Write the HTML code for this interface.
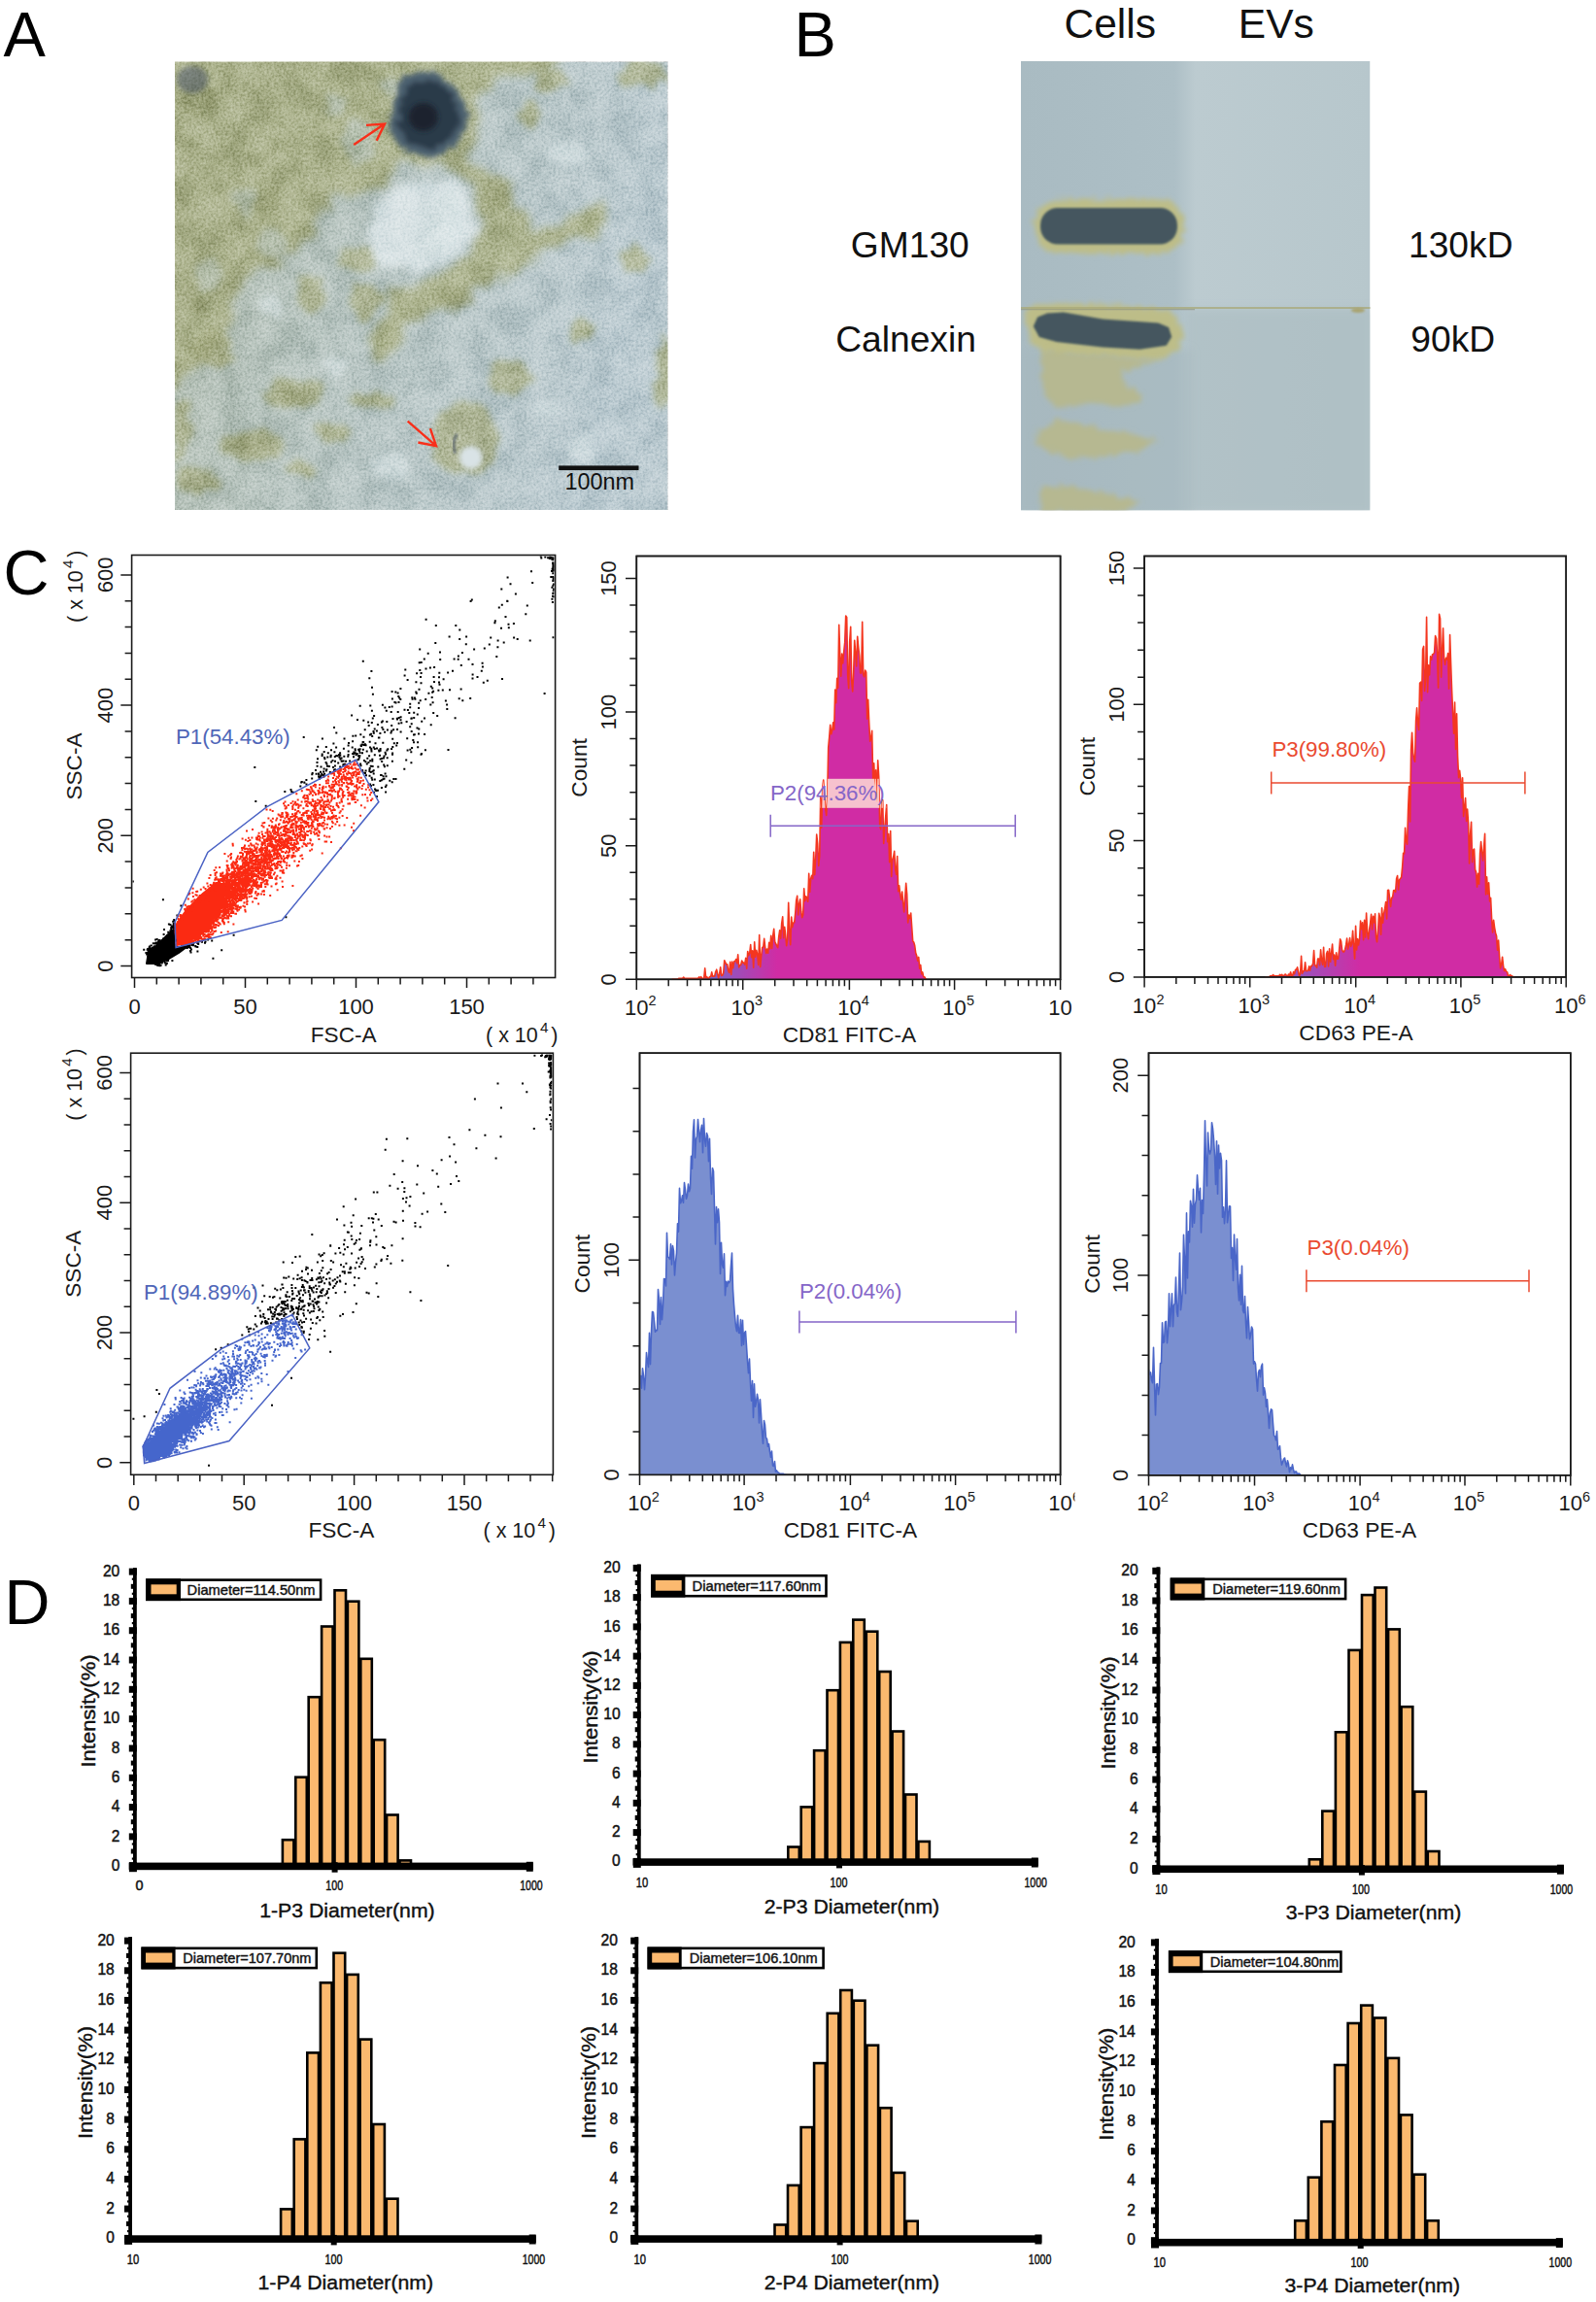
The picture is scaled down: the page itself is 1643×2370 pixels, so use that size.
<!DOCTYPE html>
<html lang="en"><head><meta charset="utf-8"><title>Figure</title>
<style>
html,body{margin:0;padding:0;background:#fff;}
svg{display:block;font-family:"Liberation Sans", Arial, Helvetica, sans-serif;}
</style></head>
<body>
<svg width="1643" height="2370" viewBox="0 0 1643 2370">
<defs>
<clipPath id="ca"><rect x="180" y="63.5" width="507.5" height="461.5"/></clipPath>
<filter id="b9" x="-20%" y="-20%" width="140%" height="140%"><feGaussianBlur stdDeviation="7"/></filter>
<filter id="b5" x="-20%" y="-20%" width="140%" height="140%"><feGaussianBlur stdDeviation="4.5"/></filter>
<filter id="b3" x="-20%" y="-20%" width="140%" height="140%"><feGaussianBlur stdDeviation="2.6"/></filter>
<filter id="b1" x="-20%" y="-20%" width="140%" height="140%"><feGaussianBlur stdDeviation="1.2"/></filter>
<filter id="d9" x="-10%" y="-10%" width="120%" height="120%"><feTurbulence type="fractalNoise" baseFrequency="0.045" numOctaves="3" seed="3" result="t"/><feDisplacementMap in="SourceGraphic" in2="t" scale="30" xChannelSelector="R" yChannelSelector="G" result="d"/><feGaussianBlur in="d" stdDeviation="4.2"/></filter>
<filter id="d5" x="-20%" y="-20%" width="140%" height="140%"><feTurbulence type="fractalNoise" baseFrequency="0.06" numOctaves="3" seed="8" result="t"/><feDisplacementMap in="SourceGraphic" in2="t" scale="20" xChannelSelector="G" yChannelSelector="R" result="d"/><feGaussianBlur in="d" stdDeviation="3.4"/></filter>
<filter id="d3" x="-20%" y="-20%" width="140%" height="140%"><feTurbulence type="fractalNoise" baseFrequency="0.2" numOctaves="2" seed="5" result="t"/><feDisplacementMap in="SourceGraphic" in2="t" scale="12" xChannelSelector="R" yChannelSelector="G" result="d"/><feGaussianBlur in="d" stdDeviation="2.4"/></filter>
<filter id="b14" x="-30%" y="-30%" width="160%" height="160%"><feGaussianBlur stdDeviation="12"/></filter>
<filter id="nz" x="0" y="0" width="100%" height="100%" color-interpolation-filters="sRGB"><feTurbulence type="fractalNoise" baseFrequency="0.4" numOctaves="2" seed="4" result="t"/><feColorMatrix in="t" type="matrix" values="1.6 0 0 0 -0.32  1.6 0 0 0 -0.32  1.6 0 0 0 -0.32  0 0 0 0 1"/></filter>
<filter id="nz2" x="0" y="0" width="100%" height="100%" color-interpolation-filters="sRGB"><feTurbulence type="fractalNoise" baseFrequency="0.035" numOctaves="3" seed="9" result="t"/><feColorMatrix in="t" type="matrix" values="2.2 0 0 0 -0.62  2.2 0 0 0 -0.62  2.2 0 0 0 -0.62  0 0 0 0 1"/></filter>
<linearGradient id="gw" x1="0" y1="0" x2="1" y2="0.25"><stop offset="0" stop-color="#a9ae86" stop-opacity="0.42"/><stop offset="0.55" stop-color="#a9ae86" stop-opacity="0.16"/><stop offset="1" stop-color="#a9ae86" stop-opacity="0"/></linearGradient>
<clipPath id="cb"><rect x="1051" y="63" width="359.5" height="462.5"/></clipPath>
<linearGradient id="gb" x1="0" y1="0" x2="1" y2="0"><stop offset="0" stop-color="#a9bbc2"/><stop offset="0.44" stop-color="#adbfc6"/><stop offset="0.5" stop-color="#bccbd0"/><stop offset="1" stop-color="#b7c7cc"/></linearGradient>
<clipPath id="cs1"><rect x="136.6" y="572.5" width="434" height="433"/></clipPath>
<clipPath id="cs4"><rect x="135.6" y="1085.2" width="432.8" height="432.1"/></clipPath>
<clipPath id="cl2"><rect x="600" y="1010" width="503.5" height="50"/></clipPath>
<clipPath id="ch2"><rect x="656.1" y="572.5" width="434.7" height="435.8"/></clipPath>
<linearGradient id="g2" gradientUnits="userSpaceOnUse" x1="730" y1="0" x2="800" y2="0"><stop offset="0" stop-color="#7d62c6"/><stop offset="1" stop-color="#d02ca4"/></linearGradient>
<clipPath id="ch2h"><path d="M691.7 1008.3L691.7 1008.3L692.7 1008.3L693.7 1008.3L694.7 1008.3L695.7 1008.3L696.7 1008.3L697.7 1008.3L698.7 1007.2L699.7 1007.2L700.7 1007.2L701.7 1007.2L702.7 1007.2L703.7 1006L704.7 1007.2L705.7 1007.2L706.7 1007.2L707.7 1007.2L708.7 1007.2L709.7 1007.2L710.7 1007.2L711.7 1007.2L712.7 1007.2L713.7 1007.2L714.7 1007.2L715.7 1007.2L716.7 1007.2L717.7 1007.2L718.7 1007.2L719.7 1005.8L720.7 1007.2L721.7 1005.7L722.7 1007.2L723.7 1007.2L724.7 1007.2L725.7 996.9L726.7 1007.2L727.7 1005.6L728.7 1007.2L729.7 1007.2L730.7 1005.5L731.7 1005.4L732.7 1000.9L733.7 1005.2L734.7 1005.1L735.7 1005L736.7 1000.5L737.7 998.2L738.7 1002.5L739.7 1006.9L740.7 1002.4L741.7 995.7L742.7 1004.4L743.7 1004.3L744.7 1002L745.7 988.7L746.7 990.8L747.7 992.9L748.7 992.8L749.7 999.3L750.7 1001.4L751.7 990.3L752.7 1003.4L753.7 990.1L754.7 996.6L755.7 989.9L756.7 989.8L757.7 987.5L758.7 991.8L759.7 982.8L760.7 995.9L761.7 993.6L762.7 993.5L763.7 989L764.7 991.1L765.7 991L766.7 993.1L767.7 986.3L768.7 997.2L769.7 979.5L770.7 983.8L771.7 981.4L772.7 972.5L773.7 985.6L774.7 978.8L775.7 996.3L776.7 969.8L777.7 985.1L778.7 978.3L779.7 982.6L780.7 993.5L781.7 962.5L782.7 995.4L783.7 984.3L784.7 975.4L785.7 975.3L786.7 966.4L787.7 975.1L788.7 981.5L789.7 977L790.7 981.3L791.7 970.2L792.7 976.7L793.7 963.4L794.7 976.5L795.7 963.2L796.7 956.4L797.7 969.5L798.7 971.6L799.7 973.7L800.7 975.7L801.7 964.5L802.7 957.7L803.7 966.2L804.7 950.6L805.7 943.8L806.7 965.6L807.7 954.3L808.7 962.9L809.7 973.7L810.7 966.9L811.7 929.2L812.7 957.6L813.7 972.8L814.7 944L815.7 954.7L816.7 950.1L817.7 949.8L818.7 940.7L819.7 927.1L820.7 922.4L821.7 941.9L822.7 930.5L823.7 925.8L824.7 938.5L825.7 944.6L826.7 941.9L827.7 914.9L828.7 927.7L829.7 922.7L830.7 924.4L831.7 928.3L832.7 899.2L833.7 918.5L834.7 904.4L835.7 901.2L836.7 904.7L837.7 877.3L838.7 900.6L839.7 884.2L840.7 859L841.7 868.6L842.7 891.5L843.7 881.3L844.7 820.5L845.7 852.2L846.7 811.2L847.7 803.1L848.7 818.9L849.7 832.4L850.7 839.4L851.7 820L852.7 769.7L853.7 759L854.7 746.4L855.7 755.8L856.7 752.1L857.7 743.9L858.7 751.1L859.7 710L860.7 723.8L861.7 698.4L862.7 708.3L863.7 643.3L864.7 673L865.7 696.1L866.7 673L867.7 682.9L868.7 671L869.7 661.4L870.7 634.1L871.7 635.4L872.7 695.1L873.7 708.6L874.7 660.5L875.7 645.3L876.7 700.7L877.7 712L878.7 692.3L879.7 659.3L880.7 672.6L881.7 685.9L882.7 655.2L883.7 666.3L884.7 675.2L885.7 692.9L886.7 693L887.7 640.2L888.7 694.7L889.7 696.8L890.7 690.1L891.7 692.1L892.7 740.3L893.7 720.3L894.7 744.2L895.7 763.1L896.7 760L897.7 752.4L898.7 802.1L899.7 785.8L900.7 809L901.7 792.8L902.7 825.2L903.7 782.9L904.7 799.9L905.7 850L906.7 853.8L907.7 824.7L908.7 823.7L909.7 868.4L910.7 853.6L911.7 841.1L912.7 828.6L913.7 866.7L914.7 858.5L915.7 887.8L916.7 855.5L917.7 902.4L918.7 885.5L919.7 882.1L920.7 876.4L921.7 895L922.7 900.4L923.7 881.5L924.7 917.7L925.7 911.8L926.7 921.2L927.7 926.2L928.7 918L929.7 929.5L930.7 938.9L931.7 924.1L932.7 909.2L933.7 920.8L934.7 950L935.7 942L936.7 945.5L937.7 940.1L938.7 954.5L939.7 968.9L940.7 970.1L941.7 973.5L942.7 981L943.7 984L944.7 989.1L945.7 985.4L946.7 997.1L947.7 993.4L948.7 1002.8L949.7 1000.9L950.7 1005.6L951.7 1005.8L952.7 1007.2L953.7 1008.3L953.7 1008.3Z"/></clipPath>
<clipPath id="ch3"><rect x="1178.9" y="572.5" width="432.5" height="433.4"/></clipPath>
<linearGradient id="g3" gradientUnits="userSpaceOnUse" x1="1340" y1="0" x2="1400" y2="0"><stop offset="0" stop-color="#9a52bc"/><stop offset="1" stop-color="#d02ca4"/></linearGradient>
<clipPath id="cl5"><rect x="600" y="1520" width="506.5" height="50"/></clipPath>
<clipPath id="ch5"><rect x="659.3" y="1084.2" width="431.5" height="434.1"/></clipPath>
<clipPath id="ch6"><rect x="1183.3" y="1084.2" width="432.7" height="434.6"/></clipPath>
</defs>
<rect width="1643" height="2370" fill="#fff"/>
<g clip-path="url(#ca)">
<rect x="180" y="63.5" width="507.5" height="461.5" fill="#bdccd2"/>
<g filter="url(#d9)" fill="#adb38b" opacity="0.9">
<polygon points="156.7,36.7 588.5,36.7 568.5,73.2 505.4,81.6 490.5,116.4 487.2,159.6 503.8,177.9 523.7,191.1 533.7,211.1 543.6,236 570.2,227.7 613.4,207.8 626.7,216.1 616.7,236 570.2,257.6 530.3,279.2 490.5,297.4 463.9,317.4 424.1,327.3 410.8,350.6 399.2,368.8 382.6,348.9 390.9,330.6 404.1,304.1 437.4,289.1 470.6,275.8 487.2,255.9 493.8,229.3 489.5,196.1 468.9,175.5 429.1,168.2 395.8,182.2 369.3,196.1 342.7,206.1 329.4,222.7 316.1,249.3 279.6,269.2 253,289.1 233.1,312.4 236.4,338.9 219.8,368.8 196.6,385.4 183.3,402 156.7,412"/>
</g>
<g filter="url(#d5)" fill="#adb38b" opacity="0.8">
<ellipse cx="219.8" cy="358.9" rx="21.6" ry="19.9"/>
<ellipse cx="302.8" cy="405.4" rx="33.2" ry="14.9"/>
<ellipse cx="259.7" cy="458.5" rx="34.9" ry="16.6"/>
<ellipse cx="203.2" cy="495" rx="23.2" ry="14.9"/>
<ellipse cx="186.6" cy="441.9" rx="10" ry="29.9"/>
<ellipse cx="375.9" cy="309.1" rx="16.6" ry="19.9"/>
<ellipse cx="525.4" cy="388.8" rx="20.6" ry="20.6"/>
<ellipse cx="568.5" cy="83.2" rx="14.9" ry="11.6"/>
<ellipse cx="545.3" cy="118.1" rx="11.6" ry="14.9"/>
<ellipse cx="661.5" cy="76.6" rx="23.2" ry="13.3"/>
<ellipse cx="654.9" cy="265.9" rx="13.3" ry="13.3"/>
<ellipse cx="686.4" cy="382.1" rx="11.6" ry="36.5"/>
<ellipse cx="478.9" cy="451.9" rx="34.9" ry="38.2"/>
<ellipse cx="382.6" cy="412" rx="23.2" ry="8.3"/>
<ellipse cx="342.7" cy="445.2" rx="16.6" ry="10"/>
<ellipse cx="598.4" cy="338.9" rx="10" ry="10"/>
<ellipse cx="309.5" cy="481.8" rx="16.6" ry="10"/>
<ellipse cx="369.3" cy="265.9" rx="19.9" ry="10"/>
<ellipse cx="319.5" cy="302.4" rx="13.3" ry="19.9"/>
</g>
<g filter="url(#d5)" fill="#bdccd2" fill-opacity="0.6">
<ellipse cx="369.3" cy="146.3" rx="14.9" ry="24.9"/>
<ellipse cx="342.7" cy="109.8" rx="10" ry="13.3"/>
<ellipse cx="279.6" cy="249.3" rx="16.6" ry="13.3"/>
<ellipse cx="253" cy="206.1" rx="11.6" ry="14.9"/>
<ellipse cx="402.5" cy="89.9" rx="8.3" ry="10"/>
<ellipse cx="213.2" cy="282.5" rx="13.3" ry="16.6"/>
</g>
<g filter="url(#d5)" fill="#8f9568" fill-opacity="0.5">
<ellipse cx="219.8" cy="358.9" rx="14.9" ry="13.3"/>
<ellipse cx="199.9" cy="309.1" rx="13.3" ry="16.6"/>
<ellipse cx="279.6" cy="209.4" rx="16.6" ry="11.6"/>
<ellipse cx="302.8" cy="407" rx="16.6" ry="8.3"/>
<ellipse cx="256.4" cy="458.5" rx="16.6" ry="8.3"/>
<ellipse cx="512.1" cy="199.5" rx="13.3" ry="16.6"/>
<ellipse cx="468.9" cy="305.7" rx="23.2" ry="10"/>
<ellipse cx="203.2" cy="99.8" rx="19.9" ry="19.9"/>
</g>
<rect x="180" y="63.5" width="507.5" height="461.5" fill="url(#gw)"/>
<g filter="url(#d9)" fill="#dbe5e8" fill-opacity="0.9">
<polygon points="382.6,222.7 402.5,192.8 435.7,182.8 468.9,189.5 485.5,209.4 483.8,242.6 468.9,265.9 435.7,279.2 402.5,275.8 379.2,255.9"/>
</g>
<g filter="url(#d5)" fill="#dbe5e8" fill-opacity="0.55">
<ellipse cx="346" cy="378.8" rx="13.3" ry="10"/>
<ellipse cx="598.4" cy="461.8" rx="13.3" ry="13.3"/>
<ellipse cx="561.9" cy="422" rx="13.3" ry="10"/>
<ellipse cx="402.5" cy="481.8" rx="19.9" ry="13.3"/>
<ellipse cx="279.6" cy="315.7" rx="13.3" ry="13.3"/>
<ellipse cx="585.1" cy="159.6" rx="19.9" ry="13.3"/>
</g>
<rect x="180" y="63.5" width="507.5" height="461.5" filter="url(#nz)" style="mix-blend-mode:soft-light" opacity="0.5"/>
<rect x="180" y="63.5" width="507.5" height="461.5" filter="url(#nz2)" style="mix-blend-mode:soft-light" opacity="0.26"/>
<ellipse cx="484.8" cy="471.1" rx="12" ry="12" fill="#d9e3e6" filter="url(#b3)"/>
<path d="M470.6 446.9 q-6 8 -2 20" fill="none" stroke="#4a5560" stroke-width="3" stroke-opacity="0.7" filter="url(#b1)"/>
<g filter="url(#d3)">
<polygon points="414.1,78.2 445.7,72.6 470.6,91.5 482.9,121.4 470.6,148 445.7,163.6 415.8,154.6 400.8,133 406.5,99.8" fill="#4c6070"/>
<polygon points="419.1,86.5 445.7,81.6 465.6,96.5 473.9,121.4 463.9,143 444,154.6 419.1,147 409.1,129.7 413.4,103.1" fill="#2b3a48"/>
</g>
<ellipse cx="435.7" cy="120.4" rx="15" ry="14.5" fill="#1b242e" filter="url(#b3)"/>
<g filter="url(#b3)" fill="#4a5868" fill-opacity="0.55"><ellipse cx="198" cy="82" rx="16" ry="14"/></g>
</g>
<path d="M364.2 149.1L396 127.6M387.7 144.7L396 127.6L377 128.9" fill="none" stroke="#f82f1a" stroke-width="2.4" stroke-linejoin="miter"/>
<path d="M419.7 433.6L449 459.2M430.4 455.5L449 459.2L442.9 441.2" fill="none" stroke="#f82f1a" stroke-width="2.4" stroke-linejoin="miter"/>
<rect x="575.2" y="479.4" width="82.3" height="4.7" fill="#111"/>
<text x="617.3" y="503.8" font-size="23.4" text-anchor="middle" fill="#111">100nm</text>
<text x="3.5" y="58" font-size="65" text-anchor="start" fill="#000">A</text>
<g clip-path="url(#cb)">
<rect x="1051" y="63" width="359.5" height="462.5" fill="url(#gb)"/>
<rect x="1222" y="318" width="190" height="210" fill="#a7b9c0" fill-opacity="0.55" filter="url(#b5)"/>
<rect x="1051" y="360" width="175" height="170" fill="#a3b5bd" fill-opacity="0.45" filter="url(#b5)"/>
<g filter="url(#d3)" fill="#bdbd88">
<rect x="1065" y="205" width="154" height="56" rx="26"/>
<polygon points="1054.3,322.9 1066.2,311.4 1135.2,313.3 1204.3,319.3 1217.4,337.1 1215,358.6 1192.4,370.5 1135.2,368.1 1075.7,364.5 1060.2,351.4"/>
</g>
<g filter="url(#d3)" fill="#b7b88c" fill-opacity="0.9">
<polygon points="1073.3,361 1192.4,370.5 1173.3,377.6 1154.3,382.4 1159,394.3 1173.3,406.2 1175.7,414.5 1159,418.1 1118.6,415.7 1087.6,420.5 1075.7,408.6 1071,384.8"/>
<polygon points="1063.8,449 1087.6,432.4 1111.4,437.1 1154.3,444.3 1194.8,453.8 1173.3,464.5 1135.2,470.5 1099.5,471.7 1075.7,463.3"/>
<polygon points="1071,501.4 1101.9,500.2 1140,508.6 1173.3,515.7 1159,527.6 1071,527.6"/>
</g>
<path d="M1051 317H1411" stroke="#a9a878" stroke-width="1.6" fill="none"/>
<path d="M1051 318.6H1230" stroke="#8c9078" stroke-width="1.2" stroke-opacity="0.6" fill="none"/>
<ellipse cx="1398" cy="319.5" rx="7" ry="2.6" fill="#a9a472" filter="url(#b1)"/>
<g filter="url(#b1)" fill="#45565e">
<rect x="1071" y="214" width="141" height="37.5" rx="18"/>
<polygon points="1063.8,336 1068.1,326.4 1078.1,322.4 1094.8,321.4 1135.2,328.6 1192.4,332.4 1203.1,337.1 1206.2,346.7 1200.7,355.7 1173.3,359.8 1135.2,357.4 1087.6,351.9 1069.8,347.1"/>
</g>
</g>
<text x="1142.7" y="38.8" font-size="42.5" text-anchor="middle" fill="#111">Cells</text>
<text x="1313.8" y="38.8" font-size="42.5" text-anchor="middle" fill="#111">EVs</text>
<text x="875.8" y="265" font-size="37.2" text-anchor="start" fill="#111">GM130</text>
<text x="860.2" y="361.6" font-size="37.2" text-anchor="start" fill="#111">Calnexin</text>
<text x="1450" y="265" font-size="37.2" text-anchor="start" fill="#111">130kD</text>
<text x="1452.3" y="361.6" font-size="37.2" text-anchor="start" fill="#111">90kD</text>
<text x="817.5" y="58" font-size="65" text-anchor="start" fill="#000">B</text>
<rect x="135.6" y="571.5" width="436" height="435" fill="#fff" stroke="#1a1a1a" stroke-width="1.6"/>
<g clip-path="url(#cs1)">
<path d="M151 992 L152 986 L161 974 L172 963 L181 957 L181 975 L192 975 L184 981 L174 987 L162 992 Z" fill="#000" stroke="#000" stroke-width="2" stroke-linejoin="round"/>
<path d="M181.5 974 L181.5 950 L190 938 L205 922 L222 908 L236 910 L230 928 L215 948 L200 964 L188 973 Z" fill="#fb2a12"/>
<path d="M159 982.4h0M155.3 981.2h0M159.7 978.5h0M169.5 974h0M168.1 979.3h0M165.5 978h0M161.9 983.5h0M167.2 979h0M169.6 987.1h0M173.6 965.6h0M158.1 975.2h0M163.2 982.5h0M163.8 993.4h0M169.5 973.5h0M163.1 986h0M156.1 986.5h0M168.7 980.9h0M159.4 987.7h0M173.8 969.9h0M170.7 978.2h0M164.5 985.3h0M154.3 984.9h0M155.1 985.9h0M168.9 984.6h0M157.2 981h0M164 981.7h0M160.8 976.7h0M161.5 991h0M164.2 976.8h0M159.7 979.6h0M173.1 974.4h0M164.1 986.6h0M155.2 986.4h0M161.3 983.9h0M162.2 988.7h0M160.1 982h0M160 988.2h0M168.8 986.5h0M170.6 967.1h0M165.1 980h0M166.5 975.7h0M160.9 981.8h0M158.4 989.2h0M162 975.8h0M161.3 988h0M158.1 980h0M168.7 968.1h0M167.1 979.1h0M166.5 976.6h0M161.9 987h0M160.7 980.1h0M159.1 981.4h0M161.6 985.1h0M163.6 977.7h0M159 988.5h0M172.2 969h0M164.6 981.7h0M172.5 963h0M167 990.3h0M175.7 979.6h0M167.1 978.8h0M167 985.6h0M160.3 983.3h0M165.6 988.3h0M160.2 986.4h0M162.7 982.3h0M165.9 974.3h0M168.2 973.7h0M169.3 984.8h0M162.6 987.2h0M162.8 985.3h0M159 982.9h0M166 982.4h0M164.1 981.9h0M160.4 989.4h0M161.4 986.7h0M164.4 977.1h0M155.9 984.5h0M157.1 980.9h0M162.2 983.8h0M151.7 977.8h0M164 982.7h0M156.3 987.1h0M169.1 972.4h0M180.2 970.8h0M158.4 988.4h0M166.7 975.5h0M156.9 983.7h0M163.6 977.4h0M179.6 966.7h0M164.1 977.1h0M171 973.9h0M158.3 985.9h0M160 986h0M165.5 985.3h0M167.4 973.1h0M168.8 974.3h0M159.6 971.4h0M160.7 984.2h0M166.8 981h0M168 985.5h0M156.5 987.5h0M166.9 988.4h0M173.9 976.3h0M164.9 980.5h0M162.3 987.9h0M156.4 987.6h0M168.9 979.6h0M171.2 977.1h0M165.9 983.1h0M161.7 991.2h0M156.2 985.2h0M158.9 974.2h0M164.8 972.8h0M160.8 988.8h0M157.7 979.7h0M165.4 978.4h0M164.2 988.5h0M159.9 984.3h0M164.5 982.9h0M162 978.9h0M179.7 969.6h0M167.6 988.7h0M161.4 982.6h0M160.8 988.2h0M161.7 980.3h0M162.4 981.8h0M163.2 983.4h0M159.5 983.3h0M165.5 979.5h0M176.7 978.5h0M155.9 979.8h0M164.8 980.3h0M168.5 968.2h0M162 980.7h0M176.8 976.4h0M161.1 985.5h0M163.1 983.7h0M158.4 979.7h0M162.7 980.9h0M169.4 974.7h0M160.5 983.9h0M159.9 987.1h0M175.7 976.1h0M166.3 974.2h0M155.6 986.3h0M167.7 982h0M174.4 970.5h0M165 983.1h0M158.4 982.1h0M168.9 979.5h0M161.6 974.3h0M165.8 991.2h0M155.5 979.7h0M161 984h0M161.3 985.7h0M160.4 992.1h0M155.9 986.6h0M163 984.2h0M171.3 984.4h0M157.8 985.6h0M166.4 979.1h0M164.1 983.3h0M163.5 986.5h0M171.3 975.7h0M176.1 963.8h0M163 981.8h0M168.7 983.7h0M156.1 976.8h0M167 973h0M160.8 981.2h0M159.4 988h0M164.5 994.2h0M165 989.9h0M165.5 993.9h0M158 984.4h0M161.3 985.9h0M164.9 990.6h0M162.5 977.8h0M157.7 984.4h0M153.1 981.2h0M162.6 992.9h0M168.9 970.7h0M158 979.5h0M164.6 980.8h0M163.3 978.3h0M156.7 986.2h0M163.3 983.2h0M162.1 982.3h0M163.3 992.7h0M161.3 986.1h0M161 974.7h0M170.9 979.5h0M180.3 964.4h0M164.2 983.9h0M166.9 984.9h0M156.7 977.7h0M159.8 985.6h0M164 974.9h0M169.2 974h0M158.6 983.5h0M161.8 987.7h0M162.6 986.8h0M158.1 990h0M163.7 981.2h0M176.5 965.5h0M160.4 979.5h0M154.7 983h0M169.3 988.4h0M164.4 976.4h0M162.2 984.2h0M156.8 983.7h0M164.2 983.8h0M159.8 980.5h0M162.3 979.3h0M168.1 976.5h0M159.9 986.4h0M159.5 981.2h0M159.9 978.4h0M161.3 974.1h0M162.7 982.2h0M170.7 979.1h0M166.3 983.5h0M159.6 989.8h0M174 972.6h0M157.7 982.9h0M171.6 976.5h0M172.4 971.5h0M154.4 980.6h0M155.1 984.9h0M156.5 979.1h0M164.6 989.1h0M165.7 978.5h0M159.6 992.3h0M165.3 980.7h0M159 984.5h0M157.5 987.2h0M169 988h0M160.6 986h0M170.5 976.8h0M165.5 978.4h0M158.1 984h0M166.2 981.3h0M156.6 979.4h0M158 984.2h0M171.9 980.3h0M161.4 974.9h0M161.6 986.1h0M156.1 983.3h0M161.3 981.3h0M160.4 985.8h0M175.9 962h0M152.1 984.8h0M163.7 982.5h0M160.8 983.1h0M161.1 970.4h0M166.4 969.9h0M165.4 983.2h0M159.4 980.7h0M162.4 987h0M168.5 985.1h0M167.7 969.2h0M155.3 983.6h0M174.8 978.4h0M170.7 977.2h0M165.9 988.9h0M161.8 986.6h0M163.5 985.6h0M162.3 979.4h0M162.4 987h0M165.4 974.1h0M152.8 982.2h0M165.6 975h0M156.7 985.5h0M159.4 975.1h0M173 967.7h0M153.2 984.3h0M159.6 985.9h0M168.6 981.3h0M152.9 981.7h0M165 980.3h0M156.6 983h0M155.1 985.8h0M177.6 970.7h0M164.6 986h0M158.8 986.4h0M160 982.2h0M164.9 990.5h0M160.9 986.7h0M168.5 967.3h0M161.1 984.7h0M170.6 982.9h0M164.8 980.7h0M165.3 982.1h0M160.2 988.4h0M154.6 982h0M166.6 988.7h0M169.4 975.1h0M152.5 983.6h0M168.9 983.8h0M165.1 978.5h0M163.2 984h0M155.5 973.6h0M160.6 986.8h0M169.7 981.3h0M159.8 991.1h0M164.6 968.2h0M158.4 983.3h0M165.8 978.8h0M166.4 972.4h0M172.4 983.5h0M161.4 979.3h0M176 975.4h0M168 978.3h0M173.6 973.3h0M161.1 981.2h0M166.9 990.6h0M169.6 969.6h0M161.7 977h0M179.5 971.4h0M177.4 988.9h0M165.4 987.9h0M167.4 976.2h0M165 976.7h0M164 978.9h0M164.4 983h0M155.3 983.3h0M165.4 978.6h0M159.9 988.1h0M161.5 983.3h0M179.6 971.4h0M157.9 979.1h0M167.6 973.1h0M158.4 981.7h0M164.8 985h0M158.7 978.4h0M168.6 977.9h0M170.6 978.7h0M159.7 989h0M166.1 977.9h0M166.4 976.5h0M159.7 988.7h0M173.9 970.4h0M170.8 972.1h0M157.6 978h0M154.2 978.4h0M157.1 986.4h0M163.3 979.6h0M171 977.8h0M164.3 987.7h0M167.6 979.2h0M168.3 979.2h0M163.3 983.7h0M165.3 989.7h0M166.1 982.9h0M168.6 978.2h0M160.2 984.7h0M160.7 988.7h0M155.4 983h0M160.3 981.8h0M155.2 983.9h0M157.5 982.7h0M162.5 992.2h0M168.5 983.7h0M167.5 985.6h0M164.4 982.7h0M156.8 984.2h0M158.3 983.4h0M154.1 981.4h0M153.2 978h0M156.8 989.7h0M160.7 980.1h0M165.6 976.4h0M164 988.8h0M162.9 986h0M163.7 983.8h0M155.5 982.3h0M166.4 980.7h0M158.1 981.7h0M168.3 970.6h0M153.3 983.8h0M168.8 973.6h0M172.7 984.5h0M158.7 975.3h0M171.3 970.7h0M170.3 971h0M159.3 982.7h0M158.5 987.5h0M156.3 987.3h0M156.9 980.5h0M168.4 975.4h0M155.6 984.2h0M163.4 983.2h0M161.1 989.7h0M165.8 974.4h0M160 985.6h0M167.5 971.4h0M167.8 974.9h0M167.5 976h0M166.7 983.8h0M173.1 979.6h0M159.3 985.7h0M163.8 977.6h0M168.6 985.6h0M154.9 982.1h0M171.3 967h0M164.1 987.9h0M177.4 971.2h0M170.6 986.3h0M164.5 980.6h0M173.9 966.8h0M162.6 982h0M167.4 984.1h0M159 980.7h0M160.1 989.7h0M172 980.4h0M166.4 982.5h0M166.8 972.9h0M167 985.2h0M158.4 984.7h0M160.4 985.8h0M157.9 987.9h0M165.3 989.2h0M164 977.3h0M166.2 981.5h0M162.3 985.1h0M162.6 984.7h0M158.3 982.1h0M157.4 980.3h0M169.4 976.8h0M162 991.8h0M165.3 978.8h0M164.6 987.7h0M157.7 983.8h0M163.8 984h0M163.4 983.8h0M162.9 979h0M158 983.6h0M166.7 974.6h0M160.6 980.8h0M164.5 973.4h0M160.3 992h0M169.1 976.4h0M164.7 983.5h0M155.8 981.3h0M164.4 982h0M157.7 982.8h0M157.9 978.9h0M165.3 983.8h0M176.7 969.3h0M161.9 972.2h0M157.8 983.4h0M160.4 979.2h0M171.1 965.2h0M162 971.7h0M175.3 960.3h0M173.6 968.6h0M163.4 987h0M171.4 986.1h0M166.2 976.2h0M161.5 978.1h0M167.8 972.2h0M167 978.1h0M158.5 977.5h0M152.2 977h0M162.9 988.3h0M161.2 985.5h0M156.8 983.6h0M166.9 989h0M163.6 978.6h0M158.1 984.1h0M169.5 982.8h0M159.1 974.5h0M162.7 991.1h0M161 986.5h0M150.4 981h0M165 977.7h0M156.8 982.5h0M171.2 981.1h0M172.2 972.3h0M160.9 988.4h0M163.7 986.2h0M162.2 986.2h0M164.7 973.1h0M166.7 975.6h0M157.6 987.3h0M165.5 981h0M162.1 982.7h0M169.7 977.8h0M153.4 981.9h0M160.5 982.5h0M162.1 970.7h0M158.3 983.8h0M165.1 990h0M166.5 980.2h0M163.9 980.6h0M165.5 985.7h0M164 989.6h0M177.5 967.8h0M163.9 967.9h0M159.6 983.9h0M166 984.5h0M170 973.6h0M168.9 972.2h0M161.1 974.3h0M162.2 982.4h0M176.7 965.2h0M158.8 982.8h0M162.8 980.8h0M157.4 980.9h0M166.6 975.4h0M162.5 986.7h0M162.6 971.1h0M172 974.2h0M167.6 977.5h0M160.7 988.8h0M164.3 987.1h0M157.1 982.8h0M160.4 979.9h0M155.9 984.3h0M158.5 985.4h0M166.3 984.6h0M168.6 972.2h0M174.4 978.1h0M166.3 988.5h0M160.5 983.2h0M173.1 970.3h0M177.6 971h0M166.9 987.9h0M159.2 982.2h0M163 988h0M165.4 983.8h0M167.2 979h0M165.6 989.1h0M168.1 974.9h0M163.7 990.4h0M167.4 976.3h0M180.2 974.4h0M166 979.6h0M159.4 984.9h0M162.9 983h0M157.6 980.3h0M169.1 980.6h0M177.3 976.5h0M170.3 977.1h0M165.8 979.5h0M161 984h0M156.1 978.7h0M165.6 982.6h0M179.8 970.7h0M167 977.7h0M168.8 977.4h0M164.2 989.9h0M155 978.3h0M155 984h0M154.5 978.3h0M165.3 983.4h0M161.2 980.9h0M160.7 989.4h0M166.6 977.7h0M158.9 986h0M172.2 980.9h0M165.8 984.2h0M159 982.5h0M166.3 987.6h0M168.6 978.2h0M161.8 984.6h0M165.2 977.5h0M166.8 968.5h0M171.9 966.5h0M158.4 981.4h0M172.1 974h0M167 985.5h0M157.5 987.6h0M159.4 986.5h0M152.2 980.8h0M157.4 984.5h0M162 984.2h0M155.1 984.8h0M165.3 971h0M164.6 981.9h0M175.1 973.2h0M172.7 963.6h0M176.6 972.4h0M174.2 968.2h0M177 971.4h0M159.7 980.8h0M166.1 984.3h0M163.2 983.6h0M166.7 971h0M169.7 981.6h0M158.1 975.7h0M157.1 984.8h0M169.3 989.6h0M173.2 982.4h0M169.2 975.7h0M159.8 988.5h0M156.6 983.2h0M170 985.1h0M161.9 977.9h0M166.9 981.6h0M162.8 986.5h0M164.5 980.4h0M170.2 972.3h0M159.9 984.6h0M162.7 984.4h0M174.1 974.2h0M158.5 978.3h0M174.4 972.1h0M169.5 973.8h0M162.9 983.5h0M166.5 983.6h0M164 979.8h0M163.3 983.3h0M160.9 982h0M166.5 983.1h0M160.3 989.5h0M157.6 987.5h0M164.1 989.2h0M161.8 983.3h0M159.9 985h0M169.6 984.5h0M161.9 987.4h0M163.5 974h0M148.2 977.8h0M166.6 991h0M164.2 992.6h0M169 957h0M156 985.9h0M159 977.5h0M166.4 979.9h0M156.4 988.3h0M172.5 973.8h0M169.5 978.3h0M161.1 989.5h0M154.3 979.1h0M160.3 970.8h0M157.8 985.1h0M165.4 982h0M162 986.1h0M159.6 980.3h0M162.7 990.5h0M157.4 977.5h0M160.5 977.5h0M166.9 984.8h0M168.5 981.8h0M171.5 975.3h0M164 988.7h0M165.5 985h0M168.8 972.2h0M160.9 986.4h0M159.3 986.3h0M160 978.7h0M160.3 982.3h0M159 988.1h0M162.3 976h0M160.7 977.8h0M171.4 978.8h0M161 984.3h0M162.1 980h0M175.3 962.4h0M171.3 966.7h0M173.1 977.9h0M173.5 975.8h0M162.4 979h0M158.9 984.2h0M172.5 967.1h0M158.5 981.7h0M174.4 961.4h0M163 982.4h0M165.6 978.1h0M169.4 975.9h0M159.4 980.6h0M170.1 978.4h0M153.1 979.2h0M164.3 977.1h0M157.5 981.3h0M167.2 975.5h0M162.6 973.8h0M162.9 985.7h0M163.1 981.3h0M170.8 973.7h0M166.7 982h0M167.7 982.5h0M165.2 978h0M160.8 988h0M162.3 984.7h0M160.4 982.5h0M157.9 986.8h0M160.8 978.5h0M174.3 966.6h0M160.7 991.7h0M166.2 989.1h0M158.9 987h0M159.4 984.4h0M158.9 981.3h0M173.4 982.2h0M157.4 979.8h0M154.1 976.4h0M166.5 977.7h0M167.7 989.1h0M163.3 983.2h0M160.1 989.4h0M167.9 984.5h0M157.4 984h0M161.2 976h0M162.9 984h0M159.2 989.9h0M160.8 986h0M180.5 979.5h0M171 966.5h0M161.3 981.8h0M174.1 966.5h0M161.2 988.2h0M159.3 987.5h0M166.2 979.5h0M167.9 979.4h0M162.8 981.7h0M159.7 981.9h0M159.7 983.5h0M159.4 989.2h0M169.7 977.3h0M171.8 976.6h0M163 985.1h0M156 984.4h0M162.2 980.6h0M155.9 986.1h0M159.2 987.6h0M174.3 973.8h0M170 980.8h0M166.3 988.4h0M161 987.5h0M160.9 981.6h0M159.6 980.8h0M161.6 983.6h0M157.1 985.6h0M156.9 977.7h0M164.5 986.8h0M161.5 983.3h0M159.2 983.7h0M152.5 984h0M168.2 978.7h0M169.1 984.1h0M163.2 990h0M155.2 985.1h0M158.8 987h0M161 984.9h0M167.3 976.9h0M159.4 990.4h0M168.9 971.4h0M187.2 974.2h0M173.8 981.5h0M167.6 984h0M162.6 982.2h0M162.6 990.9h0M161.3 977.2h0M171 968.4h0M168.1 981h0M173.1 989.1h0M159.5 983.8h0M172 973.4h0M166.3 980.1h0M160.3 980.8h0M159.7 989.5h0M159.6 987.3h0M166.5 986.9h0M179.7 969.7h0M152.1 981.5h0M163.2 989.5h0M167.5 981.1h0M168.2 976.5h0M171.7 964.2h0M165.1 982h0M165.6 977.7h0M161.3 979.2h0M162 979.8h0M162.2 986.2h0M168.9 972.1h0M167.4 981.8h0M164.9 985.7h0M157.4 982h0M155.7 982.1h0M173.7 977.9h0M156.4 977.6h0M157.5 988.1h0M167.7 982.7h0M157.1 977.3h0M162.4 974.1h0M159.3 988.7h0M157.5 981.7h0M171.2 979.8h0M159.6 985.3h0M163.3 985.3h0M176.4 968.8h0M167 982.4h0M160.1 967.6h0M169.2 979h0M165.2 976.3h0M160.5 981.6h0M153.2 982.9h0M166.2 984.2h0M162.1 987.2h0M159.5 987.7h0M168.4 979.9h0M160.3 986.6h0M154.4 986.6h0M163.2 981.2h0M164 984.7h0M161.7 984.8h0M161.7 993h0M159.3 975.2h0M168.3 969.7h0M157.1 985.8h0M164.8 982.3h0M158.8 982.6h0M158.4 985.1h0M166.4 983.2h0M158.1 987.9h0M170.1 973.6h0M163.6 986.5h0M164.9 975.4h0M156.5 980.7h0M162.1 989h0M154.4 977h0M167.9 978.4h0M169.8 973.2h0M163 979.5h0M171.2 982.5h0M172.5 974.9h0M160.7 982.8h0M159.9 980.1h0M169.7 975.3h0M162.9 978h0M163.8 983.6h0M172.1 986.5h0M154.8 984h0M165.7 983.3h0M161.7 984h0M169.3 976.9h0M170.9 972.8h0M157.4 979.7h0M164.9 980.4h0M167.8 982.9h0M171.7 980.4h0M161.2 980.5h0M164.9 977.6h0M158.1 986.2h0M162.4 976.8h0M164.6 980.4h0M170.4 975.5h0M168.5 978h0M157.5 985.5h0M169.7 974.3h0M151.1 982.5h0M160.5 990.4h0M168.6 982.7h0M168 982.8h0M165.6 981.4h0M169.1 982.5h0M168.3 970.7h0M160.8 986.3h0M166.6 982.8h0M160.1 981.5h0M163.9 969.7h0M160.4 987.1h0M156.1 988.3h0M169.5 973.9h0M156.6 983.5h0M161 981.9h0M168.8 982.2h0M166.2 982.8h0M159.6 977.2h0M154.9 985.2h0M162.5 971.4h0M155.7 981.4h0M160.7 986.7h0M158.3 983.8h0M168.7 974.3h0M169.8 976.1h0M156.1 982.2h0M157 982.5h0M174 985.3h0M165.1 981.3h0M158.9 984.2h0M157.4 988.9h0M158.9 990.7h0M161.7 978.5h0M162.1 980.7h0M164.3 985.4h0M155.5 987.3h0M169.7 977.3h0M161.2 980.2h0M160.9 980.7h0M170.9 984.9h0M161.9 976.6h0M160.1 984.4h0M170.7 967.1h0M170.2 974.8h0M164.3 985.4h0M172.3 983.3h0M160 984.5h0M158.1 975.4h0M180.9 976.2h0M159.2 985h0M167 978.8h0M161.1 982.1h0M172.9 971h0M170.2 975.6h0M158 979.1h0M173.3 977.8h0M157.9 981.8h0M162.4 977.5h0M153.2 984.3h0M167.9 985.3h0M165.2 981.4h0M155.6 984.3h0M160.4 981.7h0M162.5 986.2h0M159.3 987.2h0M153.2 985.1h0M159.3 985.7h0M156.2 984.3h0M167.7 978.7h0M164.6 981.5h0M167 982h0M157 981.4h0M161.6 981.2h0M172.5 973.4h0M162.5 994h0M163.4 975.8h0M169.3 987.9h0M159.4 984.2h0M170.5 987.1h0M173.5 983.4h0M159.8 978.3h0M163.6 986.4h0M163.2 981.8h0M174.1 972.7h0M162.8 983.1h0M159.8 988.7h0M157.6 979.6h0M159.4 986.6h0M158.8 987.8h0M169.1 984.6h0M170.8 970h0M159.9 975h0M165.6 983.6h0M157.3 985h0M160.7 985.9h0M174.7 981.8h0M157 981h0M158.1 982h0M165 981.8h0M161.1 975.8h0M160 985.8h0M160.3 979.9h0M154.6 985.7h0M172.1 976.9h0M158.5 984.2h0M166.9 975.5h0M166.3 981h0M154.5 984.4h0M162.5 986.8h0M163.9 985.8h0M171.2 980.8h0M162.2 976.2h0M159.9 985.6h0M158 987.3h0M172.9 980.9h0M162.5 984.3h0M157.7 981h0M158.1 980.2h0M159 984.3h0M173.4 967h0M161.7 986h0M162.6 989.2h0M167 972.4h0M155.1 984.5h0M163.9 986.8h0M160.9 986.5h0M163.7 978.8h0M159.6 986.1h0M155.2 979.3h0M156 986.4h0M165.4 978.5h0M162.2 978.1h0M171.7 989.6h0M169.8 991.2h0M159.7 979.6h0M165 975h0M171.9 988.4h0M171.6 981.5h0M171.8 992h0M160.3 986h0M170.4 972.2h0M159.4 985.7h0M161.3 991.9h0M156.4 986h0M162.7 983.9h0M173.3 978.8h0M162.9 975.9h0M169.5 977.4h0M168.1 966.6h0M162 983.2h0M158.3 984.3h0M171 981h0M178.6 970.6h0M162.1 987.1h0M160.7 983.7h0M179.5 953.5h0M163.1 984.4h0M167.8 982.4h0M163.9 985.5h0M160.2 991.6h0M163.1 985.7h0M164.2 980.7h0M161.9 990.4h0M161.6 977.2h0M153.9 983.6h0M170.5 969.2h0M159.1 985.1h0M164.4 979.6h0M159.4 985.8h0M157.2 987.7h0M156.9 987h0M156.2 981.9h0M159.9 983.2h0M158.8 978.3h0M165.5 980.8h0M161.5 973.4h0M168.4 976.5h0M168.8 974.4h0M160.3 993.1h0M160.6 981.9h0M170 971.8h0M162.9 987.4h0M161.3 984.9h0M171.5 981.9h0M161 987h0M163.4 984.8h0M168.6 979.1h0M163.3 975.8h0M159.6 985h0M157.3 983.6h0M159 982.1h0M155.6 977.3h0M174.8 974.9h0M163.4 984.6h0M159.8 981.9h0M167.3 980.7h0M162.2 978.7h0M157.7 982.4h0M161.6 986.5h0M167.4 984h0M175.3 976.7h0M160.6 985.7h0M159.5 985.9h0M174.6 969.8h0M160 989.3h0M162.7 980.3h0M162.7 989h0M154.5 982.8h0M156.7 986.9h0M162.9 983.5h0M161.3 976.4h0M167.8 977.7h0M169.3 974.2h0M160.9 991h0M158.2 985.7h0M164.7 982.2h0M164.7 979.3h0M161.5 982.9h0M164.2 985.2h0M163.6 989.5h0M165.1 977.5h0M160.4 982.3h0M167.7 972.6h0M160.8 981.9h0M155.4 984.7h0M157.4 988h0M161.4 983.8h0M159.6 982.5h0M157.4 984.9h0M167.5 989.2h0M166.2 982.1h0M160.4 986h0M162.8 990.9h0M155 983.7h0M164.2 980.2h0M166.9 985.1h0M160.5 987.3h0M169.5 978.9h0M164.2 981.3h0M158 987.7h0M174.1 980.5h0M163 992.7h0M158.9 984.3h0M169.1 974.3h0M155.5 983h0M165.5 978.4h0M180.5 959.3h0M162.7 982.4h0M173.3 977.1h0M156.7 985.9h0M162.9 983.5h0M161.6 979.8h0M161.2 987.5h0M162.9 984.7h0M166.6 974.3h0M179.1 957.9h0M167 979.6h0M162.8 972.5h0M166.8 978.5h0M163 984.8h0M154.5 976.8h0M167.9 976.6h0M176.9 970.2h0M166.7 980.9h0M163.5 976h0M158.8 988h0M158 989h0M163.5 979.9h0M163.8 985.8h0M166.9 983.9h0M166.1 990h0M168.3 977.9h0M159.4 987h0M170.2 974.1h0M176.8 977h0M160.9 981.1h0M164.7 980.5h0M170.4 980.8h0M168.6 978.9h0M169.3 977h0M173.4 972.5h0M167.3 979.2h0M163.8 982.7h0M168.9 982.8h0M161.8 987.1h0M153.3 985h0M163.8 975.5h0M166.3 984.4h0M174.6 979h0M163.6 982h0M157.7 983.8h0M178.6 974.5h0M166.7 982.4h0M165.7 981.5h0M158.3 980.1h0M161.3 978.5h0M166.1 970.3h0M165.8 978.2h0M158.8 989.1h0M166.5 974.5h0M161.6 973.8h0M160.3 982.4h0M158.8 980.7h0M176.2 971.8h0M178.9 973.9h0M166.8 981.2h0M160.8 987.3h0M155.8 983.8h0M172 976.9h0M160.5 983.9h0M168.9 975.8h0M160.1 977.2h0M161.7 984.8h0M167.2 973.3h0M165 986.6h0M155.5 986.9h0M157.3 979.2h0M159.5 982.5h0M169.2 972.3h0M162.4 979h0M161.5 983.1h0M165.2 979.9h0M158.7 985.8h0M162.1 985.6h0M179 965.1h0M160.6 975.7h0M178.3 971h0M168 978h0M156.4 986.8h0M157 978.9h0M160.7 980.3h0M153.9 984h0M157 987.4h0M159.2 978.3h0M170.6 981.9h0M176.5 969.3h0M171.2 977.2h0M175.6 966h0M161.7 966.9h0M162.1 993.6h0M165.2 987.1h0M169.6 973.2h0M164.6 982.8h0M165.8 984.2h0M164.1 975.6h0M162.2 980.9h0M169.6 983.2h0M163.7 991.4h0M169.4 979h0M165.7 980.4h0M178.7 972.3h0M162.6 986.2h0M170.5 986h0M168.4 976.5h0M163.7 981h0M173.9 968.6h0M172.5 981.6h0M166.3 976h0M165.6 982h0M166.3 977.4h0M163.1 987.9h0M160.5 989.7h0M159.9 985.2h0M160.6 988.7h0M167.4 975.6h0M158.4 986.6h0M163.1 990.3h0M168.1 980.7h0M154 984.2h0M167.3 976.3h0M156.5 984.7h0M164.3 983.3h0M180.2 959.1h0M158.3 983.5h0M161.2 989.6h0M167.3 968.1h0M162.9 989h0M156 987.4h0M169 979.2h0M162.4 985.2h0M169.9 967.4h0M173.6 975.7h0M159.4 981h0M164 982.2h0M153.6 975.5h0M162.6 988.9h0M158.8 986.8h0M156.5 987.4h0M161.9 987.6h0M162 986h0M169.6 983.7h0M170.8 974.5h0M160.2 985.2h0M173.2 976.3h0M162.2 987.1h0M160.2 990.4h0M159.1 980.2h0M165.1 985.7h0M164.7 987.6h0M154.9 983.2h0M164.3 985.3h0M159.3 987.2h0M171.8 978.3h0M172.6 965.7h0M159.9 981.6h0M158.8 977.7h0M166.1 979.8h0M163.4 983.1h0M159.1 988.5h0M182.8 976h0M161.4 977.5h0M161.2 979.3h0M167.9 977h0M167.1 988.9h0M164.1 973.3h0M172.2 976.9h0M160.6 984.5h0M166.1 982.3h0M168.6 962.1h0M161 989.1h0M159.5 983.8h0M160.9 983.8h0M169.3 980.9h0M165.3 978.3h0M158.3 978.9h0M161 981h0M162.2 989.6h0M169.7 975.9h0M163.4 975h0M170.7 993.5h0M160.7 975.4h0M175.7 972h0M160.9 982.6h0M172.4 977.1h0M158.4 980.7h0M165.5 980.3h0M156.5 985.5h0M170.3 973.9h0M160.8 990.7h0M178.9 970.4h0M158.3 985.7h0M163 973.3h0M171.3 971.9h0M160.4 981.7h0M154 974.6h0M162.4 985.1h0M163.1 984.4h0M157.1 986.3h0M153.5 983.6h0M169.1 973.6h0M170.7 965.9h0M160.1 983.5h0M164.3 984h0M172.8 962.5h0M162.4 984h0M158.9 983.6h0M169.3 970.2h0M175 980.1h0M168.8 984.5h0M165.8 977h0M158 980.9h0M162.7 987.5h0M165.3 975.1h0M168.4 975.1h0M164.4 986.8h0M166.8 980h0M167.6 984.5h0M160.7 978h0M164.1 979h0M160.7 991.6h0M165.5 975.2h0M175.9 966.5h0M178.5 965.1h0M167.7 980.3h0M160.9 982.8h0M178.6 979.4h0M175 967h0M163 987.4h0M167.3 974.8h0M165.1 985.3h0M158.1 983.2h0M163.1 971.2h0M158.8 989.8h0M172.2 980.1h0M161.2 982.5h0M155 980.4h0M168.9 980.3h0M160.3 981.2h0M164.7 978.1h0M159 986.1h0M164.1 984.5h0M174.9 967.2h0M161.1 983.3h0M162.4 987.8h0M159.7 982.9h0M169.4 977.7h0M159.2 986.9h0M162.3 986.7h0M168.5 976.8h0M160.1 985.5h0M180 975.5h0M170.4 976.5h0M166.4 979.2h0M155.8 979.4h0M171.1 969.2h0M171.1 986.5h0M162 989.9h0M157.4 986.1h0M158.3 988.5h0M156.1 984.8h0M162.7 976.9h0M163.5 974.9h0M157.9 982.9h0M166.6 972.5h0M172.7 975.8h0M160.9 984.9h0M170.3 981.2h0M165.9 980.4h0M164.8 981.1h0M169.8 976.5h0M173.2 976.6h0M167.9 970.7h0M176.6 973.9h0M168.3 976.6h0M156.5 975.9h0M164.5 979.1h0M152.8 979.8h0M172.8 964h0M155.8 973.5h0M154.9 982.5h0M169.7 969.2h0M172.1 977.4h0M168.5 973.3h0M165.3 975.9h0M163.3 978.8h0M166 979.3h0M160.2 977.2h0M168.6 982.7h0M173.2 978h0M165.3 971.9h0M158.5 983.8h0M162.6 984.5h0M167 969.3h0M161 971.2h0M161.4 988.5h0M163.1 979.1h0M164.5 978.7h0M165.3 977h0M166.2 985.1h0M154.4 979.5h0M156.9 984.7h0M174.7 964.9h0M154.4 981.4h0M163 969.3h0M162.7 975.9h0M165 981.1h0M165.8 990h0M167.5 980.4h0M171.4 973.6h0M158.3 987h0M160.3 984.2h0M161.8 986.5h0M162.7 984.1h0M165.7 982.5h0M166 975.8h0M167.3 976.7h0M157.8 984h0M179.1 964.1h0M170.3 983.2h0M157.4 984h0M179.1 979.1h0M166.2 990.3h0M167.7 980.7h0M161.7 986.4h0M171.8 978h0M169.3 981h0M160 976.1h0M161 978.7h0M160.1 976.8h0M163.2 982.2h0M158.9 989.3h0M163.1 983.3h0M165.8 986.7h0M173 977.7h0M161.6 982.1h0M163.3 977.9h0M165 977.9h0M166.7 991.6h0M163.1 980.8h0M173.4 976.3h0M154.9 983.7h0M163.1 984.9h0M174.8 970h0M171.9 975.8h0M159.4 988.7h0M157.8 971.3h0M163.5 978.4h0M159.8 988.3h0M159.7 985.9h0M173.2 959.8h0M159.5 986.4h0M166.2 982.1h0M169.4 980.9h0M161.7 985.4h0M152.7 981.2h0M160.9 976.4h0M171.5 981.8h0M163.9 982.2h0M165.8 974.7h0M158.5 984.4h0M163.5 979.7h0M434 776h0M176.3 954.9h0M393.4 749h0M408.2 767.6h0M176.7 953.5h0M388.9 813.8h0M480.1 655.6h0M380.4 794.1h0M177 958.3h0M176.7 960.4h0M637.6 558.7h0M180.3 961.4h0M383.6 794.3h0M404.2 760.8h0M412.4 709h0M412.5 741.3h0M394.6 799.3h0M195.2 972.3h0M176.2 958.6h0M363.1 763.2h0M421.3 734.1h0M325 792.9h0M337.3 779.5h0M353.6 783.4h0M193.1 973.8h0M418.2 782.6h0M412.6 753.6h0M177.3 960.7h0M176.5 960.2h0M370.6 771.2h0M375.9 766.2h0M516.8 622.8h0M423.4 785.2h0M401.3 803.8h0M391.6 771.1h0M331.9 760.5h0M374.5 758.7h0M208 969.8h0M359 765h0M350.2 789.4h0M391.3 803.9h0M310.8 805h0M474.8 685.1h0M512.4 666.2h0M180.3 961.6h0M333.7 773.9h0M363.4 757.7h0M179 962.3h0M177.7 958.7h0M321.3 797.2h0M176.8 960h0M191.3 975h0M383.8 739.6h0M179.5 962.4h0M177.7 958.9h0M381.1 783.3h0M198.3 972.7h0M330.5 789.5h0M178.4 957.9h0M443.8 706.7h0M196.1 976.1h0M403.7 805.3h0M374.6 766.9h0M371.9 768h0M396.6 774.8h0M410.5 723h0M180.3 957.6h0M362.7 769.4h0M433.5 703.2h0M409.6 713.6h0M211 970.8h0M179.7 959.2h0M180.5 963.1h0M419.9 731.1h0M192.4 974.2h0M402.7 733.1h0M424.1 770.1h0M191.4 973.5h0M382.2 770.7h0M387.9 752.4h0M409.7 733.1h0M192 973h0M373.1 793.4h0M177.8 958.2h0M179.4 961.5h0M395.9 789.3h0M302.1 815.8h0M404.1 775.4h0M179.3 955.7h0M440.7 672.7h0M446.2 734.1h0M403.2 747.1h0M309.3 809.4h0M370.7 726.8h0M351.6 783.6h0M177.5 958.5h0M178.9 948.8h0M190.9 974.2h0M338.9 789h0M416.3 791.7h0M384.7 796.5h0M178.6 960.9h0M397.8 731.8h0M392.9 781h0M384.8 769.5h0M293.3 815h0M196.5 980.4h0M426.2 739h0M211.5 969.5h0M364.3 774.5h0M425.3 761.9h0M176.2 955.9h0M179.3 955.5h0M192.2 973.9h0M358.3 778.7h0M180.3 956.9h0M431.1 728.9h0M178 955.6h0M382.8 743.9h0M455.8 710.6h0M194.2 974.2h0M179.2 947h0M394.9 780.4h0M390.1 772.4h0M176.6 957.9h0M382.5 773.5h0M373 775.2h0M201.2 974h0M447.1 687.1h0M328.9 801.8h0M218.2 968.5h0M179.6 961.7h0M197 977.5h0M178.2 961.9h0M437.9 772.2h0M467.6 678.5h0M509.8 639.2h0M195.4 975h0M197.7 973.1h0M392.1 797.9h0M363.1 775.9h0M517 699h0M191.3 974.2h0M179.3 961.9h0M180.2 955.1h0M472.7 719.3h0M192.3 973.9h0M370 772.9h0M180.3 963.1h0M321.2 801.4h0M192.1 975.8h0M346.1 769.4h0M426 756.4h0M412.6 738.3h0M193.6 975.3h0M179.5 960.4h0M178.7 953.4h0M385.8 771h0M180 952.4h0M173.9 951.4h0M423.3 774.2h0M367.7 776.1h0M179.5 960.3h0M522.6 594.6h0M392.6 797.9h0M395.5 801.8h0M214.1 967.5h0M203.6 971h0M409 740.4h0M529.1 656.5h0M397.5 799.3h0M179 957.8h0M182.4 942.5h0M460.3 730h0M315.5 807.6h0M273.7 829.7h0M471.7 678.8h0M178.6 961.5h0M426 764.2h0M330.3 798.6h0M180.4 962.4h0M432.2 668.6h0M423.7 745.2h0M397.7 808.5h0M446.6 697h0M486.6 694.6h0M192.7 976.1h0M195.4 972.9h0M365.6 771.3h0M383.3 783.4h0M180 959.6h0M178.2 961.4h0M362.1 736.4h0M426.2 733.7h0M404.3 769.1h0M180.3 958h0M299.5 813.1h0M393.9 742.4h0M443.7 746.2h0M356.1 783.7h0M403.1 771.1h0M177.5 960.3h0M179.5 951.3h0M373.2 793.6h0M391.6 772.8h0M263.3 825h0M418.6 742.9h0M199.3 971.1h0M405.1 751.2h0M179.6 961.6h0M385.8 777.2h0M192.1 974.1h0M178.7 960.8h0M346.3 777.9h0M179.2 963.1h0M376.6 793.5h0M180.4 962.2h0M501.8 700.8h0M333.1 794.5h0M460.1 725.5h0M375.7 751.2h0M390.4 773.5h0M204.2 972.1h0M179.1 953.7h0M404.5 740.1h0M376 796.1h0M201.5 974.5h0M191.4 973.9h0M430.1 764.3h0M325.6 796.8h0M199 972h0M335.6 785h0M195.3 974.8h0M444.7 717.9h0M378.3 780.8h0M437.1 756.1h0M177.6 960.8h0M431 755.6h0M177.5 960.3h0M180.4 960.2h0M375.1 795.7h0M387.9 820h0M382.9 731.8h0M339.8 795.1h0M368 741.1h0M572 597.8h0M175.4 952h0M386 812.4h0M180 952.3h0M205.4 969.3h0M179.2 958.3h0M199 973.3h0M196 978.9h0M334.1 796.8h0M344.2 793.7h0M394.4 751h0M433.5 776.8h0M194 974.2h0M416.5 730.7h0M330 794.8h0M190.4 973.8h0M432.7 721.2h0M398.4 772.6h0M310.2 805.6h0M371.5 788.3h0M336.4 786.4h0M334.4 781.2h0M191.6 974.9h0M327 781.2h0M193.9 974h0M385.8 802.6h0M321.7 796.1h0M176.3 960.3h0M179.7 961.2h0M177.1 959.9h0M178.7 962.6h0M344.8 778.9h0M330.2 799.9h0M178.2 948.8h0M180 958.7h0M337 788.8h0M335.8 769h0M178.7 962.7h0M179.4 961.3h0M341 772.3h0M313.4 805.8h0M373.2 793.9h0M315.4 803.1h0M334.1 779.9h0M337.8 775.2h0M387.5 813.9h0M177.4 958.7h0M392.9 811.1h0M178.7 950.9h0M344.4 774.3h0M355 786.7h0M326.5 785h0M336.3 792.2h0M380.5 798.8h0M344 792.8h0M313.3 805.4h0M325.8 772.3h0M382.6 800.7h0M179.9 957.5h0M335.8 793.4h0M203.3 975h0M354.3 778.7h0M327.2 768.7h0M350.3 777.6h0M202.9 970.4h0M397.1 815.4h0M352.2 783.7h0M358.6 777.1h0M350.4 781.6h0M203.4 979.4h0M300.2 815h0M178.7 952.9h0M177.8 958.9h0M348.2 785.4h0M191.1 973h0M180.5 964.5h0M328.5 800.6h0M377 798.3h0M175.4 958.3h0M385.1 737h0M427.4 719.8h0M328 796.6h0M473.3 648.5h0M523.8 646.2h0M398.9 751.6h0M381.9 809.1h0M379.7 747.1h0M379.1 743.5h0M475.9 672.1h0M431.2 723.8h0M368.4 782.3h0M380.7 763.8h0M428.8 713.8h0M384.8 754.8h0M395.5 778.6h0M446.1 711.8h0M411.2 718.5h0M413.3 744.3h0M403.9 783.8h0M408.8 739.8h0M466 690.7h0M450.2 737.1h0M530.9 611.5h0M452.3 692.7h0M398.7 780.3h0M331.6 778.1h0M416.6 695.5h0M410.7 739h0M586.4 599.7h0M407.3 712.4h0M374.9 782.9h0M369.4 781.4h0M541.3 632.3h0M423.4 739.8h0M400.8 728h0M406.4 723.1h0M344 749.1h0M369 778.3h0M452.5 704.7h0M370.1 779.6h0M438.6 637.7h0M373.8 680.8h0M448.3 661.9h0M370.6 774.9h0M342.5 783.1h0M516 646.7h0M332.5 797.9h0M599 548.8h0M456.6 699.3h0M354.5 760.6h0M702.9 447.8h0M574.2 539.9h0M452 697.2h0M505.2 656.4h0M349 777h0M353.3 788.4h0M419.2 760.3h0M383.9 714.8h0M398.3 743h0M409 750.9h0M423.7 753.1h0M364 779.3h0M328.1 797h0M662.1 426.4h0M542.8 623.6h0M496.9 686.6h0M482.5 678.7h0M496.6 682.8h0M377.7 773.5h0M366.2 757.4h0M333.6 791.5h0M353.9 770.7h0M578.8 601.1h0M422.2 724.7h0M486.5 698.4h0M376.6 767.3h0M431.5 709.7h0M407.5 802h0M365.7 775.3h0M545.7 659.4h0M351.6 780.5h0M448.8 643.9h0M388.9 746.1h0M380.1 778.2h0M376.4 784.3h0M383.2 758.1h0M474.6 709.4h0M371.6 767.6h0M331.3 796.7h0M396.9 810.1h0M346.3 754.5h0M393.2 784.1h0M372.9 793.1h0M358.6 767.5h0M395.2 787.4h0M426.9 718.6h0M392.9 743.6h0M495.8 690.7h0M469.3 644h0M426.8 756.3h0M433.7 682.1h0M473.2 658.1h0M408.9 764.9h0M422.3 771.7h0M386.5 765.2h0M518.7 661.4h0M486.5 684h0M333.9 799.2h0M461.1 692.5h0M389.9 759.4h0M380.3 698.2h0M520.5 635.1h0M383.2 802.7h0M574.1 599.7h0M397.1 776.5h0M429.1 693.3h0M442.9 687.4h0M382.3 771.4h0M394.4 802.2h0M422.2 728.3h0M429.5 749.6h0M445.2 712.8h0M340.5 779.3h0M391 777.8h0M583.7 590.7h0M381.7 795h0M453 671.4h0M349.4 779.5h0M570 566.5h0M328.1 799.3h0M381 769.5h0M522.2 618.7h0M452 702.5h0M398.8 788.3h0M497.8 702.8h0M428.4 702.3h0M385.7 750.6h0M396.6 796.4h0M396.1 753.8h0M383.6 789.1h0M556.8 572.7h0M438.5 688.4h0M491.5 697h0M384.5 753h0M402.5 754.5h0M374.2 764.3h0M479.8 663.3h0M385.1 815.8h0M419.6 699.9h0M360.1 783.5h0M344.9 788.6h0M383.3 781.8h0M345 792.2h0M388 770.4h0M461.5 772h0M386.9 813.4h0M343.4 765.4h0M373.6 764h0M371.3 756.3h0M405.8 765.3h0M431.3 750.5h0M350.1 775.3h0M532.7 658h0M374.3 741.8h0M522.4 618.9h0M353.5 787.1h0M432.3 689.9h0M377.8 786.4h0M589.8 610.5h0M399.3 771.2h0M381.7 788.8h0M403.6 727.4h0M384.4 808h0M340.7 777.7h0M382.1 755.8h0M369 771.7h0M343 789.9h0M366.7 777.3h0M351.8 783.7h0M379.4 784.9h0M424.6 719.8h0M428.3 712.6h0M548.2 599.9h0M383 707.7h0M393.9 725.7h0M419.6 772.6h0M380.4 792.6h0M394.3 764.7h0M410.3 717.1h0M364.2 776.3h0M443.3 725.5h0M484.2 719h0M347.4 778.3h0M445.2 708.4h0M345 783.7h0M579 554.3h0M390.4 759.5h0M396.4 728.5h0M433 697.1h0M462.6 655.5h0M380.7 791h0M423.8 739.4h0M405.3 801.9h0M434.2 742.7h0M371.1 786.6h0M488.1 668.6h0M430.2 769.2h0M512.6 659.6h0M403.6 712h0M381.1 807.4h0M513.8 625.4h0M403.9 719.4h0M445.6 723.3h0M438.2 719.9h0M407.5 723.4h0M391.6 781.6h0M437 739.5h0M441.4 713.8h0M373.8 771.8h0M358.7 773.4h0M453.2 678.9h0M389.3 789.5h0M404 776.8h0M422.2 748.3h0M447 702.1h0M384.7 793.3h0M436.8 678.5h0M380.9 756.5h0M485.8 617.4h0M458.9 721.6h0M392.8 803.3h0M471.9 675.6h0M341.1 784.4h0M451.4 710.8h0M433.6 693.1h0M484.6 619h0M372.6 766.5h0M463 710.3h0M403.2 752.4h0M412.3 720h0M476.3 721.3h0M528.9 642.1h0M523.5 642.7h0M381.3 726.4h0M503.8 663.5h0M525.5 601.3h0M391.4 754.9h0M429.8 735.4h0M365.8 772.5h0M370.3 778h0M262.3 789.9h0M560.6 713.9h0M382.4 691h0M228.2 978.3h0M424.3 718.3h0M312.7 759h0M509.4 641.2h0M326.6 788.7h0M547 588.3h0M240.6 962.7h0M136.8 907.5h0M431.7 682.2h0M331.7 776.6h0M516.3 606.6h0M410.6 744.8h0M219.4 986.8h0M167.9 926.3h0M468.6 739.2h0M596.3 632.9h0M276.9 765.1h0M294.4 944.2h0M417.3 689.4h0M498.8 667.4h0M511.3 676.1h0M186.4 932.4h0" stroke="#000" stroke-width="2.0" stroke-linecap="square" fill="none"/>
<path d="M184.3 966.4h0M189.8 955.6h0M184.6 963.6h0M188.6 958.2h0M185.9 965.4h0M182.2 963.4h0M185.7 966.2h0M184.9 966.2h0M183.2 969.8h0M181.4 971h0M185.1 959.1h0M181.1 970.6h0M186 964.8h0M184.3 951.8h0M183.5 966.3h0M184.6 966.4h0M216.5 941.9h0M196.7 953.1h0M182.1 953.3h0M181.2 964h0M181.7 971.6h0M183.6 970.2h0M185 961.5h0M185.7 956.6h0M183 957.1h0M181.4 965.5h0M186.6 961.4h0M192.7 949.3h0M181.7 973.4h0M183.1 963h0M185.5 957.6h0M195.3 955.9h0M185.1 957h0M190 958h0M197.9 936.6h0M199.1 959.5h0M280.1 881.6h0M212.8 935.9h0M286.9 890.2h0M194 960.1h0M240 898h0M209.6 944.9h0M205.1 938.9h0M197.1 936h0M220.8 933.5h0M255.6 905.9h0M193.3 960.4h0M211.7 944.7h0M196.7 957.9h0M190.8 959.6h0M182.6 959.7h0M327.3 860.4h0M207 947.9h0M212.7 929.8h0M192.8 953.7h0M215.9 937.7h0M183.2 966.7h0M212.7 917h0M199.5 952.3h0M213.9 945.9h0M181 952.5h0M252.2 909.3h0M187.2 967h0M281.3 861.3h0M234.4 913.8h0M217.9 948h0M250.2 921.8h0M216.6 933h0M200.7 948.8h0M191 961.3h0M210.4 943.5h0M258.2 892.3h0M190.3 962h0M181 958.6h0M266.9 861.1h0M232.5 922.7h0M198 965.3h0M195.3 945.6h0M273.5 857.6h0M214.4 954.9h0M264.7 872.4h0M237.5 933.2h0M193.4 964.1h0M205.3 959.2h0M208 941.8h0M192.3 955.7h0M280.7 835h0M294.9 893.8h0M271.5 898.6h0M338.2 840.8h0M208.8 947.8h0M193.4 968.7h0M293.6 866.6h0M276.1 887.6h0M205.5 953.9h0M197.8 953.7h0M284.2 874.9h0M204.6 949.5h0M190.9 959.6h0M200.4 953.3h0M244.2 901.7h0M235.4 911.3h0M186.4 949.5h0M202.4 969.9h0M217 944.6h0M217.6 947h0M187.7 967.4h0M188.1 962.4h0M262.2 872.2h0M220.1 942.9h0M183.7 967.6h0M269.8 905.8h0M214.3 912.6h0M240.5 908.3h0M261.7 907.7h0M195.4 964.5h0M210.1 931.4h0M191.4 949.1h0M212.4 932.6h0M192 957.5h0M294.3 857.4h0M269.9 877.6h0M240.4 935.6h0M219.8 922.7h0M340.3 817.7h0M248.1 920.6h0M216.6 946.6h0M205.9 952.5h0M242 925.8h0M238.7 909.1h0M275.4 888.4h0M349.1 805.5h0M236.4 906.9h0M300.8 872.8h0M206 932.5h0M254.4 897.1h0M187 961.4h0M264.5 881.2h0M190.7 963h0M193.1 960.8h0M224.1 922.7h0M222.3 939.3h0M227.5 912.2h0M186.9 956.3h0M264.1 900.7h0M209.6 941.8h0M252.9 889h0M341.8 820h0M197 965.7h0M189.7 950.6h0M278.3 862.8h0M209.2 959.3h0M215 958.3h0M219 954.6h0M191.3 967.4h0M215.3 964.4h0M197.6 962.1h0M274 887.9h0M235.3 924.8h0M181.9 957.9h0M281.5 863.8h0M234.9 919.6h0M202.8 951.7h0M198.6 914.7h0M326.6 853h0M189.1 969.3h0M195.7 952.5h0M186.4 962.5h0M329.5 848.1h0M197.2 944.7h0M273.1 870.2h0M207 945.1h0M280 904h0M209.8 941.4h0M218.8 947.1h0M207.7 929.6h0M223.9 928.3h0M212.9 932.2h0M191.2 945.5h0M186.8 962h0M191.5 969.2h0M238 917.4h0M292 855.7h0M294.2 864.1h0M227.4 921.9h0M221.6 922.7h0M229.6 917.9h0M323.6 843.7h0M226.9 911.9h0M201 963.3h0M236.1 919.6h0M200.8 947.8h0M274.8 909.9h0M236 942.8h0M328.6 839.1h0M250.6 906.6h0M240.4 923.4h0M184.5 953h0M192.8 956.6h0M267.3 893.6h0M278.4 868.3h0M197.8 956.6h0M180.4 956.4h0M190 966.5h0M202 964.6h0M195.2 960.5h0M189 957.1h0M304.1 825.8h0M186.6 963.9h0M198.8 946.1h0M189.7 955.5h0M272.8 900.5h0M191.1 967.5h0M218 930.4h0M230.2 930h0M202.1 947.9h0M194.5 942.8h0M259.4 874.4h0M230.5 914.5h0M308.3 856.9h0M186.4 970.4h0M190 969.1h0M184 962.5h0M291.6 872.9h0M230.7 905.2h0M211.7 958.2h0M223.3 940.6h0M203.5 948.2h0M194.2 953.3h0M240.1 918.2h0M216.3 949h0M254.7 909.7h0M220.2 948.4h0M270.8 875.1h0M337.9 806.3h0M277.2 863.9h0M210.1 939.2h0M321.9 818.8h0M218 929.5h0M236.7 923.9h0M190.1 968.4h0M302.2 854.6h0M243.9 909h0M257.1 887.9h0M189.5 964.7h0M193.1 962.4h0M244.8 900h0M285.8 877.4h0M225.9 909.1h0M252.6 918.7h0M268 875.7h0M328.2 848.2h0M217.6 950.7h0M210.4 928.6h0M192.3 964.5h0M225.7 950.4h0M203.9 944.5h0M197.4 968.1h0M190.6 960.3h0M198.4 959.9h0M220 942.1h0M239.4 910.3h0M201.8 953.8h0M257.4 873.4h0M232.2 913.7h0M241 919.8h0M272.2 906.7h0M205.4 949.9h0M186.8 964.1h0M186.8 970.4h0M229.4 910.1h0M285.6 852.9h0M212.8 952.7h0M241 929.1h0M287.2 867.2h0M200.4 926.3h0M230.3 937.2h0M296.1 838.8h0M311.4 884h0M209.7 949.1h0M190.8 960.3h0M221.5 946.2h0M211.5 944.8h0M258.6 869.4h0M201.8 958.4h0M214.8 923.4h0M250.1 889.3h0M223.9 935.8h0M214.7 946.9h0M215 940.7h0M227.7 934.7h0M273.4 882.8h0M198.3 957.8h0M275.7 868.7h0M188.1 951.5h0M180.6 959.7h0M306.6 862.8h0M195.7 954h0M242.4 914.1h0M352.7 817.2h0M194.5 968h0M229.8 946.1h0M249.8 918h0M234.8 894.1h0M212.6 950.8h0M218.8 929.8h0M280.1 860.6h0M221.3 937.7h0M255.6 905.2h0M238.3 911.5h0M216.2 921.4h0M214.4 933.1h0M273 886.9h0M231 906.4h0M271.3 899.3h0M238.9 926.6h0M189.3 967.4h0M213.3 944.2h0M212.3 945h0M186.2 966.6h0M226.1 893.1h0M270.8 899.7h0M228.8 935.1h0M249.3 909h0M207.7 951.8h0M241.3 901.1h0M227.6 938.8h0M185.7 965.3h0M250.1 909.9h0M224.9 929.5h0M217.9 934.4h0M191 937.7h0M317.9 841.2h0M204 954.6h0M222.9 931.5h0M191.3 965.5h0M194.2 963h0M188.6 949h0M277.5 856.2h0M207.5 959.3h0M303.8 862.1h0M207.1 924.5h0M217.1 934.6h0M208.4 966.9h0M214.2 953.8h0M202 955.5h0M245.5 910.9h0M204.5 945.4h0M322.6 814.5h0M184.9 964.8h0M189.1 972.5h0M219.6 931.4h0M252.8 891.5h0M186 956.8h0M242.4 940.8h0M290.1 869.4h0M263.9 925h0M326.8 843.4h0M214.2 941.8h0M208 937.4h0M194.7 964.9h0M186.2 945.4h0M294.1 872h0M239 921.2h0M258.3 896.2h0M198.8 961.5h0M196.9 945.9h0M185.3 963.1h0M222.9 938.7h0M197.1 962.8h0M212.8 948.8h0M229.6 924.3h0M303.1 843.3h0M283 852.6h0M229.5 911.4h0M250.9 888.8h0M223.9 938.8h0M194.9 933.7h0M302.5 844h0M204.8 945.1h0M278.5 896.3h0M278.1 901.2h0M213.9 949.2h0M234 932.5h0M244.3 910.5h0M201.1 945.4h0M214.5 951.4h0M235.6 894.2h0M248.2 918.3h0M252.9 905.3h0M212.5 948.4h0M193.5 950.7h0M197.3 928.6h0M219.4 921.2h0M250.1 918.4h0M203.4 953.9h0M259.4 885.4h0M290.8 837.1h0M271.5 851.4h0M199.3 938.9h0M189 948.6h0M225.4 918.5h0M223.4 922.2h0M199.5 964.7h0M189.3 971.8h0M296.6 847.7h0M271.6 886.1h0M217.7 945.8h0M188.8 964.3h0M225.8 934.6h0M210.7 937.6h0M248.6 925.7h0M197.7 949.7h0M211.3 952.9h0M242.5 923.3h0M256.4 909.9h0M204.2 963.5h0M207.5 941.5h0M253.4 891h0M230.8 919.7h0M192.2 960.1h0M216.8 959.8h0M235.9 905.5h0M187 966.4h0M333.6 853.2h0M261.2 907.1h0M202 946.4h0M192.6 967.6h0M264.2 873.8h0M193.5 967.7h0M231.8 925.1h0M260.2 886.1h0M186 964.4h0M288.7 888.2h0M182.7 965.5h0M364.5 795.1h0M220.5 935.1h0M229.3 921.6h0M270.1 859h0M200.1 966h0M186.8 963.6h0M300.8 873.8h0M204.6 959.6h0M225.9 941.7h0M263 887.9h0M269.7 886.3h0M218.2 924.3h0M330.2 829.7h0M203.3 962.5h0M289.4 852h0M221.2 926.1h0M193.7 958h0M205.1 938.3h0M204 945.8h0M275.4 863.1h0M280.2 846.2h0M199.4 956.2h0M208.1 947.2h0M183.4 964.6h0M186.4 967.3h0M208.1 956h0M186.3 957.7h0M297.6 880.7h0M203.5 949.6h0M191.7 969.8h0M197.1 956.1h0M222.3 893.3h0M202.9 945.1h0M225.6 907.4h0M190.8 931.7h0M211.1 951.6h0M201.7 957.9h0M298 891.3h0M197.1 942.1h0M190.8 968h0M243.5 915.2h0M240.9 917.2h0M208.2 957.8h0M292.3 865.7h0M182.2 961.9h0M229.1 938.5h0M205.6 949.4h0M227.1 899.4h0M306.5 859.8h0M227 930h0M290.3 883.7h0M246.7 934.1h0M195.2 948.1h0M231.6 926.9h0M217.6 934.9h0M210.1 932.3h0M189.1 966.5h0M225.2 916h0M293.7 832.5h0M242.4 915.4h0M190.8 964.3h0M213.8 931.1h0M259.9 885.6h0M287.8 881.3h0M204 952.2h0M213.9 934.3h0M228.2 906.8h0M194.6 949.4h0M185.8 964.2h0M269.6 873.1h0M196.9 947.6h0M222.2 943.7h0M236.2 933.3h0M187.8 970.6h0M193 955.1h0M245.5 895.5h0M291.9 881.4h0M183.8 954.7h0M235.3 908.3h0M211.2 940.9h0M205.7 955.3h0M207.3 945.8h0M234.7 924h0M270.3 917.8h0M341.9 850.9h0M204 952.7h0M222.9 912.4h0M221.6 933h0M193.5 958h0M204.8 942.3h0M185.2 957.8h0M210.5 919.6h0M191 958.9h0M192.7 943h0M235.7 924.8h0M185.9 961.6h0M184.6 963.7h0M261.5 907.2h0M291.2 867.5h0M210.4 945.2h0M224.4 932.5h0M197.9 951.5h0M250.7 924.7h0M192.7 965.9h0M200.9 954.7h0M196.6 945.3h0M202.5 955.9h0M295.1 845.8h0M296.6 838.4h0M226.7 926.6h0M194.5 970.6h0M207.8 955.1h0M292.6 860.5h0M223.7 925.8h0M319.9 841.2h0M201.1 946.8h0M237.2 918.7h0M190.6 955.3h0M291.9 867h0M350.8 797h0M229.9 913h0M217.2 920.9h0M304.9 828.8h0M200.6 957.8h0M297.7 874h0M195.2 971.6h0M201.9 938.8h0M248.5 914.9h0M255.8 893.2h0M205.6 942.7h0M257.2 884h0M235.2 925h0M214.6 932.1h0M210.1 956.1h0M229.4 916.3h0M258 905.2h0M189.8 965.4h0M195.9 963.2h0M198.2 949.6h0M194.6 954.5h0M201 960.7h0M227.7 901h0M305.9 863.5h0M323.7 815.9h0M190.4 967.5h0M197.1 959.2h0M191 960.1h0M202.6 951.8h0M200.8 964.9h0M188.3 942.9h0M201.9 945.3h0M185.8 953.6h0M192.3 935.4h0M265.9 894.9h0M254.5 920.4h0M186.8 962.8h0M199.9 951.5h0M209.5 946.9h0M312.4 820.9h0M209 929.3h0M223.3 934.9h0M200.9 960.6h0M188.6 968.2h0M209.5 932.1h0M206.9 936.7h0M281.1 870.1h0M252.7 913.7h0M209.6 929.9h0M278.9 860.7h0M205.9 964.9h0M208.9 931.5h0M232.1 940.9h0M219.6 924.6h0M219.9 911.5h0M285.5 869.9h0M196.4 955.5h0M374.5 806.9h0M203.7 931h0M286.9 878.7h0M248.9 909.9h0M229.3 903.1h0M195.3 958.1h0M307.2 891.1h0M182.2 956.2h0M199.6 946.3h0M188.6 961.1h0M202.5 953.2h0M267 864.6h0M292.8 887.2h0M269.5 880.6h0M182.8 949.4h0M226.6 937.8h0M240.2 919.4h0M347 843.3h0M212.3 936.8h0M244.5 937.7h0M208.6 948.9h0M277.4 883h0M277.3 850h0M343.3 840.7h0M315.2 829.6h0M186.2 961.8h0M255.2 908.3h0M217.2 940.9h0M315 850.9h0M222 952h0M190.1 963.7h0M231.6 936.5h0M189.2 964.7h0M206.2 956.9h0M262.2 924.7h0M220.5 940.9h0M207 951.3h0M206.5 957.2h0M234.6 938.1h0M219.4 926.8h0M244.4 910.1h0M237.7 904.4h0M227 917.6h0M242.3 922.2h0M188.8 960.2h0M183.2 961.6h0M197.4 944.2h0M239 918.5h0M186.9 967.1h0M243.1 917.5h0M252.3 897.2h0M257.3 865.1h0M227.1 925.3h0M222.9 937.8h0M202.5 940.9h0M266.9 884.9h0M260 854h0M222.7 930.5h0M266.9 893.1h0M219.1 941.6h0M263 884.7h0M257.5 880.8h0M299.8 855.8h0M238.3 938.2h0M333.1 847h0M304.1 839.4h0M200.9 948h0M195.2 958.9h0M250.4 912.3h0M204.8 937.9h0M288.6 864h0M188.3 971.3h0M198.8 963h0M194.7 963.5h0M186.9 963.7h0M185.9 967.2h0M186.5 961.5h0M184.7 965.7h0M210.3 941h0M223.7 938.4h0M192.6 941.7h0M216.9 932.5h0M189.2 963.5h0M189.2 942.7h0M256.4 895.8h0M206.4 955.2h0M193.7 953.8h0M187.8 968.9h0M202.8 947.1h0M191.4 969.6h0M201.2 956.4h0M186.1 964.6h0M263.7 881.3h0M312.4 832.2h0M333.5 825.6h0M285.9 868.6h0M219.9 933.3h0M189.3 954.1h0M208.3 934.1h0M195.2 961.7h0M254.4 910.3h0M231.8 911.4h0M217.6 941.2h0M254.7 884.3h0M230.9 903.7h0M188.8 954.6h0M205.4 940.1h0M238.5 904.7h0M198.4 919.3h0M284.3 903.6h0M359.1 802.6h0M209.9 924.7h0M206.6 938h0M232.1 933.8h0M233.6 908.7h0M233.8 915.7h0M272.2 901.2h0M234.1 920.3h0M273.8 879.6h0M217 941.9h0M215.9 938.2h0M209.2 946.3h0M190 957.2h0M198.7 955.5h0M345.9 801.9h0M209.8 959.5h0M195.9 952.6h0M243.5 901.7h0M236.5 925.3h0M204.5 937.7h0M198.7 941.1h0M198.9 964.6h0M187.5 963.4h0M181.3 960h0M197.7 947.8h0M221.8 935h0M229.1 946.2h0M256.7 923.3h0M288.7 864.1h0M228.6 937.8h0M202.3 949.7h0M341.8 819.3h0M192.5 957.3h0M216.6 901.1h0M193.9 956.3h0M225.2 924h0M191.9 962h0M285.5 860h0M185.6 953.4h0M255.8 896.6h0M212.9 949h0M231.5 945.1h0M200.2 934.1h0M323.2 856.8h0M213.7 928.2h0M229.6 923.4h0M226.2 933.8h0M206.9 933.1h0M199 956.8h0M203.4 948.2h0M274.8 884.2h0M211.4 928.8h0M213.6 935.8h0M239.7 910.5h0M316.7 830h0M193.2 950.5h0M283.7 878.9h0M278.5 882.6h0M196.5 953.1h0M192.6 958.5h0M349.5 819.8h0M207.3 959.4h0M184 961.6h0M184.4 953.2h0M214.9 962h0M183.1 963.1h0M202.1 940.2h0M228.3 928.6h0M262.9 896.3h0M282.6 873.5h0M287.2 871.1h0M306.7 823.5h0M206.9 937.1h0M250 880.6h0M243.3 929h0M188.2 968.6h0M183.5 946.1h0M194.4 955.1h0M194.8 954.4h0M203.8 963.5h0M205.3 950.8h0M197.6 953.8h0M194.6 952.8h0M238.9 920.4h0M193.5 943.2h0M186.3 957.3h0M305.3 851h0M211.9 945.3h0M220.7 896h0M191.6 952.3h0M197.5 967.9h0M288.9 880.9h0M196.5 946.5h0M192.6 970.9h0M232.5 908.2h0M184.2 966.3h0M189.4 965.8h0M278.2 921.9h0M205.6 956.3h0M257 900.7h0M223.4 919.7h0M191.2 968.6h0M317 842.8h0M201.8 946.5h0M246.9 907.6h0M230.2 912.9h0M209.1 945h0M278.4 857.4h0M187.4 964.8h0M204.7 953.2h0M328.2 860.2h0M193.6 955.6h0M208.2 936.9h0M265 862.8h0M196.8 951.5h0M202.3 951h0M191.5 950.2h0M258.7 912.5h0M223.5 935h0M206.9 935.9h0M282.2 851.2h0M223 898.2h0M183.1 953.7h0M237.9 912.5h0M277.1 887.9h0M231 932.6h0M208.7 947.2h0M234.7 959.3h0M220.9 929.1h0M206.2 952.2h0M227.8 939.3h0M321.7 849.6h0M262.7 908.8h0M198 959.7h0M255 889.9h0M192.1 967.3h0M191.1 956.6h0M212.3 945.9h0M237.9 921.9h0M193.7 961.5h0M226.2 922.7h0M223.2 921.3h0M317.2 822.7h0M205 949h0M198.1 949h0M280.5 875.6h0M238.4 914.8h0M244.7 927.9h0M211.1 942.6h0M183.8 956.5h0M206.5 930.5h0M218.9 941.4h0M231.8 925.2h0M183.6 961.4h0M211.1 929.2h0M297.4 865.3h0M280.1 868.7h0M214.8 940.3h0M220.2 930.6h0M290.7 859.2h0M197.6 953.7h0M219.2 922.6h0M218.2 918.4h0M225.8 930.1h0M198.8 952.2h0M262.4 901.6h0M237.3 932.6h0M220.5 925.6h0M184.1 955.5h0M263 894.6h0M214 951.3h0M232.4 915.3h0M213.2 941.1h0M182.2 964.8h0M280.8 869.6h0M218.7 924.9h0M195 964.8h0M211.5 935.5h0M188.9 951h0M316.9 868.5h0M216.3 937.3h0M186.1 948.7h0M267.8 873.9h0M238.2 914.4h0M201.5 957.9h0M235.9 924.3h0M192.2 955.2h0M255.3 891.5h0M218.6 946.8h0M258.5 878h0M187 961.5h0M198.6 947.6h0M220.7 943.3h0M307.4 874.9h0M190.9 964.4h0M196 958.5h0M227.7 938.9h0M228.2 933.6h0M211.5 928.1h0M194.8 963.7h0M250.4 917.1h0M248.6 893.7h0M235.4 908.7h0M295 840.9h0M206 941.6h0M209.4 945.4h0M205.1 957.6h0M261.4 881.7h0M194.7 966.5h0M322.7 845.9h0M349.4 841.7h0M226.8 936.6h0M216.4 943.2h0M216.1 943h0M261.8 875.8h0M357.8 812.9h0M201.2 963.8h0M258.8 883.9h0M274.4 880h0M220.1 952.8h0M215.5 945.9h0M187.4 969.9h0M200.2 953.1h0M221.9 928.8h0M222.4 926.9h0M239.1 898.4h0M279.5 902.4h0M199.4 939.3h0M207.5 958.2h0M191.9 952.6h0M203.6 930.3h0M191 957.1h0M225.4 906.1h0M187.5 961.3h0M233.5 909.3h0M182.5 957h0M268.2 890.2h0M273.9 876h0M219.4 910.7h0M208.4 949.1h0M212.7 939.4h0M186.3 946.7h0M232.4 932.2h0M212.7 940.6h0M231.7 928.7h0M191.1 954.6h0M241.7 911.4h0M282.5 879.1h0M226.7 919.4h0M358.3 807.2h0M285 879.6h0M256.8 900.9h0M233.2 903.4h0M213.7 953.2h0M223 927.8h0M245.5 914.1h0M280.6 862.3h0M233.1 927.2h0M218.8 945.7h0M186 960.4h0M210.3 937.4h0M379 810.5h0M234.7 934h0M265 908.3h0M320.8 829.3h0M195.8 952.6h0M199.4 953.1h0M243.3 888.4h0M180.8 961.6h0M200.9 945.9h0M249 873.1h0M249.6 863.5h0M197 961.1h0M182.8 966.7h0M333 800h0M228.8 943.4h0M209.6 924.4h0M236.3 911.5h0M257.6 893.7h0M201.5 942.5h0M223.3 931.2h0M258.7 891.7h0M202.8 940.6h0M220.4 923h0M209.2 951.9h0M338.2 842.5h0M190.2 969.4h0M245.3 898.2h0M223.6 935.8h0M238.4 919.9h0M203.7 963.2h0M223.5 942.6h0M252.4 913.5h0M190.2 964.9h0M195.3 945h0M312.3 862.2h0M186.4 968.8h0M207.7 948h0M204.7 966.6h0M200.2 944.1h0M230.2 917.6h0M275.1 863.4h0M225.9 934.1h0M311.3 859.8h0M254.4 916.9h0M315.3 825h0M193.5 959.8h0M297.8 877h0M258.1 904.3h0M333.5 832.8h0M184.1 963.9h0M193 966.9h0M192.8 949.1h0M227.3 927.2h0M209.6 941.4h0M187.5 957.3h0M268.7 910.8h0M184.8 953.6h0M204.7 952h0M189.2 968.2h0M189 953.8h0M184.3 965.1h0M195 953.4h0M234.1 909.6h0M202.4 941.8h0M197.2 940.8h0M208.4 951h0M193.9 946.8h0M253.9 904.1h0M197.2 966.5h0M224.7 929.8h0M217 939.5h0M261.3 899.2h0M204.6 948.2h0M180.6 954.1h0M216.5 919.9h0M244.8 903.1h0M216.2 937.9h0M230.9 926.9h0M201.7 943.5h0M215 949.3h0M276 887.6h0M289.8 863h0M223.7 931.6h0M255.4 902.4h0M278 884.5h0M233.8 924.9h0M311 844h0M224.5 920.1h0M217.5 924.6h0M251 904.5h0M234.3 923.1h0M306.2 867.9h0M247.2 878.1h0M225.1 932.9h0M252 916h0M294.5 858.5h0M201.3 930.6h0M202.6 946.2h0M285 888.9h0M220.4 931h0M183.5 962.5h0M247.1 909.1h0M328.9 857.3h0M210.5 948.3h0M292.1 886.3h0M244 923.6h0M205.4 964.1h0M188.8 967h0M240.4 934.7h0M204.3 946.3h0M298 875.8h0M325.6 841.6h0M224.5 925.7h0M246.1 936.4h0M194.2 964.3h0M196.8 940.3h0M278.2 898.4h0M215.9 931.7h0M208.9 955.6h0M222.1 931.2h0M211.9 926.7h0M211.7 933.9h0M218 940.1h0M232.5 936.4h0M329 826h0M302.2 880.4h0M211.9 919.1h0M289.6 869.7h0M226.9 909.9h0M190.2 961.2h0M296.1 872.1h0M218.9 929.9h0M197 955.1h0M280 904.1h0M199.7 952.4h0M277.9 885.6h0M235.8 924.8h0M209.3 954h0M203.5 950.6h0M204.9 957.9h0M195.3 963h0M196.4 953h0M200.1 941h0M194.3 946.1h0M220.3 950.4h0M204.8 948.9h0M261.5 870.4h0M225.6 932.6h0M196.3 961.5h0M222.3 926.7h0M192.5 947.5h0M241.4 896.5h0M212.7 937.4h0M332.5 830.3h0M185.6 960.7h0M185.3 951.4h0M250.3 909.4h0M194 952.2h0M187.8 966.6h0M227.6 932.8h0M308 853.7h0M219.7 942.8h0M221.4 935.2h0M184.8 968.6h0M263.1 890.8h0M195.5 959.2h0M196.9 961h0M266.8 874.9h0M324.1 827.7h0M193.5 953.6h0M199.9 943.3h0M242.6 911.7h0M201 956.9h0M298.4 843.1h0M213.4 948.1h0M188.3 944.8h0M202.4 967h0M367.1 814.4h0M185.2 954.2h0M190.6 964.3h0M260.8 879.1h0M202.2 949.2h0M301.3 832.9h0M319.6 842h0M312.2 837.3h0M194.4 947.2h0M181.1 958.6h0M233.7 927.8h0M195.4 955.1h0M213.4 932.9h0M313.1 856.5h0M187.5 962.5h0M226.4 919.4h0M181.5 963.6h0M205.2 940.2h0M254.1 928.7h0M210.6 942.6h0M245.4 895.7h0M212.6 941.6h0M225.3 929.2h0M203.5 939.5h0M207.7 926.1h0M218.4 949.1h0M193.7 950.1h0M196.7 965.4h0M247.9 917.3h0M192.1 955h0M187.9 969.1h0M349.1 797.5h0M194.7 961.3h0M188.3 961.9h0M234.7 931h0M209.3 941.7h0M265.5 920.1h0M227.7 929.6h0M233.9 934.4h0M245.2 920.7h0M187.6 954h0M260.1 899.8h0M204.7 937.8h0M233.7 890.9h0M224.1 932.4h0M194.6 967.8h0M196.6 954.4h0M207.3 940.9h0M185.1 969.1h0M229.5 936.7h0M186.4 962h0M224.7 936.2h0M310 855h0M235.1 916.6h0M185 962.2h0M217.7 947.8h0M207.7 952.6h0M191.8 953.5h0M277.8 871.1h0M218.2 958.2h0M201.7 955.5h0M261.5 901.3h0M185.2 949.6h0M237.2 906.4h0M204.3 952.2h0M225.3 920.4h0M213.4 945.3h0M295.7 864.5h0M193.7 953.9h0M315.6 871.1h0M188.8 964.3h0M182 961.3h0M221 954.9h0M224.6 933.8h0M197.9 968.1h0M325 832.4h0M213.5 931.9h0M239.8 870.5h0M229.2 911.7h0M189 951.3h0M242.7 926.9h0M189.8 945.9h0M246.8 925.5h0M212.1 923h0M199 944h0M192.6 961.4h0M196.2 943.9h0M269.3 894.8h0M189.6 973h0M201.3 961.2h0M277.4 875.6h0M186.9 956.5h0M197.7 948.5h0M205.3 946.8h0M240.6 913.9h0M218.1 935.6h0M238.6 940h0M339.9 818.5h0M249.8 911.7h0M202.2 945.4h0M284.7 909.6h0M195.7 938h0M184.6 953.3h0M203.3 954.9h0M199.2 936.2h0M209.1 924h0M197 946.2h0M266.1 898.6h0M215 947.1h0M337.6 831h0M327.4 850.2h0M280 894.8h0M196.1 952.7h0M196 966h0M214.5 954.2h0M232.5 926.4h0M186.4 944.3h0M250.6 900.3h0M225.6 918.5h0M196.6 962.4h0M190 958.6h0M224.1 933.1h0M296 873h0M196.8 971h0M272.9 910.3h0M226.4 933.5h0M324.9 807.9h0M262.9 907.5h0M190.9 965.6h0M219.9 924.2h0M316.7 848.2h0M215.9 946.5h0M191 970.2h0M336.1 828.7h0M190 945.1h0M193.7 944.8h0M309.7 850.9h0M341.3 811.3h0M266.9 905.2h0M265.1 864.5h0M240.3 918h0M231.2 940.7h0M197.7 951h0M303.8 860.9h0M240.6 892.8h0M200.7 934.9h0M195.8 964h0M197.7 965.7h0M205.8 957.8h0M190.7 963.4h0M207 951.2h0M329.6 816.2h0M328.4 814.6h0M204.5 939.1h0M210.6 944h0M201.2 951.8h0M191.5 963.1h0M284.5 905.3h0M205.9 963.6h0M316.1 818.9h0M209.7 931.9h0M207.6 947.3h0M216.8 929.7h0M267.1 903.7h0M226.1 922.6h0M200.5 959.8h0M300.5 844.5h0M226.6 928.3h0M183 950.4h0M261.3 909.8h0M188.1 969.5h0M202 943.2h0M193.8 925.5h0M195.5 943.2h0M301.7 849.1h0M222.7 915.4h0M196.2 953.1h0M185 959.4h0M253.1 911.1h0M212.6 945.7h0M197.8 967h0M334 820.1h0M186.5 952.8h0M270.2 880.7h0M236.2 914.7h0M181.2 961.2h0M212 955.3h0M265.5 886.7h0M236.1 924.7h0M180.4 951.8h0M192.2 952.1h0M209.2 930.2h0M186.8 964.6h0M201.2 950h0M228.9 916.9h0M182.4 962.3h0M255.1 901.1h0M228.8 937.7h0M265.7 882.8h0M266.4 920.5h0M223.3 944.1h0M182.6 963.7h0M206.6 965.9h0M204.4 962.5h0M252.7 938.4h0M231.4 936.7h0M194 955.2h0M184.2 962.5h0M246.6 907.3h0M287.6 863.6h0M280.2 882.6h0M245.5 902.6h0M193.1 957.4h0M189.3 960.8h0M238.7 892h0M234.6 930.9h0M195.1 950.3h0M218.3 932.3h0M323.7 835h0M198.7 970.6h0M221.8 916h0M305 837.5h0M193.6 936.8h0M206.2 962.5h0M204.2 958.8h0M189.2 968.8h0M195.5 950h0M215.9 933h0M212.9 934.7h0M307.3 850.4h0M208.6 959.5h0M196.3 968.2h0M213.6 935.2h0M232.6 945.2h0M182.7 964.3h0M244.9 912.5h0M295.6 836.9h0M209.2 951.1h0M221.3 923h0M313.9 863.8h0M246.4 884.6h0M222.2 922.6h0M191.3 963.4h0M203.8 964.7h0M207.7 945.7h0M229.2 919.7h0M195.4 955.4h0M182.2 957.9h0M364.1 798h0M261.8 881h0M237.2 913.9h0M262.9 919.4h0M295.3 891.1h0M286.1 857.7h0M198 966.3h0M194.3 950.6h0M362 789.5h0M219 947.8h0M196.3 965.6h0M246.5 917h0M216 936.5h0M201 953.2h0M200 941.7h0M239.6 900.2h0M201.6 952.7h0M297.2 853.6h0M196.1 962.3h0M272.2 899h0M194.4 951.9h0M359.4 815.4h0M189.2 971.1h0M197.9 961.2h0M187.9 968.8h0M277.2 890.2h0M207.9 951.4h0M223.2 952.3h0M203.8 959.7h0M196 940.8h0M307.1 842.7h0M241.2 903h0M208.3 947h0M186.2 967.4h0M190.9 964.4h0M214.7 953.3h0M201.7 952.9h0M233.8 913.8h0M227.5 920.8h0M188.6 955.1h0M218.5 934.7h0M262.8 895.5h0M187 965.9h0M205.5 947.5h0M211.7 964.3h0M268.1 880.6h0M209.5 929.6h0M257.3 908.4h0M246.1 902.4h0M259.4 862.4h0M202 955.2h0M243.4 885.1h0M263.1 911h0M219.1 939.2h0M240.2 915.8h0M228.3 917.2h0M299.5 851.1h0M202 958.4h0M231 904.9h0M232.3 919.8h0M216.1 930.5h0M246.2 899.3h0M200.4 943.4h0M240.7 914.1h0M221.1 941.8h0M205.3 945.9h0M198.1 956.5h0M221.5 923.1h0M306.1 874.1h0M202.3 965h0M280.8 856.4h0M189 964.2h0M209.3 930.7h0M207.1 937.3h0M275.9 870.8h0M198.4 970h0M191.7 968.9h0M276.6 880.1h0M195.2 955h0M214 953.1h0M268.2 873.9h0M230.1 915.1h0M253 902.5h0M193.5 953.2h0M222 944.6h0M295.9 860.5h0M300.6 862.8h0M242.4 888.1h0M194.8 955.2h0M239.6 907.6h0M222.6 936h0M209.6 930.6h0M214.2 941.3h0M186 968.4h0M197.4 963.9h0M186.8 966h0M242.4 896.9h0M302.4 848.1h0M191.3 959.8h0M290.6 907.4h0M191.5 954.1h0M190.6 962.2h0M201.4 949.1h0M270.4 894.2h0M186.1 961.6h0M189.6 954.3h0M268.7 880.2h0M191.1 966.8h0M292 885.5h0M300.6 865.1h0M235.9 927.8h0M198.4 945.1h0M240.7 929.6h0M240.8 900.3h0M182.8 951.6h0M188.3 964h0M212.7 945.4h0M231.8 932.7h0M324.8 810.3h0M267.7 865.6h0M236.4 908.5h0M265.7 860.6h0M200.1 937.7h0M314.6 869.6h0M266 902h0M211.2 956.2h0M233.1 923.1h0M204 938.8h0M203.8 946.2h0M336 829.2h0M244.6 890.7h0M231.4 933.7h0M300.2 845.3h0M318.2 850.6h0M182.4 955.2h0M181.7 955.1h0M352.2 813.3h0M192.7 956.9h0M214.6 958.7h0M225.4 931.9h0M201.6 956h0M214.4 933.7h0M230.3 918.3h0M284.1 857.1h0M204.7 935.9h0M267.4 894h0M256.7 894.3h0M230.9 929.9h0M258.3 898.6h0M182.4 963h0M334.5 835.6h0M236.3 915.4h0M191.7 969.4h0M212.4 938.2h0M228.2 922.5h0M202 957.8h0M189.4 958.6h0M247.9 920.2h0M352.1 808.7h0M201.5 921.3h0M252.2 912.5h0M192.4 948.7h0M270.6 874.8h0M229.1 907.1h0M226.7 951.6h0M191.8 961.7h0M316.2 856.1h0M207.8 949.5h0M284.9 875.3h0M183.2 964.1h0M202.7 936.6h0M278 903.9h0M189.7 957.9h0M190.7 968.1h0M216.2 965.1h0M240.6 900.3h0M209.3 941.6h0M229 919.7h0M237.1 902.8h0M187.9 963.5h0M192.2 958.5h0M210 945.5h0M191 951.5h0M250.6 916.1h0M207.2 956.3h0M234.3 919.6h0M257.8 920h0M253 895.3h0M267.5 877.3h0M241.9 918.7h0M211.5 953.2h0M195.3 942.9h0M237.2 899.7h0M194.1 956.9h0M193.5 964.1h0M192.1 962.4h0M201.5 964.5h0M202.2 918h0M213.7 950.1h0M350.6 791.7h0M282.5 884h0M217.1 917.6h0M196.9 952.9h0M270.2 891.7h0M327.5 814h0M186.3 969.6h0M362.2 807.7h0M192.6 970.5h0M190.8 961.4h0M214.9 951.3h0M187.7 958.1h0M209 961.6h0M236.3 925.6h0M270.4 862.7h0M203.8 961.2h0M285 875.1h0M315.4 829.6h0M209 954.6h0M245.8 910.4h0M195.9 963.5h0M202.7 955.5h0M252 870.6h0M188.9 967.4h0M260.2 899.6h0M254.6 902h0M267.4 889.5h0M186.1 966h0M187.1 962.2h0M220.8 939.8h0M225.3 927.2h0M261.5 908.7h0M204.8 957.7h0M184.6 965.9h0M202 932.8h0M275.7 859.5h0M212.2 937.4h0M184.8 959.2h0M234.1 918.9h0M227.3 917.4h0M220.9 939.3h0M334.1 853.4h0M189 970.6h0M276.6 876.7h0M228.8 915.4h0M248.5 909.8h0M203.4 958.3h0M271.8 884.7h0M233.9 919.6h0M185.6 959.1h0M244 922h0M310.7 865h0M292.2 898.8h0M230.2 940.1h0M189.8 952.6h0M192.7 961.2h0M229.1 925.6h0M193.5 966.8h0M210.6 936h0M315.5 835h0M227.2 932.6h0M194.5 943.1h0M203.3 965.7h0M233.7 886.6h0M182.6 958.6h0M192.5 962.4h0M224.9 918.3h0M182.3 964.7h0M194.4 964.8h0M304.5 852.1h0M238.8 919h0M191.3 965.1h0M283.5 904.8h0M297.3 846.4h0M192.6 962.2h0M229.1 938h0M208.6 928.3h0M213.2 941h0M236.6 918.7h0M249.2 924h0M187.8 956.9h0M203.9 938.2h0M215.4 904h0M252.7 902h0M233.2 919.5h0M226.6 923.4h0M216.7 911h0M351.7 800.4h0M223.5 920.6h0M246.3 903.1h0M203.6 953h0M294.1 859.3h0M192.3 969.4h0M252.1 890h0M212.4 934.9h0M275.6 857.5h0M202.9 962.3h0M270.4 908.6h0M196 950h0M254.8 904.8h0M204.3 945.9h0M209.2 958h0M235.7 938.3h0M209.7 913.5h0M191 954.1h0M245.8 912.7h0M205.7 922.1h0M218.5 950.8h0M184.3 958.1h0M262.4 893.8h0M191.9 960.3h0M294.4 836.5h0M219.6 933.7h0M215.9 933.6h0M244.8 893.4h0M236.4 927.8h0M208.8 943.5h0M195.4 953.9h0M229.8 928.1h0M305.2 853.4h0M203.5 949.8h0M189.9 963.6h0M312 846.3h0M229.9 930.3h0M188.1 964.1h0M192.8 940.1h0M277.1 883.6h0M190 966.4h0M209.7 937.2h0M193.2 966.1h0M293.7 850.3h0M181.6 956.2h0M345.4 793.9h0M229.7 927.8h0M219 944.2h0M195.1 933h0M250.6 905.3h0M220.8 922.4h0M202.1 937.3h0M220.3 926.4h0M229.5 933.6h0M197.9 944h0M310.3 859.2h0M267.5 897.5h0M211 939.4h0M235.9 920.7h0M232 940.6h0M283.1 879.8h0M203.2 945.7h0M219.3 943h0M229.7 905.7h0M203.4 941h0M306.2 835.6h0M227.8 932.8h0M201.5 937.4h0M234.8 915.9h0M281.7 852.3h0M184.1 959.9h0M199.9 954h0M254.3 931.1h0M183 956.7h0M277.7 864.5h0M213.1 939.6h0M246.9 916.8h0M197.3 968.7h0M218.3 956.3h0M227.7 927.6h0M203.9 949.1h0M191.9 958.4h0M308.3 873h0M213.7 929.3h0M230.8 921.1h0M227.6 932.8h0M203.5 939.5h0M260.2 889.5h0M187.5 946.3h0M293.2 867.1h0M242.5 908.7h0M187.6 965.8h0M246.1 907.9h0M212.2 944.9h0M279.3 869.2h0M207.6 948.7h0M261.2 888.7h0M195 971.5h0M226.6 922.7h0M186 957.6h0M302.8 872.3h0M202 952.5h0M259.9 886.6h0M260.4 902.8h0M200.8 952.8h0M216.9 952.9h0M225.7 944.8h0M183.1 956.1h0M285.2 866.1h0M247 904h0M249.5 900.1h0M201.4 968.3h0M217 931.1h0M197.2 947.4h0M241.1 898.2h0M205.2 965.5h0M320.4 810.5h0M196.9 955.1h0M241.6 926.1h0M215.6 935.9h0M324.5 830.9h0M252.9 915.5h0M218.5 942.9h0M205.8 935.6h0M200.6 949h0M263.5 893.5h0M210.1 956.2h0M255.2 891.2h0M191.7 955.6h0M252.1 906.3h0M284.9 870.7h0M249.3 902.6h0M193.1 946.7h0M247.5 883.8h0M241.1 930.1h0M195.6 955.7h0M320.9 847.5h0M236.7 920.9h0M230.2 908.2h0M199.2 956.6h0M186.1 956.1h0M212.7 939.8h0M284.7 883.4h0M209.7 955.4h0M257.3 888.2h0M301.4 911.9h0M285.3 865.8h0M186.8 968h0M226.6 923.3h0M224 938.4h0M286.2 881.7h0M214.1 952.1h0M212.4 950.5h0M198.8 955h0M205.6 936.1h0M222.7 933.5h0M252.2 893.6h0M247.7 921.8h0M256.1 879.2h0M215.7 951.9h0M268.8 872.6h0M193 966.7h0M290.1 864.7h0M192.8 959.6h0M199.2 936h0M215.6 950.1h0M189.8 966.7h0M239.2 888.9h0M215.4 944.8h0M229.4 898.4h0M242.7 908.7h0M206.8 915.8h0M190.3 959.7h0M197.7 950.6h0M335.3 815.6h0M238 943.2h0M189.1 958.1h0M255.9 894.1h0M233.4 924h0M314.1 847.5h0M204.8 960.8h0M193.7 964.4h0M211.7 936.1h0M197.6 954.9h0M231.2 917.7h0M218.3 921.9h0M256 907.2h0M312.3 820.8h0M288.8 844.3h0M191.5 960.9h0M182.4 962.1h0M188.4 958.7h0M233.4 919.9h0M248.1 907.3h0M208.4 947.3h0M193.7 952.7h0M264.7 894.8h0M253.6 907.2h0M222.9 937h0M330.6 829h0M194 948.9h0M239.3 898.1h0M191.4 959.1h0M208.6 937.4h0M193.1 970.5h0M198.4 964.7h0M231.1 915.5h0M293 887.4h0M214 955.2h0M298 846.1h0M211.4 931.8h0M207.8 938.4h0M247.7 922.6h0M355 799.8h0M244.1 898.7h0M246.5 915.2h0M274.6 887h0M194.7 947.5h0M227.9 926.8h0M193 941.5h0M218.6 926.6h0M212.7 954.2h0M215.2 925h0M205.1 942.8h0M207.6 928.3h0M255.6 897.4h0M264.6 901.3h0M238.8 912.1h0M215.2 934.2h0M218.3 938.7h0M195.3 965.6h0M220 934.2h0M230.3 930.1h0M223.1 940.6h0M216.6 918.9h0M251.4 923.6h0M268.7 909h0M202 966h0M206.6 951.9h0M339.1 832.5h0M182.9 965.8h0M263.4 906.2h0M210.9 939.9h0M225.6 927.1h0M221.3 948h0M244.9 894.7h0M215 935.5h0M279.1 895.4h0M194.2 958.1h0M196.9 954.9h0M302.3 878h0M256 888.8h0M230.5 943.7h0M227.2 938.4h0M188.6 956.3h0M224.1 940.3h0M333.3 832.5h0M228.5 923.7h0M213.7 928h0M190.9 945.6h0M210.6 943.1h0M270.8 900.9h0M220.6 913.7h0M214.7 963.6h0M221.1 941.4h0M262.4 911h0M182.9 960.3h0M183.1 961.8h0M269.7 875.7h0M229.6 933.1h0M198.7 961.3h0M254 890.6h0M215.3 942.1h0M183.6 966h0M276.7 879.3h0M225.9 938.6h0M240.7 920h0M198.6 965.1h0M208.4 953h0M208 925.1h0M234.2 927.7h0M306.9 851.5h0M201 938.4h0M207.3 939h0M227.6 906.4h0M222.7 918.8h0M196.6 969.1h0M262.8 886.6h0M295 883h0M192.7 960.8h0M197.6 952h0M250.4 872.9h0M280.1 889.7h0M207.8 950.2h0M245.1 914.7h0M212.7 957.1h0M256.8 885.7h0M232.1 931.6h0M225.5 923.9h0M202.2 936.7h0M330.2 833.1h0M213.7 935.3h0M191.7 965.3h0M190.3 966.7h0M198.7 955.7h0M200.8 950.3h0M233.9 919.9h0M258.9 887.2h0M268.7 890.3h0M253.2 899.6h0M184.9 965.8h0M202.6 954.3h0M232.6 927h0M195.5 964.6h0M193.1 957.2h0M225.3 929.1h0M236.9 934.6h0M202 952h0M208.6 945.5h0M253.1 902.2h0M268 893.3h0M202.2 940.3h0M227 901.7h0M218.3 927h0M250.6 907.8h0M226.3 925.9h0M254.2 883.2h0M195.5 966.6h0M204.8 951.2h0M296.8 866.3h0M182.5 963.1h0M211.4 930.5h0M225 938.6h0M234.4 909.7h0M261.7 906.7h0M206.6 950.8h0M249.4 874.9h0M201.5 954h0M198.2 964h0M202.7 921.7h0M189.3 971.3h0M252.8 917.9h0M311.2 850h0M203.9 945.4h0M190.6 967.6h0M225.3 928.4h0M255.6 894.2h0M237.6 884h0M226.9 928.3h0M275.2 892.2h0M208.6 941.2h0M250.4 909.7h0M196.9 955.8h0M204.5 934.5h0M335.5 810.2h0M205.4 954.4h0M183.5 948.9h0M214.2 929.8h0M210.7 952.4h0M225.1 919.9h0M222.7 945.3h0M225.6 943.3h0M253.3 921h0M252.1 899.2h0M317.8 851.5h0M200.6 953.9h0M202.8 945.8h0M204.6 951.1h0M233.5 922.1h0M195.3 964.3h0M240.3 906.2h0M183.7 961h0M212.6 958.2h0M212.6 952.6h0M260.8 902.3h0M290.2 860.1h0M194.3 962.3h0M258.3 907.4h0M304.7 851.2h0M278.7 867.8h0M197.6 953.6h0M228.5 934.7h0M239.5 932.5h0M188 954.6h0M206.7 956.7h0M202.3 945.5h0M243.8 919.7h0M201.8 934h0M256 892.2h0M183.3 954h0M233.1 926h0M225.3 941.9h0M285.4 870.1h0M223 944.3h0M231.9 909.8h0M276.8 883.1h0M257.9 907.9h0M185.5 965.5h0M205 964h0M218.5 932.4h0M241.9 930.6h0M217.6 926.5h0M234.2 917.5h0M218.5 925.9h0M255 897.4h0M247.1 909.8h0M212.2 943.6h0M187.3 968h0M261 890.1h0M225.4 910.6h0M204.1 951.5h0M206.5 945.6h0M185.2 953.1h0M188.9 957.5h0M250.9 917.2h0M214 917.3h0M245.4 920.2h0M223 946.8h0M225.9 929.7h0M339.8 832.8h0M229.3 925.1h0M217.5 950.1h0M221.8 926h0M235.5 905.7h0M192.8 971.9h0M203.2 966h0M203.3 958.3h0M287.1 870.6h0M210.6 937.6h0M213.8 956h0M203.4 941.1h0M208.9 947.7h0M213 964.2h0M194.1 958.5h0M191.3 966.7h0M256.5 896.3h0M239.5 930.7h0M193.1 964.4h0M191.2 963.8h0M292.3 845h0M216.9 949.3h0M200 963.6h0M182.6 951.3h0M190.6 961.6h0M255.1 912.4h0M191.6 965.8h0M252.7 909.8h0M201.3 953.3h0M182.9 943.6h0M222.8 929.3h0M250.5 892.5h0M246.6 920.2h0M191.7 969.2h0M206.7 957.3h0M196.7 963.9h0M203.3 955.4h0M195.2 919.8h0M190.9 964.4h0M278.1 869.3h0M313.7 822.2h0M202.4 947.9h0M204.3 949.6h0M188.9 944.5h0M304.3 840.1h0M201.4 949.3h0M253.9 902.7h0M245.5 913.9h0M252 911.6h0M261.8 899.4h0M219.2 927.4h0M226.9 915.3h0M197.5 971h0M185 960.4h0M210.7 941.2h0M343.6 833.7h0M207 958.6h0M190 950.7h0M231.4 928.4h0M183.3 965.5h0M197.8 952.8h0M293 883.7h0M194.1 956h0M294 878.1h0M241.1 894.4h0M212.9 941.5h0M189.8 967.4h0M192.6 970.1h0M207.2 937.5h0M201.2 943.2h0M224.2 939.9h0M205.2 943.6h0M195.5 957.5h0M184.1 966.7h0M205.2 942.7h0M300.4 882.7h0M195.1 947.7h0M315.5 848.2h0M279.6 852h0M246.5 906.6h0M198.5 927.4h0M225.8 920.3h0M215 944.6h0M201 951.8h0M207.6 953.2h0M196.3 951.8h0M198.4 960h0M184.7 956.6h0M197.1 952.8h0M287.3 878.4h0M257 920.1h0M320.8 811.8h0M188.8 967.2h0M252.3 920h0M207 951.4h0M222.7 946.6h0M213 939.2h0M301.2 840.8h0M181.1 963.1h0M258.5 899.9h0M207.1 946h0M239.2 917.9h0M213.5 951.1h0M254 877.1h0M203.7 956.3h0M271.2 868.8h0M232.1 936.3h0M239.9 891.1h0M246.6 916.9h0M221.9 928.6h0M202.6 961.7h0M216.2 925.9h0M259.8 893.8h0M226.1 918.1h0M215.6 947.8h0M284.8 892.6h0M200.8 954.2h0M199.1 953.6h0M202.8 961.8h0M289.5 875.3h0M182.4 958.7h0M208.4 939h0M213.6 927.3h0M203.1 943.9h0M200.3 966.7h0M205.1 958.2h0M205.6 932.3h0M215.5 946.6h0M281 871.1h0M210.7 958.2h0M230.2 949.7h0M326.6 826.7h0M217.5 952.3h0M259.6 916.5h0M271.9 880.7h0M190.6 968.3h0M208.2 958.2h0M339.4 826.2h0M220.1 918.5h0M194.6 960.5h0M196.1 963.2h0M198.6 964.8h0M303.6 827.6h0M190.1 958.2h0M261.5 876h0M228.3 912.5h0M242.1 909.3h0M216.9 956.2h0M190.8 956.3h0M345 803.5h0M199.4 962.5h0M240.9 911.2h0M279.6 890.9h0M212.2 956.6h0M195.6 958.5h0M198.3 957.9h0M202.9 948.7h0M231.1 915.7h0M246.4 915.8h0M194 933.2h0M241.5 905.3h0M198.2 937.1h0M206.9 949.7h0M193.1 970.6h0M280.8 890h0M238.6 908.7h0M189.9 945.6h0M199 950.6h0M297.3 868.1h0M246.1 906.1h0M189.7 965.8h0M211.7 950.3h0M186.9 955.9h0M191.8 947.9h0M248.5 910.7h0M202.3 948.1h0M321.5 848.9h0M189 965.7h0M304.4 841.6h0M231.4 921.9h0M253.2 889.9h0M260.4 899.8h0M194.7 966.8h0M305.3 837.8h0M201.3 952.8h0M226.8 931h0M283.2 856.9h0M228.4 943.8h0M195.2 937.2h0M203.5 937.8h0M299.8 868.1h0M205 953h0M219.7 925.6h0M189.1 951.5h0M200.4 945.8h0M185.9 964h0M341 834.8h0M202.5 967.3h0M193.5 961.1h0M186 967.6h0M194.2 962.3h0M272 882.7h0M225.9 935.6h0M189.5 967.8h0M221.6 916.7h0M264.1 900.5h0M202.1 965.3h0M246.4 920.9h0M202.2 957.6h0M217.4 952.4h0M339.1 861.6h0M315.8 837.1h0M193.6 943.6h0M257.4 900.1h0M253.7 905.4h0M306.4 867.3h0M247.3 915.8h0M302.8 868.9h0M322.5 840.8h0M194.3 955.6h0M190.5 955.9h0M208 948.8h0M272.3 887.7h0M247.3 914h0M225.1 914.7h0M200.1 943.9h0M199 949.5h0M221.7 913h0M241.1 908.3h0M342.2 842.5h0M229.5 918.2h0M227.8 919h0M247.4 915.3h0M216.2 938.8h0M239.2 917.5h0M257.6 917.5h0M192.1 966.4h0M269.1 920.4h0M189.6 970h0M280.9 871.2h0M205.8 956.1h0M217.7 954h0M201.3 954.5h0M201.4 957.1h0M186.9 963.3h0M235.6 937.1h0M214.3 927.4h0M210.6 961.9h0M182.3 960.9h0M214.4 935.7h0M205.3 947.7h0M196.6 948.9h0M231.2 928h0M218.3 940.3h0M193.1 958.7h0M222.9 948.6h0M268.6 876.4h0M234.4 913.7h0M196 964.3h0M216.7 946.3h0M216.7 948.2h0M261.2 881.6h0M250 893.1h0M231 936.1h0M364.3 814.4h0M194.1 943.7h0M227.4 934.2h0M213.6 951.3h0M193.2 956.6h0M246.4 915h0M280.3 876.3h0M224.2 928.6h0M293.4 842.5h0M211.8 929.8h0M225.7 924.7h0M186.1 969.5h0M299 857h0M197.9 942.4h0M321 838.1h0M203.6 931.8h0M228.7 919.1h0M191.6 944.3h0M234 916.1h0M237.3 923.3h0M196.4 953.1h0M185.8 954h0M217 965.4h0M243.9 935.9h0M213.1 928.6h0M340 852.9h0M285.6 865h0M199.3 950.4h0M185.2 956.2h0M202 942.3h0M270.7 901.5h0M220.5 943.4h0M231.7 932h0M286.4 859.8h0M210.6 943.7h0M195.9 970.8h0M204.9 954h0M224.5 946.2h0M188.5 949.7h0M200.8 940.3h0M284.1 851.3h0M248 898.5h0M241.4 906.6h0M202.7 945h0M239.1 897.7h0M283.5 894.2h0M183.8 956.1h0M209.8 944.9h0M218.8 932.2h0M289.6 873.4h0M204.5 956.3h0M187 962.5h0M297.9 873h0M229.1 905.1h0M202.5 930.7h0M200.2 932.2h0M189.7 955.8h0M288.4 881.1h0M193.3 958.5h0M182.6 962.2h0M219.6 944.7h0M204 951.4h0M333.3 837.1h0M209.8 946.8h0M191.5 966.3h0M189.8 947.8h0M249.4 908.2h0M186.5 957.1h0M201.1 961.7h0M359.5 816.8h0M192.5 940.1h0M291.7 846.7h0M250.4 912.6h0M200.7 959.5h0M294.8 863.8h0M233.8 902.8h0M189.2 961.2h0M196.1 936.9h0M221.8 904.3h0M201.2 952.4h0M277.3 883.7h0M288.5 903.8h0M238.2 899.3h0M187 967.9h0M319.4 864.3h0M206 932.8h0M266.1 930.4h0M213.2 943.8h0M220 928.6h0M202.6 943.4h0M220.7 935.9h0M191.7 948.8h0M197.8 942.1h0M213.1 930.9h0M196.7 957.2h0M295.3 853h0M185.9 957h0M211.9 958.5h0M207.6 952.8h0M189.4 954h0M337.5 823.2h0M212.6 963.8h0M188.1 952.6h0M195.8 960.9h0M270.8 893.1h0M202 945.2h0M207.3 939.2h0M245 914.2h0M318.9 850.2h0M188.6 964.8h0M200.7 963h0M190.9 955.4h0M246.8 893.7h0M240.9 924.9h0M275.9 894.2h0M181.5 965.3h0M185.2 951.8h0M218 938.6h0M225 907.4h0M248.9 910.1h0M226.5 918.4h0M213.7 951h0M185.9 967.3h0M196.1 948.9h0M183.2 955.7h0M316 839.7h0M226.4 922.7h0M317.4 847.2h0M221 918.9h0M216.8 939.2h0M260 900.6h0M205.3 951.1h0M331.9 816h0M220.7 934.1h0M284.9 894h0M250.9 905h0M242.7 909.1h0M236.7 932.8h0M202.5 958.5h0M210.3 949.1h0M224.9 952.9h0M216.6 942.3h0M211.5 915.1h0M229.7 938.5h0M201.5 957.6h0M190.4 953.5h0M325.3 843.8h0M233.1 931.6h0M222.2 942h0M218.3 942.7h0M212.4 930.3h0M191.3 949.3h0M345.6 842.5h0M187 953.6h0M292 858.9h0M195 960.6h0M186.1 959.2h0M356.5 803.3h0M202.5 940.8h0M220.2 931.6h0M215.9 929.9h0M257.5 877.7h0M196.3 955.4h0M210.8 940.4h0M321.7 869.2h0M252.6 917.7h0M190.3 946.6h0M238.4 902.2h0M265.6 869.6h0M207.6 943.4h0M212.3 935.1h0M250.1 916.2h0M204.1 950.6h0M196.3 943.1h0M246.1 910.4h0M284.4 892.3h0M229.9 933.9h0M213.3 956h0M248.8 909.9h0M200.1 950.5h0M188.9 967.2h0M231.9 920.5h0M237.6 918.5h0M211.4 944.6h0M219.8 926.1h0M200.9 951.3h0M234.6 915.6h0M263.9 862.4h0M212.4 948.6h0M222.6 930.5h0M221.1 928.3h0M197.4 960.4h0M224.8 927.8h0M194.6 946.4h0M186.3 966.3h0M201.1 956.8h0M185.4 967.6h0M190.5 963.3h0M210.5 947.5h0M215.3 952.7h0M264.1 910.4h0M191 972h0M203.8 961.8h0M192.7 965.1h0M203.2 965.3h0M257.1 906.3h0M220.2 941.9h0M223.5 923.8h0M254.5 887.9h0M193.6 963.3h0M198.4 957.8h0M235.2 949.2h0M200.1 950h0M206.5 962.1h0M328.7 827.4h0M205.2 961.5h0M314.3 858.1h0M252.9 910h0M204.9 950.5h0M183.5 965.9h0M198.5 961.7h0M233.2 930.3h0M310.7 841.7h0M220.6 927.3h0M264.1 905.2h0M210.7 930.4h0M246.3 905.3h0M181.3 959.3h0M228.8 919h0M198.8 944.7h0M269.4 872.2h0M187.4 970.3h0M196.2 965.1h0M304.6 876.3h0M191.6 956.3h0M224.7 905.2h0M332.8 811.6h0M247.4 934.8h0M221.5 944.8h0M218.7 947.9h0M285.4 876.1h0M181.7 963.6h0M309.8 842.5h0M233.1 911.6h0M301.9 881.4h0M250.1 914.6h0M216.3 940.5h0M244 899.8h0M266.6 888.2h0M182.3 965.8h0M195.9 937.6h0M258.2 868.5h0M256.5 901.6h0M239.2 922.5h0M293.9 851.3h0M188.7 960.6h0M269.4 905.1h0M301.5 851.4h0M341.7 807.7h0M188.6 963.7h0M219.6 940.6h0M196.1 956.5h0M226 907.7h0M231.8 921.2h0M195.9 957.7h0M196 970.5h0M227.7 914.7h0M193.9 942h0M255.6 896.3h0M199.5 948.1h0M204.9 945.5h0M235.4 940.1h0M218.1 943.7h0M212.3 940.5h0M225 940h0M193.6 955.1h0M321.5 847.1h0M198.3 945.8h0M209.7 941.5h0M204.7 956.5h0M254.1 878.2h0M247.4 892.2h0M192.2 954h0M209.3 942.5h0M237.1 900.3h0M197.4 959.5h0M190.5 963.2h0M219.3 939.5h0M226.9 920.5h0M299.7 865.2h0M328.7 856.2h0M324 807.7h0M232.6 936.7h0M217.2 943.9h0M274.8 908.6h0M266.1 861.1h0M235.6 906.4h0M238 911.1h0M213.9 941.4h0M189.8 957.4h0M182.7 955.2h0M209.4 941h0M196.7 965.5h0M227.2 926.3h0M352.6 833.3h0M200.6 946.3h0M192.2 948h0M182.8 963.8h0M314.2 836.5h0M207.1 931.3h0M203.4 957.7h0M195.2 967.9h0M264.1 913.5h0M252.6 883.2h0M362.4 823.2h0M197 953.1h0M214 948.8h0M197.5 955.8h0M188.5 971.9h0M225.1 944h0M279.6 894.6h0M208 929.2h0M223.8 942.2h0M219.2 917.5h0M234.9 899.6h0M239.3 907.1h0M237.3 914h0M191.2 956.1h0M198 943.1h0M214.8 944.7h0M225.1 926h0M186.7 954.9h0M246.9 898.9h0M204.9 935h0M248.6 878.1h0M198.5 955.6h0M231.4 924.6h0M210.8 932.8h0M332.3 815h0M192.8 958.2h0M306.9 868.5h0M192.7 966.5h0M314.2 845.8h0M213.4 936.6h0M237.1 920.8h0M192.8 947.9h0M341.6 810.3h0M350.2 802.7h0M207.8 961h0M282.6 877.2h0M216.5 954.4h0M326.3 858.6h0M192.7 960.9h0M260.7 893.9h0M190.7 953.5h0M207.5 943h0M275.3 884.9h0M185.2 961.2h0M199.9 948.1h0M319.5 842.6h0M241.9 904h0M207 938.4h0M191.3 969.4h0M197.3 954.6h0M225.3 919.1h0M271.1 904.7h0M197.8 948.6h0M187.1 962.1h0M243 940.7h0M305.6 840.9h0M201.1 945.5h0M305.7 866.2h0M187.8 960.1h0M289.6 884.2h0M211.7 920.1h0M244.1 936.4h0M233.5 938.6h0M218.6 938.4h0M183.5 962.5h0M192.8 959.9h0M193.8 961.2h0M189.6 970.8h0M227.2 917h0M201.6 954.1h0M250.8 897.1h0M204 956.3h0M243.9 918.4h0M319.9 810.3h0M217.7 923.2h0M212.1 927.3h0M302.9 870.9h0M225.2 916.4h0M212.5 951.5h0M333.7 828.8h0M254.5 904.1h0M228.8 914.2h0M219.2 939.2h0M233.1 909.8h0M186.3 968.9h0M240.2 925.1h0M305.6 876.2h0M196.1 959.1h0M277.1 883h0M332.9 833.8h0M228.5 919.3h0M301 851.4h0M193 960.8h0M187.8 969.5h0M228 927.3h0M212.1 918.6h0M279.8 885.9h0M240.1 925.1h0M187 968.7h0M184.9 961h0M211.7 946.3h0M196.4 938.8h0M327 844.9h0M274 905.9h0M229.8 902.8h0M200.7 949.8h0M197.8 958.5h0M210.8 938.4h0M182.6 960.7h0M221.5 944.1h0M300.7 855.3h0M321.8 845.5h0M265.2 902.2h0M188.3 966.3h0M198.1 965.9h0M229.9 932.9h0M194.4 948.9h0M212.2 938.9h0M215.2 926.5h0M196 959.6h0M242.4 890.4h0M210.4 942.8h0M294.9 876.5h0M283.6 866.4h0M227.6 923.4h0M181.4 957.8h0M246.3 926.9h0M212.9 951h0M198.8 958.2h0M208.3 922.5h0M185.4 965.6h0M183 958.9h0M196 955.1h0M312 838.7h0M180.9 957.1h0M253.3 921.4h0M230.4 934.2h0M237.2 928.2h0M263.4 908.9h0M192.5 952.4h0M197 955.7h0M279.5 863.7h0M197.8 959h0M195.7 966.8h0M226.3 917.2h0M191.5 962.1h0M218 949.5h0M187.1 967.1h0M188.3 959.9h0M197.5 944.8h0M217.9 927.2h0M244.8 911.2h0M219.1 918.7h0M210.6 922.2h0M262.8 902.1h0M187.5 965.6h0M218.3 938.4h0M203.2 936h0M210.5 946.4h0M188.1 944.7h0M225.8 914.6h0M219.7 934.4h0M203.6 949.5h0M241.8 888.9h0M227.4 945.1h0M228 912.5h0M212.1 959.3h0M214.6 921h0M215.8 945.7h0M191.3 972.4h0M187.8 965.9h0M185.2 956.3h0M243.4 933.4h0M224.1 929.7h0M281.5 884.2h0M188.4 971.6h0M182.5 951.2h0M186.8 952h0M219.6 928.3h0M341.7 814.7h0M238.9 915.2h0M266.8 899.8h0M200.9 953.2h0M190.8 945.7h0M255.4 902.8h0M194.2 951.4h0M243.3 911.7h0M286.6 838.4h0M184.9 961.2h0M210 953.5h0M312.6 868.2h0M303.7 838.1h0M188.3 971.8h0M183.1 963.5h0M337.1 816.3h0M288.3 860.4h0M296.3 873.2h0M221.6 899.1h0M342.3 834.2h0M239 903.2h0M234.6 928.8h0M219.7 943.8h0M254.3 909.5h0M221.5 930.8h0M215.4 920.2h0M288.1 874.7h0M257 882.5h0M199.3 959.7h0M259.4 870.4h0M221.3 927.6h0M188.3 967h0M204.8 932.8h0M220.2 937.2h0M186.2 966.1h0M233.5 895.5h0M211.2 956.9h0M222.1 924.5h0M195.9 960.8h0M279.1 880.2h0M251.5 872.1h0M193.1 947.9h0M197 954h0M195 946.6h0M252.9 882.5h0M286.2 855.8h0M204.4 964.6h0M200.1 957.1h0M242.8 913.4h0M187.9 960h0M334.6 866.5h0M281.9 874.5h0M240.6 908.3h0M185.5 968.5h0M191.4 966.6h0M190.4 964.8h0M223.6 947.7h0M238.9 937.6h0M220.7 931.8h0M206.2 941h0M234.4 907.5h0M214.8 941.9h0M317.5 843.4h0M198.6 966.6h0M185.4 965.4h0M207.1 951.7h0M191.8 964.4h0M198.9 964.8h0M184.8 961.6h0M288.6 890.9h0M206.1 956.9h0M203.8 939.8h0M196.5 963.8h0M333.6 818.4h0M340.1 843.2h0M185.7 948.3h0M195 960.2h0M359.9 827.5h0M188.1 954.7h0M221.6 901h0M281.2 872.1h0M185.8 968.3h0M195.6 952.3h0M197.3 967.4h0M182.8 963.1h0M227.5 916.9h0M182.8 962h0M206.2 947.5h0M299.1 868.7h0M275.6 910.5h0M226.1 919.9h0M244.5 890.9h0M267.9 888.5h0M207.1 968.4h0M200 947.2h0M272.6 885h0M273.6 872.9h0M308.8 860.8h0M207.3 946.2h0M217 938.6h0M222.5 931.5h0M253.1 886.2h0M202.7 941.5h0M222.8 910.6h0M186.6 965.9h0M267.4 913.2h0M181.6 960.3h0M192.5 953.2h0M212.7 924.4h0M197.3 935.3h0M232.1 926.2h0M182.8 957.4h0M253.7 890.9h0M204.4 959h0M191.3 949.2h0M327.4 839h0M210.7 959.5h0M187.9 966.1h0M202.4 962.4h0M281.9 879.3h0M284 862h0M274.8 877.8h0M270.3 901.4h0M185.6 967.1h0M276.6 894.2h0M206.9 938.3h0M205.1 941.3h0M232.2 920.7h0M362 851.7h0M230.2 902h0M220.5 925.4h0M200.5 946.3h0M240.8 921.6h0M211 935.5h0M209.4 946.8h0M219.9 938.7h0M211.9 930.2h0M196.6 947.2h0M201 954.1h0M327.4 849.5h0M252.1 922h0M222.8 945.9h0M229.8 915.3h0M281.8 876.3h0M196 963.1h0M187 967.7h0M235.8 906.9h0M191.5 966.9h0M208.7 937.6h0M272 864.5h0M208.2 936.5h0M220.6 940.4h0M221.7 928.5h0M204.9 937.7h0M301.9 857.6h0M196.9 954h0M232.9 928.7h0M226.6 925.4h0M227.3 933h0M248.6 918.2h0M197.5 949.1h0M242.7 922.5h0M201.7 960.9h0M288.5 871h0M188.1 970.9h0M250.7 909.8h0M206.8 949.1h0M279 893.9h0M191.8 966.2h0M204.2 938.5h0M188.7 964.9h0M187.4 956.7h0M217.8 930.1h0M249.4 908.7h0M194.8 934h0M190.1 958.7h0M245.4 922.1h0M205.2 949.4h0M223.5 929.3h0M272.8 877.5h0M195.6 956.1h0M225.7 927.9h0M213.5 930h0M257.1 894.8h0M207.7 931.2h0M235.2 913.3h0M278.7 880h0M242 911.4h0M216.1 941.3h0M296.9 828.9h0M225.7 912.8h0M280.8 886h0M189.3 961.3h0M229.6 942.2h0M213.4 926.4h0M288.5 896.5h0M207.8 932.7h0M358 800.9h0M186.4 964.1h0M321.4 850.6h0M301.5 825.3h0M261.5 890.6h0M189.2 955h0M282.1 889.4h0M230.5 940.8h0M230.9 939.1h0M231.3 905h0M303 859.1h0M191 951.3h0M325.1 817.5h0M192.5 953.2h0M245.3 897.1h0M210.5 937.2h0M350.7 835.3h0M191.2 961h0M202.8 954.8h0M186.9 959.5h0M190.5 959.1h0M247.9 894.3h0M197.5 964.3h0M267.9 890.8h0M183.9 960.8h0M219 930.9h0M233.2 910.8h0M343.5 833.4h0M258.7 885.6h0M211.4 930.3h0M186.4 950.2h0M212.4 939.1h0M368.8 788h0M189.5 953.4h0M186.4 958.6h0M225.2 927.3h0M252.3 910.2h0M256.3 870.8h0M293.1 854.4h0M189.8 951.8h0M189.4 965.5h0M329 811.6h0M192.9 966.6h0M205.9 932.9h0M212.4 937.8h0M257.3 914.9h0M213.4 938.4h0M205.7 925.5h0M193 961.3h0M259 901.5h0M197.9 963.7h0M207.1 932.8h0M195.7 971.4h0M214.2 918.9h0M189.4 957.8h0M251.1 885h0M183.8 966.3h0M184.7 958.4h0M193.7 953.7h0M274 883.9h0M254.5 891.6h0M239 901h0M283 870.3h0M205 945.7h0M196.1 964h0M221.5 928.4h0M353.7 797.4h0M207.6 961.3h0M235.6 912.5h0M190.1 944.3h0M196.4 952.4h0M316.8 859.9h0M191.4 965.5h0M254.2 924.1h0M226.9 909.7h0M185.7 956.7h0M191.7 958.3h0M208 946.3h0M288.7 839.5h0M268.5 886.8h0M204.6 943.2h0M352.9 816.2h0M278.2 884.5h0M285.6 916.3h0M193.3 959.3h0M193 964h0M203 951.7h0M189.4 963.1h0M315.2 821.8h0M206.2 938.5h0M283.8 849.5h0M214 933.1h0M223.3 941h0M189.1 969.5h0M203.5 946.2h0M252 933.6h0M230.3 912h0M194 952.4h0M185.2 966.3h0M201.5 946.6h0M254.6 887.8h0M252.9 912.4h0M237.3 880h0M244.5 905.4h0M222.2 936.2h0M183.8 964.9h0M203.6 965.7h0M235.1 919.2h0M208.9 947.8h0M192.3 952.4h0M243.5 903.3h0M255.1 888.7h0M202.3 940.1h0M214 920h0M184.7 964.8h0M213.7 937.2h0M255.1 907.4h0M206.2 955.8h0M202.1 953.5h0M245.8 907.2h0M299.4 873.5h0M201.2 929.4h0M198.3 953.1h0M358.6 794.6h0M292.3 870.3h0M261 896.9h0M259.4 889.5h0M211.7 944.2h0M242.4 907.3h0M197.9 952.6h0M219.5 950.8h0M233.7 898.7h0M234 913.7h0M243.9 892.8h0M225.9 919.1h0M180.7 958.7h0M227.8 960.1h0M258 887.7h0M211.9 940.7h0M211.9 929.6h0M217.5 943.9h0M203.4 958.9h0M359.3 806.8h0M260 892h0M212.3 947.3h0M229.6 906.1h0M221 921.1h0M226.3 928.4h0M233.2 945.5h0M250.4 896.2h0M231.1 913.5h0M260.2 883h0M190.3 969.2h0M254 917.2h0M193.4 962.2h0M250.2 904.5h0M251.7 905.3h0M214.8 937.1h0M187 968.8h0M185.1 964.6h0M232.4 927.7h0M193.5 958.9h0M245.5 905.1h0M204.1 956.7h0M192.1 962.8h0M310.9 855.7h0M239.9 920.1h0M192 964.9h0M186.8 961.3h0M190.7 971h0M282.9 878.2h0M261.7 902h0M275.1 872.1h0M224.4 930.9h0M307.2 834.9h0M232.6 921.1h0M201.9 943.1h0M186.6 965.1h0M181.1 961.2h0M257.7 888.4h0M198.6 950.6h0M199 939.9h0M254.5 897.4h0M277.6 861.6h0M328.4 864h0M246.9 894h0M220.7 919.9h0M205.6 949.4h0M195.9 951.2h0M288.1 874.5h0M285.3 880.2h0M196 960.8h0M232.6 935.1h0M189.2 964.6h0M193.8 964.3h0M200.2 948.7h0M209.5 941.9h0M194.1 967.5h0M262.8 873.9h0M302.8 864.9h0M192.4 950.3h0M281.5 873.8h0M197.5 954.7h0M229.2 912.7h0M195.6 953h0M256.9 917.7h0M186.2 968.1h0M276 899.9h0M190.9 959.2h0M192.3 952.6h0M287.6 839.5h0M304.4 849.5h0M186.5 970.3h0M221.2 930.1h0M259.5 892.9h0M230.8 932.8h0M252.3 936.8h0M299.7 850.3h0M194.7 949.9h0M259.1 918.8h0M181 963.2h0M260.8 900.6h0M324.3 842.2h0M210.1 951.2h0M255.2 907.6h0M207.8 928.3h0M183.1 964.6h0M192.3 954.5h0M194.5 965.4h0M230.5 941h0M238 882.6h0M186.4 956.5h0M193.2 954.8h0M308.9 859.7h0M236.7 916.8h0M200 954.9h0M225.7 935.9h0M215.6 931.8h0M189.9 956.7h0M265.8 899h0M213.5 950.6h0M192.3 956.9h0M192.8 962.3h0M256.3 899.5h0M265.4 889.6h0M252.5 888.6h0M274 901.1h0M271.5 884.5h0M190.7 970.1h0M217.2 929.3h0M234.4 903.1h0M188.3 971h0M204.6 947.3h0M209.6 946.4h0M272.6 861.1h0M192.6 946.2h0M181.5 954.4h0M220.9 936.5h0M282.8 898.5h0M185.7 961.9h0M198.8 953.5h0M252 906.3h0M204.4 951.8h0M207.5 959.9h0M203.9 958h0M211.2 937.2h0M189.2 968h0M198.6 940.9h0M206.7 943.4h0M251.4 901.6h0M319.1 868.2h0M189.1 969.6h0M188.4 962.5h0M303.8 881.5h0M286.8 878.9h0M248 905h0M261.9 909.7h0M222.7 936.8h0M215.8 956.2h0M184.6 965.9h0M224.5 919h0M280.5 896h0M207.6 933.6h0M240.6 917.2h0M200.1 960.8h0M316.8 849.4h0M199.5 950.6h0M237.9 918.2h0M251.6 895.8h0M287.6 848.3h0M264.4 904.4h0M292.1 866.8h0M191.1 970.5h0M249.8 890.9h0M223.7 935h0M206.3 931.1h0M198 947.8h0M183.8 967.8h0M239.8 908.3h0M192.1 962.2h0M263.4 918h0M184.9 962.7h0M233.4 942.5h0M235.9 896.2h0M208 952.8h0M301.3 882.3h0M201.5 955.4h0M190.3 969.5h0M187.9 957.9h0M195.8 957.5h0M201.2 950h0M353.7 805.9h0M354.6 849.6h0M199.4 940.4h0M234.1 901.5h0M242 907.8h0M184.5 967.1h0M234.8 916.9h0M217.4 938.3h0M194.3 958.9h0M186.3 958.3h0M228.8 931.5h0M189.8 959.3h0M209 937.3h0M185.9 968.5h0M206.6 955.8h0M266.6 857.8h0M221.2 905.7h0M194.3 941.6h0M195.6 963.8h0M283.6 858.5h0M292 827.2h0M218.1 943.9h0M254.9 899h0M232.7 918.3h0M226.7 933.2h0M213.7 935.7h0M188 964.2h0M203.6 958h0M220.8 958.9h0M208 933.1h0M227.3 922.8h0M187.2 965.9h0M195.1 950.9h0M239.8 925.1h0M279.5 912.6h0M300.5 852.2h0M205.4 959.2h0M283.9 866.6h0M191.8 967h0M201.4 959.8h0M209.9 945h0M193 956.1h0M194.9 951.8h0M189 964.8h0M184.5 967.8h0M238.7 893.7h0M214.9 965.1h0M201 957.5h0M205.1 953.8h0M332.6 838.3h0M233.3 906.3h0M224.6 931h0M269 911.1h0M206.9 948.2h0M198.7 951.4h0M206.1 956.5h0M258.6 881.4h0M296.1 863.2h0M251.3 912.3h0M233.4 937.5h0M210.4 949h0M201.6 939.6h0M207.8 938.4h0M188.2 971h0M197.7 947h0M232.3 922.7h0M190.2 935.9h0M319.5 855.5h0M204.1 926.8h0M198.8 954.8h0M250.2 906.8h0M216.6 919.5h0M271.8 896.3h0M193.5 952.4h0M237.1 914.1h0M202.5 951.6h0M266.9 898.2h0M219 931.3h0M207.6 950.2h0M210.3 957.1h0M235.6 931.1h0M214.7 946.1h0M191.2 941.9h0M206.5 932.3h0M277.3 868.3h0M184.8 968.1h0M268.6 903.8h0M203.3 959.1h0M271.9 921.1h0M278.6 864.3h0M209.7 933.7h0M194.1 959.2h0M212.5 941.2h0M204.6 937.1h0M274.5 886.8h0M250.9 910.9h0M198.7 951h0M208.4 929.7h0M213.1 954h0M186.2 955.1h0M216.3 949.5h0M251.6 903.8h0M209.8 949.2h0M202.7 946.8h0M273.2 885.2h0M183.9 961.6h0M204.7 954.7h0M193.6 959h0M233.8 899.3h0M211.2 931.8h0M206.6 948.1h0M218.3 941.7h0M204.3 954.9h0M244.2 883.6h0M237.3 924.2h0M193.5 947.7h0M192.6 956.9h0M238.8 912.7h0M343.4 813.4h0M197.6 958.8h0M275.2 865.9h0M197.5 968.3h0M222.7 935.7h0M210.3 955.2h0M190.9 952.5h0M195.9 948.3h0M213.3 940.4h0M231.1 904.2h0M201.6 947.3h0M250 925.1h0M242.6 931.1h0M242.1 909.8h0M240.3 887.3h0M240.3 938.5h0M242.6 900.7h0M187.6 951.5h0M192.9 961.2h0M294.4 871h0M263.8 896.9h0M186.2 963.9h0M201.1 950h0M190 966.5h0M206.2 927.8h0M224.5 933.1h0M238.8 920.5h0M229 930.6h0M214.7 956.1h0M212 947.4h0M191.2 965.3h0M190.7 964.9h0M278.5 881.9h0M188.8 972.2h0M180.5 953.7h0M317.1 856.1h0M216.5 931.5h0M216.5 944.8h0M237.9 920.5h0M223.5 940.4h0M186.9 962.1h0M229.5 948.6h0M203.2 917.8h0M196.5 962.7h0M232.6 904.1h0M190.3 955.5h0M237.4 924.4h0M188.6 957.6h0M194.7 963.4h0M184.5 962.3h0M223.2 929.2h0M203.1 963.9h0M205.6 956.4h0M180.9 956.1h0M204.8 944.6h0M197.4 945.5h0M187.9 959.9h0M237.6 914.8h0M213.8 956.2h0M209 961.3h0M295 870.8h0M191.3 962.6h0M230.1 917.8h0M192.2 952.7h0M227.6 939.1h0M203.6 958.1h0M295.5 868.3h0M211.8 959.6h0M231.2 932.8h0M187.2 963.2h0M272.3 897h0M279.8 895.5h0M260.6 901.8h0M214.4 930.6h0M338.6 828.5h0M211.4 967.1h0M265.8 912.8h0M272.8 896.2h0M222.8 928.8h0M189.4 967.3h0M231.4 905.4h0M215.1 939h0M292.9 868.5h0M322.7 808.9h0M184.9 956.2h0M247.5 916.5h0M250.7 897.2h0M239.9 906.3h0M190 970.9h0M250 898.6h0M185.9 956.2h0M302.9 874.2h0M240.6 925.4h0M186.8 964.7h0M211.8 926.8h0M233 921.9h0M236.2 941.3h0M213.3 927.5h0M196.4 965.6h0M218.6 934.4h0M231.5 934.6h0M195.8 969.3h0M198.4 956.8h0M247.6 897.9h0M221.9 927.5h0M197.8 942h0M184.1 960.8h0M190.7 936.9h0M243.7 893.4h0M208.4 956.3h0M320 826.3h0M202.1 958.4h0M198.6 963.9h0M221.5 945h0M340.6 830h0M339.1 813.9h0M202.8 945.1h0M198.1 965h0M222.1 954.8h0M207.3 965h0M362.1 798.4h0M237.5 906.9h0M258.2 904.4h0M264.6 921.7h0M252 907.6h0M336.5 828.4h0M254.2 925.8h0M228.3 925.3h0M192.1 940.5h0M251.4 929.5h0M301.4 831.8h0M194.7 959.5h0M188.8 958.8h0M217.7 916.9h0M272.6 872.9h0M199.1 955h0M201.2 930.7h0M199.4 950.9h0M196.1 970.7h0M266.2 896.5h0M207.7 951h0M230.4 910.8h0M191 962.9h0M199 964.9h0M277.3 865.4h0M248 891.9h0M276.6 859.7h0M272.2 891.6h0M204.6 936.5h0M341.7 842.2h0M205.4 939.5h0M197.1 947.4h0M204 958.1h0M235.8 918h0M209.5 922.8h0M199.6 943.9h0M207.8 953.6h0M200.1 949.8h0M194.9 964.1h0M286.6 854.4h0M213.9 924.4h0M331.4 836.4h0M213.3 950.7h0M183.7 964h0M227.5 938.5h0M278.3 892h0M190.9 954.2h0M252.9 864.8h0M228 933.9h0M190.7 943.5h0M327.2 837.2h0M212.1 957.9h0M200.7 959h0M261.9 882h0M278.4 870.6h0M204.4 934.8h0M247.1 903.1h0M208.8 931.1h0M344.7 833.9h0M216.3 944.2h0M205.1 942h0M197.1 967h0M276.4 897.7h0M269 896.9h0M204.1 948h0M296.2 840.8h0M188.7 945.1h0M202.3 950.7h0M287.8 874.6h0M193.7 955.2h0M242.9 905.5h0M243.7 917.6h0M194.3 941.5h0M190.4 962.9h0M305.8 827.8h0M243.7 925.6h0M251.2 897.1h0M210.6 955.1h0M184.5 957.7h0M192 946.3h0M204.3 958.5h0M180.7 959.4h0M240.8 919.1h0M200.7 944.4h0M226.6 913.1h0M191 954.4h0M206.8 945.1h0M184.2 962.6h0M330.8 849.7h0M244.9 932.5h0M216.6 947.2h0M221.5 921.9h0M259.8 903.9h0M264.3 878h0M249.1 882.3h0M218 943.2h0M224.1 939.3h0M218.2 926.4h0M203.5 942.9h0M221.4 930.2h0M218.6 945.1h0M232.7 913.8h0M297.5 861.3h0M286.8 858.7h0M238.8 903h0M235.4 901.1h0M207.5 935.1h0M258.6 893.9h0M343.6 807.8h0M182.1 954h0M214.6 950h0M365.7 826h0M188.1 970.7h0M219.4 931.7h0M244.8 901.5h0M291.6 895.8h0M227 922.4h0M197.5 967.3h0M181 955.8h0M220.4 936.4h0M233.6 910.5h0M187 963h0M193.3 953.3h0M188.8 952.2h0M222.4 933.5h0M244 887.1h0M215.4 930.2h0M210.4 966.9h0M326.7 834.7h0M194.7 952.9h0M190.5 943.2h0M309.2 842.3h0M336.9 825.2h0M209.5 943.1h0M208.2 947h0M203.6 945.7h0M186.8 970.2h0M187.6 966.3h0M192.1 965.4h0M219.5 934.8h0M194.8 960.1h0M181.7 964.9h0M232.7 915.3h0M203.8 949.9h0M219.8 930.2h0M263.7 884.5h0M227.9 921.3h0M197 952.3h0M258.8 896.9h0M195.2 946.1h0M275 879.3h0M211.4 957.1h0M218.6 958.6h0M211.1 938.4h0M193.5 952.4h0M321.3 848h0M296.7 877.8h0M200.3 948.9h0M222 923.7h0M226.1 927.2h0M209.1 945.4h0M227.7 917.5h0M206.2 931h0M192.6 952.6h0M231.1 930.5h0M238.2 890.2h0M248 907.7h0M218.5 941h0M209.3 963.2h0M185.7 962.8h0M275.9 860.9h0M216.5 955.6h0M220.4 908.7h0M192.8 963.4h0M185.3 961.2h0M262.8 893.1h0M297.3 880.6h0M225 924.2h0M239.8 930.1h0M192.6 969h0M192.1 951.4h0M217 947h0M312.8 845.3h0M187 959.4h0M236.9 929.2h0M185.6 966.8h0M190 971.4h0M220.3 943.4h0M254 913.4h0M208.1 952h0M187.6 957.8h0M207.9 955.8h0M259.9 901.3h0M309.9 846.8h0M282.5 874.8h0M225.7 943h0M225.5 921.2h0M187.6 957.9h0M213.6 956.1h0M263.7 868.4h0M316.8 820.9h0M232.4 927.4h0M224.7 938.3h0M360.5 801h0M208.4 952.2h0M196.3 948.8h0M217 928.6h0M184.6 957.5h0M204.5 957.1h0M234.3 934.1h0M202.4 952.3h0M237.3 910.2h0M209.9 946.2h0M220.2 931.9h0M220.9 922.7h0M299.2 869.4h0M190.3 957.8h0M259.4 903.8h0M210.2 950.9h0M192.7 960.8h0M195.3 948.4h0M182.7 965.6h0M215 927.5h0M286.3 851.8h0M223.2 916.4h0M199.9 949h0M254 855.6h0M200.4 950.1h0M186 962.9h0M229 943.3h0M295.2 888.5h0M201.4 952.8h0M205.5 955.8h0M271.6 907.6h0M211.6 947.8h0M186.8 956.1h0M254.3 908.9h0M199.8 937.3h0M202.9 945.2h0M207.1 954.5h0M258.7 906.6h0M233.4 927.1h0M192.5 933.5h0M191.4 944.8h0M212.5 963.3h0M235.6 911.3h0M226.6 941.6h0M190.4 947.3h0M206.6 930.4h0M196.9 962.7h0M328.4 827.1h0M213 929.2h0M207.1 942.8h0M199.1 952.8h0M298.2 876.2h0M343.9 840.5h0M185.2 961.6h0M188.8 964.5h0M230 928.4h0M238.6 927.4h0M252.1 874.1h0M216.7 952.6h0M200.5 956.4h0M229 948.3h0M279.7 872.3h0M217.2 936.7h0M213.3 949.4h0M208.2 936.9h0M220 938.1h0M265.3 891.2h0M238.8 934.2h0M197.3 960.5h0M200.2 948.3h0M184.9 958.9h0M198.7 949.4h0M328.1 816.3h0M204.7 946h0M194.3 920.8h0M194.3 948.2h0M215.9 936.5h0M244.6 902.1h0M216.8 923.3h0M320.4 855.7h0M202.1 962.2h0M276.6 881.4h0M183.3 965.8h0M199.7 948.9h0M204 941.4h0M221.9 938.2h0M242.1 920.6h0M309.6 852.9h0M261 876h0M231.9 901.5h0M191.8 948.6h0M195.7 961h0M204.7 947.4h0M186.8 942.6h0M209.8 944.1h0M240.3 910.1h0M185.6 941.9h0M187.4 956.1h0M290.3 837.2h0M186.8 969.1h0M215.8 927.2h0M234.8 916.5h0M265.1 896.8h0M202 956.8h0M211.4 941h0M267.2 899.6h0M201.4 943.4h0M228.5 916.1h0M204.4 931.2h0M189.9 949.7h0M202.3 929.1h0M274.2 910.2h0M216.9 952.5h0M245.1 913.7h0M193.8 954.5h0M266.4 898.1h0M279.5 870.4h0M186.7 959.5h0M256.8 918.2h0M242.3 921.7h0M202.1 947.6h0M224 925.2h0M182.8 965.8h0M203.5 947.6h0M301.2 830.2h0M222.8 905.5h0M233.9 903.9h0M238.9 935.9h0M217.3 947.3h0M215 941h0M215.2 948h0M206 954.8h0M233.3 907.4h0M189.7 941.5h0M222.9 946h0M196.2 958.7h0M213 944.3h0M349.4 849.7h0M207.7 954.9h0M324.6 829.9h0M196.8 952.8h0M233.3 940.3h0M305 864.7h0M195.9 937.9h0M221.1 937.9h0M209.6 931h0M304.4 837.2h0M216.9 952.3h0M275 890h0M270.7 894.7h0M313 853.8h0M224.1 905.5h0M188.4 951.5h0M196.5 967.4h0M317.8 839.7h0M319.2 840h0M216.3 945.7h0M193.1 957.6h0M248 882.2h0M209.6 937.4h0M195.2 949.2h0M220 925h0M193.9 961.1h0M300.6 845.5h0M214.2 938h0M212.1 938h0M310.8 880.6h0M217.3 930.4h0M191.7 964.2h0M228 919.3h0M276.4 842.6h0M347.9 817.4h0M193.5 963.2h0M200.9 956.4h0M230.2 920.7h0M203.6 953h0M269 879.6h0M297.7 854.5h0M278.8 858.5h0M223.6 924.7h0M193 957.8h0M225.7 932.5h0M197.8 957.6h0M214.8 947.3h0M242.6 894.3h0M242.3 897.4h0M200.1 949.1h0M281.9 900.2h0M260.3 914.6h0M218.4 946h0M201.2 941.7h0M217.9 948.1h0M244.8 920.1h0M315.7 827.9h0M287.2 869.7h0M219 920.3h0M188 968.3h0M185.6 959.2h0M274.5 908h0M219.9 932.3h0M203.6 933.6h0M231.2 905.6h0M202.5 954.9h0M199.6 944.7h0M231 901.5h0M274.8 894.6h0M338.9 808.9h0M335 815.7h0M246.7 900.3h0M296.8 843.1h0M191.1 963.5h0M307.7 844.8h0M186 969.4h0M254.8 894.2h0M214 926.4h0M231.7 925.4h0M245.2 917.1h0M271.9 917.8h0M186.1 956.3h0M243.3 910.8h0M216.8 954.7h0M263.9 889.5h0M221.1 921.4h0M204.7 924.1h0M202.2 933.8h0M183.7 964.2h0M196.7 955.1h0M188.6 956.2h0M237.6 931.1h0M190 952.1h0M309.9 854.4h0M301.3 875.3h0M239.4 917h0M212.3 942.2h0M184.2 952.1h0M196.5 956.3h0M197.4 969.7h0M192.9 962.6h0M255.9 907.4h0M197.9 962.9h0M194.3 963.9h0M222 913h0M223.3 939.8h0M198.9 923.1h0M208.7 927.4h0M184.5 959.4h0M233.3 924.1h0M188.6 960.3h0M230.5 932.5h0M196.9 963.9h0M284.3 857.3h0M218.9 954.5h0M271.6 887.3h0M323.5 837h0M212.3 950.8h0M280.2 869.4h0M192.7 952h0M192.1 964.5h0M193.9 949.1h0M212.4 951.4h0M200.8 947.1h0M232.5 932.6h0M243 887.7h0M238 939.9h0M217.4 920h0M187.6 957.5h0M223.8 920.5h0M271.3 851.3h0M212.1 944.2h0M275.3 855.8h0M217.4 937.5h0M236.7 927.6h0M182.2 963.1h0M250 911.1h0M258.9 885.1h0M262.6 892.9h0M295 866.6h0M216 943.5h0M349.7 826.4h0M204.4 950.3h0M278.8 898.5h0M236 926.4h0M219.5 934.1h0M223.4 928.3h0M204.3 952.3h0M205.8 939.4h0M263.3 912.2h0M234.2 915h0M241 918.8h0M187 956h0M193.1 970.3h0M183.9 965.4h0M293.1 829.4h0M296.8 866.1h0M305.8 850.5h0M193.2 965.5h0M273.1 892.3h0M202.9 941.3h0M222.2 958.4h0M182 954.5h0M197.3 949.9h0M194.1 961.9h0M208.6 935.5h0M195.7 944.9h0M229.9 948.4h0M191.7 962.2h0M269.3 880.1h0M278.6 882.2h0M292.1 850.9h0M182 957.8h0M189 963.8h0M213.7 944.3h0M353.8 798.8h0M208.5 951.8h0M213.4 909.4h0M203.1 946.1h0M343.4 841.4h0M211 952.5h0M203.6 940.5h0M238.2 918.8h0M203.6 954.3h0M201.3 953h0M184.2 956.3h0M223 935.5h0M228.8 902.1h0M210 941.2h0M321.1 874.4h0M197.6 952.6h0M241.5 910.6h0M236.3 922.2h0M229.4 928.2h0M203.7 963h0M252.7 896.1h0M238.6 910.4h0M240.3 901.8h0M196.9 949.8h0M184.9 954.2h0M234.2 917.3h0M213.5 963h0M187.2 967.2h0M192.8 960.5h0M182.4 961.6h0M208.9 955.5h0M196.6 959.4h0M190 964.9h0M235.8 909.3h0M205.3 946.4h0M195.8 962.1h0M275.8 862.1h0M214.3 942.6h0M366.5 799.2h0M255.6 907.4h0M203 945.6h0M219 940h0M221.9 927.1h0M235.6 931.8h0M267.1 887.3h0M188.3 963.2h0M302.2 828.5h0M187.1 963.6h0M262.3 899.9h0M289.3 896.5h0M193.6 963.3h0M304.3 845.5h0M246.9 902.4h0M222 936h0M229.5 906.4h0M198 953.9h0M224.4 918.8h0M216.5 925.6h0M261.7 900h0M216.9 934.6h0M197.9 964.4h0M234.4 911.5h0M248.2 915.9h0M201.6 945.6h0M207.1 936.8h0M193.2 960.1h0M190.8 972.5h0M210 942.1h0M241.8 916.2h0M233.5 910.2h0M221.1 926.3h0M224.4 916.8h0M250.5 916h0M237.7 911.2h0M213.4 940.8h0M216.2 914.6h0M352 825.5h0M307.9 860.9h0M184.5 958.2h0M213.8 948.3h0M213.1 938.4h0M190 954.6h0M263.7 875.8h0M190.2 962.1h0M196.6 966h0M231.5 925.9h0M205.1 949.7h0M183.3 957.4h0M240.9 906.2h0M285 865.2h0M202.9 956.7h0M322.9 830.3h0M196.1 953.8h0M188.8 953.3h0M241.7 904.5h0M211.9 939.2h0M299.6 865.4h0M219.5 941.8h0M187.7 960.4h0M187.6 968.9h0M182.8 964h0M238.2 910.7h0M185.2 968.7h0M273.2 872.8h0M240.4 951.6h0M204.5 941.4h0M229.7 936.9h0M243.2 918.2h0M197.7 952h0M308.7 836.4h0M187.3 952.1h0M195.6 966h0M235 921.6h0M249.8 904.9h0M212 939.5h0M222.2 929.4h0M209 937.9h0M203.8 945.6h0M253.5 877.4h0M313.9 861.4h0M194.2 948.3h0M242.5 931.4h0M208 947.2h0M256.3 890.3h0M367.2 808.2h0M226.1 934.6h0M367.2 786.4h0M315.2 845.7h0M225.4 939.8h0M183.9 965.9h0M212.6 943.1h0M224.9 927.4h0M189.7 967.3h0M186.8 965h0M183.1 961.3h0M185 962.2h0M338.2 818h0M319.8 840.2h0M197 968.8h0M257.1 904.9h0M211.4 938.6h0M190.2 959.2h0M274.5 864.3h0M237.7 911.6h0M273.3 912.9h0M194.5 954.2h0M222.9 929.7h0M260 894.5h0M259.5 915.6h0M270.4 875h0M229 899.5h0M183 964.3h0M194.5 954.4h0M257.8 915.9h0M220.1 909.1h0M260.5 889.1h0M224 924.1h0M230.2 908.9h0M322.4 850.9h0M188.5 962.2h0M184 960.8h0M362.2 816.8h0M245.2 895.9h0M202.4 945.7h0M239.8 924h0M251.4 924.7h0M184.9 965.1h0M289.1 868.1h0M182.6 958.9h0M311.4 861h0M188.4 961.5h0M199.5 957.2h0M204.6 941.5h0M252.5 903.9h0M231.6 929.6h0M302.8 868.4h0M195.8 945.3h0M261.3 893.4h0M282.4 889.1h0M195.5 955h0M224 943h0M323.7 832.5h0M202.8 947.9h0M211.7 957.6h0M226.5 910.6h0M190.1 957.2h0M260.9 906.1h0M183.8 958.2h0M192.9 966.8h0M201 954.6h0M193.9 971.5h0M229 923.2h0M229.6 923h0M186.2 953.9h0M194.3 961.9h0M230.7 925.7h0M261.9 910.5h0M206.2 932h0M239.3 914.1h0M212.7 948.2h0M271.4 889.7h0M215.1 927.5h0M219.2 944.4h0M257 911.2h0M198.6 956.4h0M275.9 892.4h0M208.3 934.7h0M203 942.6h0M209.6 946.3h0M222.3 911.3h0M251.6 929.2h0M202.1 959.8h0M223.8 933.7h0M218.3 916.7h0M222.4 931.9h0M198.4 966.5h0M193.8 957.8h0M250.5 910.8h0M200.4 967.1h0M198.8 958.9h0M224.8 941.4h0M269.6 901.1h0M195.4 943.9h0M233.7 929.5h0M195.7 963.7h0M191 967.5h0M310.7 851.8h0M247.7 914.6h0M251.2 893.3h0M222.7 923.7h0M200 948.6h0M204.7 941.3h0M206.5 934h0M186 969.5h0M225.6 922.4h0M204.9 960.1h0M233.9 939.3h0M372.6 812.1h0M244.8 891.3h0M267.9 876.8h0M218.5 945.4h0M208.9 943.6h0M336.6 828.4h0M204.6 965.3h0M221.8 932.1h0M295 849.9h0M266.1 911.5h0M252.6 923.8h0M240.7 915.6h0M212.1 945.9h0M245.9 916.2h0M191.1 971.3h0M184.6 961.6h0M186.4 969h0M187.4 962.4h0M247.8 892.4h0M285.5 890.4h0M197.9 958.5h0M253.5 897.2h0M188 955.3h0M201.2 957.1h0M260.3 878.4h0M295 869.6h0M200.3 955.8h0M184.6 964.8h0M301.3 870h0M346.7 827h0M218.6 940.3h0M185.1 966.4h0M207.8 941.4h0M185.3 962.1h0M200.3 964.6h0M292.3 868.7h0M199.7 961.7h0M282.9 863.4h0M186.9 970.8h0M200.6 951.7h0M189.7 963.9h0M190.4 965h0M214 954.4h0M231.2 925h0M201.3 961.3h0M190 957.9h0M205.3 954.9h0M196.7 963.7h0M259.5 911.3h0M186.5 968.6h0M332.8 850.4h0M270.9 860.9h0M245.9 926.1h0M240.2 910.4h0M251.1 912.1h0M188.3 954.1h0M303.8 842.7h0M204.7 959.8h0M201.4 935.5h0M278.2 877.3h0M269.3 895.4h0M227 931.3h0M194.1 961.2h0M288.7 868.1h0M182.6 959.7h0M296.5 882.1h0M252.6 906.4h0M275.7 899.2h0M192.4 956.9h0M290.6 838.6h0M209.9 941.1h0M307.9 843.1h0M237.9 914.6h0M366 794.6h0M327 848.4h0M222.7 937.9h0M229.1 920.5h0M304.3 860.1h0M237.8 930.3h0M327.9 855.6h0M328.5 814.4h0M262.6 881.1h0M193.7 961.4h0M183.9 967.1h0M214.3 949.2h0M217.8 938.5h0M224 917h0M206.2 947.6h0M199.5 949.3h0M211.4 930.5h0M207.1 929.4h0M214.6 937.7h0M182.9 961.9h0M195.5 968.4h0M191.2 965h0M193.3 946.3h0M231 917.8h0M249.5 886.6h0M245.4 925.2h0M223.9 937.8h0M210.5 934.3h0M271.3 867.8h0M293.4 852.9h0M182.5 964.9h0M221.7 929.7h0M206.1 937.5h0M238.1 903.8h0M232.7 936.1h0M193.4 959.8h0M200.4 965.8h0M230.6 929h0M189.7 964.1h0M187.4 956h0M203.4 962.8h0M346.9 829.3h0M238.1 919.8h0M234 905.4h0M186.2 967h0M249.5 885.6h0M223.6 923.1h0M270.5 904.4h0M226 907.4h0M230.2 931.7h0M183.7 962.8h0M212.9 938.1h0M217.9 945.7h0M253.2 885.9h0M201 940.9h0M278.2 899.6h0M264.4 910h0M194.8 967.1h0M185.7 958h0M241.8 916.4h0M218.6 945.3h0M254.1 904.4h0M196.6 956.4h0M244 899.6h0M197.7 958.5h0M200.1 963.3h0M285.3 882.2h0M289 886.9h0M225.1 924.5h0M365.5 790.7h0M239.4 902.7h0M244 898.6h0M238.9 892.5h0M239.2 912.3h0M190.4 968.7h0M274.7 872.5h0M234.6 891.2h0M202.1 954.8h0M300.8 863h0M246.1 926.4h0M187.1 967.6h0M192.7 957.4h0M246.7 923.3h0M204.2 944h0M192 960.9h0M189.5 968h0M223.9 922.3h0M276.7 887.5h0M370.9 805.7h0M199.4 969.2h0M195.5 942.9h0M199.1 944.3h0M233.6 939.1h0M193.7 967h0M183.4 962.5h0M225.2 939.4h0M224.1 917h0M223.1 935.4h0M219.2 942.2h0M240.7 900.4h0M219.1 912.4h0M253.7 894.9h0M250.4 905.9h0M248.5 901.6h0M232.7 930.4h0M347.7 794.8h0M192 949.4h0M230.8 950.1h0M191.2 956.5h0M233.1 900.3h0M249 900.3h0M210.5 964.7h0M299.2 852.1h0M184.5 964.5h0M257.8 904.2h0M216.4 923h0M192.9 969.3h0M189.5 966.1h0M194.5 961.4h0M283.8 875.3h0M211.2 943h0M215.9 931.5h0M204.9 951.7h0M188.8 971.8h0M189.1 965.7h0M259.8 899.4h0M189.2 970.7h0M342.8 847.3h0M276.7 901.2h0M184.3 949.8h0M196.5 960.7h0M216.6 924.6h0M190.2 959.8h0M223.1 915.9h0M185.9 955.6h0M360.9 807h0M261.8 885.9h0M188.3 960.9h0M196.8 956.6h0M226.4 929.7h0M197 954h0M217.5 943.3h0M331.7 878.4h0M273.1 892.6h0M200.2 960h0M203.6 951.2h0M287.1 874.4h0M221.6 932.4h0M213.3 918.2h0M236.7 936h0M264.1 905.5h0M191.7 970.7h0M199.6 957.8h0M196.8 964.8h0M236 916.2h0M227 912h0M181.4 962.8h0M192.9 954.7h0M194.5 970.6h0M197.8 968.4h0M197.9 951.8h0M286.4 887.1h0M341.1 813.7h0M195.1 955.5h0M260.6 909.1h0M210.3 955.2h0M188.8 963.7h0M184.3 953.2h0M201.5 944.2h0M190.7 972.3h0M306.9 873.7h0M279.4 885.5h0M271 886.2h0M296.4 857.2h0M226.8 931.7h0M193.3 972h0M224.8 920.5h0M209.8 946h0M219.7 935.2h0M186 964.4h0M277.8 878.7h0M284.3 844.4h0M269.5 886h0M194.3 963.5h0M184 961.3h0M232.8 903.6h0M264.1 880.9h0M213.8 940.5h0M282.2 880.8h0M235.1 935.7h0M241.7 932.1h0M213.8 943.7h0M213 942.8h0M355.5 788.6h0M189.7 966.8h0M194.6 957h0M225.8 928.7h0M187 958.4h0M264.2 900.7h0M210.2 936h0M264 883.4h0M255.1 890.7h0M230.1 933.7h0M219.9 934.4h0M211.8 950.3h0M269 912.9h0M184.2 948.6h0M265 912.2h0M200.3 950.6h0M185.1 963.8h0M211.4 946.2h0M222.3 952.5h0M233.6 917.7h0M202 963.3h0M222.6 935.1h0M209 936.9h0M220.1 944.9h0M211.9 950.7h0M272.9 881h0M196.8 950.6h0M191.7 962.2h0M215.3 930.4h0M192.2 966.3h0M345.4 848.4h0M204.5 953.4h0M184.8 968.5h0M248.4 920.6h0M185.4 960.7h0M231.8 927.5h0M274.2 866.1h0M262 882h0M195 968.6h0M197 944.3h0M211 945.5h0M245.7 908.9h0M247.8 881.8h0M191.2 960.9h0M204.7 942.8h0M229.9 924.1h0M234.2 892.8h0M240.4 910.5h0M198.6 947.4h0M222.8 932.7h0M213.9 945.2h0M188.5 965.2h0M197 962.1h0M219.1 918.8h0M310.3 856.2h0M209.3 949.9h0M204 955.6h0M187.4 960.5h0M313 868.7h0M189.5 960.5h0M192.9 954.3h0M326.8 836.4h0M200.8 959.2h0M206.2 937.9h0M200.2 955.7h0M195.7 970.1h0M202.7 961.3h0M252.5 898.4h0M207 941.8h0M200.8 961h0M253.1 917.8h0M188.6 953.4h0M196 949.6h0M207.1 938.1h0M216.1 943.2h0M333.3 815.6h0M317 825.8h0M248 915.6h0M201.1 950.3h0M258.9 913h0M220.5 926.1h0M337.1 820.2h0M190.4 969.5h0M252.5 914.1h0M253.5 922.9h0M187.6 964.4h0M187.9 968.9h0M191.7 969.5h0M345.9 839.9h0M217.7 930.3h0M212.3 950.1h0M260.1 928.6h0M277.6 895.1h0M226.5 926.5h0M224.8 910.6h0M215.4 939h0M190.5 959.1h0M283.4 865.8h0M280.4 871.5h0M220.2 936.2h0M234.7 909.9h0M216.1 948.8h0M210 945.9h0M190.3 957.2h0M201.1 960.1h0M213.9 953.3h0M214.1 956.1h0M194 955.3h0M330.8 841h0M194.4 961.2h0M191.7 966.2h0M201.9 947.6h0M217.8 946.5h0M230.8 951.3h0M233.7 897.5h0M219.8 941.1h0M221 913.1h0M240.5 920.5h0M284.7 878.3h0M196.3 955.6h0M198.6 959.3h0M195.8 961.3h0M291.1 864.4h0M211.5 914.9h0M188.9 968.1h0M276.9 903.6h0M188.6 954.9h0M196.9 952.9h0M195.5 956h0M214.9 931.8h0M254.9 902.5h0M253.5 915.7h0M242.2 917.3h0M254.5 898.8h0M208.1 952.3h0M186.9 962.6h0M232 919.7h0M195.6 966.2h0M275.4 853.7h0M210.2 935h0M242.8 933.3h0M267 912h0M244.5 932.4h0M282.5 864.1h0M361.1 802.7h0M223.1 913.4h0M215.1 940.8h0M214.5 942.8h0M191.2 969.2h0M267.8 862.5h0M227.3 905h0M184 965.7h0M189.4 966.5h0M211 948.3h0M302.4 856.3h0M214.1 949.5h0M207.6 929h0M259.3 887h0M207.9 944.1h0M250.3 900.6h0M197.4 960.1h0M239.4 932h0M312.6 839.5h0M264.2 863.9h0M203.4 965.8h0M186.3 948.8h0M200.6 953.8h0M220 936.5h0M272.3 847.1h0M194.6 968.7h0M207.8 947.6h0M241 909.7h0M192.4 953.1h0M192.4 953.5h0M293.4 869.2h0M194.6 954.4h0M223 924.8h0M270.1 874.7h0M215.1 941.5h0M266.4 911.5h0M252 884h0M256.3 903.9h0M317.5 834.8h0M218.6 912.2h0M244.5 909.7h0M204 945.4h0M230.4 926.4h0M313.6 859.8h0M289.8 866.9h0M204.2 945.5h0M246.9 916.2h0M204.6 962.4h0M228.1 926.9h0M235 944.5h0M360.6 786.8h0M187.1 960.5h0M264.2 883h0M215.1 933.7h0M203.7 955.7h0M229.5 925.3h0M305 855.5h0M265.9 880.9h0M197 967.7h0M341 866.9h0M202.8 939.1h0M199.3 959.9h0M234 910.9h0M238.3 924.1h0M303.8 840.3h0M191.9 942.4h0M187.2 960.5h0M211.5 946.1h0M226.6 939.8h0M242.5 915.6h0M236.9 921h0M185.1 957.5h0M189.7 960.9h0M214.1 938.1h0M209.3 944.3h0M188.2 956.4h0M187.4 955.6h0M240.9 906.7h0M243.7 915.8h0M255.3 865.9h0M204.2 960h0M197.6 944.6h0M189.5 963.2h0M305.8 846.2h0M248.6 917.6h0M237.8 911.3h0M211.7 937.4h0M187.3 970.8h0M316.1 848.2h0M224 928.8h0M196.8 950.9h0M273 894h0M197.6 932.7h0M217.7 930.1h0M214.5 938.9h0M191.7 944.7h0M202.8 950.4h0M363.7 820.8h0M287.8 872.5h0M193.9 953.1h0M192 961.9h0M255.1 887.7h0M187.8 949.9h0M209.4 946h0M267.9 892.6h0M237.3 923.2h0M285.9 887.9h0M209.4 953.4h0M198.1 939.4h0M279.1 861.5h0M215.3 926h0M214.6 952.5h0M216.8 942.6h0M245.7 906.2h0M250.5 921.9h0M192 955.2h0M366.8 797.8h0M273.5 864.4h0M211.6 939.6h0M194.1 968.8h0M286 854.2h0M213.3 939.1h0M239 922.8h0M187 952.3h0M194.4 960.5h0M191.8 938.6h0M231.4 879h0M257.8 875.3h0M219.5 948.1h0M255.8 918.6h0M246.8 912.6h0M244.7 915.9h0M189.2 956.3h0M266.6 880.8h0M203.7 950.3h0M278.8 887.8h0M260.1 911.6h0M287 848.9h0M196.4 958h0M205.3 951.9h0M318.5 827.2h0M194.8 964.4h0M242 924.7h0M188.4 953h0M188.1 969.3h0M211.4 952.6h0M208.3 942h0M297.8 844.7h0M221.3 946.3h0M207.8 953.9h0M226.5 932.8h0M190.6 966.1h0M185.6 954.9h0M317.1 847h0M260.7 896.8h0M371.1 839.8h0M324.1 858.8h0M271.5 879h0M228.9 925.7h0M367 810.4h0M342.5 814.5h0M299.6 855.5h0M182.7 966.5h0M236.2 942.6h0M321.4 813.5h0M200.9 949.3h0M259 903.4h0M233.5 923.7h0M226 917.2h0M220 920.1h0M195.9 963.4h0M183.9 966.2h0M196 954.7h0M269.3 883.1h0M185 961.8h0M180.9 961.2h0M209.3 949.8h0M228.1 901.7h0M204.1 958.5h0M253.9 911.6h0M239.6 868.8h0M216.7 953.4h0M264.3 887h0M206.3 948.2h0M213 938.6h0M339.5 842.2h0M258 906.7h0M265.5 892.2h0M217.3 950.1h0M193.8 970.7h0M230.6 910.6h0M209 945h0M305 872.5h0M368.4 804.5h0M219.4 934.6h0M250.2 908.1h0M347.1 845.9h0M343.9 833.3h0M329.7 840.1h0M255.4 874.3h0M372 793.1h0M270.5 847.4h0M204 944.5h0M211.9 964.2h0M241.1 909.5h0M248.5 901.2h0M312.8 846.5h0M225.8 906.9h0M284.7 865.4h0M213.5 934.5h0M198.4 947.7h0M273.3 881.9h0M300.6 880.8h0M280.1 866.5h0M188.3 970.5h0M365 809.5h0M310.7 839.1h0M365.5 820.6h0M202.3 954.4h0M296 883.5h0M197.2 949.9h0M284 865.1h0M274.7 875.6h0M203.8 967.9h0M303.4 858.4h0M348.1 830.1h0M378.2 821.4h0M200 966.6h0M344.3 807.7h0M233.9 911.8h0M213.1 949.9h0M241.3 915.6h0M187.2 956.7h0M226.6 936.6h0M282.9 890.6h0M199.9 949.8h0M202.6 950.6h0M289.6 841.3h0M316.7 819.9h0M260.4 880.4h0M338.2 803.7h0M191.6 953.1h0M371.9 829.3h0M341.9 845.8h0M193.7 947.9h0M247.8 933.7h0M232.4 932.2h0M225.7 931.1h0M352.6 840.1h0M212.7 948.6h0M227.1 926.4h0M201.1 944.7h0M269.6 856.5h0M275.3 887.6h0M327.7 817.6h0M316.5 825.3h0M241.1 899.8h0M219.6 932h0M299.5 864.6h0M214.2 959h0M204.5 944.6h0M330.9 830.6h0M319 855.2h0M198.1 953.8h0M192.2 950.8h0M378.5 824.4h0M356.2 801.5h0M345.7 805.2h0M350.8 873.2h0M238.5 921.6h0M315.1 870.3h0M188.8 952.3h0M255.2 876.6h0M229 931.3h0M289.1 857.6h0M189.2 958.5h0M197.4 957.1h0M198.6 954.5h0M297.6 860.5h0M256.2 916h0M329.2 807.9h0M249.6 893.7h0M235.2 881.4h0M195.4 962.5h0M278.6 903.3h0M295.5 856.3h0M220.5 933.2h0M187.2 970h0M362.9 795.7h0M221.4 940.8h0M342.7 810.9h0M240 917.5h0M231.8 931.1h0M340.9 824.5h0M199.1 951.2h0M251.8 876.8h0M242.3 919.3h0M358.8 788.9h0M284.3 873.6h0M315.6 859.6h0M190.8 959.9h0M240 920.8h0M232.6 906.7h0M320.4 836.1h0M355.3 800.1h0M326 839.1h0M309.1 857.6h0M235.5 931.6h0M221.3 925.5h0M193.3 966h0M191.8 947.9h0M198.6 944.7h0M290.9 898.6h0M217 930.6h0M243.4 885.6h0M319 826.3h0M299.8 849.3h0M195.4 950.5h0M209.8 940.3h0M190.9 949.9h0M216 924.6h0M332 811.1h0M274.5 833.5h0M214.7 923.9h0M358.4 827.5h0M197.8 957.3h0M222.8 928.6h0M238.6 919.6h0M189.5 956.3h0M194.6 951.5h0M201 944.2h0M316.9 813h0M189.3 950.9h0M351.9 804.8h0M283.7 884h0M238.2 936.2h0M196.1 961h0M364.4 796.7h0M315.8 812.7h0M295.8 881.1h0M355.7 793h0M222.7 941.8h0M226.9 922.5h0M213.5 953.3h0M282.4 853.7h0M186.7 962.8h0M204.8 958.7h0M282.8 871.4h0M238 911.9h0M299.3 869.4h0M190.1 957.1h0M196.1 939h0M185.2 968.8h0M233.9 937h0M279.3 882.5h0M306 858.5h0M295.8 867.2h0M298.8 862h0M219.2 946h0M348 820.8h0M257.4 900.4h0M290.2 877.1h0M200.8 944.6h0M254 873.8h0M183 957.8h0M191.2 967.6h0M367.7 801.7h0M252.8 897.4h0M329.1 824.3h0M192.5 965.8h0M291.3 897.2h0M196.7 970.2h0M192.3 948.3h0M209.7 950.2h0M326.9 829.3h0M295.1 837.5h0M191.6 961.2h0M222.5 928.4h0M241.2 908.2h0M205.6 953.4h0M269.6 849.9h0M204.7 950.5h0M357.3 790.1h0M209.4 962.3h0M218.2 924.3h0M188.9 971.7h0M284.9 871.2h0M273.8 887h0M297 871.6h0M261.4 911.9h0M190.1 966.1h0M296.9 856.8h0M287.1 865.8h0M270.5 873.4h0M200.2 962.8h0M205.6 938.7h0M281.8 884.6h0M297.8 862.9h0M266.3 902.9h0M246.6 909.7h0M331.7 813h0M359.1 796h0M209 926.7h0M202.2 944.6h0M369.1 792.2h0M191.2 962.5h0M269.7 868.7h0M300.5 864.6h0M239.7 888.4h0M254 880.2h0M214.6 941.1h0M210.1 936.2h0M265.8 860.7h0M337.5 823.7h0M182.3 952.2h0M216.6 919.1h0M224.4 927h0M224.7 949.7h0M301.6 859h0M209.5 951.1h0M278.9 865.6h0M291.9 886.7h0M196.5 937.6h0M217.4 936.7h0M290.6 870.1h0M268.8 873.8h0M199.7 958.4h0M221.3 932.5h0M240.2 940.1h0M290 892.7h0M206.1 960.4h0M269.7 894.6h0M265.6 915.1h0M330.9 838.2h0M363.6 821h0M291.6 877h0M294 864.9h0M192 959.5h0M224.1 913h0M197.9 941.3h0M185.3 966.3h0M218.6 962.2h0M289.3 870.9h0M350.5 792.2h0M239.4 892.2h0M295.8 869.9h0M293.7 856.1h0M322.1 845.8h0M217.1 934.3h0M187.2 953h0M263.3 889.2h0M192.5 961.4h0M344 796.3h0M204.7 953.9h0M247.8 895.2h0M251.2 897.1h0M187.1 968.9h0M304.9 868.9h0M310 843.8h0M194.6 948.8h0M294.8 831.8h0M328.1 841.8h0M206.9 957.2h0M200.6 956h0M226.2 938.1h0M250 879.1h0M335 830.9h0M256.4 878.3h0M186.3 959.3h0M306 891.4h0M368.3 792.5h0M183.6 961.3h0M343 801.1h0M278.3 862.9h0M208.5 940.7h0M264.1 883h0M305.3 817.2h0M214.4 961.4h0M352.7 818.7h0M274.8 880.8h0M222.9 912.4h0M181.8 960.2h0M189.9 964.8h0M183.7 964.4h0M255.7 911.8h0M375.6 831.6h0M230.6 930.3h0M276.9 880.8h0M321.2 870.3h0M218 941.5h0M320.6 843.8h0M336.5 852.2h0M336.1 866.6h0M326 857.8h0M296.7 866.1h0M233 914.5h0M188.8 962.6h0M369.4 800.4h0M363.7 816.7h0M188.1 963h0M312.9 819.8h0M207.5 930.5h0M294.8 865.8h0M279.3 886.5h0M212.2 950h0M296.5 846.9h0M202.7 958.7h0M184.7 963.7h0M197.1 940.7h0M209.2 934.8h0M246.4 904.4h0M222.1 920.2h0M202.7 953.9h0M348.3 793.6h0M253.5 911.8h0M319.2 875.7h0M199.1 958.9h0M209.3 940h0M187 952.1h0M271.6 916.9h0M240.7 917.2h0M289.4 887h0M221.5 942.9h0M363.1 800.5h0M297.2 881.6h0M335.5 816.2h0M262.5 890.7h0M309.2 865h0M219.8 930h0M341.7 822.8h0M207.3 961.2h0M283.2 883.6h0M205.5 964.9h0M357.2 787.6h0M346.6 829h0M236.2 926.1h0M185.7 964.9h0M240.1 916.1h0M342.8 795.3h0M217.1 929.6h0M192.7 969.3h0M196.8 968.7h0M201.3 950.5h0M181.5 964.2h0M227.1 914.5h0M285.4 874.4h0M194.4 969.4h0M224.4 937h0M234.6 928.8h0M192.5 970.4h0M279.6 861h0M250.4 918h0M233 913.7h0M214.5 947.1h0M258.7 892.2h0M189.1 945.8h0M291.6 871.3h0M209.2 955.9h0M259.3 917.5h0M285.7 893.3h0M249.3 894.2h0M330.5 842.1h0M249.7 921.1h0M362.1 804h0M239.1 922.5h0M281.1 854.4h0M198.1 954.4h0M251.1 905.7h0M259.3 898.3h0M264.6 901.9h0M258.9 922.8h0M198.9 945.2h0M306.8 861.2h0M201.3 950.2h0M365.4 822.9h0M242.6 935.8h0M216.8 946.8h0M249.2 916.8h0M279.2 887.2h0M201.9 949.8h0M331.3 830h0M304 871.5h0M250.4 932.8h0M230.7 930.8h0M190.5 971.4h0M361.9 790.9h0M207.3 955.1h0M228.9 942.4h0M253.3 898.5h0M351.8 804.5h0M282 858.4h0M188.2 958.2h0M233 922.6h0M336.6 836.7h0M304.8 849.3h0M220.3 947.5h0M283.4 875.3h0M285 871.7h0M224.4 918.4h0M350.9 811.7h0M309.9 849.5h0M308.1 842.5h0M242.1 910.9h0M298 843.1h0M299.6 827h0M290.9 872.9h0M207.8 935.3h0M273.3 898.3h0M204.6 965.3h0M352.2 799.8h0M230.1 933.3h0M185.7 964.7h0M208 949.9h0M213 941.7h0M196.2 951.2h0M199.7 938.1h0M202.4 944.8h0M287.1 886.9h0M209.1 937.2h0M294.8 846.3h0M193.6 958.2h0M252.9 907.4h0M198.8 931h0M278.6 867h0M344.6 821.6h0M193 939.4h0M216.7 946.1h0M205.6 939.9h0M324.5 825h0M273.9 873.5h0M330.2 825.5h0M325.7 854.3h0M322.2 825h0M216.7 962.3h0M289.2 841.1h0M264.4 886.5h0M203.6 955.7h0M194.7 952.2h0M360.5 818.8h0M265 894.3h0M251.3 884.7h0M254.4 877.2h0M206.5 952.4h0M204.6 935.4h0M244.9 881.5h0M273.1 880.4h0M247.2 902.1h0M192.9 959.8h0M283.9 910.2h0M210.4 953.2h0M247.6 934.3h0M186.7 962.9h0M238.1 879h0M324.4 854.5h0M286.1 882.4h0M259.9 880.1h0M325.1 827h0M250.5 883.2h0M229.8 920.3h0M212.1 922.3h0M209.9 946.9h0M229.6 915.2h0M202.6 934.5h0M348.6 831.2h0M296.7 857.3h0M201.5 946.7h0M349 808.5h0M195.7 946.2h0M248.3 923h0M187.3 966.8h0M257.1 895.7h0M288.3 866.1h0M202.4 949.9h0M312.8 851.9h0M225.8 936.3h0M249.5 912.6h0M364.5 787.3h0M309.2 863.2h0M246.7 918.1h0M231.5 938.8h0M322.7 838.7h0M223.7 916.4h0M331.8 823.3h0M292.8 870.9h0M250 907h0M264.8 885.1h0M193.4 962.2h0M216.4 929.1h0M192 953.5h0M274.7 871.7h0M278.8 844.8h0M340.4 811.6h0M313.7 869h0M285.9 876h0M351.5 824.4h0M338.1 824.4h0M200.5 956.9h0M261.2 896.5h0M286.2 860.2h0M272.3 891.7h0M285.4 901.7h0M198.1 957.2h0M273.3 864.6h0M257.5 899.9h0M324.4 828.9h0M184.9 959.5h0M322 834.2h0M242.7 913.2h0M334.1 860.6h0M329.7 832.2h0M291.6 871h0M313.7 818.7h0M293.5 851h0M257.4 899.3h0M222.1 914h0M236.9 906.9h0M206.1 938.3h0M314.2 825.6h0M214 936h0M309.4 881.3h0M195 967.7h0M312.9 865.3h0M326.6 852.5h0M325.9 835.1h0M284.3 867.4h0M343 830.7h0M268.9 884.6h0M200.6 957.8h0M191.3 967.7h0M320.8 852.8h0M278.1 893h0M217 945.2h0M349.7 795.6h0M269.6 880.1h0M299.5 869.8h0M313.2 868.8h0M292.7 859h0M320 816.7h0M222.7 903.3h0M193.9 951h0M289.9 851.4h0M292.3 873.1h0M355.6 790.2h0M220 929.4h0M225 909.5h0M217.6 940.2h0M235.2 900.7h0M224.9 908.3h0M234.1 943.3h0M364.2 847.7h0M309.5 851.8h0M286.6 884.1h0M191 971.5h0M234.3 945.5h0M270.1 885.2h0M208.6 936.7h0M331.4 824h0M313.5 837.1h0M286.7 853.5h0M290.2 863.7h0M212.7 940.5h0M328.4 850.1h0M269 874.5h0M261.7 879.6h0M275.3 891.5h0M188.5 956.3h0M239.9 917.7h0M350.9 793.4h0M338.1 799.5h0M194.5 952.5h0M333.3 826.9h0M314.4 825.3h0M252.2 897.7h0M318.5 817.8h0M301.3 870.1h0M255.5 888.1h0M243.2 900h0M334 833.8h0M271.2 881h0M192.1 954.2h0M259.7 900.6h0M223 924.1h0M223.6 931.8h0M309.6 829.2h0M357.6 797.5h0M196.3 953.3h0M344 813.2h0M280 850.6h0M187.8 962.2h0M334 841.8h0M272 865.6h0M202.5 946.2h0M211.4 937.6h0M237.3 911.8h0M224.6 928.1h0M188.6 955.2h0M216.8 950.2h0M382.2 816.1h0M223.2 915h0M203.4 953.9h0M367.2 816.2h0M190.5 971.9h0M369.7 797.1h0M205.3 945.9h0M241.8 901.3h0M348.4 814.5h0M303.9 833.8h0M266.2 890.4h0M250.5 887.4h0M252.9 901.3h0M248.2 905.6h0M189 953h0M214.6 956.8h0M219.4 961h0M282.7 862.8h0M201.3 962.9h0M283.4 858.8h0M310.6 825.6h0M315.5 847.3h0M261.6 879.4h0M252.1 896.7h0M212 949.3h0M191.3 965h0M337 817.2h0M200.7 956.7h0M191.5 964.7h0M305.3 846.9h0M188.9 965.1h0M231.1 942.3h0M204.1 941.4h0M233 924.7h0M242.1 912.8h0M193.2 950h0M330.6 821h0M331.9 850.4h0M245.4 917.4h0M291 913h0M218.3 936.9h0M231.8 932.7h0M373.2 808.9h0M293 846.7h0M349.7 836.8h0M236.3 921.7h0M187.8 966.4h0M183.5 954.9h0M280.1 860.9h0M192 969.1h0M334.6 848.4h0M319.5 815.3h0M326.5 837.1h0M241.9 901.8h0M325.4 844h0M291.2 840.8h0M321.7 823.3h0M332.7 809.8h0M227.2 921.2h0M258.5 917.7h0M229.5 924h0M248.3 927h0M189.2 959.7h0M211.3 949.1h0M264.8 902h0M207.2 954.6h0M227.9 928.8h0M184.6 968.3h0M275.5 906.4h0M287 865.4h0M314 861.7h0M192.3 960.8h0M355.2 794.1h0M365.7 790.7h0M220.8 939.9h0M198.9 952.7h0M253.8 881.2h0M307.3 828.5h0M269.4 869.4h0M223.4 915.6h0M244.8 893.5h0M311.3 871.5h0M260.2 907.3h0M334 844.6h0M200.6 943.4h0M339.2 809.7h0M212.9 940.4h0M205.2 957.3h0M271.1 896.5h0M216.7 935.2h0M366.5 816.7h0M275.1 875.3h0M367.6 795.6h0M253.7 905.1h0M259.9 876.8h0M272.8 867.4h0M355.9 799.7h0M235.2 945.6h0M343.4 839.6h0M266 897.6h0M341.5 840.9h0M232.6 921.8h0M240.7 932.3h0M181.2 964.7h0M240.4 907.1h0M248.4 877.7h0M312.1 861.2h0M204.9 952.6h0M332 847.5h0M252.4 887.1h0M288 879.6h0M263.8 893.1h0M185.8 954.6h0M257.2 876.7h0M368.3 803.8h0M254.6 928.1h0M240.1 925.5h0M183.1 964.4h0M215 939.8h0M250.6 921h0M196.4 959.1h0M239.8 915.6h0M240.7 928.6h0M341.7 822h0M221.2 930h0M212.9 931.5h0M208.7 931.9h0M198 960.5h0M259.2 906.6h0M327.1 823.5h0M188.9 956.2h0M210.1 955.4h0M356.9 796.6h0M199 944.6h0M215.5 920.8h0M351.6 822.6h0M249.1 906.3h0M294.9 839.7h0M263.9 887.1h0M337.4 843.3h0M245.3 912.9h0M289.9 860.3h0M193.8 968.1h0M188.8 956.1h0M239.6 918.7h0M264.9 896.1h0M278.1 861h0M307.6 830.3h0M186.8 970.2h0M308.9 850h0M288.3 853.3h0M251.5 897.7h0M265.3 893.4h0M268.1 890.3h0M268.8 899.4h0M336.5 861.5h0M186 965h0M322.2 824.2h0M255.9 862.7h0M223.4 935.4h0M232.3 910.1h0M223.3 909h0M277.8 881.5h0M186.1 970h0M302.7 840h0M264.3 908.8h0M203.3 946.1h0M269.8 867.3h0M312 851.4h0M235.8 926.4h0M232.7 920.1h0M199.4 947.6h0M258.3 897.4h0M209.9 950.6h0M324.2 833.1h0M223.7 923.3h0M360.8 818.1h0M193.5 969h0M191.2 969.9h0M187.5 968.4h0M232.8 922.7h0M195.5 946.9h0M272.9 892.3h0M255 916.3h0M243.3 906.2h0M342 837h0M367.2 809.1h0M283 855.4h0M218.5 911.9h0M277.6 870.7h0M289.2 882.3h0M247.2 897.6h0M287.3 862.6h0M325 838.6h0M190.8 943h0M368.2 823.8h0M263.1 890.3h0M320.2 858h0M303.8 840h0M272.7 902.7h0M187.7 948.2h0M344.2 822h0M202.5 966h0M193.8 957.5h0M349.7 808.2h0M198.5 955h0M242.5 905.8h0M197.9 956.6h0M199.5 969h0M187 962.7h0M244.5 934h0M196.8 949.9h0M357.3 810.1h0M342.7 847.2h0M363.6 818.8h0M298.9 863.9h0M332.4 841.2h0M299.5 861.8h0M208.4 957h0M272.7 888.9h0M183.3 963.1h0M274.9 874.1h0M189.6 953.3h0M189.1 965.5h0M251.7 915.6h0M209.4 920.2h0M324.9 818h0M307.9 887h0M208.3 949.4h0M249.6 892.5h0M322.7 829.4h0M366.5 815.7h0M254.6 898h0M236.9 929.5h0M283.1 852.4h0M234.1 906.1h0M358.1 822.8h0M303 868.5h0M193.7 946.1h0M353.5 829.7h0M201.5 958.9h0M300.9 848.2h0M253.9 886.1h0M380.5 813.3h0M185.4 943.1h0M247.5 904.2h0M223.3 924.7h0M250.7 905.7h0M211.5 923.7h0M350.1 812.4h0M247.1 924.2h0M275.2 864.3h0M275 881.7h0M294.7 830.5h0M321.8 814.8h0M211.8 948.8h0M224.9 916.8h0M240 927.7h0M237.7 912.4h0M283.1 891.6h0M325.1 829.9h0M268.9 901.1h0M310.8 814.3h0M266 888.6h0M376 818h0M217.7 934.9h0M190.5 961.6h0M242.8 926.2h0M303.3 867.7h0M299.3 840.9h0M320.6 828.2h0M252 891.8h0M285.2 842.5h0M220.8 927.7h0M307.2 831.7h0M204.5 968.6h0M352.1 808.1h0M316.7 841.9h0M320.6 849.9h0M272.7 868.1h0M333.4 825.9h0M263.4 888.2h0M337.1 848.8h0M191.6 955.9h0M259 877h0M285.1 882h0M293.5 860.7h0M295.8 865h0M192.6 963.5h0M245.4 915.9h0M304.6 846.5h0M271.7 883.3h0M363.6 787.6h0M335.1 816h0M373.9 803.6h0M310.2 853.2h0M183.1 957.1h0M267 874.7h0M230.6 913.2h0M292.3 854.2h0M191.5 966.2h0M275.9 884.4h0M246.4 895.8h0M225.8 923.8h0M264.7 877.2h0M217.5 927.1h0M188.6 953.9h0M195.8 961.2h0M361.9 806.5h0M219 928.9h0M233.2 922.6h0M235.1 924.9h0M215.1 932.5h0M354.6 819h0M324.3 840.8h0M244.3 893.5h0M333.2 831.3h0M252.7 890.7h0M233.4 920.2h0M227.9 931.5h0M280.9 842.8h0M342 796.2h0M301 838.2h0M197.8 939.8h0M200 965.7h0M249.5 912.2h0M199.4 958.8h0M182.3 961h0M236.5 914.8h0M295.7 854.1h0M233.3 916.4h0M269.8 887.9h0M382 823.9h0M329.3 849.1h0M317.1 834.7h0M212.5 928.4h0M239.6 928.8h0M230.2 914.2h0M241.6 931.6h0M293.5 825.5h0M292.7 851.9h0M228.5 906.7h0M285.2 865.8h0M334.9 825.2h0M259.1 893.7h0M187.3 969h0M223.2 924.2h0M248.7 897.9h0M290.4 837.4h0M198.6 947.3h0M210.8 956.6h0M187.2 953.8h0M204.1 951.1h0M357.2 842.1h0M278.3 833.8h0M225.2 915.1h0M364 855.2h0M236.5 918.2h0M305.4 863.4h0M323.8 853.2h0M280 866.6h0M303.3 886.4h0M335.9 836.9h0M247.4 908h0M185.2 966.7h0M215.5 945.3h0M217 952.4h0M319.8 865.2h0M226.1 928.5h0M318.5 813.2h0M225.7 919.6h0M212.5 944h0M210.3 937.1h0M270.2 870h0M324.9 840.5h0M273 875.6h0M275.1 874.3h0M381 818.3h0M370.2 810.6h0M366.2 826h0M369 795.7h0M363.5 807.1h0M364.6 785.8h0M365.1 783.6h0M353.2 820.7h0M348.2 796.1h0M344.2 808.9h0M367.7 796.1h0M368.4 812.5h0M344.2 798.3h0M347.9 815.7h0M360.1 800.8h0M358.7 819.2h0M342.9 804.7h0M360.3 790.6h0M348.2 800.7h0M355.2 802.4h0M352.1 802h0M337.5 802.5h0M340.8 796.4h0M367.9 797h0M355 791.1h0M348.5 804.3h0M363.1 791.6h0M335.8 803.9h0M356.8 788.4h0M353.9 805.9h0M349.1 814.5h0M367.8 811.6h0M370.3 794.8h0M364.8 814.5h0M359.9 801.8h0M370.2 806h0M353.4 815h0M348.3 815.4h0M367 808.6h0M345.8 806.9h0M353.5 792h0M379.3 807.9h0M345.4 815.1h0M357.1 805.8h0M349 799.1h0M358.8 801.9h0M359 816.5h0M358.7 810.9h0M360 795.9h0M333 800.1h0M365.5 787.4h0M373.3 818.2h0M354.2 806.3h0M376.8 812.8h0M369.9 810.4h0M353.3 795h0M364 823.1h0M335.9 806.2h0M349.9 793.3h0M358.3 816h0M356.5 787.5h0M356.6 809.5h0M348.1 818.9h0M347.3 807.4h0M354.2 801.6h0M362.3 822.1h0M346.8 799.8h0M367.8 804.7h0M371.8 800.8h0M349.9 811.6h0M361.1 796.5h0M358.9 791.2h0M351.4 802.8h0M368.7 802.7h0M360.8 801.6h0M360 827.3h0M350.9 791.8h0M351.4 802.6h0M367.2 792.2h0M343.2 810h0M361.4 790.6h0M371.5 804h0M354.6 800.4h0M383.3 822.4h0M349.7 808.2h0M361.2 805.6h0M361.9 819.6h0M346 805.3h0M353.2 819.6h0" stroke="#fb2a12" stroke-width="2.0" stroke-linecap="square" fill="none"/>
<path d="M568 588.1h0M569.3 598h0M568.4 616.7h0M569 613.8h0M570.1 587.2h0M569.4 602.8h0M569.6 596.7h0M569.3 574.7h0M569.6 575h0M569.7 594.9h0M569.4 576.3h0M569.3 610.9h0M569.5 584.8h0M569.9 581.5h0M569.4 582.8h0M570 606.6h0M569.6 610.4h0M569.8 587h0M568.9 620.1h0M569.4 594h0M569.4 587.5h0M569.6 587.8h0M569.7 574.4h0M569.8 607.7h0M569.3 584.6h0M569.9 614.2h0M569.6 596.4h0M569.5 656.2h0M568.6 585.8h0M568.4 604.7h0M569.7 597.8h0M570 601.4h0M569.3 590.3h0M569.1 579.6h0M569.8 579.4h0M569.1 580.4h0M567.3 593.9h0M570 601.6h0M570 583.2h0M569.9 585.3h0M566.3 574.8h0M566.2 573.5h0M564.1 574.2h0M568.4 576h0M557.3 574.4h0M561.3 573.6h0M568.4 574.2h0M565.8 575h0M566.9 574h0M568.7 574.6h0" stroke="#000" stroke-width="2.0" stroke-linecap="square" fill="none"/>
</g>
<polygon points="181.1,975.5 180.1,949.1 213.9,877.4 274.8,830.7 366.2,782.3 389.9,825.6 290.1,947.4" fill="none" stroke="#4a62c4" stroke-width="1.5"/>
<text x="181" y="766" font-size="22.3" text-anchor="start" fill="#4f66b8">P1(54.43%)</text>
<path d="M138.5 1006.5L138.5 1017.1M161.3 1006.5L161.3 1013.5M184.1 1006.5L184.1 1013.5M206.9 1006.5L206.9 1013.5M229.7 1006.5L229.7 1013.5M252.5 1006.5L252.5 1017.1M275.3 1006.5L275.3 1013.5M298.1 1006.5L298.1 1013.5M320.9 1006.5L320.9 1013.5M343.7 1006.5L343.7 1013.5M366.5 1006.5L366.5 1017.1M389.3 1006.5L389.3 1013.5M412.1 1006.5L412.1 1013.5M434.9 1006.5L434.9 1013.5M457.7 1006.5L457.7 1013.5M480.5 1006.5L480.5 1017.1M503.3 1006.5L503.3 1013.5M526.1 1006.5L526.1 1013.5M548.9 1006.5L548.9 1013.5" stroke="#1a1a1a" stroke-width="1.5" fill="none"/>
<text x="138.5" y="1044" font-size="22" text-anchor="middle" fill="#1a1a1a">0</text>
<text x="252.5" y="1044" font-size="22" text-anchor="middle" fill="#1a1a1a">50</text>
<text x="366.5" y="1044" font-size="22" text-anchor="middle" fill="#1a1a1a">100</text>
<text x="480.5" y="1044" font-size="22" text-anchor="middle" fill="#1a1a1a">150</text>
<path d="M124.3 994.5L135.6 994.5M128.6 967.7L135.6 967.7M128.6 940.8L135.6 940.8M128.6 914L135.6 914M128.6 887.1L135.6 887.1M124.3 860.3L135.6 860.3M128.6 833.5L135.6 833.5M128.6 806.6L135.6 806.6M128.6 779.8L135.6 779.8M128.6 752.9L135.6 752.9M124.3 726.1L135.6 726.1M128.6 699.3L135.6 699.3M128.6 672.4L135.6 672.4M128.6 645.6L135.6 645.6M128.6 618.7L135.6 618.7M124.3 591.9L135.6 591.9" stroke="#1a1a1a" stroke-width="1.5" fill="none"/>
<text x="116.1" y="994.5" font-size="22" text-anchor="middle" fill="#1a1a1a" transform="rotate(-90 116.1 994.5)">0</text>
<text x="116.1" y="860.3" font-size="22" text-anchor="middle" fill="#1a1a1a" transform="rotate(-90 116.1 860.3)">200</text>
<text x="116.1" y="726.1" font-size="22" text-anchor="middle" fill="#1a1a1a" transform="rotate(-90 116.1 726.1)">400</text>
<text x="116.1" y="591.9" font-size="22" text-anchor="middle" fill="#1a1a1a" transform="rotate(-90 116.1 591.9)">600</text>
<text x="353.7" y="1072.5" font-size="22.6" text-anchor="middle" fill="#1a1a1a">FSC-A</text>
<text x="500" y="1073" font-size="21.5" text-anchor="start" fill="#1a1a1a">( x 10</text>
<text x="556" y="1062.5" font-size="15.3" text-anchor="start" fill="#1a1a1a">4</text>
<text x="567.2" y="1073" font-size="21.5" text-anchor="start" fill="#1a1a1a">)</text>
<text x="83.6" y="789" font-size="22.6" text-anchor="middle" fill="#1a1a1a" transform="rotate(-90 83.6 789)">SSC-A</text>
<g transform="translate(84.6 641) rotate(-90)"><text x="0" y="0" font-size="21.5" fill="#1a1a1a">( x 10</text><text x="56" y="-10" font-size="15.3" fill="#1a1a1a">4</text><text x="67.2" y="0" font-size="21.5" fill="#1a1a1a">)</text></g>
<rect x="134.6" y="1084.2" width="434.8" height="434.1" fill="#fff" stroke="#1a1a1a" stroke-width="1.6"/>
<g clip-path="url(#cs4)">
<path d="M149.5 1505 L149 1492 L160 1478 L176 1462 L190 1452 L196 1456 L186 1472 L172 1488 L160 1498 Z" fill="#4566cc"/>
<path d="M351 1302.2h0M303.1 1337h0M261.3 1368.6h0M339.5 1316.3h0M308.1 1341.6h0M336 1317h0M358.8 1310.3h0M344.4 1324h0M274.4 1361.9h0M336.8 1329.2h0M312.8 1370.8h0M254.3 1366.2h0M288.9 1327.4h0M312.9 1325.6h0M317.5 1341.9h0M371.6 1301h0M421.6 1241.5h0M427.5 1262.5h0M449.8 1208.6h0M326.3 1356.9h0M322.2 1339.8h0M258.1 1367.8h0M299.8 1344.7h0M292.5 1351.3h0M323.5 1347.2h0M376 1306.1h0M264.3 1365.6h0M312.6 1372.2h0M330.5 1319.9h0M255.7 1368.6h0M262.9 1354.9h0M294.5 1315.7h0M340.1 1391.8h0M305.7 1333.9h0M222.1 1389.3h0M288.3 1336.4h0M352.7 1309.3h0M289.5 1346.1h0M306.6 1350.8h0M331.8 1292h0M309.5 1359.5h0M349.1 1285.1h0M301.1 1337.1h0M227.7 1387.7h0M256.8 1374.6h0M290.6 1322.4h0M387.6 1321.3h0M289.9 1341.2h0M422.4 1232h0M325.5 1362.4h0M256.2 1371h0M313 1328.4h0M321.5 1317.9h0M285.1 1357.8h0M304.3 1326h0M294.4 1333.2h0M381 1282.3h0M363.5 1351h0M328.4 1348.9h0M283.3 1347.7h0M294.5 1352.9h0M285.3 1328.2h0M293 1342.6h0M387.5 1281.6h0M370.4 1286.8h0M310.9 1366.8h0M327.3 1379.2h0M302.2 1316.4h0M329.3 1359.2h0M262.7 1363.6h0M320.1 1358.4h0M405.5 1257.7h0M284.1 1361.6h0M321.6 1339.4h0M317.7 1330h0M234.7 1384.2h0M298.9 1350.3h0M330.8 1308.2h0M318.8 1332.4h0M329.6 1314.7h0M290.2 1357.9h0M287.7 1359.5h0M296.2 1343h0M296.3 1345.1h0M290.8 1342.2h0M281.2 1352.7h0M307.2 1353.2h0M300 1418.8h0M293.8 1353.3h0M249.3 1374.4h0M279 1350.6h0M308.3 1364.1h0M293.7 1340h0M257.3 1367.7h0M278.9 1362.3h0M293.7 1347.3h0M269 1362.4h0M280.7 1346h0M307.7 1361.6h0M292.2 1348.4h0M287.3 1342.9h0M364.7 1280.8h0M549.8 1162.1h0M414.3 1297.8h0M326.9 1355.9h0M310.6 1315.2h0M291.5 1340.4h0M817.5 865.4h0M354.8 1310.8h0M365.1 1315.2h0M464 1219.1h0M328.4 1340.6h0M381.2 1278.7h0M353.8 1304.3h0M342.7 1318.5h0M370 1303.9h0M458.3 1248h0M327.8 1334.7h0M307.2 1348.4h0M294.2 1347h0M336.1 1341.5h0M321.2 1315.9h0M265.5 1346.4h0M334.1 1370.1h0M331.9 1328.5h0M310.3 1347.4h0M322.8 1350.1h0M354.4 1261.6h0M283.2 1326.8h0M362.3 1276.1h0M369.1 1295.6h0M301.1 1332.4h0M300.3 1338.9h0M292.2 1340h0M300.5 1326.1h0M301.5 1353.3h0M515.9 1140.5h0M318.1 1344.1h0M290.3 1339.9h0M354 1281.3h0M338.6 1310h0M340 1322.4h0M282.3 1355.5h0M340.2 1282.8h0M292.3 1354.1h0M272.2 1334.3h0M281 1335.8h0M379.7 1331.6h0M469.1 1196.6h0M329.8 1330.1h0M454.3 1239.6h0M311 1308.8h0M314.6 1319.1h0M572.3 1108.9h0M278.2 1346h0M296.5 1347.3h0M291.7 1299.6h0M399.1 1293.1h0M290.9 1348.8h0M280.2 1355.5h0M310.4 1366.7h0M261.5 1325.7h0M343.1 1299.5h0M284.7 1345.4h0M300.9 1328.9h0M344.8 1317.2h0M267.7 1349.6h0M272.6 1357.1h0M327.7 1345.6h0M286.3 1344.3h0M366.1 1234.6h0M311.5 1345.4h0M301 1300.1h0M409.6 1223.8h0M418 1237.5h0M515.5 1170.2h0M361.3 1305.4h0M272.9 1361.2h0M277.7 1335.1h0M321.4 1328.8h0M392.8 1296.8h0M355.9 1321.8h0M416.3 1226.9h0M316.4 1319.9h0M321.8 1362h0M312.1 1324.9h0M384 1258.4h0M499.4 1168.8h0M396.7 1183.8h0M318.7 1325.9h0M271.2 1355.4h0M328.5 1291.4h0M332.2 1297.9h0M306.1 1352.4h0M310.9 1325.1h0M355.2 1330.3h0M305.9 1358h0M314.4 1330.7h0M318.7 1373.9h0M510.6 1192.6h0M403.4 1282.3h0M320.6 1325.9h0M377.5 1330.8h0M418.5 1233.3h0M379.7 1254.2h0M294.3 1334.4h0M326.9 1299.5h0M374 1296.4h0M401.4 1220.8h0M310.3 1340.1h0M386.8 1250.1h0M312.3 1352.3h0M363.7 1251.2h0M366.2 1279.5h0M268.5 1355.8h0M270.5 1323.6h0M397.9 1172.7h0M295.9 1338.7h0M326.6 1339.9h0M290.4 1322.5h0M287.4 1352.6h0M385.8 1304.4h0M360.8 1304.8h0M340.8 1298.1h0M360.3 1306.4h0M372.3 1261.9h0M347 1255.6h0M414.2 1217h0M318.9 1351.6h0M291.8 1340.7h0M388.4 1227.6h0M291.4 1326h0M392.4 1298h0M332.7 1356.1h0M345.7 1331h0M367 1277h0M331.6 1334.2h0M316.5 1320.4h0M337.1 1311.2h0M330.8 1331.1h0M389.3 1334.9h0M294.9 1344h0M320.8 1327.2h0M308.7 1293.5h0M345.4 1290.6h0M347.5 1315.2h0M283.8 1347.8h0M490.4 1182.3h0M305.3 1347h0M389.7 1255.5h0M371.9 1285.3h0M387.4 1301.5h0M282.8 1350.9h0M362 1290.4h0M282.4 1334.9h0M275.7 1362.5h0M369.4 1315.9h0M307.6 1330.6h0M372.7 1299.2h0M355 1286.2h0M322.5 1343.3h0M336 1331.9h0M440.1 1247.5h0M269.9 1360.8h0M321 1307.7h0M354.8 1309.2h0M278.1 1348.3h0M319.7 1342.4h0M292.4 1355.1h0M287.5 1359.3h0M309.1 1336.2h0M307.4 1346.5h0M419.3 1172.3h0M328.1 1316.3h0M340.2 1282.2h0M340.6 1306.9h0M451.2 1221.8h0M416.4 1223.3h0M300.9 1345.5h0M301.5 1331.6h0M361.5 1258.7h0M308.2 1332.3h0M332.9 1315.2h0M414.6 1275.3h0M289.6 1349.7h0M297.8 1335h0M350.3 1354.7h0M306.2 1316.9h0M320.6 1350.3h0M434.6 1249.7h0M276.5 1358h0M319.9 1367.7h0M291.5 1346.9h0M384.4 1254.8h0M445.4 1205.1h0M432.6 1263.3h0M325.1 1323.7h0M293.7 1343.9h0M322.6 1330.4h0M276 1348.3h0M319 1337.3h0M287.3 1353.8h0M311.6 1339h0M313.4 1318.3h0M415 1256.7h0M323 1345.1h0M357.9 1268.5h0M311.7 1323h0M407.6 1258.4h0M311 1361.6h0M360.8 1310.2h0M330.2 1293.3h0M309.7 1328.4h0M319.5 1318.1h0M311.8 1340.3h0M347 1319.8h0M324.6 1340.9h0M319.2 1334.6h0M317 1311.5h0M283 1353.4h0M288.5 1353.4h0M315.4 1304.7h0M317.1 1349.2h0M367.1 1299.8h0M313.6 1328.3h0M327.6 1335.7h0M365.7 1305.5h0M281.8 1355.4h0M349.8 1318.6h0M273.8 1362.7h0M361.7 1272.4h0M309.6 1348.1h0M273.4 1359.9h0M414.8 1246.7h0M308 1338.1h0M338.1 1336.3h0M310.9 1318h0M302.6 1351.6h0M405.7 1208.9h0M300.5 1347.4h0M330.7 1328.5h0M334.3 1375.8h0M318.1 1378.9h0M300.7 1349.1h0M338.5 1327h0M325.7 1330.2h0M315 1306.9h0M356.4 1300.7h0M295.7 1330.2h0M285 1357.4h0M343 1325.8h0M307.4 1329.5h0M309.3 1339h0M427.4 1259.1h0M328.9 1311.1h0M292.2 1315.4h0M398.4 1296.3h0M300.4 1323.1h0M353 1353h0M312.7 1348.7h0M321.3 1270.9h0M326.4 1342.1h0M317.7 1328.9h0M358.8 1268.7h0M316.8 1305.6h0M325.9 1317.2h0M308 1344.8h0M366.8 1342.3h0M285.6 1353h0M305.1 1346.2h0M330.6 1316.4h0M289.8 1352.8h0M354.7 1276.8h0M339.5 1322.3h0M333.6 1290.3h0M429.3 1219.5h0M328.5 1324.2h0M313.1 1344.7h0M372.6 1293.9h0M312 1333.3h0M313 1354.4h0M310.4 1370.6h0M430 1200.3h0M345.8 1321.6h0M362.1 1262.8h0M271.3 1353.1h0M472.3 1215.9h0M384.8 1227.4h0M329.4 1334.3h0M284 1348.8h0M306.6 1312.7h0M274.7 1360.8h0M467.5 1178.3h0M300.2 1345.9h0M331.5 1318.7h0M364.9 1323.3h0M350 1313.4h0M370.9 1269.7h0M370.1 1275.9h0M353.6 1291.5h0M332.3 1305.3h0M308.6 1316.2h0M395.7 1285h0M313.1 1360.9h0M302 1347.8h0M329.3 1347.7h0M350.3 1289.8h0M334.5 1333.5h0M297.3 1314.5h0M414.6 1195.3h0M414.9 1233.9h0M381.4 1277.3h0M336.9 1330.9h0M285.8 1357.8h0M454.6 1194.2h0M323 1325.6h0M371.7 1285.8h0M332.5 1327.3h0M325.9 1342.5h0M326.3 1326.9h0M324 1337.4h0M318.7 1324.3h0M305.6 1355.9h0M542.3 1124.2h0M350.3 1319.4h0M281.4 1362.8h0M280.6 1358.1h0M463.1 1190.6h0M327.4 1315.6h0M483.4 1163.3h0M315.1 1357.7h0M295.3 1335h0M339.2 1320.6h0M268.1 1354.4h0M328.3 1320.2h0M357.8 1284h0M313.6 1344.3h0M382.8 1254.3h0M279.3 1351.4h0M334.1 1321.3h0M385.3 1266.4h0M394.3 1284h0M215 1508.7h0M436.2 1228.6h0M137.4 1460.8h0M521.1 1082h0M304.3 1294h0M470 1211.1h0M392.8 1261.9h0M402.4 1300.7h0M512.5 1115.5h0M461.2 1302.9h0M353.7 1242.2h0M161.4 1430.9h0M163.9 1435.1h0M488.9 1131.6h0M482 1062.3h0M433.4 1339h0M280 1446.8h0M148.6 1458.2h0M160.8 1453.7h0M462.5 1171h0M422.4 1330.2h0M269.9 1340.1h0M538 1115.6h0M387.3 1273.2h0M310.4 1365.9h0M332.2 1350.5h0M562.6 1152.2h0" stroke="#000" stroke-width="2.0" stroke-linecap="square" fill="none"/>
<path d="M155.7 1502.1h0M158.3 1493.5h0M179.7 1460.7h0M164.5 1477.7h0M162.4 1477.4h0M191.9 1466.3h0M206.6 1464h0M223.8 1469.3h0M188 1472.3h0M197.9 1452.3h0M298.7 1366.1h0M223.9 1436.3h0M152.5 1495h0M193.5 1459.6h0M184.3 1458.2h0M202.1 1464h0M172.9 1473.2h0M170.7 1486.3h0M199.1 1464.5h0M186 1451.9h0M179.7 1464.4h0M176.3 1479.8h0M186.4 1469.9h0M208.3 1436.9h0M217.7 1445.3h0M177.7 1486.4h0M155.4 1499.1h0M156.1 1491.7h0M186.8 1481.1h0M153.1 1494.7h0M196.9 1451.7h0M166.1 1495.7h0M162.9 1493.5h0M191.9 1443.6h0M196 1460h0M150.4 1493.4h0M177.5 1478.8h0M177.2 1467.5h0M198.4 1457.2h0M182.9 1476.7h0M241.4 1451.3h0M179.2 1481.4h0M152.8 1499h0M200.5 1474.4h0M198.5 1454.1h0M163.2 1492h0M165.3 1496.6h0M197.8 1460.4h0M218.9 1425.7h0M174.9 1488.4h0M191.7 1459.8h0M237.6 1418.3h0M161.2 1494.8h0M172.7 1472.8h0M164 1489.4h0M172.9 1484.6h0M168.6 1500.3h0M184.5 1464.9h0M151.4 1499.2h0M184.8 1479.9h0M185.6 1468h0M149.2 1499.2h0M252.6 1409.4h0M151.2 1494.3h0M164.1 1485h0M174.5 1477.5h0M211.1 1435.2h0M183.1 1465.2h0M164.3 1499.6h0M183.2 1448.4h0M158.5 1493h0M169.2 1480.9h0M195.2 1471.4h0M159.4 1495.7h0M221.3 1440.9h0M225.4 1443.8h0M173.9 1486.2h0M167.6 1475h0M163.5 1482h0M158.5 1495.5h0M261 1411.2h0M168.1 1482.8h0M201.1 1449.3h0M171.3 1486.3h0M163.5 1500.7h0M243.2 1414.8h0M201.9 1463.3h0M203.3 1467.2h0M191.2 1471.8h0M200 1459h0M217.2 1446.2h0M159.3 1493.4h0M208.9 1476.1h0M198.2 1452.9h0M182.5 1464.9h0M222.2 1432h0M161.6 1489.4h0M179.4 1470.6h0M243.2 1439.3h0M161.3 1502.4h0M178.8 1464.6h0M222.6 1432.4h0M242.2 1413.5h0M195 1429.1h0M157.8 1491.7h0M171.2 1483.5h0M191.5 1464.3h0M171.5 1476h0M211.1 1450.4h0M157 1473.9h0M169.6 1477.1h0M251.3 1430.7h0M158.5 1484.6h0M173.4 1476.3h0M256.8 1391.9h0M177.1 1466.7h0M225.8 1448.1h0M156.4 1503.6h0M195.8 1474.5h0M269.7 1389.5h0M194.2 1460.7h0M202.1 1426.3h0M152.5 1496.8h0M168.7 1497.3h0M170.3 1489.9h0M173.3 1475.9h0M152.7 1496.9h0M190.6 1483.4h0M183.5 1473.4h0M237.9 1417.2h0M154.8 1503.9h0M161.1 1496.5h0M155.2 1495.1h0M186.8 1448.3h0M181.4 1482.9h0M285.6 1373.7h0M151.6 1487.8h0M175.3 1487.2h0M165.2 1476.6h0M182.8 1477.6h0M159.3 1488.2h0M192.8 1455.6h0M179.9 1471.7h0M284.2 1366.8h0M217.5 1467.8h0M212.2 1461.2h0M211.3 1456.9h0M191 1460h0M277 1370.1h0M165.2 1483.7h0M166 1493.8h0M232.6 1405.8h0M169.6 1492.6h0M159.4 1493.6h0M212.7 1461.6h0M184 1471.4h0M210 1457.8h0M193 1420.8h0M241.5 1416h0M179.7 1475.2h0M167.3 1492.2h0M189.2 1483.8h0M155.4 1486.5h0M164.3 1494.3h0M158.4 1491.2h0M218.4 1459.9h0M212.1 1445.8h0M182.5 1481.7h0M168.6 1469.7h0M175.9 1479.5h0M170.5 1480.4h0M261.1 1407h0M161.7 1499.4h0M178.5 1469.9h0M183.7 1458.7h0M240.1 1394.2h0M161.2 1501.8h0M179.3 1465.2h0M168.9 1492.7h0M206.1 1444h0M186.7 1470.3h0M152.8 1496.5h0M211.5 1445.3h0M171.7 1472h0M208.6 1430.7h0M167.9 1496.4h0M158.3 1498.3h0M151.7 1488.4h0M167.8 1479.5h0M153.3 1498.1h0M197.6 1449.7h0M228.7 1433.9h0M156.3 1503.6h0M166.2 1492.5h0M160.6 1471.6h0M174.7 1478.4h0M158.5 1496.1h0M194 1463.5h0M201.3 1449.4h0M159 1485.4h0M195.8 1452.4h0M160.5 1486.8h0M168.1 1492.6h0M174.8 1478.2h0M152.9 1501.1h0M199.3 1450.2h0M157.9 1501.1h0M171.6 1491.8h0M150.3 1497.4h0M186 1459.6h0M232 1420.7h0M192 1462.9h0M226.4 1439.2h0M177.8 1473.3h0M242.3 1411.8h0M181.5 1485.8h0M211.3 1434.4h0M218.7 1439.2h0M171.6 1478.2h0M198.7 1454.6h0M164.7 1475.3h0M234.9 1397h0M157.4 1494.4h0M175.5 1474.6h0M150.7 1497.5h0M176.5 1476.5h0M167.6 1472.9h0M181.6 1462.9h0M200.8 1456.8h0M184.9 1470.1h0M159.4 1488h0M224.7 1472h0M213.2 1463.5h0M171.1 1484.7h0M172.6 1471.4h0M149.5 1487.4h0M149.1 1496.8h0M272.2 1395.1h0M163 1481.1h0M189.2 1474.6h0M217.5 1439h0M159.6 1489.7h0M163.2 1489.2h0M197.7 1433.9h0M155 1489.1h0M208.8 1452.8h0M149.7 1497.9h0M160.9 1484.5h0M155.7 1488.5h0M199.6 1464.9h0M199.9 1460.6h0M154.1 1492.3h0M174.5 1493.4h0M292.5 1366.8h0M157.2 1501.5h0M182 1472.3h0M159.2 1494.8h0M254.9 1395.2h0M172.5 1473.4h0M195.8 1450.9h0M230.5 1414.5h0M205.6 1453.3h0M177.1 1462.8h0M162.3 1490h0M174.7 1464.5h0M181.4 1494.4h0M169.5 1480.7h0M159.6 1491.7h0M169.3 1493.5h0M188.1 1457.7h0M166.9 1488h0M259.3 1412.1h0M173.3 1486.8h0M192.2 1471.9h0M151 1500.4h0M162.9 1497.6h0M186.3 1459.9h0M165.2 1493.7h0M169.3 1489.9h0M210 1469.2h0M155.9 1490h0M234.8 1445h0M205.3 1458.2h0M255.4 1398.7h0M228.4 1427.3h0M169.1 1496.9h0M160.3 1485.6h0M186.1 1472.1h0M235.3 1448.4h0M151.8 1490.1h0M213.3 1429.9h0M203.9 1435.9h0M190.3 1468h0M152.2 1484.2h0M269.3 1419.8h0M157.9 1498.7h0M168.7 1496.6h0M171.6 1480.7h0M159.8 1491.8h0M160.6 1481.1h0M170.5 1485.3h0M195.9 1457.7h0M210.6 1418.7h0M210 1434.6h0M161.8 1492.2h0M175.9 1476.4h0M163.1 1487.2h0M158.5 1494.8h0M171.7 1466.4h0M194.7 1463.6h0M170 1476.4h0M245.7 1431h0M186.7 1467.6h0M176.3 1486.6h0M222.7 1430.3h0M213.4 1445.1h0M167.7 1481.2h0M231.8 1416.3h0M154.1 1489.1h0M180.8 1471.5h0M174.4 1488h0M155.4 1491.2h0M177.7 1472.8h0M179.8 1471.9h0M154.9 1485.4h0M164.5 1485.4h0M155.9 1490.5h0M248.3 1444.4h0M151.2 1497.1h0M156.3 1501.8h0M159.9 1487.5h0M170.8 1477.1h0M214.3 1439.1h0M213.6 1438.6h0M190.4 1445.3h0M163.3 1476.8h0M172.7 1487h0M150.9 1493h0M201.1 1464.6h0M186.4 1458.5h0M160.4 1491.5h0M150.1 1490.7h0M201.1 1449h0M167.8 1495.3h0M180 1489.7h0M179.1 1478.2h0M225.6 1413.1h0M174.1 1482.9h0M170.4 1474.2h0M252.4 1382.3h0M190.7 1467.4h0M211.3 1447h0M182.8 1454.6h0M156.4 1502.5h0M155.8 1500.1h0M203.8 1438.7h0M198.3 1455.2h0M213.5 1427h0M174.8 1481.2h0M180.5 1482.6h0M180.4 1485.8h0M192.4 1463.8h0M168.8 1476h0M168 1481.2h0M171.4 1494.9h0M175.4 1473.6h0M163.7 1492.4h0M240.6 1420.3h0M168.4 1488.1h0M192.9 1452.9h0M205.8 1439.5h0M172.5 1473.1h0M161 1490.7h0M212.8 1436.6h0M192 1467.4h0M151.2 1498.9h0M170.4 1465h0M160.9 1485.3h0M155.9 1495.6h0M196.6 1462.3h0M176.1 1469.3h0M149.5 1494.6h0M166.6 1488.2h0M202.7 1449h0M163.4 1502.5h0M159.3 1490.1h0M272.2 1395.4h0M168.3 1479.5h0M164 1477.9h0M173.8 1481.4h0M208.6 1443.4h0M156.4 1501.9h0M212.9 1447.6h0M161.7 1471.9h0M196 1459h0M157.2 1490.9h0M155.6 1494.8h0M176.6 1473.4h0M149 1493h0M190 1474.8h0M155.7 1495.3h0M166.7 1476.4h0M151.2 1488.5h0M157 1488.5h0M173.3 1464.8h0M202.9 1445.9h0M155.6 1494.1h0M151.4 1496.4h0M265.2 1391.8h0M166.8 1486.8h0M189.1 1457.4h0M178.6 1477.1h0M183.6 1471h0M199.1 1466.1h0M154.9 1498.1h0M193.6 1466.6h0M175.1 1475.6h0M159.6 1500.5h0M181.1 1473.7h0M207.4 1440.9h0M166.5 1470h0M182.1 1465h0M150.4 1492.5h0M221.3 1416.6h0M163.8 1493.3h0M173.2 1485.2h0M165.6 1494.8h0M184.7 1458.3h0M196.4 1467h0M160.2 1482.4h0M156.2 1484.9h0M165.1 1482.3h0M178.8 1467.5h0M159.3 1494.6h0M193.8 1463.5h0M156 1495.9h0M163.8 1493.4h0M156.8 1488.7h0M279.7 1387h0M207.2 1440h0M204.7 1457.4h0M187.5 1463.7h0M206.3 1445.3h0M165.2 1485.6h0M283.3 1368.2h0M170.4 1493.8h0M161.6 1497.7h0M194.8 1467.7h0M180.2 1460.3h0M153 1491h0M162.4 1496.4h0M169.4 1445.9h0M228.7 1428.2h0M156.5 1501.8h0M237.8 1416.8h0M184.6 1459.4h0M158.4 1481.3h0M201.9 1455.2h0M227.1 1439.9h0M165 1495.1h0M182 1467.7h0M159.9 1503.4h0M182.9 1478.8h0M205.3 1462.6h0M174 1483.2h0M209.1 1458.9h0M170.3 1483.1h0M169.2 1486h0M148.6 1496.6h0M184.6 1445.7h0M215.6 1437.6h0M207.4 1443.7h0M149.2 1495.1h0M177.9 1469.9h0M159.1 1488.6h0M166.7 1489.9h0M153.5 1494.4h0M154.3 1497.5h0M206.8 1475h0M168.4 1470.4h0M163.5 1486.1h0M163.5 1480.6h0M174.5 1482.8h0M153.6 1491.6h0M150.3 1498.7h0M174.6 1478.9h0M172.1 1484.6h0M231.8 1431.2h0M156.2 1489.6h0M174.9 1474.1h0M187.2 1465h0M176.8 1480.6h0M175.4 1467h0M164.8 1484.7h0M154.1 1490.9h0M227.3 1435.6h0M197.4 1469.6h0M181 1465.3h0M169.9 1485.2h0M208.3 1439.9h0M171.5 1459.6h0M225.1 1440.7h0M204.9 1459.8h0M186.6 1467.4h0M234.9 1406.6h0M151 1499.2h0M156.6 1490.8h0M153.4 1495.4h0M159 1496.9h0M184.8 1478h0M205.3 1454.7h0M153.7 1494.7h0M228.8 1415.8h0M248.6 1415.9h0M150.2 1493.4h0M191.4 1464.9h0M210.9 1432.1h0M171.1 1481.3h0M213.8 1435.5h0M164.5 1490.6h0M163.1 1495.7h0M175.3 1475.9h0M174.5 1475.9h0M255.9 1411.3h0M157.6 1502.6h0M228.1 1433.4h0M223.3 1424.7h0M179.4 1485.3h0M153.1 1491.8h0M181.4 1466.5h0M202.5 1448h0M156.9 1501.9h0M216 1425h0M149.8 1496.3h0M157.5 1500.7h0M202.4 1476.2h0M191.3 1458.3h0M165.3 1479.5h0M168.1 1473.1h0M171.9 1490h0M212.1 1437.8h0M168.8 1496.5h0M161.6 1483.5h0M199.5 1448.2h0M177.7 1475.6h0M170.9 1476.1h0M166.1 1483.4h0M158.1 1499.8h0M154.8 1492.6h0M152.6 1488.7h0M152.5 1494.2h0M183.7 1476.6h0M215.1 1440h0M202.8 1460.4h0M159.9 1491.4h0M162.2 1490.8h0M192 1461.5h0M188 1465.8h0M209.3 1441.3h0M185.2 1443h0M183.2 1481.1h0M172.3 1494.5h0M164.6 1489.5h0M267.1 1401h0M240.3 1406.8h0M155.6 1496.4h0M207.2 1463.3h0M188.9 1453.2h0M182.6 1481.1h0M162.4 1473.6h0M203.5 1452.7h0M219 1450.1h0M163.2 1487.5h0M201.8 1458.4h0M167.8 1471h0M222.1 1442.5h0M261.1 1402.6h0M190.4 1475.8h0M184.7 1457.2h0M203.8 1451.8h0M242.5 1420.7h0M186.5 1463.6h0M175 1479.1h0M239.7 1434.8h0M200.5 1453.7h0M177.7 1463.6h0M290.5 1368.2h0M183.5 1465.1h0M156.8 1490.5h0M162.6 1497.9h0M260.1 1394.6h0M159.6 1484.8h0M187.5 1451.9h0M155.9 1495.4h0M228 1440.9h0M174.7 1481.6h0M167.5 1489.7h0M245.5 1388.8h0M172.9 1486.6h0M193.9 1453h0M160.4 1500.1h0M267.1 1408.3h0M156.3 1495h0M159.6 1479.6h0M175.4 1485.5h0M176.5 1477.7h0M221.8 1430.5h0M154.3 1491.3h0M158.7 1486.9h0M161.3 1492.3h0M185.5 1466.4h0M223.2 1443.6h0M169.6 1461.9h0M222.1 1431.3h0M170.2 1495h0M183.9 1475.3h0M172.5 1467.5h0M166.1 1491.3h0M194.6 1451.2h0M236.4 1407.3h0M228.3 1415.6h0M167.2 1474h0M157.4 1492.6h0M176.1 1479.1h0M190.3 1457.9h0M188.1 1455.7h0M210.8 1443.6h0M153 1490.1h0M152.1 1497.2h0M173.7 1474.2h0M193.4 1468.9h0M152.5 1498.6h0M182.1 1495.5h0M288.2 1367.8h0M201.2 1465.2h0M153 1498.3h0M233.2 1420.1h0M157.7 1499.1h0M217.9 1425.3h0M201.6 1448.9h0M238.9 1417.6h0M190.7 1471.1h0M212.1 1442.9h0M157.1 1495.7h0M205.6 1437.1h0M149.7 1499.1h0M177.4 1473.8h0M195.3 1462.8h0M244.3 1395.8h0M174.8 1471.3h0M198.7 1464.2h0M169.4 1481.4h0M149.4 1492.5h0M306.1 1378.1h0M197 1460.5h0M174.4 1478.8h0M157.8 1489.4h0M163.5 1499h0M207.5 1432.9h0M177.7 1471.7h0M215.9 1449.4h0M207.3 1444.9h0M160.8 1487.9h0M175.7 1483.6h0M250.7 1411.8h0M155 1496.3h0M256.6 1383.8h0M157 1495.6h0M190.4 1457h0M169.1 1489.8h0M184 1465.1h0M162.4 1500.7h0M181.1 1492.4h0M170.4 1499.4h0M176.2 1477.8h0M176.2 1473.4h0M149.8 1498h0M164.2 1486.9h0M170.8 1457.4h0M155.4 1490.7h0M166.1 1476.3h0M157.9 1484.9h0M150.1 1498.6h0M192.4 1482.6h0M157.8 1488.7h0M199.2 1480.2h0M180.9 1465.3h0M164.6 1480.8h0M154.5 1501h0M223.8 1434.6h0M208.6 1464h0M188.4 1470.1h0M168 1481.8h0M204.2 1435.1h0M197.2 1458.9h0M175.4 1484.2h0M211.1 1443.3h0M154 1495.8h0M156.2 1490.8h0M176.2 1495h0M201.2 1454.2h0M150.7 1499.9h0M153.7 1489h0M199.7 1445.4h0M191.4 1458.4h0M229.8 1434.3h0M278.2 1366.1h0M215.3 1452.7h0M192.1 1473.2h0M203.9 1469.5h0M273 1403.5h0M154.6 1502.1h0M176.5 1474.1h0M169.1 1486.9h0M188 1471.1h0M177 1477.2h0M155.9 1497.8h0M160.1 1493.3h0M165.9 1489.3h0M154.2 1500.8h0M195.3 1462.2h0M169.7 1479.7h0M220.4 1429.7h0M205.7 1456.4h0M150 1494.3h0M214.6 1436.2h0M156.7 1498.6h0M234.6 1444.3h0M164.2 1484h0M179.6 1455.2h0M169.3 1476.3h0M209.2 1460.3h0M238 1408.7h0M212.8 1456.5h0M229.8 1403.2h0M154.7 1493.7h0M206.1 1450.9h0M167.2 1497.1h0M150.7 1489.4h0M213.3 1440.2h0M215.3 1449.4h0M225.6 1441.4h0M182.1 1471.9h0M160.6 1494.9h0M168.5 1480.3h0M299 1372.9h0M164.7 1496.2h0M166.8 1485h0M161.4 1501.4h0M175.2 1470.6h0M196.7 1464h0M208.9 1459h0M195.7 1456.8h0M212.4 1446.7h0M159.8 1488.8h0M159.5 1497.3h0M172.9 1472h0M160.4 1483.8h0M163.5 1502.2h0M158.2 1498.6h0M148.6 1494.5h0M155.4 1494.4h0M262.7 1379.4h0M223.2 1440.9h0M150.7 1496.9h0M154.6 1488.1h0M185.4 1464.1h0M153.2 1495.9h0M184.2 1451h0M169.9 1474.5h0M195.4 1466.1h0M204.6 1465h0M169.5 1490.1h0M197.2 1465.4h0M160.1 1470.5h0M148 1497.5h0M163.6 1494.9h0M165.4 1494h0M187.2 1462.7h0M219.8 1424.4h0M175 1485.3h0M202.7 1437.9h0M192.1 1455.4h0M194.6 1445.7h0M199.5 1428.4h0M159.1 1494.3h0M160.6 1500.3h0M231.6 1431.6h0M187.3 1457.7h0M163.6 1494.3h0M198 1443.3h0M180.6 1438.9h0M149.4 1498.8h0M188.3 1470.4h0M166.3 1470.5h0M164.8 1484.7h0M236.8 1419.6h0M253.9 1406.7h0M168 1497.7h0M227.9 1413.5h0M149.9 1495.8h0M277.7 1383.1h0M281.6 1394.7h0M180.8 1474.3h0M155.1 1493.5h0M160.7 1489.6h0M244.7 1433.2h0M196.3 1466.2h0M170.4 1488h0M237 1421.8h0M166.1 1495.8h0M168.1 1490.5h0M152.6 1502.2h0M239.5 1410.7h0M150.6 1500h0M158.5 1496.3h0M198.3 1434.4h0M158.1 1488h0M202.2 1438h0M194.9 1463.8h0M179.4 1488.7h0M261.9 1409.1h0M194.2 1461.7h0M217.8 1418h0M206.9 1454.2h0M165.8 1496.7h0M186.6 1470.6h0M274 1395.5h0M149.7 1499.1h0M200.4 1462.1h0M206.8 1418.5h0M202.6 1462.9h0M265.7 1403.2h0M174.8 1478.9h0M160.4 1500h0M167.2 1490.3h0M154.1 1499.6h0M207.7 1437.9h0M168.2 1486h0M176 1471.8h0M166 1495.9h0M233.8 1418.8h0M189.5 1467.6h0M200.7 1459.7h0M199.4 1458.9h0M219.9 1437.4h0M173.3 1482.3h0M161.7 1487.7h0M159.5 1497.2h0M154.6 1500.4h0M196.6 1455.7h0M277.9 1370.6h0M151.4 1500.1h0M187.6 1482.8h0M160.4 1501.1h0M153.5 1493.5h0M210.8 1448.3h0M179.3 1471.1h0M153.2 1499h0M158.5 1496.3h0M258.6 1425.8h0M154.9 1494.9h0M166.3 1497.9h0M151.2 1495.2h0M222.5 1435.6h0M176.9 1481.6h0M188.9 1467.4h0M167.4 1467.6h0M152.1 1498.3h0M161.4 1493.6h0M212.3 1443.7h0M230.5 1415.2h0M248.8 1424.7h0M179.8 1482.3h0M169.3 1479.9h0M200.8 1482.5h0M180.5 1474.3h0M202.7 1465h0M156.8 1494h0M157.1 1482.9h0M173.3 1490.9h0M190.3 1470.1h0M189.2 1442.7h0M168.2 1486h0M173.1 1479.7h0M171.7 1488.1h0M180.6 1476.1h0M218 1440.9h0M238.1 1437.8h0M161.5 1485.5h0M169.2 1480.6h0M166.5 1483.8h0M160.5 1494.2h0M150.3 1500.1h0M157.6 1492.6h0M202.8 1441.5h0M175.3 1470.2h0M174.9 1480.7h0M243.2 1403.2h0M171.8 1481.1h0M182.8 1480.7h0M288.7 1378.7h0M163.4 1498.8h0M149.8 1497.7h0M239.1 1412.2h0M173.2 1481.6h0M153.4 1499.7h0M169.3 1478.3h0M170.3 1488.3h0M170.9 1485.3h0M219.9 1419.9h0M183.9 1474.4h0M147.9 1495.7h0M233.5 1446.5h0M192.8 1458.9h0M153.5 1498.8h0M174.2 1487.4h0M163.3 1481.7h0M151.7 1487.4h0M176.4 1472.4h0M166.6 1498.3h0M212.9 1451.2h0M153.6 1489.9h0M151.5 1495.7h0M172.5 1491.7h0M208.7 1467.9h0M152.7 1490.8h0M173.2 1477.8h0M154.4 1497.6h0M177 1457h0M192 1467.7h0M228.3 1438.2h0M239.9 1420.1h0M276.5 1367.5h0M186.2 1466.5h0M213 1448.5h0M208.7 1440h0M154.2 1495.4h0M164.9 1486.1h0M190.8 1473.8h0M173.3 1492h0M193.3 1468.3h0M185.6 1468h0M242.2 1419.4h0M176 1480.8h0M188.2 1456.7h0M214.9 1455.4h0M176.5 1470.3h0M207.9 1448.9h0M187.1 1455.9h0M169.1 1479h0M208.3 1439.7h0M229.7 1391.6h0M184.8 1458.1h0M158 1489.2h0M152.9 1499h0M239.8 1413.5h0M244.2 1398.6h0M230.8 1428.7h0M151.4 1500.6h0M216 1429h0M164.6 1480.8h0M168.6 1482.2h0M154.7 1498.5h0M200.5 1445.5h0M167.2 1490.9h0M158 1489.4h0M162.8 1479.5h0M175 1482.9h0M149.8 1491.5h0M161.9 1501.9h0M172.8 1476.9h0M165.7 1477.1h0M187.3 1477.7h0M165.6 1488.4h0M293.1 1369.8h0M159.9 1502.1h0M172.4 1494.9h0M169.2 1488.2h0M155.3 1500.7h0M166.4 1484.7h0M159.1 1484.3h0M153.4 1488.8h0M170.8 1490.6h0M157.5 1495h0M184.2 1459.9h0M165.1 1485.2h0M191.6 1466.9h0M171.3 1479.2h0M202.3 1455.8h0M180.6 1479.4h0M197.5 1470h0M149 1494.5h0M151.1 1498.5h0M259.2 1399.9h0M182.2 1471.8h0M178.5 1480.4h0M166.4 1470.1h0M157.7 1485.7h0M172.9 1489.3h0M190 1481.5h0M177.1 1475.8h0M168.9 1473h0M164.1 1473.7h0M156.4 1501.1h0M192 1479.9h0M170.6 1490.7h0M230.2 1418.5h0M199.8 1459.7h0M174.7 1461.4h0M246.1 1396.4h0M180.3 1470h0M153.7 1492.3h0M161.5 1477.1h0M161.9 1495.7h0M168.1 1470.9h0M304.2 1398.1h0M162.8 1490.9h0M196.6 1453.9h0M197.4 1468h0M157.3 1498h0M153.9 1497.4h0M150.9 1498.2h0M152.9 1486.4h0M175.5 1479.1h0M216.4 1437.8h0M168.1 1478.7h0M159.1 1470.8h0M219.5 1417.4h0M152.2 1501.5h0M261.6 1404.4h0M197.9 1442h0M150.5 1495.7h0M239.1 1419.3h0M177.6 1472h0M181.9 1457.7h0M225.9 1438.6h0M172.4 1487.3h0M155.9 1491.6h0M154.9 1491.8h0M175.2 1491.8h0M162.1 1487.5h0M149.1 1490.9h0M154.5 1499.1h0M151.4 1482.5h0M159.5 1492.5h0M175.3 1474.6h0M153.6 1496.1h0M191.8 1457.6h0M175.8 1489.9h0M155.4 1489.8h0M166.1 1480.4h0M151.1 1500.7h0M205 1448.7h0M157.3 1494.7h0M244.8 1413.9h0M172.7 1477.1h0M255.4 1381.2h0M150 1498.5h0M179.5 1483.7h0M169.6 1485.7h0M203.5 1459.5h0M172.3 1470.6h0M241.4 1435.4h0M184.6 1478.9h0M237.2 1408.4h0M169.1 1475.2h0M188.7 1460.9h0M167.8 1499.5h0M243.2 1434.1h0M186.5 1479.8h0M164.2 1500.3h0M163.4 1483.3h0M196.2 1464.9h0M155.6 1494.6h0M204.9 1454.4h0M235.2 1431.4h0M152 1496h0M164.9 1468.9h0M159.7 1501.1h0M186.1 1470.9h0M179 1454.4h0M169.7 1493.3h0M248 1424.7h0M246.5 1386.4h0M173.4 1483.4h0M174.8 1478.2h0M204.9 1463.6h0M169.5 1486.7h0M197.1 1460.6h0M165.4 1484.3h0M168.9 1490.3h0M204.2 1458.4h0M217.3 1452.9h0M163.1 1501.6h0M238.8 1408.2h0M161.4 1493.7h0M165.8 1470.1h0M196.4 1440.7h0M205.5 1454.2h0M152.4 1485.9h0M166.3 1488.6h0M159.9 1495h0M155.5 1500.3h0M153.2 1492.9h0M195.7 1471.6h0M227.8 1437.3h0M181.3 1462h0M183.5 1483.7h0M153 1486.8h0M179.4 1486.3h0M224.2 1437h0M148.9 1494h0M219.9 1440.2h0M272.5 1387h0M169.1 1481.6h0M184 1480.2h0M210.2 1455.1h0M166.7 1476h0M152.6 1490.9h0M148.4 1496.6h0M149.4 1496.3h0M162.7 1482.9h0M210.2 1450.9h0M154.5 1477.4h0M197.6 1470.4h0M157.5 1499.9h0M205.2 1440.7h0M300.8 1372.7h0M162.1 1494.2h0M178.4 1469.4h0M161.6 1502.6h0M166.5 1484.3h0M226.4 1426.1h0M153.4 1502.7h0M157.7 1487.8h0M219.6 1451.7h0M163.9 1499.9h0M190 1452.1h0M198.3 1465.4h0M163.5 1489.5h0M204.7 1465.2h0M208.1 1464.2h0M178.5 1477.8h0M201.6 1466.7h0M174.6 1490.6h0M268 1386.8h0M178.3 1471.5h0M185.2 1487.5h0M168.2 1497.3h0M157.7 1493.4h0M220.5 1443.4h0M238.2 1418.8h0M202.6 1444.6h0M165.7 1492.2h0M171.9 1486.9h0M159.3 1487.8h0M161 1495.3h0M220.6 1428.1h0M209.9 1447.9h0M168.2 1474.9h0M166.8 1477.7h0M219.9 1455.6h0M157.6 1503.6h0M190.2 1461.8h0M170.5 1485.9h0M158.9 1494.8h0M211.1 1444.5h0M231.4 1445.1h0M276.7 1386.8h0M159.4 1488.6h0M148.3 1491.9h0M176.8 1460.6h0M173.2 1494.5h0M188.8 1470.1h0M253.5 1418h0M153.9 1503h0M176.1 1471.1h0M199.1 1448.9h0M249.5 1403.6h0M151.1 1483h0M161.9 1474.4h0M156.9 1490.9h0M185.5 1456.9h0M150.3 1498.7h0M175.9 1481.4h0M226.1 1454h0M163.7 1499.8h0M152.4 1492.7h0M166.6 1476.6h0M209.9 1449.7h0M153.1 1497.2h0M221.9 1435.6h0M244.7 1412.7h0M205.8 1455h0M175.8 1456.1h0M244.4 1413.7h0M189 1444.6h0M249.1 1420.9h0M149.8 1498.7h0M197.1 1448.1h0M176.7 1482.7h0M159.8 1498.8h0M193 1460.8h0M191.7 1471.8h0M175.5 1465.3h0M158.2 1497.5h0M188.9 1470.4h0M168.9 1481.5h0M170 1490.3h0M205.4 1458.3h0M171.5 1478h0M179.8 1463.2h0M170.6 1476.2h0M159.6 1496.4h0M168.1 1487.8h0M239.4 1418.9h0M187.8 1453.8h0M151.8 1499.3h0M215.7 1453.3h0M159.1 1499.7h0M180.3 1463.9h0M210.7 1449.3h0M156.8 1491h0M158 1495.4h0M153.6 1493.2h0M179.4 1468.4h0M204 1442.5h0M178.1 1471.9h0M150.4 1494.3h0M166.2 1494h0M155.7 1494.9h0M195.4 1465.7h0M188.3 1465.7h0M191.8 1460.4h0M196.7 1439.9h0M148.5 1493.5h0M181.5 1468.6h0M224.7 1411.6h0M153.9 1503h0M156.7 1491.4h0M233.2 1406.6h0M192.4 1458h0M167.9 1487.4h0M157.6 1492.4h0M232 1438.5h0M217.8 1436.1h0M166.3 1479.8h0M168.5 1470.2h0M195.4 1463.4h0M221.4 1446.5h0M219.9 1432.7h0M155.6 1490.2h0M158 1493.2h0M212.9 1431.7h0M178.1 1473.8h0M192.4 1466.7h0M161.2 1488.8h0M158.5 1497.5h0M158.8 1500.6h0M162.1 1481.3h0M192.2 1462.1h0M160.3 1499.8h0M170 1479h0M172.6 1481.1h0M162.5 1495.6h0M154.4 1481.6h0M214 1454.1h0M156.9 1499.7h0M167.5 1460.3h0M160.5 1482h0M182.9 1477h0M160.9 1500.5h0M183.7 1468.9h0M173.9 1488.8h0M151.2 1486.6h0M157.4 1487.3h0M174.6 1494.1h0M225.3 1442.7h0M162.7 1487.6h0M201.8 1459.4h0M158.6 1487.7h0M155.3 1485.2h0M174.2 1486.8h0M180.7 1469.2h0M198.7 1457.3h0M179.7 1478.9h0M209.2 1450.3h0M170.7 1492.7h0M200.7 1447h0M206.8 1441.5h0M288.6 1383.2h0M223.8 1446.3h0M147.8 1495.2h0M179.3 1457h0M177.9 1467.8h0M154.6 1498.7h0M166.3 1488.5h0M227.8 1410.9h0M196.2 1460.7h0M214.5 1459.7h0M217.4 1441h0M188.7 1466.4h0M245.3 1403.7h0M171.3 1469.1h0M192.1 1462.8h0M163.3 1494.8h0M186.7 1465.1h0M205.6 1453.9h0M180.4 1478.7h0M228.1 1443.8h0M193.9 1467.1h0M222.2 1442.1h0M280.5 1400.8h0M155.6 1498h0M169.8 1497.9h0M198.7 1439.8h0M152.9 1501.6h0M158 1496.7h0M183.8 1472.7h0M184.7 1461.9h0M176.6 1480.4h0M148.9 1495.7h0M169.5 1479.3h0M178.1 1465.5h0M211.6 1452.9h0M154.6 1498.4h0M149.5 1494.5h0M170.7 1466h0M151.2 1499.1h0M153.3 1499.4h0M178.8 1492.4h0M210.4 1456.3h0M227.5 1403.9h0M166.3 1496.4h0M158.1 1499.4h0M198.2 1479.3h0M191.4 1475.6h0M174.1 1491.4h0M174.4 1473.9h0M155.1 1489.6h0M178.8 1479.2h0M188.8 1471.4h0M152.9 1482h0M168.4 1479.8h0M168.4 1470.3h0M203.6 1462.1h0M173.3 1484.9h0M185.1 1478.2h0M178.4 1475.2h0M187.2 1441.9h0M170.7 1483.4h0M232.2 1429.1h0M278.7 1368.9h0M227.4 1433.3h0M236.7 1416.6h0M158.3 1498.8h0M225.9 1416.9h0M154.8 1504.4h0M184.5 1495.2h0M160.2 1479.9h0M169.4 1474.3h0M167.6 1488.1h0M172.4 1476.7h0M165.4 1496.4h0M170.2 1481.8h0M194.4 1467.9h0M169.5 1474.7h0M197.2 1449.5h0M226.2 1431.8h0M158.2 1489.9h0M216.3 1409.6h0M204.4 1460.2h0M169.2 1500.1h0M154.5 1491.6h0M172.1 1465.3h0M197.5 1475.5h0M185.3 1468.4h0M243.3 1428.9h0M170.1 1484.1h0M251.6 1425.1h0M165 1481h0M158.1 1486.3h0M200.1 1463.9h0M193.4 1470.3h0M213.5 1424.5h0M199 1463.2h0M187.3 1461.2h0M216.1 1445.3h0M180.1 1480h0M167.5 1465.5h0M163.3 1496.7h0M149.9 1492.3h0M282.9 1390h0M191.5 1475.7h0M180.6 1464.2h0M165.6 1491.4h0M160.4 1500.5h0M180.1 1466.3h0M204 1446.3h0M232.6 1426.6h0M180.3 1485.3h0M195.6 1447.5h0M184.4 1464.6h0M160.5 1488.4h0M188.2 1451.1h0M156.8 1490.4h0M180.1 1474.6h0M179.9 1476.3h0M215.9 1458.7h0M187 1474.7h0M149.4 1497.4h0M180.1 1471h0M154.2 1495.2h0M205.8 1457.8h0M167.5 1491.2h0M259.2 1391.9h0M214.5 1460.9h0M186.6 1461h0M180.8 1462h0M178 1479.8h0M171.3 1493.1h0M169.2 1493.8h0M155.5 1484.1h0M199.6 1461h0M173.5 1457.1h0M210.4 1443.9h0M154.5 1480.1h0M152.8 1501.3h0M165 1492.3h0M188.5 1481.9h0M156.8 1492.2h0M159.7 1499.4h0M186.5 1465.2h0M203.9 1450.7h0M192.7 1443.1h0M148.2 1489.2h0M171.2 1498.5h0M194.8 1447.3h0M200.4 1450.2h0M207.8 1446.7h0M183.7 1465h0M225.5 1435.2h0M218.8 1448.2h0M258 1408.7h0M236.6 1464.2h0M159 1495.6h0M200.2 1464.7h0M182 1478.3h0M167.3 1483h0M219.6 1448.1h0M162.3 1485.9h0M158.6 1483h0M156.8 1500.4h0M163.9 1501.3h0M149.4 1493.1h0M178.7 1482.8h0M211.4 1452.2h0M234.6 1410.8h0M218.2 1425.3h0M160.7 1488.4h0M163.3 1496.3h0M162.6 1500.1h0M186.2 1490.3h0M189.6 1469.1h0M157.9 1490.9h0M192.4 1474h0M157.9 1472.8h0M196.7 1460.8h0M152.7 1495.4h0M233 1450.9h0M193.7 1465h0M180.8 1481.9h0M181 1466.6h0M186.3 1466.3h0M160.4 1473.7h0M161.1 1489h0M182 1476.8h0M189.5 1457.1h0M163.1 1481.1h0M175.3 1486.2h0M167.8 1487.8h0M150.9 1499.8h0M152 1495.9h0M187.4 1475.7h0M165.6 1469.7h0M152.5 1494.6h0M155.7 1492.7h0M151 1496.5h0M176.2 1486.5h0M168.8 1492.6h0M156 1490.7h0M175.5 1484h0M208.9 1440.3h0M154.3 1491.2h0M192.5 1453.6h0M181.2 1465.9h0M182.8 1474.1h0M213.3 1439.1h0M149.5 1493.6h0M149.5 1487.1h0M156 1498.5h0M157.5 1502.3h0M187.6 1456.7h0M189.7 1469.8h0M165.7 1497.4h0M153.9 1494h0M193 1455.7h0M169.9 1480.4h0M155.1 1487.9h0M184 1461.5h0M160.1 1488.5h0M173.3 1498.3h0M154.7 1490.7h0M153.3 1499.9h0M193.3 1459.2h0M180.9 1468.1h0M153.3 1494.2h0M193.6 1455.7h0M168.8 1474.4h0M205.7 1430.3h0M258.5 1386.1h0M158.4 1493.6h0M179 1466.8h0M273 1405.8h0M188 1465.7h0M190.3 1462.7h0M159 1487.5h0M209.8 1455.6h0M200.7 1447.3h0M170.4 1470.9h0M163.8 1465.8h0M160.8 1480.4h0M152.9 1499.4h0M167.5 1479.9h0M154.8 1489.1h0M217.6 1437.4h0M169.4 1480.8h0M176 1464.1h0M155.7 1493.7h0M151 1500.1h0M150.6 1492.6h0M164.3 1490.1h0M258.6 1431.8h0M158.4 1502.5h0M294.5 1364.7h0M169.7 1476.9h0M174 1482.6h0M164.4 1493h0M193 1473.2h0M158.5 1503.8h0M179 1486.9h0M183.7 1464.9h0M169 1477.5h0M197.2 1467.6h0M183.2 1476.7h0M184.6 1474.9h0M172.5 1483.6h0M212.5 1416.6h0M205.1 1436h0M164.4 1469.2h0M198.5 1465.3h0M150.4 1494.6h0M151.1 1497.7h0M156.6 1499.3h0M159.8 1500.1h0M155.8 1488.4h0M179.5 1468.3h0M169.9 1481.5h0M253.7 1413.5h0M164.2 1492.9h0M265.5 1417.2h0M155.6 1491.4h0M151.3 1491.5h0M159.3 1482.5h0M216.7 1442h0M188.6 1466h0M238.1 1429.1h0M173.4 1469.7h0M157.5 1478.7h0M151.7 1492.4h0M191.8 1453.9h0M231.6 1436.5h0M154.2 1494.5h0M175.4 1482.2h0M153.7 1499.9h0M151.5 1498.9h0M196 1456.2h0M199.1 1437.4h0M220.6 1441.8h0M183.1 1484.2h0M160.4 1493.8h0M172.3 1469h0M156.9 1490.7h0M150.7 1491.8h0M190.2 1465.7h0M164.5 1480.5h0M175.7 1479.1h0M172.2 1490.4h0M170.8 1475.7h0M200.5 1412.1h0M162.3 1499h0M231.8 1422.1h0M178.4 1475.1h0M243.6 1450.8h0M205 1435.5h0M236.3 1419.6h0M162.6 1480.3h0M198.1 1459.8h0M178.8 1488.7h0M242.9 1403.5h0M167.4 1488.2h0M232.1 1414.9h0M169.7 1474.8h0M202.2 1465h0M153.9 1493.2h0M188.4 1454.8h0M172.2 1485.7h0M170.6 1488.7h0M156 1501h0M161.3 1479.4h0M154.5 1484.9h0M168.8 1488.8h0M175.8 1492.7h0M157.7 1484.7h0M193.3 1462.4h0M212.8 1439.7h0M263 1397.7h0M192 1478.5h0M154.3 1494.3h0M176.2 1479.9h0M178.7 1476.9h0M173.5 1475h0M258.5 1409.9h0M172.2 1487.8h0M241.5 1414.8h0M215.8 1451.5h0M186.2 1458.7h0M165.9 1484.9h0M169.3 1476h0M175.1 1482.1h0M159.9 1492.9h0M236.7 1431.7h0M202.5 1464.1h0M176.5 1483.8h0M158.3 1498.7h0M206.5 1454.5h0M147.9 1490.6h0M185.6 1475.4h0M155.5 1497.2h0M160.9 1487.5h0M187.3 1455.3h0M176.3 1478.9h0M199 1460.5h0M276.5 1384h0M159.3 1483.3h0M160.2 1485.9h0M236.4 1417.7h0M159.3 1486.7h0M191.2 1450.6h0M206.5 1424.9h0M152.7 1497.5h0M189.6 1472.7h0M160.6 1488.4h0M174.5 1480.1h0M166 1473.4h0M187.3 1458.4h0M237.1 1440.3h0M155.1 1485.1h0M202.6 1477.1h0M172.9 1474.7h0M166.9 1469.2h0M179 1472.9h0M174.7 1478.6h0M158 1498.9h0M161.6 1498.7h0M171.6 1477.5h0M164.8 1492.2h0M220.1 1442.3h0M175.2 1486.4h0M191 1480.4h0M291.5 1382.1h0M165.9 1487.7h0M207.9 1449.8h0M214.5 1449.7h0M203.3 1434h0M171.9 1488.6h0M160.5 1490.9h0M161.3 1485.8h0M161.9 1499.6h0M158.4 1502.4h0M165.5 1476h0M154.4 1494.7h0M166.8 1480h0M189.2 1441.3h0M162.8 1496.2h0M155.1 1497.6h0M152 1485.7h0M157.3 1500.8h0M237.2 1439.2h0M162.8 1484.7h0M169.7 1479.7h0M181.5 1472.9h0M168.5 1497.1h0M174.1 1469.6h0M184.1 1475.7h0M172.9 1490.2h0M152.7 1499.8h0M243.4 1411.4h0M148.3 1498.3h0M175.4 1471.4h0M150.4 1500h0M150.1 1492.6h0M176.8 1479.6h0M200.4 1479.5h0M182.6 1479h0M149.1 1497h0M201.9 1450.4h0M164.4 1484.5h0M151.3 1487.6h0M175.7 1450.3h0M152 1496.2h0M158.3 1491.8h0M148.5 1496.2h0M184.8 1479.4h0M179.9 1464.6h0M163.9 1478.4h0M181.3 1474.9h0M165.3 1487h0M200.3 1425.9h0M152.7 1494.4h0M232.3 1418h0M216.5 1466.9h0M203.4 1451.3h0M192.4 1488.9h0M156.7 1488.6h0M247.2 1394.9h0M174.3 1484.5h0M243.3 1435.1h0M204 1424.2h0M184.8 1470.8h0M164.6 1475.9h0M191.7 1467h0M241.1 1399.2h0M155.6 1499.8h0M158.5 1493.8h0M170.5 1473h0M187.6 1482h0M155.3 1503.4h0M166.9 1479h0M149.9 1492.5h0M168 1479.3h0M217.4 1423.2h0M160.9 1487.1h0M179.6 1486.7h0M179.2 1479h0M158.2 1502.7h0M155.2 1492.3h0M223.4 1442.2h0M302.8 1376.7h0M187.1 1460.7h0M155.4 1499.7h0M186.8 1461.3h0M177 1463.6h0M243.1 1425.9h0M173.4 1493.1h0M158.1 1485.4h0M177.7 1468.6h0M177.6 1454.4h0M153.8 1499.2h0M157 1502.6h0M148.8 1498.6h0M223.4 1435.4h0M153.8 1494.6h0M203.2 1438.9h0M151.7 1496.3h0M173 1492.2h0M178.1 1489.3h0M152.6 1498.9h0M154.1 1493.1h0M230.2 1396.5h0M166.5 1494.1h0M184.9 1479.1h0M171.9 1472.5h0M163.1 1492h0M158.1 1496.7h0M163.9 1492h0M199.3 1476.1h0M213.1 1437.9h0M164.7 1497.8h0M172.8 1493.2h0M249.4 1423.4h0M195.3 1461.1h0M180.8 1479.3h0M170 1483.9h0M188.3 1482h0M208.7 1467.6h0M158.5 1487h0M203.9 1457.2h0M236.8 1418.5h0M192.2 1455h0M167.4 1476.5h0M217.8 1471.4h0M202.8 1459.5h0M172.3 1477h0M193.5 1470.1h0M153.6 1496.9h0M161.4 1501h0M175.3 1478h0M158.4 1480.3h0M252.2 1416.7h0M207.3 1455.8h0M164.4 1471.1h0M180.6 1480.1h0M171.3 1486.4h0M255.6 1406.2h0M162.7 1489.1h0M167.5 1489.5h0M178.1 1476h0M163.4 1493h0M218.1 1439.1h0M170.6 1490.5h0M252.5 1400.5h0M204.7 1443.3h0M154.2 1486.1h0M159.5 1496.8h0M305.3 1376.5h0M227.7 1427h0M188.8 1457.2h0M157.5 1490.7h0M173.8 1480.3h0M167.1 1471.4h0M233.3 1421.9h0M210.7 1432.5h0M166.5 1494.7h0M168.8 1490.6h0M190.8 1461.9h0M241.7 1421.6h0M155 1500.5h0M208.8 1424.1h0M151.4 1496h0M178.3 1472.9h0M237 1422.9h0M159.6 1487.8h0M155.7 1493.3h0M157.6 1495.2h0M186.5 1462.8h0M151.8 1497.4h0M176.6 1496.3h0M186.1 1458.4h0M238.3 1438.7h0M178.1 1472.1h0M185.8 1487.7h0M178.8 1476.1h0M160.5 1483.5h0M186.6 1468.9h0M175 1484.1h0M158.5 1490.2h0M148 1490.7h0M228.1 1436.9h0M196.9 1452h0M225.7 1447.7h0M177.7 1483.9h0M204.7 1451.6h0M229.6 1429.6h0M176.1 1476.1h0M163.7 1482.1h0M151.1 1499.1h0M156.7 1494.1h0M162 1486.6h0M175.4 1489.6h0M171.2 1497.1h0M213.8 1437.8h0M285.1 1373.1h0M153.1 1502.6h0M192 1468.8h0M154.5 1488.3h0M150.6 1492.9h0M155.7 1499.1h0M159.9 1476.2h0M189.4 1460.2h0M154 1497h0M180.8 1474.3h0M204.4 1466.7h0M184.6 1459.8h0M153.1 1500.8h0M227.8 1435.3h0M213.6 1442.1h0M160.6 1491h0M173.7 1468.2h0M180.9 1463h0M233.9 1428.6h0M197.5 1442.5h0M190.7 1464.6h0M169.5 1490.8h0M176.6 1476.6h0M188.6 1470h0M235.8 1411.3h0M252.6 1402.6h0M175.3 1477.2h0M189.5 1433.5h0M158.9 1486.5h0M175.6 1467.2h0M153.3 1496.3h0M153.4 1483.2h0M170.3 1492.2h0M159.8 1502.9h0M179.2 1476.7h0M176.7 1488.2h0M157 1494.6h0M179.3 1466.8h0M148.7 1490.2h0M212.1 1449.8h0M217.1 1437.2h0M178.9 1480.9h0M195.8 1455.4h0M262.7 1374.4h0M158.6 1484.7h0M199.6 1454.7h0M156.1 1499.8h0M161.2 1493h0M167.3 1482h0M163 1500.8h0M194.8 1459.4h0M162.9 1483.8h0M153.2 1493.2h0M154.4 1493.2h0M152.6 1500.7h0M153.9 1496.9h0M156.5 1497.2h0M149.7 1497.5h0M181.2 1477.5h0M179.5 1480.6h0M170.8 1489.9h0M238.8 1426h0M198.3 1445.1h0M169.5 1483.1h0M186 1457.6h0M183.1 1477.8h0M196.4 1459.8h0M153.6 1498h0M154.4 1495.8h0M185.9 1453.5h0M171.7 1482.3h0M296.5 1412.1h0M196.6 1460.4h0M216.6 1423.9h0M172.8 1485h0M190.8 1458.3h0M163.6 1488h0M236.8 1414.8h0M153.1 1495.2h0M156.7 1503.3h0M148.2 1493.5h0M166.7 1481.4h0M234.5 1432.4h0M173.7 1490.3h0M189.5 1467.2h0M180.5 1488h0M192.7 1482.1h0M222.4 1395.7h0M231.2 1398.7h0M176.9 1473.5h0M180.5 1481h0M173.8 1480.1h0M153.9 1491.4h0M168.6 1485.3h0M166.2 1491.8h0M175.7 1488.6h0M156 1482.5h0M201.1 1468.6h0M152.4 1494.1h0M152.4 1492.4h0M212.2 1450.3h0M170.7 1482.9h0M164.4 1476h0M181.9 1468.3h0M203.8 1438.3h0M184.9 1474.2h0M174.1 1498.2h0M184.5 1457.4h0M202.2 1470h0M153 1497.4h0M190.6 1449.5h0M216.2 1463.2h0M187.1 1467.9h0M162.6 1492.2h0M186.9 1458.5h0M193 1474.1h0M153.3 1495h0M221.2 1433.5h0M159.7 1496.9h0M201.9 1468.3h0M216.1 1447.6h0M223.5 1435.7h0M165.8 1486.2h0M162.5 1482.5h0M198.3 1467.4h0M208 1454.2h0M191.1 1471.5h0M293.2 1362.9h0M186.4 1468.6h0M158.1 1483.1h0M161 1502.4h0M248.7 1439.9h0M239.4 1396.5h0M205.3 1432.6h0M200.5 1458.5h0M155 1504.4h0M156.5 1486.5h0M261.8 1398.8h0M204.2 1451.4h0M149 1498.4h0M198.6 1452.5h0M180.7 1468.8h0M172.3 1491.1h0M179.4 1481.1h0M174.7 1457.9h0M154.3 1504.3h0M153.6 1488.2h0M168.1 1466.4h0M240.2 1431.2h0M150 1499.8h0M172.3 1481.1h0M167.5 1489.1h0M163 1478h0M195.4 1478.7h0M197 1483.7h0M169.6 1486.9h0M204 1455.7h0M220 1434.6h0M155 1496.1h0M151.9 1492.1h0M174.4 1476.3h0M194.4 1451.5h0M159 1495.9h0M163.6 1480.2h0M184.4 1475.7h0M168.6 1475.5h0M164.9 1483.6h0M156 1503.7h0M215.9 1436.9h0M168.1 1493.5h0M200.1 1455.5h0M163 1475.7h0M215.3 1422h0M198.9 1441.3h0M150.1 1484h0M185.6 1478h0M182.1 1481.9h0M159.5 1479.6h0M176.4 1472.4h0M173.3 1474.2h0M195.7 1433.4h0M225 1426.5h0M152.1 1501.4h0M219.3 1429h0M221.7 1408.3h0M201.2 1468.6h0M195.5 1459.7h0M208.3 1445.5h0M182.9 1459.9h0M169.5 1473.3h0M174.8 1497.1h0M190.7 1484.8h0M155.9 1502.3h0M227 1415.2h0M149.5 1485.3h0M180.5 1469.9h0M160.2 1484.5h0M155.6 1496h0M238.2 1427.1h0M215.5 1425h0M160.8 1490.8h0M292.6 1359.6h0M175.3 1475.4h0M155.7 1478.2h0M195.2 1444.3h0M241.3 1407.1h0M150.2 1495.2h0M177.9 1480.8h0M164.8 1496.4h0M168.9 1481.1h0M172.2 1488.3h0M177.9 1483.5h0M162.1 1486.8h0M160 1489.4h0M217.7 1441.5h0M240 1393.7h0M239.3 1417.2h0M181.8 1456.7h0M177 1470.7h0M219.4 1451.9h0M166.1 1485.5h0M150.1 1499.9h0M184.8 1475.6h0M173.9 1462.9h0M159.7 1495.9h0M157 1494.2h0M173.2 1476.2h0M156.4 1496.3h0M228.3 1429.6h0M162.2 1492.5h0M168.3 1462.6h0M174.1 1469.8h0M162.7 1495.9h0M189.5 1447.9h0M234 1439.5h0M201 1449.2h0M163.8 1476.6h0M166.6 1492h0M220.7 1446.2h0M166.8 1477.9h0M156.9 1496.9h0M202.4 1432.6h0M180.8 1472.4h0M203.2 1451.6h0M165.2 1496h0M153 1499.8h0M157 1502.6h0M272.7 1397.4h0M196.9 1480.3h0M158.9 1500.4h0M185.9 1462.2h0M177 1482h0M164.5 1475.4h0M152.8 1497.2h0M158.3 1498.9h0M192.2 1467.8h0M266.7 1388.6h0M156.7 1486.7h0M239.3 1417.6h0M187.6 1476.6h0M169.9 1488.9h0M179.3 1459.2h0M160.6 1492.7h0M163.4 1489.4h0M242 1407h0M173.2 1488.4h0M182.9 1470.1h0M177.9 1453.5h0M186.6 1439h0M269.3 1414.1h0M194 1459.8h0M180.6 1459.7h0M186.7 1450.4h0M206.7 1468.9h0M166.6 1492.6h0M150.5 1485.6h0M179.1 1466.4h0M247.7 1399.9h0M155.4 1501h0M199.8 1445.4h0M220.3 1440.2h0M168.6 1481.8h0M251.9 1406.5h0M208.6 1446.8h0M154.2 1492.8h0M148.8 1491.1h0M172.5 1474.9h0M150.2 1485.7h0M149.9 1492h0M169.7 1481.1h0M177.1 1465h0M168.8 1483.3h0M153.9 1488.7h0M195.6 1473.3h0M192.4 1469h0M161.5 1491.6h0M256.2 1395.3h0M195.6 1442h0M157.5 1491.5h0M156.5 1496.8h0M159.9 1472.2h0M155.1 1503.5h0M189.4 1463.2h0M175.8 1467.7h0M301.9 1362.3h0M159.9 1500.7h0M266 1384.5h0M214.8 1445h0M164.2 1492.7h0M161 1488.5h0M193.3 1453.6h0M185.6 1475.2h0M203.9 1464h0M202.1 1450.4h0M170.5 1474.7h0M208.6 1459h0M194 1452.8h0M166.6 1482.3h0M234.6 1423.2h0M175.1 1485.4h0M260.2 1393h0M153.3 1485.5h0M160.1 1486.9h0M250.3 1416.5h0M161.6 1496.8h0M268.2 1402.5h0M153.3 1495.6h0M210.9 1439.7h0M194.9 1467.5h0M181.2 1464.7h0M176.2 1489.3h0M196.2 1440.4h0M205.1 1467.4h0M226.3 1410.6h0M165.8 1487.4h0M159.8 1489.3h0M180.8 1458.4h0M189.7 1474.9h0M181.5 1475.8h0M156.6 1499.5h0M162.9 1502.5h0M170.4 1493.6h0M174.4 1485.3h0M208.1 1452.1h0M165.8 1493.6h0M158.6 1496.5h0M188.6 1458.9h0M167 1492.2h0M163.9 1474h0M160.3 1481.2h0M177.1 1476.4h0M158 1493.3h0M175.9 1483.1h0M242.9 1401.9h0M169.8 1483.5h0M235.7 1414h0M168.7 1499.9h0M154.4 1491.9h0M221.7 1441.9h0M164.3 1487.9h0M177 1488.9h0M206.6 1446.7h0M177.5 1468.7h0M150.4 1494.2h0M213.4 1421.8h0M161.8 1469h0M183.4 1476.5h0M182.5 1448.5h0M153 1488.2h0M169.7 1480.5h0M179.7 1458.6h0M238.7 1413.7h0M199.2 1449.1h0M237.7 1427.7h0M167.7 1484.1h0M152.2 1498.1h0M151.4 1482.2h0M170.8 1481.2h0M177 1473.4h0M201.4 1463.1h0M215.4 1447.3h0M176 1491.7h0M204.3 1433.8h0M283.5 1396.8h0M225.9 1445.7h0M168.1 1477.9h0M203.6 1447.5h0M163.8 1484.5h0M150.6 1500.1h0M162.6 1490.9h0M162.9 1494.4h0M206.5 1445.8h0M192 1442.3h0M197 1463.2h0M154.5 1494h0M179.8 1476.5h0M177.1 1483.3h0M150.3 1488.8h0M162 1475.6h0M176.3 1475.8h0M197.6 1453.6h0M219 1441h0M168 1473.4h0M205.1 1458.5h0M229.9 1431.1h0M153.3 1485.5h0M189.7 1487.5h0M157.2 1493h0M202.7 1462.4h0M169.3 1481h0M159.8 1482.5h0M174.3 1477.9h0M183.5 1464.6h0M159 1495.6h0M254.8 1390.1h0M178.5 1481.1h0M167.4 1490.2h0M157.8 1499.4h0M164.2 1500h0M194.7 1476.2h0M157.2 1497.7h0M188.2 1465h0M173.2 1486.4h0M198.4 1466.8h0M159 1479.1h0M183.3 1478.1h0M205.7 1449.9h0M157.2 1499.5h0M168.3 1471.3h0M159.5 1499.3h0M160.6 1500.2h0M216.9 1441.5h0M158.1 1503.9h0M166.7 1488.4h0M156.6 1503.3h0M161.2 1494.3h0M158.2 1487.8h0M174.7 1492.7h0M148.9 1490h0M151.4 1496.2h0M190.4 1452.1h0M180.6 1457.3h0M193.6 1478.3h0M226.9 1441h0M158.7 1493.4h0M223.7 1423.5h0M151 1498h0M191.7 1452.9h0M219.8 1443.5h0M157.2 1499.3h0M206.1 1460.8h0M254.1 1407.5h0M164.3 1490.2h0M158.9 1479.6h0M162 1499.5h0M185.6 1473.7h0M175.5 1485.4h0M217 1461.5h0M180.5 1467.9h0M201.6 1451.2h0M159.1 1502.6h0M259.8 1404.3h0M180.7 1478.4h0M152 1496.5h0M161.2 1495.5h0M229.2 1423.9h0M228.4 1453.7h0M206.1 1451.3h0M173.2 1458.5h0M174.3 1473.6h0M156.5 1496.8h0M222.2 1446.9h0M151.2 1495.2h0M202.5 1453.6h0M168 1488.3h0M186.6 1444.5h0M157.5 1488.5h0M170.7 1491.4h0M271.2 1397h0M185.3 1483.9h0M182.2 1485.4h0M167.4 1486.1h0M211.1 1468.5h0M158.9 1498.2h0M288 1385.9h0M166.8 1497.2h0M163.5 1471.3h0M236 1436h0M239.7 1420.4h0M196.6 1461.3h0M213.8 1419.2h0M166.4 1497.2h0M212.4 1448.6h0M169.8 1476.6h0M262.1 1395.2h0M195.9 1473.6h0M170.2 1490.5h0M208.9 1438.1h0M159.4 1490.3h0M221.4 1465h0M188 1448.7h0M175.3 1479.2h0M246.3 1423.3h0M187 1480.3h0M158.6 1485h0M181.7 1484.3h0M185.5 1472.3h0M180.1 1473.6h0M265.7 1424.3h0M221.3 1445.2h0M190.6 1470h0M148.3 1495.7h0M153.4 1492.2h0M152.3 1494.5h0M194.8 1475.5h0M185.8 1449h0M287.2 1374.1h0M175 1460.1h0M169.3 1475.9h0M163.5 1472.1h0M170.6 1473.1h0M175 1490.9h0M191.7 1467.2h0M196 1466.7h0M202.7 1450.3h0M155.8 1493h0M206.9 1450h0M184.9 1477.7h0M158.7 1500h0M169.4 1483.7h0M175.4 1490.9h0M153.8 1500.1h0M177.5 1475.4h0M172.5 1479.7h0M156.6 1486.6h0M180.3 1478.1h0M186.7 1454.6h0M194.3 1465.4h0M154.9 1503.1h0M200.9 1454.2h0M168.4 1494.8h0M229.4 1424h0M153.3 1497.7h0M249.2 1378.7h0M243.6 1405.9h0M176.2 1478.8h0M211.9 1421.7h0M161.8 1496.4h0M266.5 1382h0M180.5 1477.7h0M188.6 1485.1h0M151.1 1496.2h0M168.2 1497.2h0M185.5 1449.8h0M156.3 1492.1h0M237.3 1422.8h0M177.1 1463.7h0M218.1 1425.4h0M181 1462.8h0M157.9 1497.6h0M181.7 1472.7h0M223.4 1439.1h0M149.2 1489.7h0M162.3 1493.9h0M182.5 1471.5h0M164.5 1489.6h0M161.5 1490.6h0M284 1371.3h0M223.9 1430h0M192.6 1454.9h0M178.6 1471.5h0M244 1386h0M163.9 1485.5h0M221.3 1418.1h0M201.6 1446.6h0M161 1475.6h0M233.4 1429h0M215.9 1446.1h0M201.2 1442.4h0M186.3 1447.5h0M160.3 1500.2h0M173.8 1484.2h0M182.1 1475.8h0M213.9 1449.1h0M167.9 1486.8h0M178.5 1470.6h0M254.2 1421.2h0M149.4 1490h0M234.3 1447.1h0M155.9 1496.2h0M193.5 1459.5h0M149.9 1490.8h0M156.3 1495.7h0M196.4 1449.4h0M232.8 1423h0M162.7 1499.7h0M170.2 1481.9h0M150.6 1495.6h0M150.9 1490.8h0M199.6 1453.2h0M149.1 1488.6h0M164.3 1491.9h0M175 1474.1h0M198.4 1455.3h0M184.4 1468.2h0M181.3 1486.5h0M151 1490.2h0M258.9 1439.7h0M151 1497.2h0M184.5 1474.9h0M167.8 1489.3h0M215.9 1465.8h0M278.9 1367.9h0M170.6 1482h0M149.8 1496.4h0M164.3 1494.2h0M167.5 1490.7h0M149.8 1489.5h0M159.9 1487.1h0M154.5 1502.1h0M164.8 1484.5h0M193.8 1468.3h0M253.6 1403.3h0M186.1 1465.3h0M225.2 1418.1h0M252.9 1407.8h0M201.2 1460.4h0M215.6 1452.3h0M153.1 1501.6h0M170.1 1491.2h0M180.2 1451.8h0M170.7 1484.1h0M177.2 1472.4h0M163.4 1482.3h0M210.5 1462.8h0M186.4 1469.2h0M177 1468.1h0M164.9 1498.3h0M182.3 1468.3h0M167.3 1475.6h0M179.1 1478.8h0M169.9 1486.7h0M153 1490.8h0M203.4 1464.8h0M189 1482.5h0M179.9 1483.2h0M201.8 1443.8h0M287.4 1395.1h0M166.6 1497h0M157.2 1496.4h0M176 1488.1h0M168.9 1482.1h0M167.8 1485.6h0M162.9 1487.6h0M154.2 1491.2h0M148 1488.2h0M214.5 1453.3h0M220.7 1409.4h0M162.5 1490.2h0M207.7 1459.4h0M152.4 1495.5h0M170.8 1489.6h0M269.5 1422.3h0M227.2 1438.6h0M177.3 1488.1h0M184 1479.3h0M182.5 1482h0M189.6 1462.7h0M249.2 1420.8h0M191.1 1460.6h0M206.9 1423.1h0M177 1493h0M231.3 1432.1h0M152.8 1501.7h0M150.4 1499.6h0M167.3 1488.3h0M158.1 1467.4h0M159.1 1483.7h0M192.3 1469.9h0M165.6 1480.5h0M193.4 1453.1h0M162.6 1487.4h0M156 1484.7h0M203 1433.9h0M162.9 1495.8h0M183.2 1471.8h0M173.5 1479.2h0M175.6 1470.9h0M199.6 1453.4h0M239.8 1414.6h0M199.6 1463.5h0M186.5 1459.9h0M186.7 1479.7h0M162.6 1491.2h0M180.2 1476.1h0M275.2 1382.8h0M209.4 1432.1h0M162.3 1479.6h0M201.3 1460.9h0M193.2 1469.5h0M157.6 1497.4h0M161.9 1482.9h0M157.7 1497.7h0M164 1499.5h0M188.7 1472.1h0M154.7 1486.1h0M185.7 1467.4h0M164 1487.2h0M173.1 1484.5h0M212.5 1448.5h0M186.5 1455.4h0M180.2 1467.5h0M148.3 1498.1h0M157.4 1499.6h0M185.1 1462h0M170.6 1481.5h0M157.8 1488.5h0M155.4 1495.6h0M149.8 1489.7h0M196.7 1462h0M232 1418.7h0M216.5 1445.3h0M183.9 1469.8h0M167.4 1476.5h0M169.6 1493.8h0M155.2 1500h0M175.2 1481h0M158.6 1496.5h0M182.1 1466.4h0M170.2 1478h0M177.9 1483.3h0M195.3 1454.7h0M177.5 1474.4h0M174.5 1467.6h0M154.6 1503.8h0M190.3 1458.6h0M197.7 1479.3h0M164.8 1482.6h0M247.7 1419.3h0M168 1469.4h0M159.2 1496.5h0M169.3 1494.2h0M210.8 1419.2h0M161.7 1488.8h0M173 1478.6h0M150.6 1491.4h0M176.4 1475.4h0M177.1 1471.4h0M201.1 1461.3h0M147.8 1490.7h0M207 1454.3h0M266.5 1375.2h0M174.1 1485.8h0M174 1470.5h0M180.9 1483h0M160.8 1498.6h0M176.5 1488.3h0M161 1486.6h0M223.2 1443.6h0M156.6 1482.6h0M170.7 1483.8h0M155.5 1502.1h0M153.3 1501.8h0M179.2 1484.7h0M148.9 1495h0M155.6 1501.3h0M234.8 1413h0M167.7 1468.8h0M160.4 1491.9h0M238.5 1415.4h0M173.3 1462.6h0M197 1442.6h0M155.8 1497.3h0M154.3 1500.9h0M150.1 1490.3h0M173.2 1482.3h0M173.4 1479.7h0M223.5 1433.2h0M230.3 1410.7h0M160.4 1494.9h0M170.5 1481.4h0M175.2 1464.7h0M196.4 1456.3h0M151.7 1496.4h0M292.3 1383.9h0M175.8 1466.5h0M169.1 1485.1h0M182.7 1478.9h0M182 1468.8h0M192.7 1452.2h0M175.4 1466.8h0M189.9 1444.2h0M173.6 1484.9h0M187.4 1487.8h0M160.1 1494.7h0M180.9 1469.4h0M167.4 1486.2h0M187.9 1447.4h0M214.9 1426.9h0M203.8 1457.9h0M153.6 1498.8h0M176.5 1482.8h0M169.4 1472.7h0M185.2 1481.1h0M157 1491.1h0M166.1 1487.8h0M186.2 1459.8h0M207.2 1458.6h0M154.9 1497.7h0M165.8 1484.3h0M220.8 1418.9h0M161.7 1482.3h0M225.7 1424.4h0M247 1438.8h0M157.3 1503.4h0M200.4 1433.9h0M166.3 1477.2h0M206.5 1457.3h0M182.8 1461.4h0M173.3 1474.9h0M178.4 1472.6h0M192.9 1448.8h0M224.9 1412.1h0M158.4 1486.6h0M210.4 1447.2h0M151.9 1490.9h0M221.3 1445.4h0M201.7 1449.3h0M203.5 1421.2h0M248.5 1431.4h0M220.3 1437.9h0M183.3 1469.2h0M165.9 1464.7h0M231.3 1406h0M157.5 1478.7h0M150.1 1491.3h0M180 1472.4h0M195 1462.6h0M175.3 1489.9h0M193.9 1457.7h0M179.3 1471.1h0M176.5 1473.5h0M156.3 1501h0M210.6 1458.9h0M187.7 1450.6h0M161.8 1477.8h0M173.7 1462.7h0M151.9 1499.8h0M176.4 1490.6h0M153.5 1500.6h0M159.8 1497.9h0M175.1 1470.7h0M165.4 1489.6h0M227.4 1419.2h0M162.4 1492.2h0M275.3 1374.3h0M191.4 1463.3h0M178.6 1486.5h0M155 1487.8h0M205 1452.6h0M151.4 1498.7h0M177.2 1461.5h0M188 1474.9h0M170.3 1493.1h0M175.5 1481.2h0M159.3 1492.6h0M179.5 1475.1h0M169.7 1489.1h0M227.3 1448.3h0M156 1492.6h0M180 1475.5h0M149.8 1495.2h0M176.9 1479.6h0M178.3 1471.4h0M174.9 1483.2h0M198.7 1450.8h0M167.7 1478.9h0M165.7 1480.5h0M229.8 1422.2h0M210.1 1452.6h0M159.2 1495.1h0M187.5 1467.9h0M244.8 1399.9h0M156 1488h0M154 1503.9h0M253.9 1401.3h0M186.2 1464.4h0M154.2 1488.2h0M177.8 1491.6h0M158.5 1493.2h0M195.7 1454.8h0M166 1495.5h0M150.3 1498.5h0M156.6 1498.7h0M159.5 1500.2h0M275.6 1382.5h0M159.5 1496.6h0M163.1 1490.1h0M232.8 1415.4h0M167.2 1490.6h0M169.9 1491.4h0M172.2 1488.7h0M153.7 1493.5h0M252.5 1419.9h0M165.5 1477.6h0M153.1 1491.3h0M153 1486.8h0M185.8 1467.1h0M156.8 1495.2h0M161.9 1480.6h0M156.2 1492.5h0M213.5 1436h0M199.6 1466.6h0M200.5 1458.1h0M201 1445.7h0M166.1 1473.7h0M182.6 1488.7h0M215.1 1439.4h0M158.8 1500.8h0M153.8 1502.3h0M184.3 1475.7h0M160.4 1490.7h0M218.7 1423.1h0M157.8 1484h0M157.5 1502h0M161.3 1474.9h0M170.5 1470.5h0M273.7 1395.2h0M161 1487.2h0M171.1 1486.6h0M161.2 1490.5h0M155.5 1502.1h0M198.4 1457.6h0M156.9 1483h0M190.2 1476.4h0M189.9 1456.1h0M169 1488.6h0M158.7 1494.6h0M273 1388.8h0M159 1472.4h0M196.9 1452.1h0M169.8 1499h0M157.4 1503h0M213.9 1430.3h0M169.4 1496.2h0M214.4 1454.3h0M210.4 1450.1h0M159 1491.7h0M195.4 1462.9h0M207.5 1444.3h0M206.9 1448.5h0M257.9 1407.9h0M156.4 1490.3h0M175 1495.1h0M175.2 1489.6h0M221.4 1425.7h0M194.3 1483.2h0M158.9 1490.1h0M185.6 1450h0M208.8 1429.9h0M206.6 1451.5h0M162.4 1492.7h0M166 1483h0M223.1 1434.1h0M152.4 1492.6h0M256.7 1397.3h0M153.1 1497.6h0M177.9 1474h0M182.3 1458.4h0M179.9 1464.1h0M177.3 1472.4h0M150.4 1490.8h0M164.1 1498.4h0M212.3 1458.9h0M151.4 1497.5h0M160.9 1492.4h0M216.2 1454.9h0M175.7 1485.2h0M153.6 1499.1h0M188.9 1461.1h0M190 1486.3h0M197.7 1464.1h0M203.2 1433.8h0M179.8 1454.5h0M175.7 1483.4h0M159.6 1490h0M171 1494.8h0M242.6 1385.1h0M155.2 1485.2h0M198.8 1456.8h0M171.7 1470h0M160 1502.3h0M155.4 1501.6h0M257.5 1420.2h0M167.4 1468h0M158.1 1500.7h0M150.5 1490.6h0M216.6 1451.4h0M175.2 1466.6h0M167.1 1482.9h0M179.1 1473.1h0M184.3 1478.8h0M236.9 1425.7h0M170.7 1480.6h0M219.1 1429.2h0M170.3 1469.1h0M157.1 1504.2h0M176.2 1479.2h0M154.5 1493h0M176.8 1471h0M203.1 1454.4h0M169 1494h0M190.9 1472.1h0M168.4 1466.8h0M265.4 1389.5h0M232.7 1417.6h0M157.7 1500.3h0M157.3 1485.1h0M199.7 1452.5h0M222.1 1439.2h0M240.5 1414.8h0M164.4 1491h0M186.7 1484.8h0M209.4 1457.6h0M160.9 1477.6h0M161.6 1502.2h0M187.7 1476.7h0M181.7 1459.9h0M205.6 1447.6h0M149.9 1499h0M196.9 1466.8h0M275.3 1367.1h0M170.2 1481.1h0M248.7 1421.9h0M165.2 1481.8h0M169.9 1478.7h0M186.5 1478.3h0M166.9 1480.3h0M192.5 1491.4h0M152.5 1496.9h0M166.9 1467.2h0M197.1 1468.1h0M236.5 1420.8h0M186 1472.4h0M228.7 1437.5h0M174.5 1496.4h0M194.1 1472.8h0M165.9 1480.2h0M176.5 1487.5h0M158.5 1496.2h0M157.6 1484.8h0M184.2 1463.3h0M200.9 1474.7h0M180.5 1465.8h0M272.6 1400.9h0M190.5 1461.4h0M293.7 1375.6h0M149 1494.5h0M218.7 1432.6h0M154 1482.6h0M206.6 1469.1h0M202.1 1456h0M160.5 1489.9h0M217.3 1446h0M176.1 1474.3h0M192.2 1446.3h0M209.3 1425.3h0M156.1 1500.3h0M155.5 1502.3h0M168.4 1457.7h0M199.8 1445h0M188 1458.1h0M171.8 1480.1h0M210.7 1451.9h0M164.4 1497.5h0M218.5 1428.8h0M190.3 1451.4h0M233.5 1409.1h0M165.5 1498.8h0M248.4 1404.5h0M162 1497.6h0M160 1495.8h0M199 1478.5h0M185.9 1449h0M159.1 1489.6h0M151.9 1496h0M170.9 1493.9h0M224.5 1426.5h0M198.1 1463.3h0M207.3 1413.2h0M166.6 1483.1h0M179 1483.6h0M194 1470.6h0M189.9 1458.4h0M172.7 1470.2h0M161.5 1486.4h0M191.1 1460.3h0M174.8 1472.6h0M179.6 1478.3h0M213.7 1455.9h0M195.3 1454.9h0M214.6 1424.2h0M162 1485.7h0M205 1451h0M194.2 1462h0M150.9 1498.1h0M178.2 1483.9h0M188.6 1449.3h0M195.3 1452.8h0M151.2 1499.5h0M162.6 1489.5h0M148 1496.1h0M167.9 1485.6h0M171.6 1479.5h0M168.8 1479.4h0M284.3 1374.1h0M171.6 1486.5h0M174.4 1484.9h0M157.7 1491.9h0M161.4 1494.7h0M197 1466.3h0M201.8 1469.6h0M158.4 1490h0M292.4 1385.4h0M186.3 1475.6h0M163.3 1481.1h0M159 1493.2h0M219 1432.7h0M285.2 1365.3h0M188.6 1455.4h0M187.6 1472.3h0M238.9 1417.3h0M154.8 1504.2h0M176.7 1459h0M185.1 1475.8h0M209.7 1436.6h0M257 1415.8h0M271 1388.7h0M158.9 1493.4h0M158.1 1484.7h0M168.2 1482.7h0M170 1461.9h0M181.3 1469h0M176.4 1475.4h0M195 1453.3h0M217.5 1437.7h0M164.2 1487.5h0M175.1 1484.8h0M211.9 1445h0M177.9 1488.8h0M261.1 1385.4h0M208.3 1451.1h0M179.4 1481.5h0M174.9 1478.8h0M164.5 1490.5h0M188 1470.3h0M163.7 1489h0M221.4 1442.8h0M218.4 1420.4h0M162.4 1489.9h0M149.7 1496.7h0M182.3 1478.5h0M155.8 1492.9h0M155.5 1501.5h0M249.5 1403.4h0M259.8 1404.3h0M157.5 1502.7h0M170.2 1465.6h0M166.2 1496.6h0M159.3 1483h0M173.4 1481.4h0M160.1 1499h0M157 1500.4h0M233.5 1453.8h0M220.8 1425.1h0M226.8 1431.2h0M165.3 1485.4h0M186.3 1451.4h0M153.8 1501.2h0M157.7 1500.2h0M190.6 1451.9h0M202.8 1463.3h0M189.8 1450.6h0M167.3 1488.8h0M274.7 1395.9h0M196.8 1478.8h0M293.9 1364h0M186.5 1444.5h0M171.2 1494h0M194.7 1478.6h0M256.4 1381.5h0M162.9 1497h0M160.5 1489.5h0M180.5 1459.3h0M171.2 1490.2h0M241.1 1425.1h0M168.9 1498.4h0M216.8 1434.6h0M198.7 1442.7h0M157.4 1490.6h0M188.5 1440.1h0M172.5 1479.9h0M198.8 1449.9h0M176 1482.1h0M194.3 1471.5h0M166.3 1492.3h0M240 1426.3h0M175.2 1488.9h0M156.2 1501.9h0M188.6 1452.4h0M154.1 1495.7h0M158.8 1496h0M191.3 1453.2h0M148.2 1487.8h0M200.5 1434.4h0M194.3 1464.4h0M163 1491.6h0M159 1488.4h0M180.1 1485.1h0M153.8 1481.3h0M234.5 1423.8h0M247.2 1415.6h0M210.7 1459.2h0M161.1 1500.5h0M192.6 1459.4h0M195.1 1438.8h0M159 1482.4h0M169.3 1488.5h0M153.4 1498.2h0M179.2 1473.5h0M171.5 1494.1h0M148.1 1497.9h0M154.3 1502.9h0M183.3 1480.4h0M201.7 1481.2h0M222.5 1465h0M209.6 1461.6h0M181.8 1476.1h0M194.7 1459.7h0M203.3 1451.9h0M232.4 1429.8h0M221.9 1461.6h0M160.6 1480.4h0M195.8 1453.9h0M157.1 1483.3h0M156.3 1494.5h0M161.5 1486h0M159.1 1493.9h0M204.6 1436.2h0M184.5 1466.3h0M243 1403.6h0M182 1457.4h0M188.2 1466.4h0M187.7 1481.6h0M149.9 1489.4h0M204.8 1444.9h0M179 1475.3h0M150.1 1495h0M150.7 1494.8h0M197.9 1456.6h0M241.9 1387.8h0M154.9 1489.4h0M151 1496.5h0M182.9 1474.3h0M171.7 1494.1h0M167.8 1482.3h0M184 1461.2h0M193.2 1465.3h0M171.2 1468.5h0M187.7 1454.5h0M190 1458.8h0M183.8 1468.7h0M155.2 1495.5h0M177.8 1476.8h0M164.6 1490.8h0M158.6 1487.1h0M150.3 1497h0M166.6 1485.8h0M162.6 1489.2h0M156.8 1497.8h0M155.3 1488.5h0M160.5 1492.5h0M148.5 1497.2h0M194 1447.3h0M172.4 1466.3h0M150.5 1498.3h0M156.3 1481.1h0M181.3 1464h0M152.4 1491.9h0M194.5 1474.9h0M171.5 1473.8h0M197.1 1439.7h0M222 1396.2h0M188.1 1462.5h0M165 1483.4h0M189.9 1464.4h0M151.4 1495.4h0M176.9 1469.1h0M166.5 1478.3h0M175.9 1452.8h0M171.8 1497.2h0M221.2 1428.5h0M173.1 1481.7h0M208.4 1453.2h0M215.4 1456.8h0M164.3 1487.1h0M165.2 1498h0M153 1496h0M236.1 1403.9h0M199.8 1461.5h0M177.1 1473.2h0M177.5 1473.6h0M169.4 1488.3h0M150.5 1496.2h0M177.9 1475.8h0M178.2 1461.7h0M159.5 1493.6h0M160 1501.9h0M161.9 1488.2h0M253.1 1391.3h0M152.5 1488.6h0M166.3 1499h0M191.2 1490.6h0M249.6 1436.2h0M165.6 1477.6h0M178 1473.9h0M212 1432.8h0M190.5 1477.5h0M155.9 1481.7h0M174.5 1483.8h0M175 1463h0M157.8 1490.3h0M209.9 1446.3h0M232.7 1418.6h0M156.8 1495.5h0M172 1483.1h0M187.1 1477.6h0M170 1479.5h0M155.5 1500.8h0M231.8 1417.8h0M170.1 1496.3h0M168 1483h0M195 1456.9h0M185.3 1466.8h0M174.3 1482.3h0M200.2 1465.1h0M152.7 1502.4h0M161.8 1491h0M179.9 1463.4h0M176.9 1476.4h0M178.9 1489h0M211.8 1443.5h0M178.6 1487.3h0M207 1440.2h0M181 1482.1h0M221.7 1454.8h0M151.1 1500.7h0M164.2 1476.9h0M189.5 1465.3h0M152.8 1498h0M148.9 1487.8h0M169.3 1480.5h0M150.6 1496.4h0M300.6 1382.2h0M152.1 1498.5h0M182.5 1466h0M187.5 1468.1h0M190.4 1435.1h0M159.7 1483.8h0M200.8 1460.8h0M168 1472.4h0M180.1 1495.6h0M169.8 1467.4h0M154.9 1500.6h0M152.9 1495h0M161.2 1483.7h0M162.7 1475.2h0M251.6 1385.3h0M214.9 1423h0M245.1 1421.5h0M202.3 1451.4h0M151.4 1493h0M182.3 1467.5h0M167.5 1473h0M162.8 1484.8h0M191.6 1465.3h0M170.7 1469.4h0M159.4 1486.4h0M151.5 1493.3h0M161.9 1488.1h0M172.7 1497.5h0M167.7 1492.8h0M183.8 1477.9h0M183.6 1459.7h0M153.5 1496.9h0M180.1 1475.2h0M160.4 1486.5h0M164.4 1492.1h0M161.8 1497.9h0M162.3 1470.4h0M241.6 1423.4h0M160.7 1489h0M166.9 1487.9h0M163.2 1475.9h0M169.5 1486.8h0M202.5 1459.3h0M203.4 1432h0M176.9 1478.9h0M168.4 1476.3h0M269.3 1378.6h0M247.9 1387.2h0M256.5 1384.5h0M159.7 1495.8h0M166.8 1477.2h0M218.4 1435.3h0M157.3 1492.9h0M160.4 1486.8h0M195.4 1453.4h0M213.4 1457.2h0M184 1469.8h0M208.1 1433.8h0M188.4 1462.4h0M163.8 1491.6h0M160.6 1492.6h0M187.6 1465.8h0M180.5 1457.5h0M154 1501.9h0M152.9 1497.7h0M214.2 1439h0M148.3 1491.3h0M186.7 1476.6h0M208 1443.4h0M160.1 1491.9h0M202.3 1455.1h0M193 1465.4h0M173.6 1474.3h0M190.4 1456.8h0M210.3 1435h0M168.9 1489.8h0M180.2 1484.4h0M169.2 1477.9h0M245.4 1407.1h0M166.1 1492.7h0M191.6 1476.7h0M231.2 1430.6h0M158.1 1491.7h0M248.7 1428.8h0M206.4 1431.8h0M266.3 1418.6h0M177.3 1487.7h0M165.1 1484.1h0M211.6 1448.5h0M178.6 1481.8h0M163.1 1492.2h0M246.7 1408.9h0M186.2 1481.6h0M274.8 1394.7h0M226.1 1425.5h0M222.3 1415.3h0M187.2 1475.7h0M159.2 1499.8h0M173.5 1477.5h0M168.5 1493.4h0M175.4 1493.8h0M247.1 1404.4h0M238.1 1412.2h0M173.8 1468h0M161.5 1473.1h0M267.7 1408.6h0M198.5 1447.6h0M175.3 1453.8h0M157.9 1492.7h0M178.8 1475.1h0M162.3 1485.6h0M285.4 1377.6h0M192.6 1474.8h0M266.9 1382.8h0M209.3 1441h0M156.6 1503.4h0M175.3 1485.6h0M174.3 1474h0M171.2 1482.1h0M170.9 1486.7h0M152.5 1499.5h0M157.9 1496.4h0M167.6 1492.4h0M160.7 1500.5h0M263.7 1394h0M171 1499.6h0M159.8 1490.1h0M158.6 1494.1h0M159 1484h0M150.5 1491.5h0M155.2 1495.5h0M174.4 1484.3h0M150.6 1492h0M203.7 1445.3h0M172.1 1489.9h0M160.8 1499.4h0M158.1 1495.8h0M262.8 1398.2h0M178.1 1479.5h0M197.3 1449.6h0M191.8 1478.1h0M155.8 1499.6h0M162.8 1485.5h0M164.4 1495.4h0M195.6 1465.7h0M182.3 1459.5h0M148.4 1497.9h0M204.2 1453.3h0M158.1 1502.7h0M171.3 1487.7h0M175.5 1472.6h0M215.1 1442h0M156.7 1481.2h0M173.2 1497.1h0M180.4 1458.3h0M161.5 1493.2h0M162.2 1489.2h0M161.8 1465.5h0M188.5 1491.3h0M166.8 1487.7h0M253.6 1431.8h0M165.6 1474.7h0M148.8 1497.7h0M238.5 1415.3h0M158.1 1488.7h0M195.2 1465.3h0M174.7 1488.5h0M150.3 1496h0M174.3 1467.9h0M178.7 1471.9h0M162.7 1497.2h0M166.3 1490.5h0M207.9 1451.4h0M154.1 1489.9h0M173.1 1483h0M177.1 1468.3h0M170.9 1477.6h0M187.7 1473.7h0M179.4 1472.7h0M199.4 1443.6h0M167.5 1485.8h0M178.3 1465.4h0M167.5 1466h0M197.6 1450.1h0M218.3 1441.9h0M152.1 1495.6h0M174.1 1484.2h0M216.9 1458.7h0M239.9 1391.2h0M170 1481.2h0M198.3 1462.4h0M264.3 1409.8h0M187 1475.5h0M226.7 1435.4h0M243.5 1401.5h0M184.2 1455.2h0M162.9 1482.7h0M172.5 1483.7h0M207.9 1452.3h0M154.7 1500.6h0M171.8 1486.9h0M162.7 1491.5h0M157.7 1485.3h0M189.7 1461.6h0M194.5 1469.4h0M154.5 1501.2h0M293.6 1360.9h0M190.5 1465.2h0M163 1494.8h0M206.5 1451.8h0M184.5 1453.1h0M224.5 1444.2h0M177 1469.1h0M175.3 1489.1h0M185.9 1477.1h0M241 1396.8h0M263.7 1398.5h0M184.6 1481.2h0M188.9 1472.4h0M195.8 1469.5h0M183 1470h0M157.1 1487h0M215 1464.5h0M198.8 1464.6h0M185.1 1458.2h0M216.2 1421.4h0M249.9 1426.9h0M173 1478h0M148.4 1498.3h0M177.1 1477.3h0M174.2 1482.1h0M177.4 1457.4h0M167.2 1473.3h0M151.9 1497.5h0M196.7 1464.7h0M168.7 1500.7h0M151.3 1498.7h0M156.9 1484.2h0M179.6 1464.2h0M159.1 1494.1h0M189 1461h0M263 1400.8h0M213.6 1425.6h0M166.7 1493.7h0M259.3 1402h0M189 1470.1h0M149.1 1490.4h0M268.6 1393.8h0M158.1 1497.3h0M162.1 1494h0M175.4 1471h0M206.3 1453.1h0M239.9 1423.8h0M148 1495.3h0M151.4 1498.7h0M172.6 1484.7h0M231.4 1418.5h0M154.7 1503h0M206.7 1446.1h0M153.8 1502.7h0M177.1 1491.3h0M221.8 1417.2h0M160 1492.1h0M231.4 1427h0M156.1 1492.9h0M157.6 1484.9h0M200.5 1456.3h0M179 1475.1h0M165.1 1487.6h0M174.7 1468h0M147.9 1493.4h0M235.9 1438.6h0M236.4 1425.4h0M247.2 1389.6h0M167.1 1485.8h0M150.1 1491.3h0M159.3 1495.6h0M216 1456.8h0M173.4 1477h0M157 1498.8h0M205.5 1453.6h0M166.8 1474.8h0M206.8 1453.7h0M180.9 1482.2h0M155.2 1503.2h0M172.1 1488.4h0M177.4 1474.2h0M293.6 1373.5h0M180.8 1485.2h0M196.9 1452.6h0M176.1 1463.5h0M162.9 1481.2h0M156.6 1502.5h0M152.1 1488.8h0M148.6 1496.9h0M194.3 1449h0M150 1488.1h0M165.5 1493.5h0M160.7 1490.5h0M171.3 1484.2h0M152.5 1494.3h0M188.8 1465h0M174.6 1489.8h0M155 1486.3h0M158.7 1479.3h0M216 1446.7h0M182.6 1464.7h0M176.5 1477.6h0M156.6 1487.8h0M219.6 1440.6h0M149.6 1493.2h0M160.6 1496.5h0M165.1 1494.5h0M179 1486.4h0M181.1 1462.3h0M156 1482.8h0M168.2 1490.6h0M172.3 1479.1h0M153.8 1498.1h0M194 1449.4h0M169.7 1494.8h0M241.8 1430.2h0M195.8 1464.5h0M268.5 1407.4h0M161.2 1491.4h0M160.8 1492.4h0M179.4 1477.9h0M175.6 1481h0M180.1 1467.7h0M150 1498.8h0M160 1499.5h0M165.1 1471.4h0M157.8 1499.6h0M158.1 1500.7h0M161 1502.3h0M171.8 1481.5h0M151.5 1491.7h0M149.5 1490.8h0M263.1 1399.2h0M157.9 1493h0M240.4 1426h0M155 1496.4h0M156.2 1502.2h0M230.9 1421.3h0M207.5 1450.3h0M179.4 1470.3h0M164.8 1484.7h0M151.7 1495.3h0M152.3 1488.3h0M156.1 1498.3h0M155.2 1498.4h0M205.2 1454h0M189.7 1439.4h0M187.3 1469.6h0M177 1465.7h0M162.8 1480h0M160.9 1483.2h0M154.5 1496.6h0M178.9 1453.4h0M171.4 1487.9h0M255.6 1395.8h0M167.8 1484.4h0M178.9 1473.8h0M168.1 1487.8h0M203.6 1447.5h0M177 1458.7h0M162.8 1469.3h0M197.2 1462h0M152.1 1499.9h0M196.5 1457.5h0M150.6 1499.6h0M155.4 1490.3h0M198 1463.3h0M163.3 1488.5h0M175.5 1463h0M258.8 1406h0M178 1491.2h0M183.3 1462.4h0M180.2 1477.9h0M167 1489h0M153.3 1496.1h0M185.5 1478h0M163.7 1482.1h0M167.6 1496.3h0M147.4 1489.3h0M209.2 1449.8h0M156.3 1502.9h0M191 1460.9h0M169.4 1485.2h0M217 1417.5h0M163.7 1497.5h0M172.6 1485h0M166.4 1493.9h0M198.4 1465.3h0M174.7 1459.9h0M165 1488h0M191.7 1449.5h0M164.4 1499.1h0M158.4 1502.6h0M183.3 1473.4h0M226.9 1445h0M176.3 1485.5h0M172.9 1458.8h0M229.7 1456.9h0M153.6 1481.4h0M168.8 1480.4h0M160.4 1473.9h0M200.6 1457.8h0M263.3 1408.4h0M173.3 1468.1h0M180.2 1482.7h0M159.1 1478.4h0M202.1 1427.2h0M214.7 1436h0M170.7 1493.3h0M153.2 1497.9h0M161.4 1492.5h0M284.1 1395.8h0M167.6 1490.9h0M168 1476.8h0M175.8 1492h0M187.5 1466.4h0M152.4 1494h0M174.2 1488.2h0M160.6 1490.5h0M172.3 1477.9h0M168.6 1494.2h0M178.8 1469.8h0M224.2 1434.4h0M177.2 1493.6h0M167.2 1498.9h0M180.8 1477.6h0M182.3 1465h0M161 1494.9h0M180 1468.2h0M173.8 1474.4h0M197.6 1462.5h0M201.6 1430.8h0M212.4 1427h0M206.4 1457.4h0M149.9 1497.4h0M206 1473.1h0M227.7 1423.4h0M149 1486.2h0M174.4 1464.7h0M305.7 1383.9h0M215.8 1444.5h0M213.4 1442.4h0M204.7 1450.2h0M200.5 1442.6h0M255.8 1396.6h0M170.1 1487h0M150.2 1491.8h0M150.2 1499.6h0M148.7 1489.6h0M185.3 1431.5h0M159.3 1481.2h0M148.4 1493.2h0M156.6 1493.8h0M181.8 1472.4h0M163.3 1493.5h0M181.9 1486.6h0M171.2 1464.1h0M234.2 1436.2h0M155.7 1497.9h0M197.2 1456.9h0M226.4 1441.8h0M257.7 1413h0M173.2 1494.3h0M169.1 1467h0M157.5 1490.3h0M157.7 1499.8h0M150.9 1500.2h0M182 1463.5h0M160.3 1495h0M173.6 1491.8h0M186 1476.1h0M195 1443.8h0M152.4 1498.3h0M192.9 1467.2h0M181.5 1480.8h0M191 1467.4h0M223.1 1425.2h0M247.3 1387.8h0M195.6 1464.6h0M159.4 1483.2h0M197.3 1428.4h0M152.3 1498.3h0M160.9 1480.9h0M183.4 1463.1h0M181.2 1480.6h0M204.7 1445.7h0M166.5 1483.1h0M191.4 1445.3h0M170.4 1491.6h0M181.7 1454.7h0M169.1 1484.6h0M162.2 1498.7h0M164.9 1494.8h0M169.5 1486.9h0M163.3 1495.2h0M164.4 1489.2h0M159.6 1484.6h0M157.6 1494.5h0M202.4 1433.9h0M174 1495.1h0M158.6 1501.6h0M204.5 1439.3h0M203.7 1465.9h0M163.9 1496.5h0M206.5 1448h0M207.6 1464.7h0M154 1499.7h0M179.7 1483.3h0M192.7 1465.5h0M160.2 1485.3h0M183.1 1477h0M182.4 1468.7h0M162.1 1491.5h0M187.5 1466.4h0M254.4 1417.9h0M187.3 1467.7h0M158.9 1489.8h0M162.8 1491.2h0M184 1468.8h0M205.2 1443.4h0M193.6 1455.7h0M156.9 1498.2h0M180.8 1482.6h0M172.7 1487.6h0M184.9 1461.2h0M212.8 1435.9h0M184.3 1455.5h0M174.5 1486.9h0M176.5 1475.4h0M167.2 1493.5h0M153.6 1496h0M201 1452.4h0M166.5 1487.9h0M199.2 1443h0M169.8 1476.1h0M170.7 1481.4h0M177 1476.9h0M187.7 1468.1h0M163.7 1479.4h0M175.5 1465.5h0M170.1 1488.5h0M194.8 1447.3h0M184.3 1470.2h0M165.9 1480.7h0M287.7 1376.7h0M248.1 1412.4h0M301.9 1375.2h0M180.9 1488.7h0M226.6 1412h0M167.5 1497.1h0M241.3 1416.5h0M219.1 1437.7h0M168.3 1479.7h0M300.9 1385.6h0M260.1 1380.6h0M223.1 1409.9h0M303.2 1366.1h0M151.7 1499.7h0M178.9 1468.8h0M195.2 1478.5h0M225.5 1421.4h0M231 1428.4h0M303.6 1373.3h0M180.5 1477.3h0M314.1 1389.4h0M202.9 1457h0M181.2 1468.7h0M272.8 1376.9h0M227.8 1420.7h0M294.2 1363.4h0M219.9 1425.8h0M298.9 1361.5h0M176 1474.4h0M169.9 1488.1h0M165 1489h0M257.3 1405h0M158.4 1503.7h0M238.6 1410.4h0M180.3 1472.5h0M176.6 1475.5h0M180 1460.3h0M198.2 1474.7h0M198.6 1436.1h0M180.6 1466.4h0M184.1 1463.8h0M208 1461.8h0M273.4 1383.6h0M292.2 1365.6h0M248.1 1417.3h0M156.3 1502.2h0M285.7 1375.5h0M265.2 1406h0M231.2 1428.6h0M260.6 1385.1h0M155.2 1491.2h0M275.1 1382.3h0M157.2 1494.2h0M297.7 1371.9h0M224.7 1436.3h0M180.2 1474.7h0M182.6 1492.9h0M240.8 1422.8h0M221.9 1424h0M158.9 1495.4h0M201.4 1443.5h0M202.4 1446.2h0M290.8 1362.7h0M203.4 1472.5h0M178.1 1480.5h0M242 1411.2h0M206 1448h0M283 1389.4h0M162.3 1488h0M178.3 1469.2h0M277.4 1388.3h0M169.1 1490.4h0M214 1456.1h0M244.8 1414.2h0M284.1 1368.4h0M168.8 1487.1h0M282.3 1381.7h0M297.3 1363.5h0M159.8 1486.1h0M187.1 1479.6h0M217.2 1437.4h0M232.7 1392.9h0M208.6 1434.4h0M256.2 1427.2h0M162.5 1484.2h0M223.4 1449.6h0M207.3 1451.5h0M234.7 1401.7h0M161.6 1488h0M203.7 1460.3h0M187 1465.6h0M215.9 1446.2h0M160.1 1497.5h0M163 1482.3h0M256.3 1381.7h0M167.2 1478.5h0M161.8 1491.2h0M203.4 1458.8h0M282.2 1392h0M154.6 1479.4h0M153.7 1503.7h0M264.3 1398.8h0M148.6 1498.5h0M201.2 1465.2h0M285.8 1370.1h0M161.2 1502.8h0M189.5 1464.1h0M162.1 1491.6h0M229.2 1450.2h0M185.2 1456.1h0M154.9 1494.6h0M302.2 1388.5h0M212.4 1454.5h0M196.4 1461.9h0M296.1 1368.3h0M202.2 1469.9h0M206.1 1426.4h0M245.8 1389.9h0M157.9 1478.5h0M173 1472.5h0M161.1 1499.3h0M169.6 1485.6h0M252.5 1404.2h0M153.7 1502.1h0M294.7 1385.2h0M160.7 1499.3h0M197.7 1438.1h0M224.9 1431.5h0M166.9 1482.6h0M285.7 1384h0M231.6 1434.4h0M254.6 1382.1h0M152.7 1489.6h0M221.8 1457h0M180.8 1440.5h0M169.2 1496.9h0M255 1414.1h0M199.5 1472h0M226.8 1392.8h0M179.5 1446.1h0M264.4 1385.8h0M197.1 1448.6h0M162.5 1498.3h0M245.5 1409.4h0M269.7 1381.4h0M194.5 1464.6h0M235.8 1424.2h0M265.7 1389.5h0M222.7 1439h0M149.5 1499h0M174.7 1473.6h0M196.5 1460.2h0M230.5 1404.8h0M260.5 1407.5h0M235.7 1400.2h0M167.7 1494.9h0M218.8 1398.9h0M254.3 1417.2h0M154.6 1492.5h0M207.2 1436.3h0M172.6 1471.5h0M199.8 1441.4h0M222.9 1428.7h0M286.3 1389.6h0M250.2 1412h0M218.4 1426h0M179.7 1495h0M261.1 1403.4h0M183.9 1466.6h0M175.3 1467.6h0M174.3 1494.6h0M269.6 1373.4h0M162.5 1496.8h0M239.4 1409.9h0M167.5 1474.7h0M198.7 1462.1h0M234.1 1442.3h0M239.9 1432.6h0M215.3 1454.7h0M255.6 1398.8h0M260.2 1414.2h0M289.2 1385h0M261.8 1411.4h0M156.8 1483.6h0M173.7 1464h0M200 1461.9h0M229.2 1399.4h0M197.2 1451.3h0M225.4 1435.5h0M172.5 1486.4h0M166.3 1496.2h0M183.3 1480.2h0M187.6 1466.2h0M289.8 1372.8h0M241.5 1435.2h0M294.2 1359.2h0M177.8 1490.9h0M263.3 1418.8h0M170.6 1493.7h0M155.7 1500.3h0M160.9 1494.6h0M183.6 1449.9h0M165.8 1490.8h0M248.2 1406h0M213.9 1441h0M177.5 1483.9h0M274.7 1414.9h0M179.6 1484.8h0M239.7 1435.1h0M265.5 1401.4h0M203.9 1464.6h0M280.9 1374.7h0M242 1418.8h0M274.2 1388.6h0M173.1 1456.9h0M213.9 1435.7h0M269.5 1378.3h0M207.2 1442.4h0M293 1371.9h0M198.6 1463h0M163.4 1479.6h0M266.1 1371.6h0M237.7 1428.2h0M206.3 1458h0M309.7 1390.3h0M171.4 1490.3h0M271.4 1385h0M180.2 1457.4h0M247.7 1413.7h0M171.2 1479.1h0M223.4 1423h0M179.7 1476.7h0M290.4 1359h0M162.9 1480.5h0M168.7 1478.5h0M188.8 1474.9h0M228.8 1456.9h0M219.1 1437.9h0M276.3 1425.7h0M174.2 1475.8h0M248.3 1410.1h0M287.3 1363.8h0M198.4 1456.8h0M281.4 1363.8h0M247.2 1412.7h0M247 1408.1h0M150.3 1494.3h0M156.7 1499.3h0M176.8 1478.3h0M252.8 1393.1h0M244.8 1403.8h0M269.5 1395.9h0M181.7 1465.2h0M182.4 1454.6h0M149.2 1498.2h0M163.4 1493.4h0M211.5 1441.7h0M149.3 1495h0M298.6 1368.3h0M288.6 1377.2h0M304.6 1362.8h0M296.3 1384.1h0M286.1 1366.1h0M295.4 1385.7h0M301 1354.5h0M310.6 1374.2h0M293.5 1359.4h0M287.5 1368.8h0M291.8 1380.9h0M285.9 1375.5h0M296.3 1372.3h0M294.1 1365.6h0M310.5 1391.5h0M292.9 1382.3h0M297.2 1360.7h0M304.2 1361.3h0M297.5 1372.5h0M299.7 1367.2h0M300.1 1380h0M304.7 1368.6h0M292.1 1372.6h0M307.1 1377.6h0M290.9 1367.3h0M289.7 1366h0M291.2 1378.1h0M279.6 1365.7h0M304.3 1373.3h0M279 1368h0M295.3 1359.8h0M298.6 1378.1h0M301.9 1366.1h0M281.7 1363.6h0M282.6 1369.1h0M283.4 1365.3h0M284.8 1362.6h0M298.5 1383.8h0M304.4 1375.6h0M301.8 1362.9h0M295.5 1385.6h0M300.5 1358.7h0M286.5 1363.4h0M279.2 1366.7h0M290.9 1376.5h0M283 1369.1h0M289.8 1367.4h0M293.4 1367.9h0M299.3 1359.6h0M305.1 1363.3h0M290.6 1370.2h0M292.8 1367.2h0M291.3 1368.2h0M294.6 1360.7h0M284.5 1366.4h0M292.8 1367.9h0M301.8 1361.2h0M296.5 1374h0M277.9 1365.9h0M285.1 1374.1h0M277.5 1367.7h0M294.9 1371.2h0M292.3 1363.8h0M290.3 1377.8h0M303.4 1363.1h0M284.7 1365.4h0M287 1362.3h0M296.7 1382h0M300.3 1384.1h0M284.4 1371.2h0M292.9 1373.6h0M286.8 1378.1h0M293 1378.1h0M300.1 1369.5h0M294.5 1359.6h0M291.5 1362.4h0M300.9 1362.4h0M290.6 1360.1h0M291.2 1360.2h0" stroke="#4566cc" stroke-width="2.0" stroke-linecap="square" fill="none"/>
<path d="M566.5 1123.7h0M567.2 1099.8h0M565.9 1116.5h0M565.5 1097.8h0M565.5 1088.5h0M566.6 1096.1h0M566.8 1104.7h0M567.4 1094.9h0M566.5 1109.4h0M567.5 1099.5h0M567.1 1142.5h0M567.8 1153.3h0M567.9 1108.1h0M567.6 1103h0M567.2 1120.5h0M567.5 1104.3h0M566.4 1086.6h0M567.5 1108.7h0M567.3 1106.3h0M567.2 1100.7h0M567.4 1096.4h0M565.1 1096.8h0M567.7 1105.2h0M566 1116.8h0M567.3 1099.3h0M567.8 1113.8h0M566.9 1102.3h0M567.2 1094.1h0M567.6 1088.2h0M567.1 1099.6h0M567 1115.1h0M566.5 1107.4h0M565.1 1094.5h0M566 1090.9h0M566.2 1102.5h0M567.8 1087h0M566.7 1135.2h0M566.7 1140.3h0M566.3 1127.2h0M566.7 1094.2h0M567.4 1115h0M567.7 1107.1h0M567.5 1101.8h0M566.2 1117.2h0M566.6 1133.8h0M567.3 1131.4h0M567.6 1088.7h0M566.5 1126.3h0M566.6 1103.2h0M567.4 1090.6h0M566.3 1088.4h0M567.3 1117.5h0M567.1 1162.4h0M567.5 1095.7h0M567.3 1100.1h0M566.6 1157.1h0M567.2 1088.1h0M566.5 1086.6h0M567.2 1159.6h0M566 1147.9h0M567 1094.4h0M566.8 1101.6h0M566 1094.9h0M566.5 1097.8h0M564.7 1103.4h0M565 1090.5h0M566.4 1108.8h0M566.5 1119.4h0M566.7 1089.9h0M567.2 1104.9h0M565.3 1089.3h0M567.4 1089.2h0M561.2 1088.3h0M563 1086.7h0M566.7 1086.4h0M562.9 1086.5h0M550.4 1086.7h0M563 1087.4h0M561.9 1087h0M558 1086.3h0M565.2 1086.4h0M566.9 1086.7h0M557.1 1087h0M561.9 1087.9h0M566.3 1087.3h0M565.5 1087.1h0M557.2 1086.9h0" stroke="#000" stroke-width="2.0" stroke-linecap="square" fill="none"/>
</g>
<polygon points="148.6,1506.5 147.3,1489.5 175,1429.3 229.2,1388 300.9,1353.5 318.8,1388 235.9,1483.5" fill="none" stroke="#4a62c4" stroke-width="1.5"/>
<text x="148" y="1338.3" font-size="22.3" text-anchor="start" fill="#4f66b8">P1(94.89%)</text>
<path d="M137.8 1518.3L137.8 1528.9M160.5 1518.3L160.5 1525.3M183.2 1518.3L183.2 1525.3M205.8 1518.3L205.8 1525.3M228.5 1518.3L228.5 1525.3M251.2 1518.3L251.2 1528.9M273.9 1518.3L273.9 1525.3M296.6 1518.3L296.6 1525.3M319.2 1518.3L319.2 1525.3M341.9 1518.3L341.9 1525.3M364.6 1518.3L364.6 1528.9M387.3 1518.3L387.3 1525.3M410 1518.3L410 1525.3M432.6 1518.3L432.6 1525.3M455.3 1518.3L455.3 1525.3M478 1518.3L478 1528.9M500.7 1518.3L500.7 1525.3M523.4 1518.3L523.4 1525.3M546 1518.3L546 1525.3M568.7 1518.3L568.7 1525.3" stroke="#1a1a1a" stroke-width="1.5" fill="none"/>
<text x="137.8" y="1554.7" font-size="22" text-anchor="middle" fill="#1a1a1a">0</text>
<text x="251.2" y="1554.7" font-size="22" text-anchor="middle" fill="#1a1a1a">50</text>
<text x="364.6" y="1554.7" font-size="22" text-anchor="middle" fill="#1a1a1a">100</text>
<text x="478" y="1554.7" font-size="22" text-anchor="middle" fill="#1a1a1a">150</text>
<path d="M123.3 1505.8L134.6 1505.8M127.6 1479L134.6 1479M127.6 1452.3L134.6 1452.3M127.6 1425.5L134.6 1425.5M127.6 1398.8L134.6 1398.8M123.3 1372L134.6 1372M127.6 1345.2L134.6 1345.2M127.6 1318.5L134.6 1318.5M127.6 1291.7L134.6 1291.7M127.6 1265L134.6 1265M123.3 1238.2L134.6 1238.2M127.6 1211.4L134.6 1211.4M127.6 1184.7L134.6 1184.7M127.6 1157.9L134.6 1157.9M127.6 1131.2L134.6 1131.2M123.3 1104.4L134.6 1104.4" stroke="#1a1a1a" stroke-width="1.5" fill="none"/>
<text x="115.1" y="1505.8" font-size="22" text-anchor="middle" fill="#1a1a1a" transform="rotate(-90 115.1 1505.8)">0</text>
<text x="115.1" y="1372" font-size="22" text-anchor="middle" fill="#1a1a1a" transform="rotate(-90 115.1 1372)">200</text>
<text x="115.1" y="1238.2" font-size="22" text-anchor="middle" fill="#1a1a1a" transform="rotate(-90 115.1 1238.2)">400</text>
<text x="115.1" y="1104.4" font-size="22" text-anchor="middle" fill="#1a1a1a" transform="rotate(-90 115.1 1104.4)">600</text>
<text x="351.4" y="1582.7" font-size="22.6" text-anchor="middle" fill="#1a1a1a">FSC-A</text>
<text x="497.5" y="1583.2" font-size="21.5" text-anchor="start" fill="#1a1a1a">( x 10</text>
<text x="553.5" y="1572.7" font-size="15.3" text-anchor="start" fill="#1a1a1a">4</text>
<text x="564.7" y="1583.2" font-size="21.5" text-anchor="start" fill="#1a1a1a">)</text>
<text x="82.6" y="1301.2" font-size="22.6" text-anchor="middle" fill="#1a1a1a" transform="rotate(-90 82.6 1301.2)">SSC-A</text>
<g transform="translate(83.6 1153.7) rotate(-90)"><text x="0" y="0" font-size="21.5" fill="#1a1a1a">( x 10</text><text x="56" y="-10" font-size="15.3" fill="#1a1a1a">4</text><text x="67.2" y="0" font-size="21.5" fill="#1a1a1a">)</text></g>
<rect x="655.3" y="572.5" width="436.3" height="435.8" fill="#fff" stroke="#1a1a1a" stroke-width="1.6"/>
<g clip-path="url(#ch2)">
<path d="M691.7 1008.3L691.7 1008.3L692.7 1008.3L693.7 1008.3L694.7 1008.3L695.7 1008.3L696.7 1008.3L697.7 1008.3L698.7 1007.2L699.7 1007.2L700.7 1007.2L701.7 1007.2L702.7 1007.2L703.7 1006L704.7 1007.2L705.7 1007.2L706.7 1007.2L707.7 1007.2L708.7 1007.2L709.7 1007.2L710.7 1007.2L711.7 1007.2L712.7 1007.2L713.7 1007.2L714.7 1007.2L715.7 1007.2L716.7 1007.2L717.7 1007.2L718.7 1007.2L719.7 1005.8L720.7 1007.2L721.7 1005.7L722.7 1007.2L723.7 1007.2L724.7 1007.2L725.7 996.9L726.7 1007.2L727.7 1005.6L728.7 1007.2L729.7 1007.2L730.7 1005.5L731.7 1005.4L732.7 1000.9L733.7 1005.2L734.7 1005.1L735.7 1005L736.7 1000.5L737.7 998.2L738.7 1002.5L739.7 1006.9L740.7 1002.4L741.7 995.7L742.7 1004.4L743.7 1004.3L744.7 1002L745.7 988.7L746.7 990.8L747.7 992.9L748.7 992.8L749.7 999.3L750.7 1001.4L751.7 990.3L752.7 1003.4L753.7 990.1L754.7 996.6L755.7 989.9L756.7 989.8L757.7 987.5L758.7 991.8L759.7 982.8L760.7 995.9L761.7 993.6L762.7 993.5L763.7 989L764.7 991.1L765.7 991L766.7 993.1L767.7 986.3L768.7 997.2L769.7 979.5L770.7 983.8L771.7 981.4L772.7 972.5L773.7 985.6L774.7 978.8L775.7 996.3L776.7 969.8L777.7 985.1L778.7 978.3L779.7 982.6L780.7 993.5L781.7 962.5L782.7 995.4L783.7 984.3L784.7 975.4L785.7 975.3L786.7 966.4L787.7 975.1L788.7 981.5L789.7 977L790.7 981.3L791.7 970.2L792.7 976.7L793.7 963.4L794.7 976.5L795.7 963.2L796.7 956.4L797.7 969.5L798.7 971.6L799.7 973.7L800.7 975.7L801.7 964.5L802.7 957.7L803.7 966.2L804.7 950.6L805.7 943.8L806.7 965.6L807.7 954.3L808.7 962.9L809.7 973.7L810.7 966.9L811.7 929.2L812.7 957.6L813.7 972.8L814.7 944L815.7 954.7L816.7 950.1L817.7 949.8L818.7 940.7L819.7 927.1L820.7 922.4L821.7 941.9L822.7 930.5L823.7 925.8L824.7 938.5L825.7 944.6L826.7 941.9L827.7 914.9L828.7 927.7L829.7 922.7L830.7 924.4L831.7 928.3L832.7 899.2L833.7 918.5L834.7 904.4L835.7 901.2L836.7 904.7L837.7 877.3L838.7 900.6L839.7 884.2L840.7 859L841.7 868.6L842.7 891.5L843.7 881.3L844.7 820.5L845.7 852.2L846.7 811.2L847.7 803.1L848.7 818.9L849.7 832.4L850.7 839.4L851.7 820L852.7 769.7L853.7 759L854.7 746.4L855.7 755.8L856.7 752.1L857.7 743.9L858.7 751.1L859.7 710L860.7 723.8L861.7 698.4L862.7 708.3L863.7 643.3L864.7 673L865.7 696.1L866.7 673L867.7 682.9L868.7 671L869.7 661.4L870.7 634.1L871.7 635.4L872.7 695.1L873.7 708.6L874.7 660.5L875.7 645.3L876.7 700.7L877.7 712L878.7 692.3L879.7 659.3L880.7 672.6L881.7 685.9L882.7 655.2L883.7 666.3L884.7 675.2L885.7 692.9L886.7 693L887.7 640.2L888.7 694.7L889.7 696.8L890.7 690.1L891.7 692.1L892.7 740.3L893.7 720.3L894.7 744.2L895.7 763.1L896.7 760L897.7 752.4L898.7 802.1L899.7 785.8L900.7 809L901.7 792.8L902.7 825.2L903.7 782.9L904.7 799.9L905.7 850L906.7 853.8L907.7 824.7L908.7 823.7L909.7 868.4L910.7 853.6L911.7 841.1L912.7 828.6L913.7 866.7L914.7 858.5L915.7 887.8L916.7 855.5L917.7 902.4L918.7 885.5L919.7 882.1L920.7 876.4L921.7 895L922.7 900.4L923.7 881.5L924.7 917.7L925.7 911.8L926.7 921.2L927.7 926.2L928.7 918L929.7 929.5L930.7 938.9L931.7 924.1L932.7 909.2L933.7 920.8L934.7 950L935.7 942L936.7 945.5L937.7 940.1L938.7 954.5L939.7 968.9L940.7 970.1L941.7 973.5L942.7 981L943.7 984L944.7 989.1L945.7 985.4L946.7 997.1L947.7 993.4L948.7 1002.8L949.7 1000.9L950.7 1005.6L951.7 1005.8L952.7 1007.2L953.7 1008.3L953.7 1008.3Z" fill="url(#g2)" stroke="none"/>
<path d="M691.7 1008.3L691.7 1008.3L692.7 1008.3L693.7 1008.3L694.7 1008.3L695.7 1008.3L696.7 1008.3L697.7 1008.3L698.7 1007.2L699.7 1007.2L700.7 1007.2L701.7 1007.2L702.7 1007.2L703.7 1006L704.7 1007.2L705.7 1007.2L706.7 1007.2L707.7 1007.2L708.7 1007.2L709.7 1007.2L710.7 1007.2L711.7 1007.2L712.7 1007.2L713.7 1007.2L714.7 1007.2L715.7 1007.2L716.7 1007.2L717.7 1007.2L718.7 1007.2L719.7 1005.8L720.7 1007.2L721.7 1005.7L722.7 1007.2L723.7 1007.2L724.7 1007.2L725.7 996.9L726.7 1007.2L727.7 1005.6L728.7 1007.2L729.7 1007.2L730.7 1005.5L731.7 1005.4L732.7 1000.9L733.7 1005.2L734.7 1005.1L735.7 1005L736.7 1000.5L737.7 998.2L738.7 1002.5L739.7 1006.9L740.7 1002.4L741.7 995.7L742.7 1004.4L743.7 1004.3L744.7 1002L745.7 988.7L746.7 990.8L747.7 992.9L748.7 992.8L749.7 999.3L750.7 1001.4L751.7 990.3L752.7 1003.4L753.7 990.1L754.7 996.6L755.7 989.9L756.7 989.8L757.7 987.5L758.7 991.8L759.7 982.8L760.7 995.9L761.7 993.6L762.7 993.5L763.7 989L764.7 991.1L765.7 991L766.7 993.1L767.7 986.3L768.7 997.2L769.7 979.5L770.7 983.8L771.7 981.4L772.7 972.5L773.7 985.6L774.7 978.8L775.7 996.3L776.7 969.8L777.7 985.1L778.7 978.3L779.7 982.6L780.7 993.5L781.7 962.5L782.7 995.4L783.7 984.3L784.7 975.4L785.7 975.3L786.7 966.4L787.7 975.1L788.7 981.5L789.7 977L790.7 981.3L791.7 970.2L792.7 976.7L793.7 963.4L794.7 976.5L795.7 963.2L796.7 956.4L797.7 969.5L798.7 971.6L799.7 973.7L800.7 975.7L801.7 964.5L802.7 957.7L803.7 966.2L804.7 950.6L805.7 943.8L806.7 965.6L807.7 954.3L808.7 962.9L809.7 973.7L810.7 966.9L811.7 929.2L812.7 957.6L813.7 972.8L814.7 944L815.7 954.7L816.7 950.1L817.7 949.8L818.7 940.7L819.7 927.1L820.7 922.4L821.7 941.9L822.7 930.5L823.7 925.8L824.7 938.5L825.7 944.6L826.7 941.9L827.7 914.9L828.7 927.7L829.7 922.7L830.7 924.4L831.7 928.3L832.7 899.2L833.7 918.5L834.7 904.4L835.7 901.2L836.7 904.7L837.7 877.3L838.7 900.6L839.7 884.2L840.7 859L841.7 868.6L842.7 891.5L843.7 881.3L844.7 820.5L845.7 852.2L846.7 811.2L847.7 803.1L848.7 818.9L849.7 832.4L850.7 839.4L851.7 820L852.7 769.7L853.7 759L854.7 746.4L855.7 755.8L856.7 752.1L857.7 743.9L858.7 751.1L859.7 710L860.7 723.8L861.7 698.4L862.7 708.3L863.7 643.3L864.7 673L865.7 696.1L866.7 673L867.7 682.9L868.7 671L869.7 661.4L870.7 634.1L871.7 635.4L872.7 695.1L873.7 708.6L874.7 660.5L875.7 645.3L876.7 700.7L877.7 712L878.7 692.3L879.7 659.3L880.7 672.6L881.7 685.9L882.7 655.2L883.7 666.3L884.7 675.2L885.7 692.9L886.7 693L887.7 640.2L888.7 694.7L889.7 696.8L890.7 690.1L891.7 692.1L892.7 740.3L893.7 720.3L894.7 744.2L895.7 763.1L896.7 760L897.7 752.4L898.7 802.1L899.7 785.8L900.7 809L901.7 792.8L902.7 825.2L903.7 782.9L904.7 799.9L905.7 850L906.7 853.8L907.7 824.7L908.7 823.7L909.7 868.4L910.7 853.6L911.7 841.1L912.7 828.6L913.7 866.7L914.7 858.5L915.7 887.8L916.7 855.5L917.7 902.4L918.7 885.5L919.7 882.1L920.7 876.4L921.7 895L922.7 900.4L923.7 881.5L924.7 917.7L925.7 911.8L926.7 921.2L927.7 926.2L928.7 918L929.7 929.5L930.7 938.9L931.7 924.1L932.7 909.2L933.7 920.8L934.7 950L935.7 942L936.7 945.5L937.7 940.1L938.7 954.5L939.7 968.9L940.7 970.1L941.7 973.5L942.7 981L943.7 984L944.7 989.1L945.7 985.4L946.7 997.1L947.7 993.4L948.7 1002.8L949.7 1000.9L950.7 1005.6L951.7 1005.8L952.7 1007.2L953.7 1008.3L953.7 1008.3" fill="none" stroke="#f4361f" stroke-width="1.6" stroke-linejoin="round"/>
</g>
<rect x="655.3" y="572.5" width="436.3" height="435.8" fill="none" stroke="#1a1a1a" stroke-width="1.6"/>
<path d="M793.2 850.3H1045.2M793.2 838.8V861.8M1045.2 838.8V861.8" stroke="#8566c8" stroke-width="1.5" fill="none"/>
<g clip-path="url(#ch2h)"><rect x="790" y="801.8" width="124" height="30" fill="#ffe9d8" fill-opacity="0.8"/></g>
<text x="793" y="823.9" font-size="22.3" text-anchor="start" fill="#8566c8">P2(94.36%)</text>
<path d="M655.3 1008.3L655.3 1018.9M688.2 1008.3L688.2 1015.3M707.5 1008.3L707.5 1015.3M721.2 1008.3L721.2 1015.3M731.8 1008.3L731.8 1015.3M740.4 1008.3L740.4 1015.3M747.8 1008.3L747.8 1015.3M754.1 1008.3L754.1 1015.3M759.7 1008.3L759.7 1015.3M764.7 1008.3L764.7 1018.9M797.7 1008.3L797.7 1015.3M817 1008.3L817 1015.3M830.7 1008.3L830.7 1015.3M841.4 1008.3L841.4 1015.3M850.1 1008.3L850.1 1015.3M857.4 1008.3L857.4 1015.3M863.8 1008.3L863.8 1015.3M869.4 1008.3L869.4 1015.3M874.4 1008.3L874.4 1018.9M907 1008.3L907 1015.3M926 1008.3L926 1015.3M939.5 1008.3L939.5 1015.3M950 1008.3L950 1015.3M958.6 1008.3L958.6 1015.3M965.8 1008.3L965.8 1015.3M972.1 1008.3L972.1 1015.3M977.6 1008.3L977.6 1015.3M982.6 1008.3L982.6 1018.9M1015.4 1008.3L1015.4 1015.3M1034.6 1008.3L1034.6 1015.3M1048.2 1008.3L1048.2 1015.3M1058.8 1008.3L1058.8 1015.3M1067.4 1008.3L1067.4 1015.3M1074.7 1008.3L1074.7 1015.3M1081 1008.3L1081 1015.3M1086.6 1008.3L1086.6 1015.3M1091.6 1008.3L1091.6 1018.9" stroke="#1a1a1a" stroke-width="1.5" fill="none"/>
<text x="655.3" y="1044.5" font-size="22" text-anchor="middle" fill="#1a1a1a" >10</text>
<text x="667.6" y="1035.1" font-size="14.5" text-anchor="start" fill="#1a1a1a" >2</text>
<text x="764.7" y="1044.5" font-size="22" text-anchor="middle" fill="#1a1a1a" >10</text>
<text x="777" y="1035.1" font-size="14.5" text-anchor="start" fill="#1a1a1a" >3</text>
<text x="874.4" y="1044.5" font-size="22" text-anchor="middle" fill="#1a1a1a" >10</text>
<text x="886.7" y="1035.1" font-size="14.5" text-anchor="start" fill="#1a1a1a" >4</text>
<text x="982.6" y="1044.5" font-size="22" text-anchor="middle" fill="#1a1a1a" >10</text>
<text x="994.9" y="1035.1" font-size="14.5" text-anchor="start" fill="#1a1a1a" >5</text>
<text x="1091.6" y="1044.5" font-size="22" text-anchor="middle" fill="#1a1a1a" clip-path="url(#cl2)">10</text>
<text x="1103.9" y="1035.1" font-size="14.5" text-anchor="start" fill="#1a1a1a" clip-path="url(#cl2)">6</text>
<path d="M644 1008.3L655.3 1008.3M648.3 980.8L655.3 980.8M648.3 953.3L655.3 953.3M648.3 925.7L655.3 925.7M648.3 898.2L655.3 898.2M644 870.7L655.3 870.7M648.3 843.2L655.3 843.2M648.3 815.7L655.3 815.7M648.3 788.1L655.3 788.1M648.3 760.6L655.3 760.6M644 733.1L655.3 733.1M648.3 705.6L655.3 705.6M648.3 678.1L655.3 678.1M648.3 650.5L655.3 650.5M648.3 623L655.3 623M644 595.5L655.3 595.5" stroke="#1a1a1a" stroke-width="1.5" fill="none"/>
<text x="633.8" y="1008.3" font-size="22" text-anchor="middle" fill="#1a1a1a" transform="rotate(-90 633.8 1008.3)">0</text>
<text x="633.8" y="870.7" font-size="22" text-anchor="middle" fill="#1a1a1a" transform="rotate(-90 633.8 870.7)">50</text>
<text x="633.8" y="733.1" font-size="22" text-anchor="middle" fill="#1a1a1a" transform="rotate(-90 633.8 733.1)">100</text>
<text x="633.8" y="595.5" font-size="22" text-anchor="middle" fill="#1a1a1a" transform="rotate(-90 633.8 595.5)">150</text>
<text x="874.4" y="1072.6" font-size="22.7" text-anchor="middle" fill="#1a1a1a">CD81 FITC-A</text>
<text x="604.3" y="790.4" font-size="22.7" text-anchor="middle" fill="#1a1a1a" transform="rotate(-90 604.3 790.4)">Count</text>
<rect x="1178.1" y="572.5" width="434.1" height="433.4" fill="#fff" stroke="#1a1a1a" stroke-width="1.6"/>
<g clip-path="url(#ch3)">
<path d="M1302.6 1005.9L1302.6 1005.9L1303.6 1005.9L1304.6 1005.9L1305.6 1005.9L1306.6 1005.9L1307.6 1004.8L1308.6 1004.8L1309.6 1004.8L1310.6 1003.6L1311.6 1004.8L1312.6 1004.8L1313.6 1004.8L1314.6 1004.8L1315.6 1004.8L1316.6 1004.8L1317.6 1003.4L1318.6 1004.8L1319.6 1003.3L1320.6 1004.8L1321.6 1004.8L1322.6 1003.2L1323.6 1003.1L1324.6 1004.8L1325.6 1004.8L1326.6 1003L1327.6 1004.8L1328.6 1000.7L1329.6 1004.8L1330.6 1004.8L1331.6 1000.5L1332.6 1002.7L1333.6 998.2L1334.6 998.1L1335.6 995.8L1336.6 1000.3L1337.6 1004.7L1338.6 1002.4L1339.6 984.4L1340.6 1002.3L1341.6 999.9L1342.6 999.8L1343.6 990.7L1344.6 999.6L1345.6 999.5L1346.6 999.4L1347.6 994.8L1348.6 999.2L1349.6 994.6L1350.6 994.5L1351.6 992.1L1352.6 978.6L1353.6 994.2L1354.6 994.1L1355.6 996.2L1356.6 987.1L1357.6 987L1358.6 993.6L1359.6 977.8L1360.6 988.9L1361.6 993.3L1362.6 975.3L1363.6 995.4L1364.6 995.3L1365.6 981.7L1366.6 979.4L1367.6 995L1368.6 976.9L1369.6 990.3L1370.6 981.2L1371.6 972.1L1372.6 987.7L1373.6 983.1L1374.6 994.3L1375.6 980.7L1376.6 987.3L1377.6 987.2L1378.6 978.1L1379.6 966.8L1380.6 969L1381.6 977.8L1382.6 980L1383.6 979.9L1384.6 977.5L1385.6 972.9L1386.6 966.1L1387.6 977.2L1388.6 972.5L1389.6 965.6L1390.6 974.4L1391.6 972L1392.6 958.4L1393.6 973.9L1394.6 987.2L1395.6 953.3L1396.6 977.9L1397.6 966.5L1398.6 973L1399.6 966.1L1400.6 948L1401.6 956.8L1402.6 949.8L1403.6 967.6L1404.6 947.2L1405.6 964.9L1406.6 940L1407.6 960L1408.6 966.6L1409.6 957.4L1410.6 950.5L1411.6 941.3L1412.6 956.9L1413.6 943.3L1414.6 949.9L1415.6 940.8L1416.6 965.3L1417.6 969.7L1418.6 958.3L1419.6 940.2L1420.6 944.6L1421.6 962.2L1422.6 934.8L1423.6 950.1L1424.6 940.7L1425.6 935.7L1426.6 928.5L1427.6 946L1428.6 916.5L1429.6 916.2L1430.6 924.8L1431.6 933.5L1432.6 924.2L1433.6 923.9L1434.6 916.8L1435.6 916.5L1436.6 918.5L1437.6 904.7L1438.6 901.5L1439.6 916L1440.6 905.7L1441.6 904.5L1442.6 903.3L1443.6 893L1444.6 878.3L1445.6 878.9L1446.6 852.4L1447.6 866.4L1448.6 869.2L1449.6 833.8L1450.6 809.6L1451.6 846L1452.6 772.1L1453.6 754.4L1454.6 774.8L1455.6 781.7L1456.6 784.2L1457.6 741.7L1458.6 728.8L1459.6 745.7L1460.6 751.4L1461.6 703.3L1462.6 702.2L1463.6 721.4L1464.6 668.7L1465.6 665.4L1466.6 711.5L1467.6 699.3L1468.6 635.4L1469.6 712.8L1470.6 684.8L1471.6 694.9L1472.6 675.9L1473.6 679.3L1474.6 673.7L1475.6 673.4L1476.6 671.8L1477.6 654.5L1478.6 657.4L1479.6 673.8L1480.6 708.1L1481.6 632.4L1482.6 636.9L1483.6 697.1L1484.6 669.7L1485.6 646.9L1486.6 677.9L1487.6 684.3L1488.6 677.2L1489.6 679L1490.6 672.6L1491.6 709.1L1492.6 653.5L1493.6 683.2L1494.6 710.7L1495.6 733.5L1496.6 755.2L1497.6 723L1498.6 771.5L1499.6 734.8L1500.6 779L1501.6 800.6L1502.6 793.2L1503.6 801.7L1504.6 821.4L1505.6 800.7L1506.6 840.6L1507.6 831.1L1508.6 821.6L1509.6 845.4L1510.6 833L1511.6 847.5L1512.6 889L1513.6 858.6L1514.6 846.2L1515.6 887.6L1516.6 875.2L1517.6 874L1518.6 895.3L1519.6 897.9L1520.6 913.2L1521.6 899.3L1522.6 910.1L1523.6 878.3L1524.6 866.6L1525.6 877.4L1526.6 886L1527.6 872.1L1528.6 858.4L1529.6 921L1530.6 902.7L1531.6 920.4L1532.6 908.9L1533.6 927.9L1534.6 924.4L1535.6 945.5L1536.6 959.9L1537.6 947.4L1538.6 955.1L1539.6 960.5L1540.6 963.8L1541.6 978.2L1542.6 968L1543.6 984.7L1544.6 996.9L1545.6 993.4L1546.6 985.2L1547.6 994.6L1548.6 999.5L1549.6 997.7L1550.6 1000.3L1551.6 1000.7L1552.6 1004.8L1553.6 1004.8L1554.6 1003.5L1555.6 1004.8L1556.6 1004.8L1557.6 1005.9L1558.6 1005.9L1559.6 1005.9L1559.6 1005.9Z" fill="url(#g3)" stroke="none"/>
<path d="M1302.6 1005.9L1302.6 1005.9L1303.6 1005.9L1304.6 1005.9L1305.6 1005.9L1306.6 1005.9L1307.6 1004.8L1308.6 1004.8L1309.6 1004.8L1310.6 1003.6L1311.6 1004.8L1312.6 1004.8L1313.6 1004.8L1314.6 1004.8L1315.6 1004.8L1316.6 1004.8L1317.6 1003.4L1318.6 1004.8L1319.6 1003.3L1320.6 1004.8L1321.6 1004.8L1322.6 1003.2L1323.6 1003.1L1324.6 1004.8L1325.6 1004.8L1326.6 1003L1327.6 1004.8L1328.6 1000.7L1329.6 1004.8L1330.6 1004.8L1331.6 1000.5L1332.6 1002.7L1333.6 998.2L1334.6 998.1L1335.6 995.8L1336.6 1000.3L1337.6 1004.7L1338.6 1002.4L1339.6 984.4L1340.6 1002.3L1341.6 999.9L1342.6 999.8L1343.6 990.7L1344.6 999.6L1345.6 999.5L1346.6 999.4L1347.6 994.8L1348.6 999.2L1349.6 994.6L1350.6 994.5L1351.6 992.1L1352.6 978.6L1353.6 994.2L1354.6 994.1L1355.6 996.2L1356.6 987.1L1357.6 987L1358.6 993.6L1359.6 977.8L1360.6 988.9L1361.6 993.3L1362.6 975.3L1363.6 995.4L1364.6 995.3L1365.6 981.7L1366.6 979.4L1367.6 995L1368.6 976.9L1369.6 990.3L1370.6 981.2L1371.6 972.1L1372.6 987.7L1373.6 983.1L1374.6 994.3L1375.6 980.7L1376.6 987.3L1377.6 987.2L1378.6 978.1L1379.6 966.8L1380.6 969L1381.6 977.8L1382.6 980L1383.6 979.9L1384.6 977.5L1385.6 972.9L1386.6 966.1L1387.6 977.2L1388.6 972.5L1389.6 965.6L1390.6 974.4L1391.6 972L1392.6 958.4L1393.6 973.9L1394.6 987.2L1395.6 953.3L1396.6 977.9L1397.6 966.5L1398.6 973L1399.6 966.1L1400.6 948L1401.6 956.8L1402.6 949.8L1403.6 967.6L1404.6 947.2L1405.6 964.9L1406.6 940L1407.6 960L1408.6 966.6L1409.6 957.4L1410.6 950.5L1411.6 941.3L1412.6 956.9L1413.6 943.3L1414.6 949.9L1415.6 940.8L1416.6 965.3L1417.6 969.7L1418.6 958.3L1419.6 940.2L1420.6 944.6L1421.6 962.2L1422.6 934.8L1423.6 950.1L1424.6 940.7L1425.6 935.7L1426.6 928.5L1427.6 946L1428.6 916.5L1429.6 916.2L1430.6 924.8L1431.6 933.5L1432.6 924.2L1433.6 923.9L1434.6 916.8L1435.6 916.5L1436.6 918.5L1437.6 904.7L1438.6 901.5L1439.6 916L1440.6 905.7L1441.6 904.5L1442.6 903.3L1443.6 893L1444.6 878.3L1445.6 878.9L1446.6 852.4L1447.6 866.4L1448.6 869.2L1449.6 833.8L1450.6 809.6L1451.6 846L1452.6 772.1L1453.6 754.4L1454.6 774.8L1455.6 781.7L1456.6 784.2L1457.6 741.7L1458.6 728.8L1459.6 745.7L1460.6 751.4L1461.6 703.3L1462.6 702.2L1463.6 721.4L1464.6 668.7L1465.6 665.4L1466.6 711.5L1467.6 699.3L1468.6 635.4L1469.6 712.8L1470.6 684.8L1471.6 694.9L1472.6 675.9L1473.6 679.3L1474.6 673.7L1475.6 673.4L1476.6 671.8L1477.6 654.5L1478.6 657.4L1479.6 673.8L1480.6 708.1L1481.6 632.4L1482.6 636.9L1483.6 697.1L1484.6 669.7L1485.6 646.9L1486.6 677.9L1487.6 684.3L1488.6 677.2L1489.6 679L1490.6 672.6L1491.6 709.1L1492.6 653.5L1493.6 683.2L1494.6 710.7L1495.6 733.5L1496.6 755.2L1497.6 723L1498.6 771.5L1499.6 734.8L1500.6 779L1501.6 800.6L1502.6 793.2L1503.6 801.7L1504.6 821.4L1505.6 800.7L1506.6 840.6L1507.6 831.1L1508.6 821.6L1509.6 845.4L1510.6 833L1511.6 847.5L1512.6 889L1513.6 858.6L1514.6 846.2L1515.6 887.6L1516.6 875.2L1517.6 874L1518.6 895.3L1519.6 897.9L1520.6 913.2L1521.6 899.3L1522.6 910.1L1523.6 878.3L1524.6 866.6L1525.6 877.4L1526.6 886L1527.6 872.1L1528.6 858.4L1529.6 921L1530.6 902.7L1531.6 920.4L1532.6 908.9L1533.6 927.9L1534.6 924.4L1535.6 945.5L1536.6 959.9L1537.6 947.4L1538.6 955.1L1539.6 960.5L1540.6 963.8L1541.6 978.2L1542.6 968L1543.6 984.7L1544.6 996.9L1545.6 993.4L1546.6 985.2L1547.6 994.6L1548.6 999.5L1549.6 997.7L1550.6 1000.3L1551.6 1000.7L1552.6 1004.8L1553.6 1004.8L1554.6 1003.5L1555.6 1004.8L1556.6 1004.8L1557.6 1005.9L1558.6 1005.9L1559.6 1005.9L1559.6 1005.9" fill="none" stroke="#f4361f" stroke-width="1.6" stroke-linejoin="round"/>
</g>
<rect x="1178.1" y="572.5" width="434.1" height="433.4" fill="none" stroke="#1a1a1a" stroke-width="1.6"/>
<path d="M1308.7 806H1569.9M1308.7 794.5V817.5M1569.9 794.5V817.5" stroke="#ea4a30" stroke-width="1.5" fill="none"/>
<text x="1309.4" y="779.2" font-size="22.3" text-anchor="start" fill="#ea4a30">P3(99.80%)</text>
<path d="M1178.1 1005.9L1178.1 1016.5M1210.8 1005.9L1210.8 1012.9M1229.9 1005.9L1229.9 1012.9M1243.5 1005.9L1243.5 1012.9M1254 1005.9L1254 1012.9M1262.6 1005.9L1262.6 1012.9M1269.9 1005.9L1269.9 1012.9M1276.2 1005.9L1276.2 1012.9M1281.7 1005.9L1281.7 1012.9M1286.7 1005.9L1286.7 1016.5M1319.5 1005.9L1319.5 1012.9M1338.7 1005.9L1338.7 1012.9M1352.3 1005.9L1352.3 1012.9M1362.9 1005.9L1362.9 1012.9M1371.5 1005.9L1371.5 1012.9M1378.8 1005.9L1378.8 1012.9M1385.1 1005.9L1385.1 1012.9M1390.7 1005.9L1390.7 1012.9M1395.7 1005.9L1395.7 1016.5M1428.3 1005.9L1428.3 1012.9M1447.3 1005.9L1447.3 1012.9M1460.8 1005.9L1460.8 1012.9M1471.3 1005.9L1471.3 1012.9M1479.9 1005.9L1479.9 1012.9M1487.1 1005.9L1487.1 1012.9M1493.4 1005.9L1493.4 1012.9M1498.9 1005.9L1498.9 1012.9M1503.9 1005.9L1503.9 1016.5M1536.5 1005.9L1536.5 1012.9M1555.6 1005.9L1555.6 1012.9M1569.1 1005.9L1569.1 1012.9M1579.6 1005.9L1579.6 1012.9M1588.2 1005.9L1588.2 1012.9M1595.4 1005.9L1595.4 1012.9M1601.7 1005.9L1601.7 1012.9M1607.2 1005.9L1607.2 1012.9M1612.2 1005.9L1612.2 1016.5" stroke="#1a1a1a" stroke-width="1.5" fill="none"/>
<text x="1178.1" y="1043" font-size="22" text-anchor="middle" fill="#1a1a1a" >10</text>
<text x="1190.4" y="1033.6" font-size="14.5" text-anchor="start" fill="#1a1a1a" >2</text>
<text x="1286.7" y="1043" font-size="22" text-anchor="middle" fill="#1a1a1a" >10</text>
<text x="1299" y="1033.6" font-size="14.5" text-anchor="start" fill="#1a1a1a" >3</text>
<text x="1395.7" y="1043" font-size="22" text-anchor="middle" fill="#1a1a1a" >10</text>
<text x="1408" y="1033.6" font-size="14.5" text-anchor="start" fill="#1a1a1a" >4</text>
<text x="1503.9" y="1043" font-size="22" text-anchor="middle" fill="#1a1a1a" >10</text>
<text x="1516.2" y="1033.6" font-size="14.5" text-anchor="start" fill="#1a1a1a" >5</text>
<text x="1612.2" y="1043" font-size="22" text-anchor="middle" fill="#1a1a1a" >10</text>
<text x="1624.5" y="1033.6" font-size="14.5" text-anchor="start" fill="#1a1a1a" >6</text>
<path d="M1166.8 1005.9L1178.1 1005.9M1171.1 977.8L1178.1 977.8M1171.1 949.8L1178.1 949.8M1171.1 921.7L1178.1 921.7M1171.1 893.7L1178.1 893.7M1166.8 865.6L1178.1 865.6M1171.1 837.5L1178.1 837.5M1171.1 809.5L1178.1 809.5M1171.1 781.4L1178.1 781.4M1171.1 753.4L1178.1 753.4M1166.8 725.3L1178.1 725.3M1171.1 697.2L1178.1 697.2M1171.1 669.2L1178.1 669.2M1171.1 641.1L1178.1 641.1M1171.1 613.1L1178.1 613.1M1166.8 585L1178.1 585" stroke="#1a1a1a" stroke-width="1.5" fill="none"/>
<text x="1156.6" y="1005.9" font-size="22" text-anchor="middle" fill="#1a1a1a" transform="rotate(-90 1156.6 1005.9)">0</text>
<text x="1156.6" y="865.6" font-size="22" text-anchor="middle" fill="#1a1a1a" transform="rotate(-90 1156.6 865.6)">50</text>
<text x="1156.6" y="725.3" font-size="22" text-anchor="middle" fill="#1a1a1a" transform="rotate(-90 1156.6 725.3)">100</text>
<text x="1156.6" y="585" font-size="22" text-anchor="middle" fill="#1a1a1a" transform="rotate(-90 1156.6 585)">150</text>
<text x="1396" y="1071" font-size="22.7" text-anchor="middle" fill="#1a1a1a">CD63 PE-A</text>
<text x="1127.1" y="789.2" font-size="22.7" text-anchor="middle" fill="#1a1a1a" transform="rotate(-90 1127.1 789.2)">Count</text>
<rect x="658.5" y="1084.2" width="433.1" height="434.1" fill="#fff" stroke="#1a1a1a" stroke-width="1.6"/>
<g clip-path="url(#ch5)">
<path d="M658.5 1518.3L658.5 1417.7L659.5 1416.3L660.5 1429.1L661.5 1408.9L662.5 1416.3L663.5 1430.8L664.5 1417L665.5 1392.6L666.5 1401.7L667.5 1407.4L668.5 1372.4L669.5 1404.6L670.5 1371.4L671.5 1350.6L672.5 1351L673.5 1360.3L674.5 1371.3L675.5 1369.4L676.5 1369.7L677.5 1327.6L678.5 1338.5L679.5 1363.5L680.5 1335.5L681.5 1358.8L682.5 1344.8L683.5 1316.6L684.5 1316.7L685.5 1323.9L686.5 1269.2L687.5 1294.1L688.5 1294.6L689.5 1296.5L690.5 1280.7L691.5 1302L692.5 1282.6L693.5 1288L694.5 1312.9L695.5 1299.5L696.5 1290.2L697.5 1259.7L698.5 1268.1L699.5 1223.4L700.5 1238.8L701.5 1236.6L702.5 1230.9L703.5 1238.3L704.5 1217.5L705.5 1225L706.5 1234.2L707.5 1231L708.5 1219L709.5 1226.7L710.5 1223.5L711.5 1190.4L712.5 1203.2L713.5 1164.7L714.5 1152.7L715.5 1192L716.5 1173L717.5 1169.9L718.5 1152.6L719.5 1164.8L720.5 1175.6L721.5 1163.4L722.5 1158.3L723.5 1186.7L724.5 1151.6L725.5 1173L726.5 1180.2L727.5 1166.6L728.5 1169.6L729.5 1195.6L730.5 1172.2L731.5 1212.3L732.5 1229.5L733.5 1202.5L734.5 1206L735.5 1243.5L736.5 1281L737.5 1242.5L738.5 1258.8L739.5 1244.7L740.5 1258.6L741.5 1311.4L742.5 1279.3L743.5 1302L744.5 1305.3L745.5 1290.9L746.5 1333.7L747.5 1319.4L748.5 1324.5L749.5 1319.1L750.5 1320.7L751.5 1318.8L752.5 1302.7L753.5 1290.1L754.5 1327.1L755.5 1342.8L756.5 1355L757.5 1365.5L758.5 1370.6L759.5 1354.3L760.5 1372.2L761.5 1372.5L762.5 1358.6L763.5 1385.4L764.5 1359.2L765.5 1384.2L766.5 1372.1L767.5 1370.6L768.5 1385.9L769.5 1401.5L770.5 1413.6L771.5 1399.1L772.5 1423.6L773.5 1442.2L774.5 1421.6L775.5 1459.4L776.5 1424.7L777.5 1448.3L778.5 1443.6L779.5 1435.4L780.5 1441.4L781.5 1465L782.5 1440.9L783.5 1455.8L784.5 1474.6L785.5 1486.2L786.5 1462.5L787.5 1467L788.5 1480.4L789.5 1481.4L790.5 1489.3L791.5 1486.5L792.5 1494.3L793.5 1500.3L794.5 1494L795.5 1508.8L796.5 1509.5L797.5 1504.5L798.5 1515.3L799.5 1513.8L800.5 1515.8L801.5 1516L802.5 1517.4L803.5 1517.4L804.5 1517.4L805.5 1517.4L806.5 1517.4L807.5 1518.3L808.5 1518.3L809.5 1518.3L809.5 1518.3Z" fill="#7a8fd0" stroke="none"/>
<path d="M658.5 1518.3L658.5 1417.7L659.5 1416.3L660.5 1429.1L661.5 1408.9L662.5 1416.3L663.5 1430.8L664.5 1417L665.5 1392.6L666.5 1401.7L667.5 1407.4L668.5 1372.4L669.5 1404.6L670.5 1371.4L671.5 1350.6L672.5 1351L673.5 1360.3L674.5 1371.3L675.5 1369.4L676.5 1369.7L677.5 1327.6L678.5 1338.5L679.5 1363.5L680.5 1335.5L681.5 1358.8L682.5 1344.8L683.5 1316.6L684.5 1316.7L685.5 1323.9L686.5 1269.2L687.5 1294.1L688.5 1294.6L689.5 1296.5L690.5 1280.7L691.5 1302L692.5 1282.6L693.5 1288L694.5 1312.9L695.5 1299.5L696.5 1290.2L697.5 1259.7L698.5 1268.1L699.5 1223.4L700.5 1238.8L701.5 1236.6L702.5 1230.9L703.5 1238.3L704.5 1217.5L705.5 1225L706.5 1234.2L707.5 1231L708.5 1219L709.5 1226.7L710.5 1223.5L711.5 1190.4L712.5 1203.2L713.5 1164.7L714.5 1152.7L715.5 1192L716.5 1173L717.5 1169.9L718.5 1152.6L719.5 1164.8L720.5 1175.6L721.5 1163.4L722.5 1158.3L723.5 1186.7L724.5 1151.6L725.5 1173L726.5 1180.2L727.5 1166.6L728.5 1169.6L729.5 1195.6L730.5 1172.2L731.5 1212.3L732.5 1229.5L733.5 1202.5L734.5 1206L735.5 1243.5L736.5 1281L737.5 1242.5L738.5 1258.8L739.5 1244.7L740.5 1258.6L741.5 1311.4L742.5 1279.3L743.5 1302L744.5 1305.3L745.5 1290.9L746.5 1333.7L747.5 1319.4L748.5 1324.5L749.5 1319.1L750.5 1320.7L751.5 1318.8L752.5 1302.7L753.5 1290.1L754.5 1327.1L755.5 1342.8L756.5 1355L757.5 1365.5L758.5 1370.6L759.5 1354.3L760.5 1372.2L761.5 1372.5L762.5 1358.6L763.5 1385.4L764.5 1359.2L765.5 1384.2L766.5 1372.1L767.5 1370.6L768.5 1385.9L769.5 1401.5L770.5 1413.6L771.5 1399.1L772.5 1423.6L773.5 1442.2L774.5 1421.6L775.5 1459.4L776.5 1424.7L777.5 1448.3L778.5 1443.6L779.5 1435.4L780.5 1441.4L781.5 1465L782.5 1440.9L783.5 1455.8L784.5 1474.6L785.5 1486.2L786.5 1462.5L787.5 1467L788.5 1480.4L789.5 1481.4L790.5 1489.3L791.5 1486.5L792.5 1494.3L793.5 1500.3L794.5 1494L795.5 1508.8L796.5 1509.5L797.5 1504.5L798.5 1515.3L799.5 1513.8L800.5 1515.8L801.5 1516L802.5 1517.4L803.5 1517.4L804.5 1517.4L805.5 1517.4L806.5 1517.4L807.5 1518.3L808.5 1518.3L809.5 1518.3L809.5 1518.3" fill="none" stroke="#4a66c8" stroke-width="1.6" stroke-linejoin="round"/>
</g>
<rect x="658.5" y="1084.2" width="433.1" height="434.1" fill="none" stroke="#1a1a1a" stroke-width="1.6"/>
<path d="M822.9 1361H1045.9M822.9 1349.5V1372.5M1045.9 1349.5V1372.5" stroke="#8566c8" stroke-width="1.5" fill="none"/>
<text x="823" y="1336.6" font-size="22.3" text-anchor="start" fill="#8566c8">P2(0.04%)</text>
<path d="M658.5 1518.3L658.5 1528.9M690.9 1518.3L690.9 1525.3M709.8 1518.3L709.8 1525.3M723.3 1518.3L723.3 1525.3M733.7 1518.3L733.7 1525.3M742.2 1518.3L742.2 1525.3M749.4 1518.3L749.4 1525.3M755.7 1518.3L755.7 1525.3M761.2 1518.3L761.2 1525.3M766.1 1518.3L766.1 1528.9M799 1518.3L799 1525.3M818.2 1518.3L818.2 1525.3M831.9 1518.3L831.9 1525.3M842.5 1518.3L842.5 1525.3M851.2 1518.3L851.2 1525.3M858.5 1518.3L858.5 1525.3M864.8 1518.3L864.8 1525.3M870.4 1518.3L870.4 1525.3M875.4 1518.3L875.4 1528.9M908 1518.3L908 1525.3M927 1518.3L927 1525.3M940.5 1518.3L940.5 1525.3M951 1518.3L951 1525.3M959.6 1518.3L959.6 1525.3M966.8 1518.3L966.8 1525.3M973.1 1518.3L973.1 1525.3M978.6 1518.3L978.6 1525.3M983.6 1518.3L983.6 1528.9M1016.1 1518.3L1016.1 1525.3M1035.1 1518.3L1035.1 1525.3M1048.6 1518.3L1048.6 1525.3M1059.1 1518.3L1059.1 1525.3M1067.6 1518.3L1067.6 1525.3M1074.9 1518.3L1074.9 1525.3M1081.1 1518.3L1081.1 1525.3M1086.7 1518.3L1086.7 1525.3M1091.6 1518.3L1091.6 1528.9" stroke="#1a1a1a" stroke-width="1.5" fill="none"/>
<text x="658.5" y="1555.2" font-size="22" text-anchor="middle" fill="#1a1a1a" >10</text>
<text x="670.8" y="1545.8" font-size="14.5" text-anchor="start" fill="#1a1a1a" >2</text>
<text x="766.1" y="1555.2" font-size="22" text-anchor="middle" fill="#1a1a1a" >10</text>
<text x="778.4" y="1545.8" font-size="14.5" text-anchor="start" fill="#1a1a1a" >3</text>
<text x="875.4" y="1555.2" font-size="22" text-anchor="middle" fill="#1a1a1a" >10</text>
<text x="887.7" y="1545.8" font-size="14.5" text-anchor="start" fill="#1a1a1a" >4</text>
<text x="983.6" y="1555.2" font-size="22" text-anchor="middle" fill="#1a1a1a" >10</text>
<text x="995.9" y="1545.8" font-size="14.5" text-anchor="start" fill="#1a1a1a" >5</text>
<text x="1091.6" y="1555.2" font-size="22" text-anchor="middle" fill="#1a1a1a" clip-path="url(#cl5)">10</text>
<text x="1103.9" y="1545.8" font-size="14.5" text-anchor="start" fill="#1a1a1a" clip-path="url(#cl5)">6</text>
<path d="M647.2 1518.3L658.5 1518.3M651.5 1474.1L658.5 1474.1M651.5 1429.9L658.5 1429.9M651.5 1385.7L658.5 1385.7M651.5 1341.5L658.5 1341.5M647.2 1297.3L658.5 1297.3M651.5 1253.1L658.5 1253.1M651.5 1208.9L658.5 1208.9M651.5 1164.7L658.5 1164.7M651.5 1120.5L658.5 1120.5" stroke="#1a1a1a" stroke-width="1.5" fill="none"/>
<text x="637" y="1518.3" font-size="22" text-anchor="middle" fill="#1a1a1a" transform="rotate(-90 637 1518.3)">0</text>
<text x="637" y="1297.3" font-size="22" text-anchor="middle" fill="#1a1a1a" transform="rotate(-90 637 1297.3)">100</text>
<text x="875.4" y="1582.7" font-size="22.7" text-anchor="middle" fill="#1a1a1a">CD81 FITC-A</text>
<text x="607.5" y="1301.2" font-size="22.7" text-anchor="middle" fill="#1a1a1a" transform="rotate(-90 607.5 1301.2)">Count</text>
<rect x="1182.5" y="1084.2" width="434.3" height="434.6" fill="#fff" stroke="#1a1a1a" stroke-width="1.6"/>
<g clip-path="url(#ch6)">
<path d="M1182.5 1518.8L1182.5 1410.2L1183.5 1414.9L1184.5 1412.9L1185.5 1420.8L1186.5 1423.8L1187.5 1387.2L1188.5 1424.5L1189.5 1456.9L1190.5 1425.2L1191.5 1424.7L1192.5 1435.7L1193.5 1428.2L1194.5 1403.5L1195.5 1403.5L1196.5 1361.9L1197.5 1382.5L1198.5 1381.7L1199.5 1361.2L1200.5 1360.4L1201.5 1382.7L1202.5 1372L1203.5 1331.8L1204.5 1365.6L1205.5 1348.6L1206.5 1331.7L1207.5 1365.8L1208.5 1343.9L1209.5 1341.8L1210.5 1315L1211.5 1350.8L1212.5 1355.2L1213.5 1328.4L1214.5 1290L1215.5 1348.7L1216.5 1340L1217.5 1324.6L1218.5 1271.4L1219.5 1297.2L1220.5 1331.7L1221.5 1248.9L1222.5 1316L1223.5 1267.8L1224.5 1278.9L1225.5 1236.2L1226.5 1241.6L1227.5 1263.3L1228.5 1224.2L1229.5 1259.2L1230.5 1239.8L1231.5 1235.2L1232.5 1209.9L1233.5 1225.9L1234.5 1235.3L1235.5 1223.3L1236.5 1268.9L1237.5 1235.6L1238.5 1249.4L1239.5 1209L1240.5 1153.7L1241.5 1195.6L1242.5 1221L1243.5 1166.1L1244.5 1183.7L1245.5 1188L1246.5 1184.2L1247.5 1155.7L1248.5 1161.8L1249.5 1173.3L1250.5 1189.7L1251.5 1219.4L1252.5 1174.9L1253.5 1229.2L1254.5 1179.1L1255.5 1203L1256.5 1187.4L1257.5 1194.9L1258.5 1253.3L1259.5 1242.7L1260.5 1259.8L1261.5 1246.3L1262.5 1194.9L1263.5 1258.8L1264.5 1251.9L1265.5 1241.7L1266.5 1242.1L1267.5 1295.4L1268.5 1284.5L1269.5 1318.5L1270.5 1271L1271.5 1296L1272.5 1307.1L1273.5 1275.5L1274.5 1326.2L1275.5 1339L1276.5 1312.3L1277.5 1343.3L1278.5 1303.4L1279.5 1349L1280.5 1351.6L1281.5 1334.5L1282.5 1361.8L1283.5 1377.6L1284.5 1345.6L1285.5 1361.4L1286.5 1378.8L1287.5 1374.9L1288.5 1366L1289.5 1368.6L1290.5 1404.1L1291.5 1401.8L1292.5 1404.4L1293.5 1419.9L1294.5 1432.1L1295.5 1413L1296.5 1410.4L1297.5 1417.6L1298.5 1406.8L1299.5 1404.2L1300.5 1436.2L1301.5 1428.8L1302.5 1434.5L1303.5 1448.4L1304.5 1440.9L1305.5 1454.9L1306.5 1470.5L1307.5 1454.9L1308.5 1450.8L1309.5 1451.6L1310.5 1465.6L1311.5 1478L1312.5 1478.8L1313.5 1482.8L1314.5 1473.6L1315.5 1492.3L1316.5 1491.4L1317.5 1488.7L1318.5 1500.9L1319.5 1508.1L1320.5 1505.2L1321.5 1502.3L1322.5 1501L1323.5 1506.3L1324.5 1509.9L1325.5 1503.7L1326.5 1507.3L1327.5 1515.7L1328.5 1510.9L1329.5 1512.7L1330.5 1507.9L1331.5 1513L1332.5 1516.5L1333.5 1515L1334.5 1515.1L1335.5 1518L1336.5 1517.1L1337.5 1517.1L1338.5 1518L1339.5 1518.8L1340.5 1518.8L1341.5 1518.8L1341.5 1518.8Z" fill="#7a8fd0" stroke="none"/>
<path d="M1182.5 1518.8L1182.5 1410.2L1183.5 1414.9L1184.5 1412.9L1185.5 1420.8L1186.5 1423.8L1187.5 1387.2L1188.5 1424.5L1189.5 1456.9L1190.5 1425.2L1191.5 1424.7L1192.5 1435.7L1193.5 1428.2L1194.5 1403.5L1195.5 1403.5L1196.5 1361.9L1197.5 1382.5L1198.5 1381.7L1199.5 1361.2L1200.5 1360.4L1201.5 1382.7L1202.5 1372L1203.5 1331.8L1204.5 1365.6L1205.5 1348.6L1206.5 1331.7L1207.5 1365.8L1208.5 1343.9L1209.5 1341.8L1210.5 1315L1211.5 1350.8L1212.5 1355.2L1213.5 1328.4L1214.5 1290L1215.5 1348.7L1216.5 1340L1217.5 1324.6L1218.5 1271.4L1219.5 1297.2L1220.5 1331.7L1221.5 1248.9L1222.5 1316L1223.5 1267.8L1224.5 1278.9L1225.5 1236.2L1226.5 1241.6L1227.5 1263.3L1228.5 1224.2L1229.5 1259.2L1230.5 1239.8L1231.5 1235.2L1232.5 1209.9L1233.5 1225.9L1234.5 1235.3L1235.5 1223.3L1236.5 1268.9L1237.5 1235.6L1238.5 1249.4L1239.5 1209L1240.5 1153.7L1241.5 1195.6L1242.5 1221L1243.5 1166.1L1244.5 1183.7L1245.5 1188L1246.5 1184.2L1247.5 1155.7L1248.5 1161.8L1249.5 1173.3L1250.5 1189.7L1251.5 1219.4L1252.5 1174.9L1253.5 1229.2L1254.5 1179.1L1255.5 1203L1256.5 1187.4L1257.5 1194.9L1258.5 1253.3L1259.5 1242.7L1260.5 1259.8L1261.5 1246.3L1262.5 1194.9L1263.5 1258.8L1264.5 1251.9L1265.5 1241.7L1266.5 1242.1L1267.5 1295.4L1268.5 1284.5L1269.5 1318.5L1270.5 1271L1271.5 1296L1272.5 1307.1L1273.5 1275.5L1274.5 1326.2L1275.5 1339L1276.5 1312.3L1277.5 1343.3L1278.5 1303.4L1279.5 1349L1280.5 1351.6L1281.5 1334.5L1282.5 1361.8L1283.5 1377.6L1284.5 1345.6L1285.5 1361.4L1286.5 1378.8L1287.5 1374.9L1288.5 1366L1289.5 1368.6L1290.5 1404.1L1291.5 1401.8L1292.5 1404.4L1293.5 1419.9L1294.5 1432.1L1295.5 1413L1296.5 1410.4L1297.5 1417.6L1298.5 1406.8L1299.5 1404.2L1300.5 1436.2L1301.5 1428.8L1302.5 1434.5L1303.5 1448.4L1304.5 1440.9L1305.5 1454.9L1306.5 1470.5L1307.5 1454.9L1308.5 1450.8L1309.5 1451.6L1310.5 1465.6L1311.5 1478L1312.5 1478.8L1313.5 1482.8L1314.5 1473.6L1315.5 1492.3L1316.5 1491.4L1317.5 1488.7L1318.5 1500.9L1319.5 1508.1L1320.5 1505.2L1321.5 1502.3L1322.5 1501L1323.5 1506.3L1324.5 1509.9L1325.5 1503.7L1326.5 1507.3L1327.5 1515.7L1328.5 1510.9L1329.5 1512.7L1330.5 1507.9L1331.5 1513L1332.5 1516.5L1333.5 1515L1334.5 1515.1L1335.5 1518L1336.5 1517.1L1337.5 1517.1L1338.5 1518L1339.5 1518.8L1340.5 1518.8L1341.5 1518.8L1341.5 1518.8" fill="none" stroke="#4a66c8" stroke-width="1.6" stroke-linejoin="round"/>
</g>
<rect x="1182.5" y="1084.2" width="434.3" height="434.6" fill="none" stroke="#1a1a1a" stroke-width="1.6"/>
<path d="M1344.9 1318.7H1574M1344.9 1307.2V1330.2M1574 1307.2V1330.2" stroke="#ea4a30" stroke-width="1.5" fill="none"/>
<text x="1345.6" y="1291.6" font-size="22.3" text-anchor="start" fill="#ea4a30">P3(0.04%)</text>
<path d="M1182.5 1518.8L1182.5 1529.4M1215.3 1518.8L1215.3 1525.8M1234.5 1518.8L1234.5 1525.8M1248.1 1518.8L1248.1 1525.8M1258.7 1518.8L1258.7 1525.8M1267.3 1518.8L1267.3 1525.8M1274.6 1518.8L1274.6 1525.8M1280.9 1518.8L1280.9 1525.8M1286.5 1518.8L1286.5 1525.8M1291.5 1518.8L1291.5 1529.4M1324.2 1518.8L1324.2 1525.8M1343.3 1518.8L1343.3 1525.8M1356.9 1518.8L1356.9 1525.8M1367.4 1518.8L1367.4 1525.8M1376 1518.8L1376 1525.8M1383.3 1518.8L1383.3 1525.8M1389.6 1518.8L1389.6 1525.8M1395.1 1518.8L1395.1 1525.8M1400.1 1518.8L1400.1 1529.4M1432.6 1518.8L1432.6 1525.8M1451.6 1518.8L1451.6 1525.8M1465.1 1518.8L1465.1 1525.8M1475.5 1518.8L1475.5 1525.8M1484.1 1518.8L1484.1 1525.8M1491.3 1518.8L1491.3 1525.8M1497.5 1518.8L1497.5 1525.8M1503.1 1518.8L1503.1 1525.8M1508 1518.8L1508 1529.4M1540.8 1518.8L1540.8 1525.8M1559.9 1518.8L1559.9 1525.8M1573.5 1518.8L1573.5 1525.8M1584 1518.8L1584 1525.8M1592.7 1518.8L1592.7 1525.8M1599.9 1518.8L1599.9 1525.8M1606.3 1518.8L1606.3 1525.8M1611.8 1518.8L1611.8 1525.8M1616.8 1518.8L1616.8 1529.4" stroke="#1a1a1a" stroke-width="1.5" fill="none"/>
<text x="1182.5" y="1555.2" font-size="22" text-anchor="middle" fill="#1a1a1a" >10</text>
<text x="1194.8" y="1545.8" font-size="14.5" text-anchor="start" fill="#1a1a1a" >2</text>
<text x="1291.5" y="1555.2" font-size="22" text-anchor="middle" fill="#1a1a1a" >10</text>
<text x="1303.8" y="1545.8" font-size="14.5" text-anchor="start" fill="#1a1a1a" >3</text>
<text x="1400.1" y="1555.2" font-size="22" text-anchor="middle" fill="#1a1a1a" >10</text>
<text x="1412.4" y="1545.8" font-size="14.5" text-anchor="start" fill="#1a1a1a" >4</text>
<text x="1508" y="1555.2" font-size="22" text-anchor="middle" fill="#1a1a1a" >10</text>
<text x="1520.3" y="1545.8" font-size="14.5" text-anchor="start" fill="#1a1a1a" >5</text>
<text x="1616.8" y="1555.2" font-size="22" text-anchor="middle" fill="#1a1a1a" >10</text>
<text x="1629.1" y="1545.8" font-size="14.5" text-anchor="start" fill="#1a1a1a" >6</text>
<path d="M1171.2 1518.8L1182.5 1518.8M1175.5 1477.6L1182.5 1477.6M1175.5 1436.5L1182.5 1436.5M1175.5 1395.3L1182.5 1395.3M1175.5 1354.2L1182.5 1354.2M1171.2 1313L1182.5 1313M1175.5 1271.8L1182.5 1271.8M1175.5 1230.7L1182.5 1230.7M1175.5 1189.5L1182.5 1189.5M1175.5 1148.4L1182.5 1148.4M1171.2 1107.2L1182.5 1107.2" stroke="#1a1a1a" stroke-width="1.5" fill="none"/>
<text x="1161" y="1518.8" font-size="22" text-anchor="middle" fill="#1a1a1a" transform="rotate(-90 1161 1518.8)">0</text>
<text x="1161" y="1313" font-size="22" text-anchor="middle" fill="#1a1a1a" transform="rotate(-90 1161 1313)">100</text>
<text x="1161" y="1107.2" font-size="22" text-anchor="middle" fill="#1a1a1a" transform="rotate(-90 1161 1107.2)">200</text>
<text x="1399.5" y="1582.7" font-size="22.7" text-anchor="middle" fill="#1a1a1a">CD63 PE-A</text>
<text x="1131.5" y="1301.5" font-size="22.7" text-anchor="middle" fill="#1a1a1a" transform="rotate(-90 1131.5 1301.5)">Count</text>
<text x="3.5" y="612" font-size="65" text-anchor="start" fill="#000">C</text>
<rect x="290.9" y="1894.2" width="11.5" height="27.3" fill="#fbb96f" stroke="#000" stroke-width="2.6"/>
<rect x="304.3" y="1829.7" width="11.5" height="91.8" fill="#fbb96f" stroke="#000" stroke-width="2.6"/>
<rect x="317.7" y="1747.2" width="11.5" height="174.3" fill="#fbb96f" stroke="#000" stroke-width="2.6"/>
<rect x="331.1" y="1674.5" width="11.5" height="247" fill="#fbb96f" stroke="#000" stroke-width="2.6"/>
<rect x="344.5" y="1637.3" width="11.5" height="284.2" fill="#fbb96f" stroke="#000" stroke-width="2.6"/>
<rect x="357.9" y="1648.7" width="11.5" height="272.8" fill="#fbb96f" stroke="#000" stroke-width="2.6"/>
<rect x="371.3" y="1707.8" width="11.5" height="213.7" fill="#fbb96f" stroke="#000" stroke-width="2.6"/>
<rect x="384.7" y="1791.2" width="11.5" height="130.3" fill="#fbb96f" stroke="#000" stroke-width="2.6"/>
<rect x="398.1" y="1868.5" width="11.5" height="53" fill="#fbb96f" stroke="#000" stroke-width="2.6"/>
<rect x="411.5" y="1915.4" width="11.5" height="6.1" fill="#fbb96f" stroke="#000" stroke-width="2.6"/>
<rect x="132.9" y="1917.6" width="415.9" height="7.6" fill="#000"/>
<rect x="541.8" y="1916.8" width="7" height="10" fill="#000"/>
<rect x="132.9" y="1917.2" width="8" height="10" fill="#000"/>
<rect x="341.6" y="1917.2" width="6" height="10.5" fill="#000"/>
<rect x="137" y="1614.1" width="3.8" height="309.1" fill="#000"/>
<rect x="132.8" y="1917.7" width="8" height="7" fill="#000"/>
<rect x="134.8" y="1903.5" width="3.4" height="5" fill="#000"/>
<rect x="132.8" y="1887.4" width="8" height="7" fill="#000"/>
<rect x="134.8" y="1873.2" width="3.4" height="5" fill="#000"/>
<rect x="132.8" y="1857.1" width="8" height="7" fill="#000"/>
<rect x="134.8" y="1842.9" width="3.4" height="5" fill="#000"/>
<rect x="132.8" y="1826.8" width="8" height="7" fill="#000"/>
<rect x="134.8" y="1812.6" width="3.4" height="5" fill="#000"/>
<rect x="132.8" y="1796.5" width="8" height="7" fill="#000"/>
<rect x="134.8" y="1782.3" width="3.4" height="5" fill="#000"/>
<rect x="132.8" y="1766.2" width="8" height="7" fill="#000"/>
<rect x="134.8" y="1752" width="3.4" height="5" fill="#000"/>
<rect x="132.8" y="1735.8" width="8" height="7" fill="#000"/>
<rect x="134.8" y="1721.7" width="3.4" height="5" fill="#000"/>
<rect x="132.8" y="1705.5" width="8" height="7" fill="#000"/>
<rect x="134.8" y="1691.4" width="3.4" height="5" fill="#000"/>
<rect x="132.8" y="1675.2" width="8" height="7" fill="#000"/>
<rect x="134.8" y="1661.1" width="3.4" height="5" fill="#000"/>
<rect x="132.8" y="1644.9" width="8" height="7" fill="#000"/>
<rect x="134.8" y="1630.8" width="3.4" height="5" fill="#000"/>
<rect x="132.8" y="1614.6" width="8" height="7" fill="#000"/>
<rect x="135.8" y="1912.5" width="1.6" height="2.2" fill="#000"/>
<rect x="135.8" y="1897.4" width="1.6" height="2.2" fill="#000"/>
<rect x="135.8" y="1882.2" width="1.6" height="2.2" fill="#000"/>
<rect x="135.8" y="1867.1" width="1.6" height="2.2" fill="#000"/>
<rect x="135.8" y="1851.9" width="1.6" height="2.2" fill="#000"/>
<rect x="135.8" y="1836.7" width="1.6" height="2.2" fill="#000"/>
<rect x="135.8" y="1821.6" width="1.6" height="2.2" fill="#000"/>
<rect x="135.8" y="1806.4" width="1.6" height="2.2" fill="#000"/>
<rect x="135.8" y="1791.3" width="1.6" height="2.2" fill="#000"/>
<rect x="135.8" y="1776.1" width="1.6" height="2.2" fill="#000"/>
<rect x="135.8" y="1761" width="1.6" height="2.2" fill="#000"/>
<rect x="135.8" y="1745.8" width="1.6" height="2.2" fill="#000"/>
<rect x="135.8" y="1730.7" width="1.6" height="2.2" fill="#000"/>
<rect x="135.8" y="1715.5" width="1.6" height="2.2" fill="#000"/>
<rect x="135.8" y="1700.4" width="1.6" height="2.2" fill="#000"/>
<rect x="135.8" y="1685.2" width="1.6" height="2.2" fill="#000"/>
<rect x="135.8" y="1670" width="1.6" height="2.2" fill="#000"/>
<rect x="135.8" y="1654.9" width="1.6" height="2.2" fill="#000"/>
<rect x="135.8" y="1639.7" width="1.6" height="2.2" fill="#000"/>
<rect x="135.8" y="1624.6" width="1.6" height="2.2" fill="#000"/>
<text x="123.3" y="1925.8" font-size="16" text-anchor="end" fill="#111" stroke="#111" stroke-width="0.45" textLength="8.6" lengthAdjust="spacingAndGlyphs">0</text>
<text x="123.3" y="1895.5" font-size="16" text-anchor="end" fill="#111" stroke="#111" stroke-width="0.45" textLength="8.6" lengthAdjust="spacingAndGlyphs">2</text>
<text x="123.3" y="1865.2" font-size="16" text-anchor="end" fill="#111" stroke="#111" stroke-width="0.45" textLength="8.6" lengthAdjust="spacingAndGlyphs">4</text>
<text x="123.3" y="1834.9" font-size="16" text-anchor="end" fill="#111" stroke="#111" stroke-width="0.45" textLength="8.6" lengthAdjust="spacingAndGlyphs">6</text>
<text x="123.3" y="1804.6" font-size="16" text-anchor="end" fill="#111" stroke="#111" stroke-width="0.45" textLength="8.6" lengthAdjust="spacingAndGlyphs">8</text>
<text x="123.3" y="1774.2" font-size="16" text-anchor="end" fill="#111" stroke="#111" stroke-width="0.45" textLength="17.4" lengthAdjust="spacingAndGlyphs">10</text>
<text x="123.3" y="1743.9" font-size="16" text-anchor="end" fill="#111" stroke="#111" stroke-width="0.45" textLength="17.4" lengthAdjust="spacingAndGlyphs">12</text>
<text x="123.3" y="1713.6" font-size="16" text-anchor="end" fill="#111" stroke="#111" stroke-width="0.45" textLength="17.4" lengthAdjust="spacingAndGlyphs">14</text>
<text x="123.3" y="1683.3" font-size="16" text-anchor="end" fill="#111" stroke="#111" stroke-width="0.45" textLength="17.4" lengthAdjust="spacingAndGlyphs">16</text>
<text x="123.3" y="1653" font-size="16" text-anchor="end" fill="#111" stroke="#111" stroke-width="0.45" textLength="17.4" lengthAdjust="spacingAndGlyphs">18</text>
<text x="123.3" y="1622.7" font-size="16" text-anchor="end" fill="#111" stroke="#111" stroke-width="0.45" textLength="17.4" lengthAdjust="spacingAndGlyphs">20</text>
<text x="98" y="1761.5" font-size="20.5" text-anchor="middle" fill="#111" stroke="#111" stroke-width="0.4" transform="rotate(-90 98 1761.5)" textLength="116" lengthAdjust="spacingAndGlyphs">Intensity(%)</text>
<text x="143.5" y="1946.1" font-size="15" text-anchor="middle" fill="#111" stroke="#111" stroke-width="0.5" textLength="8" lengthAdjust="spacingAndGlyphs">0</text>
<text x="344.2" y="1946.1" font-size="15" text-anchor="middle" fill="#111" stroke="#111" stroke-width="0.5" textLength="18" lengthAdjust="spacingAndGlyphs">100</text>
<text x="547" y="1946.1" font-size="15" text-anchor="middle" fill="#111" stroke="#111" stroke-width="0.5" textLength="23.5" lengthAdjust="spacingAndGlyphs">1000</text>
<text x="357.4" y="1974.1" font-size="20.5" text-anchor="middle" fill="#111" stroke="#111" stroke-width="0.4" textLength="180.5" lengthAdjust="spacingAndGlyphs">1-P3 Diameter(nm)</text>
<rect x="151.4" y="1626.6" width="178.7" height="20.2" fill="#fff" stroke="#000" stroke-width="2.6"/>
<rect x="150.1" y="1625.3" width="35.9" height="22.8" fill="#000"/>
<rect x="155.5" y="1631.3" width="26.2" height="10" fill="#fbb96f"/>
<text x="192.6" y="1642" font-size="14.2" text-anchor="start" fill="#111" stroke="#111" stroke-width="0.42" textLength="131.9" lengthAdjust="spacingAndGlyphs">Diameter=114.50nm</text>
<rect x="811.3" y="1901.5" width="11.5" height="15.6" fill="#fbb96f" stroke="#000" stroke-width="2.6"/>
<rect x="824.7" y="1860.4" width="11.5" height="56.7" fill="#fbb96f" stroke="#000" stroke-width="2.6"/>
<rect x="838.1" y="1802.2" width="11.5" height="114.9" fill="#fbb96f" stroke="#000" stroke-width="2.6"/>
<rect x="851.5" y="1740.2" width="11.5" height="176.9" fill="#fbb96f" stroke="#000" stroke-width="2.6"/>
<rect x="864.9" y="1690.9" width="11.5" height="226.2" fill="#fbb96f" stroke="#000" stroke-width="2.6"/>
<rect x="878.3" y="1667.6" width="11.5" height="249.5" fill="#fbb96f" stroke="#000" stroke-width="2.6"/>
<rect x="891.8" y="1679.7" width="11.5" height="237.4" fill="#fbb96f" stroke="#000" stroke-width="2.6"/>
<rect x="905.2" y="1721" width="11.5" height="196.1" fill="#fbb96f" stroke="#000" stroke-width="2.6"/>
<rect x="918.6" y="1782.5" width="11.5" height="134.6" fill="#fbb96f" stroke="#000" stroke-width="2.6"/>
<rect x="932" y="1847.5" width="11.5" height="69.6" fill="#fbb96f" stroke="#000" stroke-width="2.6"/>
<rect x="945.4" y="1895.9" width="11.5" height="21.2" fill="#fbb96f" stroke="#000" stroke-width="2.6"/>
<rect x="651.8" y="1913.3" width="417" height="7.6" fill="#000"/>
<rect x="1061.8" y="1912.5" width="7" height="10" fill="#000"/>
<rect x="651.8" y="1912.9" width="8" height="10" fill="#000"/>
<rect x="861" y="1912.9" width="6" height="10.5" fill="#000"/>
<rect x="655.9" y="1610.4" width="3.8" height="308.4" fill="#000"/>
<rect x="651.7" y="1913.3" width="8" height="7" fill="#000"/>
<rect x="653.7" y="1899.2" width="3.4" height="5" fill="#000"/>
<rect x="651.7" y="1883.1" width="8" height="7" fill="#000"/>
<rect x="653.7" y="1868.9" width="3.4" height="5" fill="#000"/>
<rect x="651.7" y="1852.8" width="8" height="7" fill="#000"/>
<rect x="653.7" y="1838.7" width="3.4" height="5" fill="#000"/>
<rect x="651.7" y="1822.6" width="8" height="7" fill="#000"/>
<rect x="653.7" y="1808.5" width="3.4" height="5" fill="#000"/>
<rect x="651.7" y="1792.3" width="8" height="7" fill="#000"/>
<rect x="653.7" y="1778.2" width="3.4" height="5" fill="#000"/>
<rect x="651.7" y="1762.1" width="8" height="7" fill="#000"/>
<rect x="653.7" y="1748" width="3.4" height="5" fill="#000"/>
<rect x="651.7" y="1731.9" width="8" height="7" fill="#000"/>
<rect x="653.7" y="1717.7" width="3.4" height="5" fill="#000"/>
<rect x="651.7" y="1701.6" width="8" height="7" fill="#000"/>
<rect x="653.7" y="1687.5" width="3.4" height="5" fill="#000"/>
<rect x="651.7" y="1671.4" width="8" height="7" fill="#000"/>
<rect x="653.7" y="1657.3" width="3.4" height="5" fill="#000"/>
<rect x="651.7" y="1641.1" width="8" height="7" fill="#000"/>
<rect x="653.7" y="1627" width="3.4" height="5" fill="#000"/>
<rect x="651.7" y="1610.9" width="8" height="7" fill="#000"/>
<rect x="654.7" y="1908.1" width="1.6" height="2.2" fill="#000"/>
<rect x="654.7" y="1893" width="1.6" height="2.2" fill="#000"/>
<rect x="654.7" y="1877.9" width="1.6" height="2.2" fill="#000"/>
<rect x="654.7" y="1862.8" width="1.6" height="2.2" fill="#000"/>
<rect x="654.7" y="1847.7" width="1.6" height="2.2" fill="#000"/>
<rect x="654.7" y="1832.5" width="1.6" height="2.2" fill="#000"/>
<rect x="654.7" y="1817.4" width="1.6" height="2.2" fill="#000"/>
<rect x="654.7" y="1802.3" width="1.6" height="2.2" fill="#000"/>
<rect x="654.7" y="1787.2" width="1.6" height="2.2" fill="#000"/>
<rect x="654.7" y="1772.1" width="1.6" height="2.2" fill="#000"/>
<rect x="654.7" y="1756.9" width="1.6" height="2.2" fill="#000"/>
<rect x="654.7" y="1741.8" width="1.6" height="2.2" fill="#000"/>
<rect x="654.7" y="1726.7" width="1.6" height="2.2" fill="#000"/>
<rect x="654.7" y="1711.6" width="1.6" height="2.2" fill="#000"/>
<rect x="654.7" y="1696.5" width="1.6" height="2.2" fill="#000"/>
<rect x="654.7" y="1681.3" width="1.6" height="2.2" fill="#000"/>
<rect x="654.7" y="1666.2" width="1.6" height="2.2" fill="#000"/>
<rect x="654.7" y="1651.1" width="1.6" height="2.2" fill="#000"/>
<rect x="654.7" y="1636" width="1.6" height="2.2" fill="#000"/>
<rect x="654.7" y="1620.9" width="1.6" height="2.2" fill="#000"/>
<text x="638.6" y="1921.4" font-size="16" text-anchor="end" fill="#111" stroke="#111" stroke-width="0.45" textLength="8.6" lengthAdjust="spacingAndGlyphs">0</text>
<text x="638.6" y="1891.2" font-size="16" text-anchor="end" fill="#111" stroke="#111" stroke-width="0.45" textLength="8.6" lengthAdjust="spacingAndGlyphs">2</text>
<text x="638.6" y="1860.9" font-size="16" text-anchor="end" fill="#111" stroke="#111" stroke-width="0.45" textLength="8.6" lengthAdjust="spacingAndGlyphs">4</text>
<text x="638.6" y="1830.7" font-size="16" text-anchor="end" fill="#111" stroke="#111" stroke-width="0.45" textLength="8.6" lengthAdjust="spacingAndGlyphs">6</text>
<text x="638.6" y="1800.4" font-size="16" text-anchor="end" fill="#111" stroke="#111" stroke-width="0.45" textLength="8.6" lengthAdjust="spacingAndGlyphs">8</text>
<text x="638.6" y="1770.2" font-size="16" text-anchor="end" fill="#111" stroke="#111" stroke-width="0.45" textLength="17.4" lengthAdjust="spacingAndGlyphs">10</text>
<text x="638.6" y="1740" font-size="16" text-anchor="end" fill="#111" stroke="#111" stroke-width="0.45" textLength="17.4" lengthAdjust="spacingAndGlyphs">12</text>
<text x="638.6" y="1709.7" font-size="16" text-anchor="end" fill="#111" stroke="#111" stroke-width="0.45" textLength="17.4" lengthAdjust="spacingAndGlyphs">14</text>
<text x="638.6" y="1679.5" font-size="16" text-anchor="end" fill="#111" stroke="#111" stroke-width="0.45" textLength="17.4" lengthAdjust="spacingAndGlyphs">16</text>
<text x="638.6" y="1649.2" font-size="16" text-anchor="end" fill="#111" stroke="#111" stroke-width="0.45" textLength="17.4" lengthAdjust="spacingAndGlyphs">18</text>
<text x="638.6" y="1619" font-size="16" text-anchor="end" fill="#111" stroke="#111" stroke-width="0.45" textLength="17.4" lengthAdjust="spacingAndGlyphs">20</text>
<text x="614.5" y="1757.5" font-size="20.5" text-anchor="middle" fill="#111" stroke="#111" stroke-width="0.4" transform="rotate(-90 614.5 1757.5)" textLength="116" lengthAdjust="spacingAndGlyphs">Intensity(%)</text>
<text x="661" y="1942.5" font-size="15" text-anchor="middle" fill="#111" stroke="#111" stroke-width="0.5" textLength="12.5" lengthAdjust="spacingAndGlyphs">10</text>
<text x="863.4" y="1942.5" font-size="15" text-anchor="middle" fill="#111" stroke="#111" stroke-width="0.5" textLength="18" lengthAdjust="spacingAndGlyphs">100</text>
<text x="1066.2" y="1942.5" font-size="15" text-anchor="middle" fill="#111" stroke="#111" stroke-width="0.5" textLength="23.5" lengthAdjust="spacingAndGlyphs">1000</text>
<text x="876.9" y="1969.8" font-size="20.5" text-anchor="middle" fill="#111" stroke="#111" stroke-width="0.4" textLength="180.5" lengthAdjust="spacingAndGlyphs">2-P3 Diameter(nm)</text>
<rect x="671.4" y="1622.2" width="179.1" height="21" fill="#fff" stroke="#000" stroke-width="2.6"/>
<rect x="670.1" y="1620.9" width="35.3" height="23.6" fill="#000"/>
<rect x="674.8" y="1626.9" width="26.9" height="10.8" fill="#fbb96f"/>
<text x="712.6" y="1638" font-size="14.2" text-anchor="start" fill="#111" stroke="#111" stroke-width="0.42" textLength="132.7" lengthAdjust="spacingAndGlyphs">Diameter=117.60nm</text>
<rect x="1347.8" y="1914.3" width="11.7" height="10.1" fill="#fbb96f" stroke="#000" stroke-width="2.6"/>
<rect x="1361.3" y="1864.6" width="11.7" height="59.8" fill="#fbb96f" stroke="#000" stroke-width="2.6"/>
<rect x="1374.9" y="1783.3" width="11.7" height="141.1" fill="#fbb96f" stroke="#000" stroke-width="2.6"/>
<rect x="1388.5" y="1698.9" width="11.7" height="225.5" fill="#fbb96f" stroke="#000" stroke-width="2.6"/>
<rect x="1402" y="1642.1" width="11.7" height="282.3" fill="#fbb96f" stroke="#000" stroke-width="2.6"/>
<rect x="1415.5" y="1634.5" width="11.7" height="289.9" fill="#fbb96f" stroke="#000" stroke-width="2.6"/>
<rect x="1429.1" y="1677.4" width="11.7" height="247" fill="#fbb96f" stroke="#000" stroke-width="2.6"/>
<rect x="1442.6" y="1757.2" width="11.7" height="167.2" fill="#fbb96f" stroke="#000" stroke-width="2.6"/>
<rect x="1456.2" y="1844.6" width="11.7" height="79.8" fill="#fbb96f" stroke="#000" stroke-width="2.6"/>
<rect x="1469.8" y="1906" width="11.7" height="18.4" fill="#fbb96f" stroke="#000" stroke-width="2.6"/>
<rect x="1186.4" y="1920.5" width="423.5" height="7.6" fill="#000"/>
<rect x="1602.9" y="1919.7" width="7" height="10" fill="#000"/>
<rect x="1186.4" y="1920.1" width="8" height="10" fill="#000"/>
<rect x="1398.9" y="1920.1" width="6" height="10.5" fill="#000"/>
<rect x="1190.5" y="1613.3" width="3.8" height="312.8" fill="#000"/>
<rect x="1186.3" y="1920.6" width="8" height="7" fill="#000"/>
<rect x="1188.3" y="1906.3" width="3.4" height="5" fill="#000"/>
<rect x="1186.3" y="1889.9" width="8" height="7" fill="#000"/>
<rect x="1188.3" y="1875.6" width="3.4" height="5" fill="#000"/>
<rect x="1186.3" y="1859.2" width="8" height="7" fill="#000"/>
<rect x="1188.3" y="1844.9" width="3.4" height="5" fill="#000"/>
<rect x="1186.3" y="1828.6" width="8" height="7" fill="#000"/>
<rect x="1188.3" y="1814.2" width="3.4" height="5" fill="#000"/>
<rect x="1186.3" y="1797.9" width="8" height="7" fill="#000"/>
<rect x="1188.3" y="1783.5" width="3.4" height="5" fill="#000"/>
<rect x="1186.3" y="1767.2" width="8" height="7" fill="#000"/>
<rect x="1188.3" y="1752.9" width="3.4" height="5" fill="#000"/>
<rect x="1186.3" y="1736.5" width="8" height="7" fill="#000"/>
<rect x="1188.3" y="1722.2" width="3.4" height="5" fill="#000"/>
<rect x="1186.3" y="1705.8" width="8" height="7" fill="#000"/>
<rect x="1188.3" y="1691.5" width="3.4" height="5" fill="#000"/>
<rect x="1186.3" y="1675.2" width="8" height="7" fill="#000"/>
<rect x="1188.3" y="1660.8" width="3.4" height="5" fill="#000"/>
<rect x="1186.3" y="1644.5" width="8" height="7" fill="#000"/>
<rect x="1188.3" y="1630.1" width="3.4" height="5" fill="#000"/>
<rect x="1186.3" y="1613.8" width="8" height="7" fill="#000"/>
<rect x="1189.3" y="1915.3" width="1.6" height="2.2" fill="#000"/>
<rect x="1189.3" y="1900" width="1.6" height="2.2" fill="#000"/>
<rect x="1189.3" y="1884.7" width="1.6" height="2.2" fill="#000"/>
<rect x="1189.3" y="1869.3" width="1.6" height="2.2" fill="#000"/>
<rect x="1189.3" y="1854" width="1.6" height="2.2" fill="#000"/>
<rect x="1189.3" y="1838.6" width="1.6" height="2.2" fill="#000"/>
<rect x="1189.3" y="1823.3" width="1.6" height="2.2" fill="#000"/>
<rect x="1189.3" y="1808" width="1.6" height="2.2" fill="#000"/>
<rect x="1189.3" y="1792.6" width="1.6" height="2.2" fill="#000"/>
<rect x="1189.3" y="1777.3" width="1.6" height="2.2" fill="#000"/>
<rect x="1189.3" y="1761.9" width="1.6" height="2.2" fill="#000"/>
<rect x="1189.3" y="1746.6" width="1.6" height="2.2" fill="#000"/>
<rect x="1189.3" y="1731.2" width="1.6" height="2.2" fill="#000"/>
<rect x="1189.3" y="1715.9" width="1.6" height="2.2" fill="#000"/>
<rect x="1189.3" y="1700.6" width="1.6" height="2.2" fill="#000"/>
<rect x="1189.3" y="1685.2" width="1.6" height="2.2" fill="#000"/>
<rect x="1189.3" y="1669.9" width="1.6" height="2.2" fill="#000"/>
<rect x="1189.3" y="1654.5" width="1.6" height="2.2" fill="#000"/>
<rect x="1189.3" y="1639.2" width="1.6" height="2.2" fill="#000"/>
<rect x="1189.3" y="1623.9" width="1.6" height="2.2" fill="#000"/>
<text x="1171.7" y="1928.7" font-size="16" text-anchor="end" fill="#111" stroke="#111" stroke-width="0.45" textLength="8.6" lengthAdjust="spacingAndGlyphs">0</text>
<text x="1171.7" y="1898" font-size="16" text-anchor="end" fill="#111" stroke="#111" stroke-width="0.45" textLength="8.6" lengthAdjust="spacingAndGlyphs">2</text>
<text x="1171.7" y="1867.3" font-size="16" text-anchor="end" fill="#111" stroke="#111" stroke-width="0.45" textLength="8.6" lengthAdjust="spacingAndGlyphs">4</text>
<text x="1171.7" y="1836.7" font-size="16" text-anchor="end" fill="#111" stroke="#111" stroke-width="0.45" textLength="8.6" lengthAdjust="spacingAndGlyphs">6</text>
<text x="1171.7" y="1806" font-size="16" text-anchor="end" fill="#111" stroke="#111" stroke-width="0.45" textLength="8.6" lengthAdjust="spacingAndGlyphs">8</text>
<text x="1171.7" y="1775.3" font-size="16" text-anchor="end" fill="#111" stroke="#111" stroke-width="0.45" textLength="17.4" lengthAdjust="spacingAndGlyphs">10</text>
<text x="1171.7" y="1744.6" font-size="16" text-anchor="end" fill="#111" stroke="#111" stroke-width="0.45" textLength="17.4" lengthAdjust="spacingAndGlyphs">12</text>
<text x="1171.7" y="1713.9" font-size="16" text-anchor="end" fill="#111" stroke="#111" stroke-width="0.45" textLength="17.4" lengthAdjust="spacingAndGlyphs">14</text>
<text x="1171.7" y="1683.3" font-size="16" text-anchor="end" fill="#111" stroke="#111" stroke-width="0.45" textLength="17.4" lengthAdjust="spacingAndGlyphs">16</text>
<text x="1171.7" y="1652.6" font-size="16" text-anchor="end" fill="#111" stroke="#111" stroke-width="0.45" textLength="17.4" lengthAdjust="spacingAndGlyphs">18</text>
<text x="1171.7" y="1621.9" font-size="16" text-anchor="end" fill="#111" stroke="#111" stroke-width="0.45" textLength="17.4" lengthAdjust="spacingAndGlyphs">20</text>
<text x="1148.4" y="1763.5" font-size="20.5" text-anchor="middle" fill="#111" stroke="#111" stroke-width="0.4" transform="rotate(-90 1148.4 1763.5)" textLength="116" lengthAdjust="spacingAndGlyphs">Intensity(%)</text>
<text x="1195.6" y="1949.8" font-size="15" text-anchor="middle" fill="#111" stroke="#111" stroke-width="0.5" textLength="12.5" lengthAdjust="spacingAndGlyphs">10</text>
<text x="1401" y="1949.8" font-size="15" text-anchor="middle" fill="#111" stroke="#111" stroke-width="0.5" textLength="18" lengthAdjust="spacingAndGlyphs">100</text>
<text x="1607.4" y="1949.8" font-size="15" text-anchor="middle" fill="#111" stroke="#111" stroke-width="0.5" textLength="23.5" lengthAdjust="spacingAndGlyphs">1000</text>
<text x="1414" y="1975.9" font-size="20.5" text-anchor="middle" fill="#111" stroke="#111" stroke-width="0.4" textLength="180.5" lengthAdjust="spacingAndGlyphs">3-P3 Diameter(nm)</text>
<rect x="1206" y="1625.8" width="179.1" height="20.3" fill="#fff" stroke="#000" stroke-width="2.6"/>
<rect x="1204.7" y="1624.5" width="35.6" height="22.9" fill="#000"/>
<rect x="1209.4" y="1630.5" width="27.3" height="10.1" fill="#fbb96f"/>
<text x="1248.3" y="1640.9" font-size="14.2" text-anchor="start" fill="#111" stroke="#111" stroke-width="0.42" textLength="131.6" lengthAdjust="spacingAndGlyphs">Diameter=119.60nm</text>
<rect x="289.1" y="2274.4" width="11.7" height="30.7" fill="#fbb96f" stroke="#000" stroke-width="2.6"/>
<rect x="302.7" y="2202.4" width="11.7" height="102.7" fill="#fbb96f" stroke="#000" stroke-width="2.6"/>
<rect x="316.3" y="2113.4" width="11.7" height="191.7" fill="#fbb96f" stroke="#000" stroke-width="2.6"/>
<rect x="329.9" y="2041.3" width="11.7" height="263.8" fill="#fbb96f" stroke="#000" stroke-width="2.6"/>
<rect x="343.5" y="2010.7" width="11.7" height="294.4" fill="#fbb96f" stroke="#000" stroke-width="2.6"/>
<rect x="357.1" y="2032.9" width="11.7" height="272.2" fill="#fbb96f" stroke="#000" stroke-width="2.6"/>
<rect x="370.6" y="2099.6" width="11.7" height="205.5" fill="#fbb96f" stroke="#000" stroke-width="2.6"/>
<rect x="384.2" y="2187" width="11.7" height="118.1" fill="#fbb96f" stroke="#000" stroke-width="2.6"/>
<rect x="397.8" y="2263.7" width="11.7" height="41.4" fill="#fbb96f" stroke="#000" stroke-width="2.6"/>
<rect x="128.1" y="2301.3" width="423.6" height="7.6" fill="#000"/>
<rect x="544.7" y="2300.5" width="7" height="10" fill="#000"/>
<rect x="128.1" y="2300.9" width="8" height="10" fill="#000"/>
<rect x="340.7" y="2300.9" width="6" height="10.5" fill="#000"/>
<rect x="132.2" y="1994.1" width="3.8" height="312.7" fill="#000"/>
<rect x="128" y="2301.3" width="8" height="7" fill="#000"/>
<rect x="130" y="2287" width="3.4" height="5" fill="#000"/>
<rect x="128" y="2270.6" width="8" height="7" fill="#000"/>
<rect x="130" y="2256.3" width="3.4" height="5" fill="#000"/>
<rect x="128" y="2240" width="8" height="7" fill="#000"/>
<rect x="130" y="2225.6" width="3.4" height="5" fill="#000"/>
<rect x="128" y="2209.3" width="8" height="7" fill="#000"/>
<rect x="130" y="2195" width="3.4" height="5" fill="#000"/>
<rect x="128" y="2178.6" width="8" height="7" fill="#000"/>
<rect x="130" y="2164.3" width="3.4" height="5" fill="#000"/>
<rect x="128" y="2147.9" width="8" height="7" fill="#000"/>
<rect x="130" y="2133.6" width="3.4" height="5" fill="#000"/>
<rect x="128" y="2117.3" width="8" height="7" fill="#000"/>
<rect x="130" y="2102.9" width="3.4" height="5" fill="#000"/>
<rect x="128" y="2086.6" width="8" height="7" fill="#000"/>
<rect x="130" y="2072.3" width="3.4" height="5" fill="#000"/>
<rect x="128" y="2055.9" width="8" height="7" fill="#000"/>
<rect x="130" y="2041.6" width="3.4" height="5" fill="#000"/>
<rect x="128" y="2025.3" width="8" height="7" fill="#000"/>
<rect x="130" y="2010.9" width="3.4" height="5" fill="#000"/>
<rect x="128" y="1994.6" width="8" height="7" fill="#000"/>
<rect x="131" y="2296" width="1.6" height="2.2" fill="#000"/>
<rect x="131" y="2280.7" width="1.6" height="2.2" fill="#000"/>
<rect x="131" y="2265.4" width="1.6" height="2.2" fill="#000"/>
<rect x="131" y="2250" width="1.6" height="2.2" fill="#000"/>
<rect x="131" y="2234.7" width="1.6" height="2.2" fill="#000"/>
<rect x="131" y="2219.4" width="1.6" height="2.2" fill="#000"/>
<rect x="131" y="2204" width="1.6" height="2.2" fill="#000"/>
<rect x="131" y="2188.7" width="1.6" height="2.2" fill="#000"/>
<rect x="131" y="2173.4" width="1.6" height="2.2" fill="#000"/>
<rect x="131" y="2158" width="1.6" height="2.2" fill="#000"/>
<rect x="131" y="2142.7" width="1.6" height="2.2" fill="#000"/>
<rect x="131" y="2127.3" width="1.6" height="2.2" fill="#000"/>
<rect x="131" y="2112" width="1.6" height="2.2" fill="#000"/>
<rect x="131" y="2096.7" width="1.6" height="2.2" fill="#000"/>
<rect x="131" y="2081.3" width="1.6" height="2.2" fill="#000"/>
<rect x="131" y="2066" width="1.6" height="2.2" fill="#000"/>
<rect x="131" y="2050.7" width="1.6" height="2.2" fill="#000"/>
<rect x="131" y="2035.3" width="1.6" height="2.2" fill="#000"/>
<rect x="131" y="2020" width="1.6" height="2.2" fill="#000"/>
<rect x="131" y="2004.7" width="1.6" height="2.2" fill="#000"/>
<text x="117.8" y="2309.4" font-size="16" text-anchor="end" fill="#111" stroke="#111" stroke-width="0.45" textLength="8.6" lengthAdjust="spacingAndGlyphs">0</text>
<text x="117.8" y="2278.7" font-size="16" text-anchor="end" fill="#111" stroke="#111" stroke-width="0.45" textLength="8.6" lengthAdjust="spacingAndGlyphs">2</text>
<text x="117.8" y="2248.1" font-size="16" text-anchor="end" fill="#111" stroke="#111" stroke-width="0.45" textLength="8.6" lengthAdjust="spacingAndGlyphs">4</text>
<text x="117.8" y="2217.4" font-size="16" text-anchor="end" fill="#111" stroke="#111" stroke-width="0.45" textLength="8.6" lengthAdjust="spacingAndGlyphs">6</text>
<text x="117.8" y="2186.7" font-size="16" text-anchor="end" fill="#111" stroke="#111" stroke-width="0.45" textLength="8.6" lengthAdjust="spacingAndGlyphs">8</text>
<text x="117.8" y="2156" font-size="16" text-anchor="end" fill="#111" stroke="#111" stroke-width="0.45" textLength="17.4" lengthAdjust="spacingAndGlyphs">10</text>
<text x="117.8" y="2125.4" font-size="16" text-anchor="end" fill="#111" stroke="#111" stroke-width="0.45" textLength="17.4" lengthAdjust="spacingAndGlyphs">12</text>
<text x="117.8" y="2094.7" font-size="16" text-anchor="end" fill="#111" stroke="#111" stroke-width="0.45" textLength="17.4" lengthAdjust="spacingAndGlyphs">14</text>
<text x="117.8" y="2064" font-size="16" text-anchor="end" fill="#111" stroke="#111" stroke-width="0.45" textLength="17.4" lengthAdjust="spacingAndGlyphs">16</text>
<text x="117.8" y="2033.4" font-size="16" text-anchor="end" fill="#111" stroke="#111" stroke-width="0.45" textLength="17.4" lengthAdjust="spacingAndGlyphs">18</text>
<text x="117.8" y="2002.7" font-size="16" text-anchor="end" fill="#111" stroke="#111" stroke-width="0.45" textLength="17.4" lengthAdjust="spacingAndGlyphs">20</text>
<text x="95.2" y="2144" font-size="20.5" text-anchor="middle" fill="#111" stroke="#111" stroke-width="0.4" transform="rotate(-90 95.2 2144)" textLength="116" lengthAdjust="spacingAndGlyphs">Intensity(%)</text>
<text x="137" y="2330.5" font-size="15" text-anchor="middle" fill="#111" stroke="#111" stroke-width="0.5" textLength="12.5" lengthAdjust="spacingAndGlyphs">10</text>
<text x="343.4" y="2330.5" font-size="15" text-anchor="middle" fill="#111" stroke="#111" stroke-width="0.5" textLength="18" lengthAdjust="spacingAndGlyphs">100</text>
<text x="549.5" y="2330.5" font-size="15" text-anchor="middle" fill="#111" stroke="#111" stroke-width="0.5" textLength="23.5" lengthAdjust="spacingAndGlyphs">1000</text>
<text x="355.8" y="2357" font-size="20.5" text-anchor="middle" fill="#111" stroke="#111" stroke-width="0.4" textLength="180.5" lengthAdjust="spacingAndGlyphs">1-P4 Diameter(nm)</text>
<rect x="146.7" y="2005.8" width="179.1" height="20.3" fill="#fff" stroke="#000" stroke-width="2.6"/>
<rect x="145.4" y="2004.5" width="35.2" height="22.9" fill="#000"/>
<rect x="150" y="2010.5" width="27.3" height="10.1" fill="#fbb96f"/>
<text x="188.2" y="2020.9" font-size="14.2" text-anchor="start" fill="#111" stroke="#111" stroke-width="0.42" textLength="132.3" lengthAdjust="spacingAndGlyphs">Diameter=107.70nm</text>
<rect x="797.5" y="2290.5" width="11.7" height="14.6" fill="#fbb96f" stroke="#000" stroke-width="2.6"/>
<rect x="811" y="2249.9" width="11.7" height="55.2" fill="#fbb96f" stroke="#000" stroke-width="2.6"/>
<rect x="824.6" y="2190.1" width="11.7" height="115" fill="#fbb96f" stroke="#000" stroke-width="2.6"/>
<rect x="838.1" y="2124.1" width="11.7" height="181" fill="#fbb96f" stroke="#000" stroke-width="2.6"/>
<rect x="851.7" y="2072.8" width="11.7" height="232.3" fill="#fbb96f" stroke="#000" stroke-width="2.6"/>
<rect x="865.2" y="2049" width="11.7" height="256.1" fill="#fbb96f" stroke="#000" stroke-width="2.6"/>
<rect x="878.8" y="2059.7" width="11.7" height="245.4" fill="#fbb96f" stroke="#000" stroke-width="2.6"/>
<rect x="892.4" y="2105.7" width="11.7" height="199.4" fill="#fbb96f" stroke="#000" stroke-width="2.6"/>
<rect x="905.9" y="2170.2" width="11.7" height="134.9" fill="#fbb96f" stroke="#000" stroke-width="2.6"/>
<rect x="919.5" y="2236.9" width="11.7" height="68.2" fill="#fbb96f" stroke="#000" stroke-width="2.6"/>
<rect x="933" y="2286.7" width="11.7" height="18.4" fill="#fbb96f" stroke="#000" stroke-width="2.6"/>
<rect x="649.3" y="2301.3" width="423.1" height="7.6" fill="#000"/>
<rect x="1065.4" y="2300.5" width="7" height="10" fill="#000"/>
<rect x="649.3" y="2300.9" width="8" height="10" fill="#000"/>
<rect x="861.6" y="2300.9" width="6" height="10.5" fill="#000"/>
<rect x="653.4" y="1994.1" width="3.8" height="312.7" fill="#000"/>
<rect x="649.2" y="2301.3" width="8" height="7" fill="#000"/>
<rect x="651.2" y="2287" width="3.4" height="5" fill="#000"/>
<rect x="649.2" y="2270.6" width="8" height="7" fill="#000"/>
<rect x="651.2" y="2256.3" width="3.4" height="5" fill="#000"/>
<rect x="649.2" y="2240" width="8" height="7" fill="#000"/>
<rect x="651.2" y="2225.6" width="3.4" height="5" fill="#000"/>
<rect x="649.2" y="2209.3" width="8" height="7" fill="#000"/>
<rect x="651.2" y="2195" width="3.4" height="5" fill="#000"/>
<rect x="649.2" y="2178.6" width="8" height="7" fill="#000"/>
<rect x="651.2" y="2164.3" width="3.4" height="5" fill="#000"/>
<rect x="649.2" y="2147.9" width="8" height="7" fill="#000"/>
<rect x="651.2" y="2133.6" width="3.4" height="5" fill="#000"/>
<rect x="649.2" y="2117.3" width="8" height="7" fill="#000"/>
<rect x="651.2" y="2102.9" width="3.4" height="5" fill="#000"/>
<rect x="649.2" y="2086.6" width="8" height="7" fill="#000"/>
<rect x="651.2" y="2072.3" width="3.4" height="5" fill="#000"/>
<rect x="649.2" y="2055.9" width="8" height="7" fill="#000"/>
<rect x="651.2" y="2041.6" width="3.4" height="5" fill="#000"/>
<rect x="649.2" y="2025.3" width="8" height="7" fill="#000"/>
<rect x="651.2" y="2010.9" width="3.4" height="5" fill="#000"/>
<rect x="649.2" y="1994.6" width="8" height="7" fill="#000"/>
<rect x="652.2" y="2296" width="1.6" height="2.2" fill="#000"/>
<rect x="652.2" y="2280.7" width="1.6" height="2.2" fill="#000"/>
<rect x="652.2" y="2265.4" width="1.6" height="2.2" fill="#000"/>
<rect x="652.2" y="2250" width="1.6" height="2.2" fill="#000"/>
<rect x="652.2" y="2234.7" width="1.6" height="2.2" fill="#000"/>
<rect x="652.2" y="2219.4" width="1.6" height="2.2" fill="#000"/>
<rect x="652.2" y="2204" width="1.6" height="2.2" fill="#000"/>
<rect x="652.2" y="2188.7" width="1.6" height="2.2" fill="#000"/>
<rect x="652.2" y="2173.4" width="1.6" height="2.2" fill="#000"/>
<rect x="652.2" y="2158" width="1.6" height="2.2" fill="#000"/>
<rect x="652.2" y="2142.7" width="1.6" height="2.2" fill="#000"/>
<rect x="652.2" y="2127.3" width="1.6" height="2.2" fill="#000"/>
<rect x="652.2" y="2112" width="1.6" height="2.2" fill="#000"/>
<rect x="652.2" y="2096.7" width="1.6" height="2.2" fill="#000"/>
<rect x="652.2" y="2081.3" width="1.6" height="2.2" fill="#000"/>
<rect x="652.2" y="2066" width="1.6" height="2.2" fill="#000"/>
<rect x="652.2" y="2050.7" width="1.6" height="2.2" fill="#000"/>
<rect x="652.2" y="2035.3" width="1.6" height="2.2" fill="#000"/>
<rect x="652.2" y="2020" width="1.6" height="2.2" fill="#000"/>
<rect x="652.2" y="2004.7" width="1.6" height="2.2" fill="#000"/>
<text x="636" y="2309.4" font-size="16" text-anchor="end" fill="#111" stroke="#111" stroke-width="0.45" textLength="8.6" lengthAdjust="spacingAndGlyphs">0</text>
<text x="636" y="2278.7" font-size="16" text-anchor="end" fill="#111" stroke="#111" stroke-width="0.45" textLength="8.6" lengthAdjust="spacingAndGlyphs">2</text>
<text x="636" y="2248.1" font-size="16" text-anchor="end" fill="#111" stroke="#111" stroke-width="0.45" textLength="8.6" lengthAdjust="spacingAndGlyphs">4</text>
<text x="636" y="2217.4" font-size="16" text-anchor="end" fill="#111" stroke="#111" stroke-width="0.45" textLength="8.6" lengthAdjust="spacingAndGlyphs">6</text>
<text x="636" y="2186.7" font-size="16" text-anchor="end" fill="#111" stroke="#111" stroke-width="0.45" textLength="8.6" lengthAdjust="spacingAndGlyphs">8</text>
<text x="636" y="2156" font-size="16" text-anchor="end" fill="#111" stroke="#111" stroke-width="0.45" textLength="17.4" lengthAdjust="spacingAndGlyphs">10</text>
<text x="636" y="2125.4" font-size="16" text-anchor="end" fill="#111" stroke="#111" stroke-width="0.45" textLength="17.4" lengthAdjust="spacingAndGlyphs">12</text>
<text x="636" y="2094.7" font-size="16" text-anchor="end" fill="#111" stroke="#111" stroke-width="0.45" textLength="17.4" lengthAdjust="spacingAndGlyphs">14</text>
<text x="636" y="2064" font-size="16" text-anchor="end" fill="#111" stroke="#111" stroke-width="0.45" textLength="17.4" lengthAdjust="spacingAndGlyphs">16</text>
<text x="636" y="2033.4" font-size="16" text-anchor="end" fill="#111" stroke="#111" stroke-width="0.45" textLength="17.4" lengthAdjust="spacingAndGlyphs">18</text>
<text x="636" y="2002.7" font-size="16" text-anchor="end" fill="#111" stroke="#111" stroke-width="0.45" textLength="17.4" lengthAdjust="spacingAndGlyphs">20</text>
<text x="612.7" y="2144" font-size="20.5" text-anchor="middle" fill="#111" stroke="#111" stroke-width="0.4" transform="rotate(-90 612.7 2144)" textLength="116" lengthAdjust="spacingAndGlyphs">Intensity(%)</text>
<text x="658.8" y="2330.5" font-size="15" text-anchor="middle" fill="#111" stroke="#111" stroke-width="0.5" textLength="12.5" lengthAdjust="spacingAndGlyphs">10</text>
<text x="864.5" y="2330.5" font-size="15" text-anchor="middle" fill="#111" stroke="#111" stroke-width="0.5" textLength="18" lengthAdjust="spacingAndGlyphs">100</text>
<text x="1070.6" y="2330.5" font-size="15" text-anchor="middle" fill="#111" stroke="#111" stroke-width="0.5" textLength="23.5" lengthAdjust="spacingAndGlyphs">1000</text>
<text x="876.9" y="2357" font-size="20.5" text-anchor="middle" fill="#111" stroke="#111" stroke-width="0.4" textLength="180.5" lengthAdjust="spacingAndGlyphs">2-P4 Diameter(nm)</text>
<rect x="667.8" y="2005.8" width="179.8" height="20.3" fill="#fff" stroke="#000" stroke-width="2.6"/>
<rect x="666.5" y="2004.5" width="35.2" height="22.9" fill="#000"/>
<rect x="671.2" y="2010.5" width="27.6" height="10.1" fill="#fbb96f"/>
<text x="709.7" y="2020.9" font-size="14.2" text-anchor="start" fill="#111" stroke="#111" stroke-width="0.42" textLength="131.9" lengthAdjust="spacingAndGlyphs">Diameter=106.10nm</text>
<rect x="1333.2" y="2286.3" width="11.7" height="20.7" fill="#fbb96f" stroke="#000" stroke-width="2.6"/>
<rect x="1346.8" y="2241.7" width="11.7" height="65.3" fill="#fbb96f" stroke="#000" stroke-width="2.6"/>
<rect x="1360.4" y="2184.3" width="11.7" height="122.7" fill="#fbb96f" stroke="#000" stroke-width="2.6"/>
<rect x="1374" y="2126" width="11.7" height="181" fill="#fbb96f" stroke="#000" stroke-width="2.6"/>
<rect x="1387.6" y="2083" width="11.7" height="224" fill="#fbb96f" stroke="#000" stroke-width="2.6"/>
<rect x="1401.2" y="2064.6" width="11.7" height="242.4" fill="#fbb96f" stroke="#000" stroke-width="2.6"/>
<rect x="1414.7" y="2077.5" width="11.7" height="229.5" fill="#fbb96f" stroke="#000" stroke-width="2.6"/>
<rect x="1428.3" y="2118.9" width="11.7" height="188.1" fill="#fbb96f" stroke="#000" stroke-width="2.6"/>
<rect x="1441.9" y="2177.4" width="11.7" height="129.6" fill="#fbb96f" stroke="#000" stroke-width="2.6"/>
<rect x="1455.5" y="2238.7" width="11.7" height="68.3" fill="#fbb96f" stroke="#000" stroke-width="2.6"/>
<rect x="1469.1" y="2286.3" width="11.7" height="20.7" fill="#fbb96f" stroke="#000" stroke-width="2.6"/>
<rect x="1185" y="2304.9" width="423.8" height="7.6" fill="#000"/>
<rect x="1601.8" y="2304.1" width="7" height="10" fill="#000"/>
<rect x="1185" y="2304.5" width="8" height="10" fill="#000"/>
<rect x="1397.7" y="2304.5" width="6" height="10.5" fill="#000"/>
<rect x="1189.1" y="1995.9" width="3.8" height="312.8" fill="#000"/>
<rect x="1184.9" y="2303.2" width="8" height="7" fill="#000"/>
<rect x="1186.9" y="2288.9" width="3.4" height="5" fill="#000"/>
<rect x="1184.9" y="2272.5" width="8" height="7" fill="#000"/>
<rect x="1186.9" y="2258.2" width="3.4" height="5" fill="#000"/>
<rect x="1184.9" y="2241.8" width="8" height="7" fill="#000"/>
<rect x="1186.9" y="2227.5" width="3.4" height="5" fill="#000"/>
<rect x="1184.9" y="2211.2" width="8" height="7" fill="#000"/>
<rect x="1186.9" y="2196.8" width="3.4" height="5" fill="#000"/>
<rect x="1184.9" y="2180.5" width="8" height="7" fill="#000"/>
<rect x="1186.9" y="2166.1" width="3.4" height="5" fill="#000"/>
<rect x="1184.9" y="2149.8" width="8" height="7" fill="#000"/>
<rect x="1186.9" y="2135.5" width="3.4" height="5" fill="#000"/>
<rect x="1184.9" y="2119.1" width="8" height="7" fill="#000"/>
<rect x="1186.9" y="2104.8" width="3.4" height="5" fill="#000"/>
<rect x="1184.9" y="2088.4" width="8" height="7" fill="#000"/>
<rect x="1186.9" y="2074.1" width="3.4" height="5" fill="#000"/>
<rect x="1184.9" y="2057.8" width="8" height="7" fill="#000"/>
<rect x="1186.9" y="2043.4" width="3.4" height="5" fill="#000"/>
<rect x="1184.9" y="2027.1" width="8" height="7" fill="#000"/>
<rect x="1186.9" y="2012.7" width="3.4" height="5" fill="#000"/>
<rect x="1184.9" y="1996.4" width="8" height="7" fill="#000"/>
<rect x="1187.9" y="2297.9" width="1.6" height="2.2" fill="#000"/>
<rect x="1187.9" y="2282.6" width="1.6" height="2.2" fill="#000"/>
<rect x="1187.9" y="2267.2" width="1.6" height="2.2" fill="#000"/>
<rect x="1187.9" y="2251.9" width="1.6" height="2.2" fill="#000"/>
<rect x="1187.9" y="2236.6" width="1.6" height="2.2" fill="#000"/>
<rect x="1187.9" y="2221.2" width="1.6" height="2.2" fill="#000"/>
<rect x="1187.9" y="2205.9" width="1.6" height="2.2" fill="#000"/>
<rect x="1187.9" y="2190.5" width="1.6" height="2.2" fill="#000"/>
<rect x="1187.9" y="2175.2" width="1.6" height="2.2" fill="#000"/>
<rect x="1187.9" y="2159.9" width="1.6" height="2.2" fill="#000"/>
<rect x="1187.9" y="2144.5" width="1.6" height="2.2" fill="#000"/>
<rect x="1187.9" y="2129.2" width="1.6" height="2.2" fill="#000"/>
<rect x="1187.9" y="2113.8" width="1.6" height="2.2" fill="#000"/>
<rect x="1187.9" y="2098.5" width="1.6" height="2.2" fill="#000"/>
<rect x="1187.9" y="2083.2" width="1.6" height="2.2" fill="#000"/>
<rect x="1187.9" y="2067.8" width="1.6" height="2.2" fill="#000"/>
<rect x="1187.9" y="2052.5" width="1.6" height="2.2" fill="#000"/>
<rect x="1187.9" y="2037.1" width="1.6" height="2.2" fill="#000"/>
<rect x="1187.9" y="2021.8" width="1.6" height="2.2" fill="#000"/>
<rect x="1187.9" y="2006.5" width="1.6" height="2.2" fill="#000"/>
<text x="1168.8" y="2311.3" font-size="16" text-anchor="end" fill="#111" stroke="#111" stroke-width="0.45" textLength="8.6" lengthAdjust="spacingAndGlyphs">0</text>
<text x="1168.8" y="2280.6" font-size="16" text-anchor="end" fill="#111" stroke="#111" stroke-width="0.45" textLength="8.6" lengthAdjust="spacingAndGlyphs">2</text>
<text x="1168.8" y="2249.9" font-size="16" text-anchor="end" fill="#111" stroke="#111" stroke-width="0.45" textLength="8.6" lengthAdjust="spacingAndGlyphs">4</text>
<text x="1168.8" y="2219.3" font-size="16" text-anchor="end" fill="#111" stroke="#111" stroke-width="0.45" textLength="8.6" lengthAdjust="spacingAndGlyphs">6</text>
<text x="1168.8" y="2188.6" font-size="16" text-anchor="end" fill="#111" stroke="#111" stroke-width="0.45" textLength="8.6" lengthAdjust="spacingAndGlyphs">8</text>
<text x="1168.8" y="2157.9" font-size="16" text-anchor="end" fill="#111" stroke="#111" stroke-width="0.45" textLength="17.4" lengthAdjust="spacingAndGlyphs">10</text>
<text x="1168.8" y="2127.2" font-size="16" text-anchor="end" fill="#111" stroke="#111" stroke-width="0.45" textLength="17.4" lengthAdjust="spacingAndGlyphs">12</text>
<text x="1168.8" y="2096.5" font-size="16" text-anchor="end" fill="#111" stroke="#111" stroke-width="0.45" textLength="17.4" lengthAdjust="spacingAndGlyphs">14</text>
<text x="1168.8" y="2065.9" font-size="16" text-anchor="end" fill="#111" stroke="#111" stroke-width="0.45" textLength="17.4" lengthAdjust="spacingAndGlyphs">16</text>
<text x="1168.8" y="2035.2" font-size="16" text-anchor="end" fill="#111" stroke="#111" stroke-width="0.45" textLength="17.4" lengthAdjust="spacingAndGlyphs">18</text>
<text x="1168.8" y="2004.5" font-size="16" text-anchor="end" fill="#111" stroke="#111" stroke-width="0.45" textLength="17.4" lengthAdjust="spacingAndGlyphs">20</text>
<text x="1145.9" y="2145.7" font-size="20.5" text-anchor="middle" fill="#111" stroke="#111" stroke-width="0.4" transform="rotate(-90 1145.9 2145.7)" textLength="116" lengthAdjust="spacingAndGlyphs">Intensity(%)</text>
<text x="1193.8" y="2334.1" font-size="15" text-anchor="middle" fill="#111" stroke="#111" stroke-width="0.5" textLength="12.5" lengthAdjust="spacingAndGlyphs">10</text>
<text x="1399.5" y="2334.1" font-size="15" text-anchor="middle" fill="#111" stroke="#111" stroke-width="0.5" textLength="18" lengthAdjust="spacingAndGlyphs">100</text>
<text x="1606.3" y="2334.1" font-size="15" text-anchor="middle" fill="#111" stroke="#111" stroke-width="0.5" textLength="23.5" lengthAdjust="spacingAndGlyphs">1000</text>
<text x="1412.8" y="2359.6" font-size="20.5" text-anchor="middle" fill="#111" stroke="#111" stroke-width="0.4" textLength="180.5" lengthAdjust="spacingAndGlyphs">3-P4 Diameter(nm)</text>
<rect x="1204.2" y="2009.5" width="176.2" height="20.3" fill="#fff" stroke="#000" stroke-width="2.6"/>
<rect x="1202.9" y="2008.2" width="35.3" height="22.9" fill="#000"/>
<rect x="1207.6" y="2014.2" width="27.3" height="10.1" fill="#fbb96f"/>
<text x="1245.8" y="2024.5" font-size="14.2" text-anchor="start" fill="#111" stroke="#111" stroke-width="0.42" textLength="132.3" lengthAdjust="spacingAndGlyphs">Diameter=104.80nm</text>
<text x="4.5" y="1672" font-size="65" text-anchor="start" fill="#000">D</text>
</svg>
</body></html>
